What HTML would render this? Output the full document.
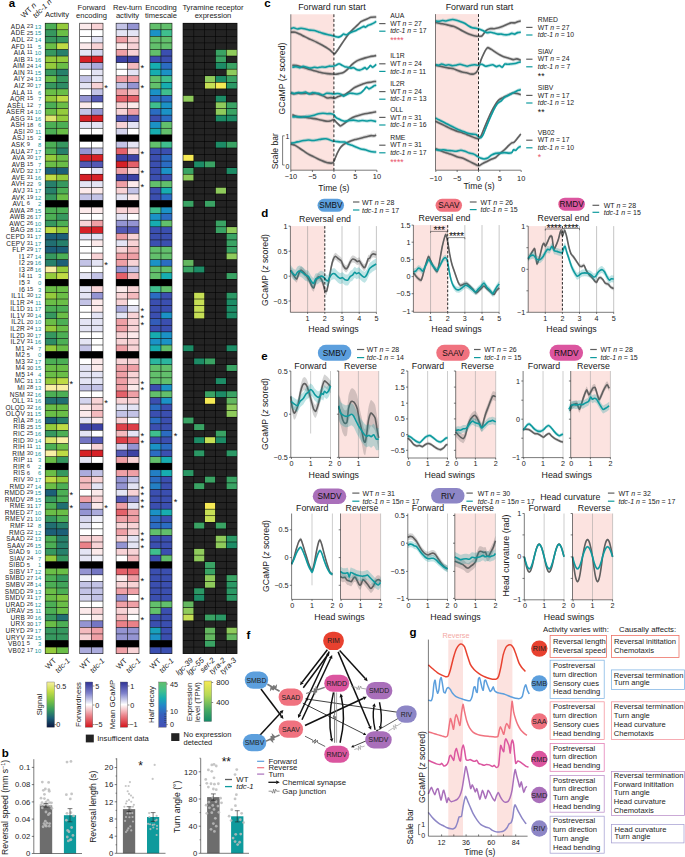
<!DOCTYPE html>
<html lang="en"><head><meta charset="utf-8"><title>Figure</title>
<style>
html,body{margin:0;padding:0;background:#fff;}
body{width:685px;height:857px;overflow:hidden;}
svg{display:block;font-family:"Liberation Sans", sans-serif;fill:#1a1a1a;}
svg text{font-family:"Liberation Sans", sans-serif;}
</style></head>
<body>
<svg width="685" height="857" viewBox="0 0 685 857">
<defs>
<linearGradient id="cbA" x1="0" y1="0" x2="0" y2="1"><stop offset="0" stop-color="#f6f0a0"/><stop offset="0.2" stop-color="#c8dd48"/><stop offset="0.4" stop-color="#7ec442"/><stop offset="0.6" stop-color="#3a9f5d"/><stop offset="0.8" stop-color="#1c5f78"/><stop offset="1" stop-color="#0a1640"/></linearGradient>
<linearGradient id="cbF" x1="0" y1="0" x2="0" y2="1"><stop offset="0" stop-color="#2f3296"/><stop offset="0.25" stop-color="#7f82cc"/><stop offset="0.5" stop-color="#ffffff"/><stop offset="0.75" stop-color="#ea8088"/><stop offset="1" stop-color="#d4161d"/></linearGradient>
<linearGradient id="cbR" x1="0" y1="0" x2="0" y2="1"><stop offset="0" stop-color="#2f3296"/><stop offset="0.25" stop-color="#7f82cc"/><stop offset="0.5" stop-color="#ffffff"/><stop offset="0.75" stop-color="#ea8088"/><stop offset="1" stop-color="#d4161d"/></linearGradient>
<linearGradient id="cbT" x1="0" y1="0" x2="0" y2="1"><stop offset="0" stop-color="#62c06c"/><stop offset="0.2" stop-color="#3fbf8e"/><stop offset="0.36" stop-color="#17adb0"/><stop offset="0.52" stop-color="#2386c8"/><stop offset="0.72" stop-color="#3560bd"/><stop offset="1" stop-color="#4450b4"/></linearGradient>
<linearGradient id="cbY" x1="0" y1="0" x2="0" y2="1"><stop offset="0" stop-color="#f6ea55"/><stop offset="0.35" stop-color="#b5d956"/><stop offset="0.7" stop-color="#4aab62"/><stop offset="1" stop-color="#138a68"/></linearGradient>
</defs>
<rect x="0" y="0" width="685" height="857" fill="#ffffff"/>
<text x="8.8" y="6.5" font-size="11.5" fill="#000" font-weight="bold">a</text>
<text x="24" y="18.6" font-size="7.7" transform="rotate(-45 24 18.6)">WT <tspan font-style="italic">n</tspan></text>
<text x="35.8" y="18.6" font-size="7.6" transform="rotate(-45 35.8 18.6)"><tspan font-style="italic">tdc-1 n</tspan></text>
<text x="57" y="17.3" font-size="7.6" text-anchor="middle">Activity</text>
<text x="91.5" y="9.8" font-size="7.6" text-anchor="middle">Forward</text>
<text x="91.5" y="17.8" font-size="7.6" text-anchor="middle">encoding</text>
<text x="127.5" y="9.8" font-size="7.6" text-anchor="middle">Rev-turn</text>
<text x="127.5" y="17.8" font-size="7.6" text-anchor="middle">activity</text>
<text x="161" y="9.8" font-size="7.6" text-anchor="middle">Encoding</text>
<text x="161" y="17.8" font-size="7.6" text-anchor="middle">timescale</text>
<text x="213" y="9.8" font-size="7.6" text-anchor="middle">Tyramine receptor</text>
<text x="213" y="17.8" font-size="7.6" text-anchor="middle">expression</text>
<rect x="44.9" y="22.9" width="23.7" height="631.03" fill="#141414"/>
<rect x="79.4" y="22.9" width="23.9" height="631.03" fill="#141414"/>
<rect x="115.8" y="22.9" width="23.5" height="631.03" fill="#141414"/>
<rect x="149.6" y="22.9" width="22.7" height="631.03" fill="#141414"/>
<rect x="182.7" y="22.9" width="54.7" height="631.03" fill="#060606"/>
<text x="25.1" y="28.85" font-size="6.5" text-anchor="end" fill="#222" letter-spacing="0.3">ADA</text>
<text x="26.8" y="28.15" font-size="5.8" fill="#333">23</text>
<text x="41.3" y="28.85" font-size="5.8" text-anchor="end" fill="#0e9aa0">13</text>
<rect x="45.5" y="23.5" width="10.95" height="5.97" fill="#4caf55"/>
<rect x="57.05" y="23.5" width="10.95" height="5.97" fill="#94cb3c"/>
<rect x="80" y="23.5" width="11.05" height="5.97" fill="#fceaeb"/>
<rect x="91.65" y="23.5" width="11.05" height="5.97" fill="#f8d3d6"/>
<rect x="116.4" y="23.5" width="10.85" height="5.97" fill="#c3c3e6"/>
<rect x="127.85" y="23.5" width="10.85" height="5.97" fill="#9494d2"/>
<rect x="150.2" y="23.5" width="10.45" height="5.97" fill="#62c06c"/>
<rect x="161.25" y="23.5" width="10.45" height="5.97" fill="#62c06c"/>
<rect x="183.3" y="23.5" width="10.22" height="5.97" fill="#232323"/>
<rect x="194.12" y="23.5" width="10.22" height="5.97" fill="#232323"/>
<rect x="204.94" y="23.5" width="10.22" height="5.97" fill="#232323"/>
<rect x="215.76" y="23.5" width="10.22" height="5.97" fill="#232323"/>
<rect x="226.58" y="23.5" width="10.22" height="5.97" fill="#232323"/>
<text x="25.1" y="35.41" font-size="6.5" text-anchor="end" fill="#222" letter-spacing="0.3">ADE</text>
<text x="26.8" y="34.71" font-size="5.8" fill="#333">25</text>
<text x="41.3" y="35.41" font-size="5.8" text-anchor="end" fill="#0e9aa0">15</text>
<rect x="45.5" y="30.07" width="10.95" height="5.97" fill="#36985f"/>
<rect x="57.05" y="30.07" width="10.95" height="5.97" fill="#6abe47"/>
<rect x="80" y="30.07" width="11.05" height="5.97" fill="#ffffff"/>
<rect x="91.65" y="30.07" width="11.05" height="5.97" fill="#ffffff"/>
<rect x="116.4" y="30.07" width="10.85" height="5.97" fill="#e4e4f4"/>
<rect x="127.85" y="30.07" width="10.85" height="5.97" fill="#e4e4f4"/>
<rect x="150.2" y="30.07" width="10.45" height="5.97" fill="#1b92c6"/>
<rect x="161.25" y="30.07" width="10.45" height="5.97" fill="#3fbf8e"/>
<rect x="183.3" y="30.07" width="10.22" height="5.97" fill="#232323"/>
<rect x="194.12" y="30.07" width="10.22" height="5.97" fill="#232323"/>
<rect x="204.94" y="30.07" width="10.22" height="5.97" fill="#232323"/>
<rect x="215.76" y="30.07" width="10.22" height="5.97" fill="#232323"/>
<rect x="226.58" y="30.07" width="10.22" height="5.97" fill="#232323"/>
<text x="25.1" y="41.98" font-size="6.5" text-anchor="end" fill="#222" letter-spacing="0.3">ADL</text>
<text x="26.8" y="41.28" font-size="5.8" fill="#333">22</text>
<text x="41.3" y="41.98" font-size="5.8" text-anchor="end" fill="#0e9aa0">14</text>
<rect x="45.5" y="36.63" width="10.95" height="5.97" fill="#36985f"/>
<rect x="57.05" y="36.63" width="10.95" height="5.97" fill="#36985f"/>
<rect x="80" y="36.63" width="11.05" height="5.97" fill="#ffffff"/>
<rect x="91.65" y="36.63" width="11.05" height="5.97" fill="#e4e4f4"/>
<rect x="116.4" y="36.63" width="10.85" height="5.97" fill="#efa0a6"/>
<rect x="127.85" y="36.63" width="10.85" height="5.97" fill="#f8d3d6"/>
<rect x="150.2" y="36.63" width="10.45" height="5.97" fill="#62c06c"/>
<rect x="161.25" y="36.63" width="10.45" height="5.97" fill="#62c06c"/>
<rect x="183.3" y="36.63" width="10.22" height="5.97" fill="#232323"/>
<rect x="194.12" y="36.63" width="10.22" height="5.97" fill="#232323"/>
<rect x="204.94" y="36.63" width="10.22" height="5.97" fill="#232323"/>
<rect x="215.76" y="36.63" width="10.22" height="5.97" fill="#232323"/>
<rect x="226.58" y="36.63" width="10.22" height="5.97" fill="#232323"/>
<text x="25.1" y="48.55" font-size="6.5" text-anchor="end" fill="#222" letter-spacing="0.3">AFD</text>
<text x="26.8" y="47.85" font-size="5.8" fill="#333">11</text>
<text x="41.3" y="48.55" font-size="5.8" text-anchor="end" fill="#0e9aa0">5</text>
<rect x="45.5" y="43.2" width="10.95" height="5.97" fill="#6abe47"/>
<rect x="57.05" y="43.2" width="10.95" height="5.97" fill="#bfdb45"/>
<rect x="80" y="43.2" width="11.05" height="5.97" fill="#fceaeb"/>
<rect x="91.65" y="43.2" width="11.05" height="5.97" fill="#f8d3d6"/>
<rect x="116.4" y="43.2" width="10.85" height="5.97" fill="#fceaeb"/>
<rect x="127.85" y="43.2" width="10.85" height="5.97" fill="#f8d3d6"/>
<rect x="150.2" y="43.2" width="10.45" height="5.97" fill="#62c06c"/>
<rect x="161.25" y="43.2" width="10.45" height="5.97" fill="#62c06c"/>
<rect x="183.3" y="43.2" width="10.22" height="5.97" fill="#232323"/>
<rect x="194.12" y="43.2" width="10.22" height="5.97" fill="#232323"/>
<rect x="204.94" y="43.2" width="10.22" height="5.97" fill="#232323"/>
<rect x="215.76" y="43.2" width="10.22" height="5.97" fill="#232323"/>
<rect x="226.58" y="43.2" width="10.22" height="5.97" fill="#232323"/>
<text x="25.1" y="55.12" font-size="6.5" text-anchor="end" fill="#222" letter-spacing="0.3">AIA</text>
<text x="26.8" y="54.42" font-size="5.8" fill="#333">11</text>
<text x="41.3" y="55.12" font-size="5.8" text-anchor="end" fill="#0e9aa0">10</text>
<rect x="45.5" y="49.77" width="10.95" height="5.97" fill="#36985f"/>
<rect x="57.05" y="49.77" width="10.95" height="5.97" fill="#27806b"/>
<rect x="80" y="49.77" width="11.05" height="5.97" fill="#e4e4f4"/>
<rect x="91.65" y="49.77" width="11.05" height="5.97" fill="#d4d4ed"/>
<rect x="116.4" y="49.77" width="10.85" height="5.97" fill="#efa0a6"/>
<rect x="127.85" y="49.77" width="10.85" height="5.97" fill="#f8d3d6"/>
<rect x="150.2" y="49.77" width="10.45" height="5.97" fill="#62c06c"/>
<rect x="161.25" y="49.77" width="10.45" height="5.97" fill="#3b4fb0"/>
<rect x="183.3" y="49.77" width="10.22" height="5.97" fill="#232323"/>
<rect x="194.12" y="49.77" width="10.22" height="5.97" fill="#232323"/>
<rect x="204.94" y="49.77" width="10.22" height="5.97" fill="#232323"/>
<rect x="215.76" y="49.77" width="10.22" height="5.97" fill="#3aa364"/>
<rect x="226.58" y="49.77" width="10.22" height="5.97" fill="#8fcb5c"/>
<text x="25.1" y="61.68" font-size="6.5" text-anchor="end" fill="#222" letter-spacing="0.3">AIB</text>
<text x="26.8" y="60.98" font-size="5.8" fill="#333">31</text>
<text x="41.3" y="61.68" font-size="5.8" text-anchor="end" fill="#0e9aa0">16</text>
<rect x="45.5" y="56.33" width="10.95" height="5.97" fill="#94cb3c"/>
<rect x="57.05" y="56.33" width="10.95" height="5.97" fill="#94cb3c"/>
<rect x="80" y="56.33" width="11.05" height="5.97" fill="#d62027"/>
<rect x="91.65" y="56.33" width="11.05" height="5.97" fill="#d62027"/>
<rect x="116.4" y="56.33" width="10.85" height="5.97" fill="#3d42a4"/>
<rect x="127.85" y="56.33" width="10.85" height="5.97" fill="#3d42a4"/>
<rect x="150.2" y="56.33" width="10.45" height="5.97" fill="#3b4fb0"/>
<rect x="161.25" y="56.33" width="10.45" height="5.97" fill="#3b4fb0"/>
<rect x="183.3" y="56.33" width="10.22" height="5.97" fill="#232323"/>
<rect x="194.12" y="56.33" width="10.22" height="5.97" fill="#232323"/>
<rect x="204.94" y="56.33" width="10.22" height="5.97" fill="#232323"/>
<rect x="215.76" y="56.33" width="10.22" height="5.97" fill="#3aa364"/>
<rect x="226.58" y="56.33" width="10.22" height="5.97" fill="#232323"/>
<text x="25.1" y="68.25" font-size="6.5" text-anchor="end" fill="#222" letter-spacing="0.3">AIM</text>
<text x="26.8" y="67.55" font-size="5.8" fill="#333">24</text>
<text x="41.3" y="68.25" font-size="5.8" text-anchor="end" fill="#0e9aa0">14</text>
<rect x="45.5" y="62.9" width="10.95" height="5.97" fill="#94cb3c"/>
<rect x="57.05" y="62.9" width="10.95" height="5.97" fill="#6abe47"/>
<rect x="80" y="62.9" width="11.05" height="5.97" fill="#c3c3e6"/>
<rect x="91.65" y="62.9" width="11.05" height="5.97" fill="#ababdc"/>
<rect x="116.4" y="62.9" width="10.85" height="5.97" fill="#ffffff"/>
<rect x="127.85" y="62.9" width="10.85" height="5.97" fill="#f4babe"/>
<rect x="150.2" y="62.9" width="10.45" height="5.97" fill="#17adb0"/>
<rect x="161.25" y="62.9" width="10.45" height="5.97" fill="#2b6cc2"/>
<rect x="183.3" y="62.9" width="10.22" height="5.97" fill="#232323"/>
<rect x="194.12" y="62.9" width="10.22" height="5.97" fill="#232323"/>
<rect x="204.94" y="62.9" width="10.22" height="5.97" fill="#232323"/>
<rect x="215.76" y="62.9" width="10.22" height="5.97" fill="#1d8c66"/>
<rect x="226.58" y="62.9" width="10.22" height="5.97" fill="#3aa364"/>
<text x="25.1" y="74.82" font-size="6.5" text-anchor="end" fill="#222" letter-spacing="0.3">AIN</text>
<text x="26.8" y="74.12" font-size="5.8" fill="#333">31</text>
<text x="41.3" y="74.82" font-size="5.8" text-anchor="end" fill="#0e9aa0">15</text>
<rect x="45.5" y="69.47" width="10.95" height="5.97" fill="#36985f"/>
<rect x="57.05" y="69.47" width="10.95" height="5.97" fill="#27806b"/>
<rect x="80" y="69.47" width="11.05" height="5.97" fill="#ffffff"/>
<rect x="91.65" y="69.47" width="11.05" height="5.97" fill="#e4e4f4"/>
<rect x="116.4" y="69.47" width="10.85" height="5.97" fill="#ffffff"/>
<rect x="127.85" y="69.47" width="10.85" height="5.97" fill="#e4e4f4"/>
<rect x="150.2" y="69.47" width="10.45" height="5.97" fill="#17adb0"/>
<rect x="161.25" y="69.47" width="10.45" height="5.97" fill="#1b92c6"/>
<rect x="183.3" y="69.47" width="10.22" height="5.97" fill="#232323"/>
<rect x="194.12" y="69.47" width="10.22" height="5.97" fill="#232323"/>
<rect x="204.94" y="69.47" width="10.22" height="5.97" fill="#232323"/>
<rect x="215.76" y="69.47" width="10.22" height="5.97" fill="#232323"/>
<rect x="226.58" y="69.47" width="10.22" height="5.97" fill="#8fcb5c"/>
<text x="25.1" y="81.38" font-size="6.5" text-anchor="end" fill="#222" letter-spacing="0.3">AIY</text>
<text x="26.8" y="80.68" font-size="5.8" fill="#333">24</text>
<text x="41.3" y="81.38" font-size="5.8" text-anchor="end" fill="#0e9aa0">13</text>
<rect x="45.5" y="76.04" width="10.95" height="5.97" fill="#6abe47"/>
<rect x="57.05" y="76.04" width="10.95" height="5.97" fill="#36985f"/>
<rect x="80" y="76.04" width="11.05" height="5.97" fill="#c3c3e6"/>
<rect x="91.65" y="76.04" width="11.05" height="5.97" fill="#e4e4f4"/>
<rect x="116.4" y="76.04" width="10.85" height="5.97" fill="#efa0a6"/>
<rect x="127.85" y="76.04" width="10.85" height="5.97" fill="#efa0a6"/>
<rect x="150.2" y="76.04" width="10.45" height="5.97" fill="#62c06c"/>
<rect x="161.25" y="76.04" width="10.45" height="5.97" fill="#3fbf8e"/>
<rect x="183.3" y="76.04" width="10.22" height="5.97" fill="#232323"/>
<rect x="194.12" y="76.04" width="10.22" height="5.97" fill="#232323"/>
<rect x="204.94" y="76.04" width="10.22" height="5.97" fill="#8fcb5c"/>
<rect x="215.76" y="76.04" width="10.22" height="5.97" fill="#1d8c66"/>
<rect x="226.58" y="76.04" width="10.22" height="5.97" fill="#3aa364"/>
<text x="25.1" y="87.95" font-size="6.5" text-anchor="end" fill="#222" letter-spacing="0.3">AIZ</text>
<text x="26.8" y="87.25" font-size="5.8" fill="#333">30</text>
<text x="41.3" y="87.95" font-size="5.8" text-anchor="end" fill="#0e9aa0">17</text>
<rect x="45.5" y="82.6" width="10.95" height="5.97" fill="#36985f"/>
<rect x="57.05" y="82.6" width="10.95" height="5.97" fill="#2e8c65"/>
<rect x="80" y="82.6" width="11.05" height="5.97" fill="#e4e4f4"/>
<rect x="91.65" y="82.6" width="11.05" height="5.97" fill="#f8d3d6"/>
<rect x="116.4" y="82.6" width="10.85" height="5.97" fill="#c3c3e6"/>
<rect x="127.85" y="82.6" width="10.85" height="5.97" fill="#9494d2"/>
<rect x="150.2" y="82.6" width="10.45" height="5.97" fill="#62c06c"/>
<rect x="161.25" y="82.6" width="10.45" height="5.97" fill="#17adb0"/>
<rect x="183.3" y="82.6" width="10.22" height="5.97" fill="#232323"/>
<rect x="194.12" y="82.6" width="10.22" height="5.97" fill="#232323"/>
<rect x="204.94" y="82.6" width="10.22" height="5.97" fill="#c6df55"/>
<rect x="215.76" y="82.6" width="10.22" height="5.97" fill="#f6ea55"/>
<rect x="226.58" y="82.6" width="10.22" height="5.97" fill="#2b9865"/>
<text x="25.1" y="94.52" font-size="6.5" text-anchor="end" fill="#222" letter-spacing="0.3">ALA</text>
<text x="26.8" y="93.82" font-size="5.8" fill="#333">11</text>
<text x="41.3" y="94.52" font-size="5.8" text-anchor="end" fill="#0e9aa0">6</text>
<rect x="45.5" y="89.17" width="10.95" height="5.97" fill="#6abe47"/>
<rect x="57.05" y="89.17" width="10.95" height="5.97" fill="#6abe47"/>
<rect x="80" y="89.17" width="11.05" height="5.97" fill="#ffffff"/>
<rect x="91.65" y="89.17" width="11.05" height="5.97" fill="#c3c3e6"/>
<rect x="116.4" y="89.17" width="10.85" height="5.97" fill="#efa0a6"/>
<rect x="127.85" y="89.17" width="10.85" height="5.97" fill="#f4babe"/>
<rect x="150.2" y="89.17" width="10.45" height="5.97" fill="#1b92c6"/>
<rect x="161.25" y="89.17" width="10.45" height="5.97" fill="#3fbf8e"/>
<rect x="183.3" y="89.17" width="10.22" height="5.97" fill="#232323"/>
<rect x="194.12" y="89.17" width="10.22" height="5.97" fill="#232323"/>
<rect x="204.94" y="89.17" width="10.22" height="5.97" fill="#232323"/>
<rect x="215.76" y="89.17" width="10.22" height="5.97" fill="#232323"/>
<rect x="226.58" y="89.17" width="10.22" height="5.97" fill="#232323"/>
<text x="25.1" y="101.08" font-size="6.5" text-anchor="end" fill="#222" letter-spacing="0.3">AQR</text>
<text x="26.8" y="100.38" font-size="5.8" fill="#333">15</text>
<text x="41.3" y="101.08" font-size="5.8" text-anchor="end" fill="#0e9aa0">7</text>
<rect x="45.5" y="95.74" width="10.95" height="5.97" fill="#94cb3c"/>
<rect x="57.05" y="95.74" width="10.95" height="5.97" fill="#bfdb45"/>
<rect x="80" y="95.74" width="11.05" height="5.97" fill="#9494d2"/>
<rect x="91.65" y="95.74" width="11.05" height="5.97" fill="#5458b4"/>
<rect x="116.4" y="95.74" width="10.85" height="5.97" fill="#e4616a"/>
<rect x="127.85" y="95.74" width="10.85" height="5.97" fill="#e4616a"/>
<rect x="150.2" y="95.74" width="10.45" height="5.97" fill="#2b6cc2"/>
<rect x="161.25" y="95.74" width="10.45" height="5.97" fill="#2b6cc2"/>
<rect x="183.3" y="95.74" width="10.22" height="5.97" fill="#8fcb5c"/>
<rect x="194.12" y="95.74" width="10.22" height="5.97" fill="#232323"/>
<rect x="204.94" y="95.74" width="10.22" height="5.97" fill="#232323"/>
<rect x="215.76" y="95.74" width="10.22" height="5.97" fill="#1d8c66"/>
<rect x="226.58" y="95.74" width="10.22" height="5.97" fill="#232323"/>
<text x="25.1" y="107.65" font-size="6.5" text-anchor="end" fill="#222" letter-spacing="0.3">ASEL</text>
<text x="26.8" y="106.95" font-size="5.8" fill="#333">12</text>
<text x="41.3" y="107.65" font-size="5.8" text-anchor="end" fill="#0e9aa0">7</text>
<rect x="45.5" y="102.3" width="10.95" height="5.97" fill="#4caf55"/>
<rect x="57.05" y="102.3" width="10.95" height="5.97" fill="#6abe47"/>
<rect x="80" y="102.3" width="11.05" height="5.97" fill="#fceaeb"/>
<rect x="91.65" y="102.3" width="11.05" height="5.97" fill="#ffffff"/>
<rect x="116.4" y="102.3" width="10.85" height="5.97" fill="#f8d3d6"/>
<rect x="127.85" y="102.3" width="10.85" height="5.97" fill="#fceaeb"/>
<rect x="150.2" y="102.3" width="10.45" height="5.97" fill="#3fbf8e"/>
<rect x="161.25" y="102.3" width="10.45" height="5.97" fill="#1b92c6"/>
<rect x="183.3" y="102.3" width="10.22" height="5.97" fill="#232323"/>
<rect x="194.12" y="102.3" width="10.22" height="5.97" fill="#232323"/>
<rect x="204.94" y="102.3" width="10.22" height="5.97" fill="#232323"/>
<rect x="215.76" y="102.3" width="10.22" height="5.97" fill="#8fcb5c"/>
<rect x="226.58" y="102.3" width="10.22" height="5.97" fill="#3aa364"/>
<text x="25.1" y="114.22" font-size="6.5" text-anchor="end" fill="#222" letter-spacing="0.3">ASER</text>
<text x="26.8" y="113.52" font-size="5.8" fill="#333">14</text>
<text x="41.3" y="114.22" font-size="5.8" text-anchor="end" fill="#0e9aa0">10</text>
<rect x="45.5" y="108.87" width="10.95" height="5.97" fill="#6abe47"/>
<rect x="57.05" y="108.87" width="10.95" height="5.97" fill="#94cb3c"/>
<rect x="80" y="108.87" width="11.05" height="5.97" fill="#c3c3e6"/>
<rect x="91.65" y="108.87" width="11.05" height="5.97" fill="#9494d2"/>
<rect x="116.4" y="108.87" width="10.85" height="5.97" fill="#f8d3d6"/>
<rect x="127.85" y="108.87" width="10.85" height="5.97" fill="#efa0a6"/>
<rect x="150.2" y="108.87" width="10.45" height="5.97" fill="#2b6cc2"/>
<rect x="161.25" y="108.87" width="10.45" height="5.97" fill="#1b92c6"/>
<rect x="183.3" y="108.87" width="10.22" height="5.97" fill="#232323"/>
<rect x="194.12" y="108.87" width="10.22" height="5.97" fill="#232323"/>
<rect x="204.94" y="108.87" width="10.22" height="5.97" fill="#232323"/>
<rect x="215.76" y="108.87" width="10.22" height="5.97" fill="#8fcb5c"/>
<rect x="226.58" y="108.87" width="10.22" height="5.97" fill="#3aa364"/>
<text x="25.1" y="120.79" font-size="6.5" text-anchor="end" fill="#222" letter-spacing="0.3">ASG</text>
<text x="26.8" y="120.09" font-size="5.8" fill="#333">31</text>
<text x="41.3" y="120.79" font-size="5.8" text-anchor="end" fill="#0e9aa0">16</text>
<rect x="45.5" y="115.44" width="10.95" height="5.97" fill="#dde66f"/>
<rect x="57.05" y="115.44" width="10.95" height="5.97" fill="#94cb3c"/>
<rect x="80" y="115.44" width="11.05" height="5.97" fill="#d62027"/>
<rect x="91.65" y="115.44" width="11.05" height="5.97" fill="#d62027"/>
<rect x="116.4" y="115.44" width="10.85" height="5.97" fill="#5458b4"/>
<rect x="127.85" y="115.44" width="10.85" height="5.97" fill="#5458b4"/>
<rect x="150.2" y="115.44" width="10.45" height="5.97" fill="#3b4fb0"/>
<rect x="161.25" y="115.44" width="10.45" height="5.97" fill="#2b6cc2"/>
<rect x="183.3" y="115.44" width="10.22" height="5.97" fill="#232323"/>
<rect x="194.12" y="115.44" width="10.22" height="5.97" fill="#232323"/>
<rect x="204.94" y="115.44" width="10.22" height="5.97" fill="#232323"/>
<rect x="215.76" y="115.44" width="10.22" height="5.97" fill="#1d8c66"/>
<rect x="226.58" y="115.44" width="10.22" height="5.97" fill="#1d8c66"/>
<text x="25.1" y="127.35" font-size="6.5" text-anchor="end" fill="#222" letter-spacing="0.3">ASH</text>
<text x="26.8" y="126.65" font-size="5.8" fill="#333">18</text>
<text x="41.3" y="127.35" font-size="5.8" text-anchor="end" fill="#0e9aa0">6</text>
<rect x="45.5" y="122" width="10.95" height="5.97" fill="#4caf55"/>
<rect x="57.05" y="122" width="10.95" height="5.97" fill="#4caf55"/>
<rect x="80" y="122" width="11.05" height="5.97" fill="#e4e4f4"/>
<rect x="91.65" y="122" width="11.05" height="5.97" fill="#e4e4f4"/>
<rect x="116.4" y="122" width="10.85" height="5.97" fill="#f8d3d6"/>
<rect x="127.85" y="122" width="10.85" height="5.97" fill="#e4e4f4"/>
<rect x="150.2" y="122" width="10.45" height="5.97" fill="#1b92c6"/>
<rect x="161.25" y="122" width="10.45" height="5.97" fill="#62c06c"/>
<rect x="183.3" y="122" width="10.22" height="5.97" fill="#232323"/>
<rect x="194.12" y="122" width="10.22" height="5.97" fill="#232323"/>
<rect x="204.94" y="122" width="10.22" height="5.97" fill="#232323"/>
<rect x="215.76" y="122" width="10.22" height="5.97" fill="#232323"/>
<rect x="226.58" y="122" width="10.22" height="5.97" fill="#232323"/>
<text x="25.1" y="133.92" font-size="6.5" text-anchor="end" fill="#222" letter-spacing="0.3">ASI</text>
<text x="26.8" y="133.22" font-size="5.8" fill="#333">20</text>
<text x="41.3" y="133.92" font-size="5.8" text-anchor="end" fill="#0e9aa0">11</text>
<rect x="45.5" y="128.57" width="10.95" height="5.97" fill="#4caf55"/>
<rect x="57.05" y="128.57" width="10.95" height="5.97" fill="#6abe47"/>
<rect x="80" y="128.57" width="11.05" height="5.97" fill="#ffffff"/>
<rect x="91.65" y="128.57" width="11.05" height="5.97" fill="#ffffff"/>
<rect x="116.4" y="128.57" width="10.85" height="5.97" fill="#d4d4ed"/>
<rect x="127.85" y="128.57" width="10.85" height="5.97" fill="#ffffff"/>
<rect x="150.2" y="128.57" width="10.45" height="5.97" fill="#17adb0"/>
<rect x="161.25" y="128.57" width="10.45" height="5.97" fill="#62c06c"/>
<rect x="183.3" y="128.57" width="10.22" height="5.97" fill="#232323"/>
<rect x="194.12" y="128.57" width="10.22" height="5.97" fill="#232323"/>
<rect x="204.94" y="128.57" width="10.22" height="5.97" fill="#232323"/>
<rect x="215.76" y="128.57" width="10.22" height="5.97" fill="#232323"/>
<rect x="226.58" y="128.57" width="10.22" height="5.97" fill="#232323"/>
<text x="25.1" y="140.49" font-size="6.5" text-anchor="end" fill="#222" letter-spacing="0.3">ASJ</text>
<text x="26.8" y="139.79" font-size="5.8" fill="#333">15</text>
<text x="41.3" y="140.49" font-size="5.8" text-anchor="end" fill="#0e9aa0">2</text>
<rect x="45.2" y="134.84" width="23.1" height="6.57" fill="#000"/>
<rect x="79.7" y="134.84" width="23.3" height="6.57" fill="#000"/>
<rect x="116.1" y="134.84" width="22.9" height="6.57" fill="#000"/>
<rect x="149.9" y="134.84" width="22.1" height="6.57" fill="#000"/>
<rect x="183.3" y="135.14" width="10.22" height="5.97" fill="#232323"/>
<rect x="194.12" y="135.14" width="10.22" height="5.97" fill="#232323"/>
<rect x="204.94" y="135.14" width="10.22" height="5.97" fill="#232323"/>
<rect x="215.76" y="135.14" width="10.22" height="5.97" fill="#232323"/>
<rect x="226.58" y="135.14" width="10.22" height="5.97" fill="#232323"/>
<text x="25.1" y="147.05" font-size="6.5" text-anchor="end" fill="#222" letter-spacing="0.3">ASK</text>
<text x="26.8" y="146.35" font-size="5.8" fill="#333">9</text>
<text x="41.3" y="147.05" font-size="5.8" text-anchor="end" fill="#0e9aa0">8</text>
<rect x="45.5" y="141.71" width="10.95" height="5.97" fill="#4caf55"/>
<rect x="57.05" y="141.71" width="10.95" height="5.97" fill="#36985f"/>
<rect x="80" y="141.71" width="11.05" height="5.97" fill="#ffffff"/>
<rect x="91.65" y="141.71" width="11.05" height="5.97" fill="#ffffff"/>
<rect x="116.4" y="141.71" width="10.85" height="5.97" fill="#c3c3e6"/>
<rect x="127.85" y="141.71" width="10.85" height="5.97" fill="#e4e4f4"/>
<rect x="150.2" y="141.71" width="10.45" height="5.97" fill="#62c06c"/>
<rect x="161.25" y="141.71" width="10.45" height="5.97" fill="#3fbf8e"/>
<rect x="183.3" y="141.71" width="10.22" height="5.97" fill="#232323"/>
<rect x="194.12" y="141.71" width="10.22" height="5.97" fill="#232323"/>
<rect x="204.94" y="141.71" width="10.22" height="5.97" fill="#232323"/>
<rect x="215.76" y="141.71" width="10.22" height="5.97" fill="#1d8c66"/>
<rect x="226.58" y="141.71" width="10.22" height="5.97" fill="#3aa364"/>
<text x="25.1" y="153.62" font-size="6.5" text-anchor="end" fill="#222" letter-spacing="0.3">AUA</text>
<text x="26.8" y="152.92" font-size="5.8" fill="#333">27</text>
<text x="41.3" y="153.62" font-size="5.8" text-anchor="end" fill="#0e9aa0">17</text>
<rect x="45.5" y="148.27" width="10.95" height="5.97" fill="#4caf55"/>
<rect x="57.05" y="148.27" width="10.95" height="5.97" fill="#27806b"/>
<rect x="80" y="148.27" width="11.05" height="5.97" fill="#9494d2"/>
<rect x="91.65" y="148.27" width="11.05" height="5.97" fill="#c3c3e6"/>
<rect x="116.4" y="148.27" width="10.85" height="5.97" fill="#e4616a"/>
<rect x="127.85" y="148.27" width="10.85" height="5.97" fill="#f8d3d6"/>
<rect x="150.2" y="148.27" width="10.45" height="5.97" fill="#3b4fb0"/>
<rect x="161.25" y="148.27" width="10.45" height="5.97" fill="#3b4fb0"/>
<rect x="183.3" y="148.27" width="10.22" height="5.97" fill="#232323"/>
<rect x="194.12" y="148.27" width="10.22" height="5.97" fill="#232323"/>
<rect x="204.94" y="148.27" width="10.22" height="5.97" fill="#232323"/>
<rect x="215.76" y="148.27" width="10.22" height="5.97" fill="#232323"/>
<rect x="226.58" y="148.27" width="10.22" height="5.97" fill="#232323"/>
<text x="25.1" y="160.19" font-size="6.5" text-anchor="end" fill="#222" letter-spacing="0.3">AVA</text>
<text x="26.8" y="159.49" font-size="5.8" fill="#333">30</text>
<text x="41.3" y="160.19" font-size="5.8" text-anchor="end" fill="#0e9aa0">17</text>
<rect x="45.5" y="154.84" width="10.95" height="5.97" fill="#94cb3c"/>
<rect x="57.05" y="154.84" width="10.95" height="5.97" fill="#6abe47"/>
<rect x="80" y="154.84" width="11.05" height="5.97" fill="#d62027"/>
<rect x="91.65" y="154.84" width="11.05" height="5.97" fill="#d62027"/>
<rect x="116.4" y="154.84" width="10.85" height="5.97" fill="#3d42a4"/>
<rect x="127.85" y="154.84" width="10.85" height="5.97" fill="#3d42a4"/>
<rect x="150.2" y="154.84" width="10.45" height="5.97" fill="#3b4fb0"/>
<rect x="161.25" y="154.84" width="10.45" height="5.97" fill="#2b6cc2"/>
<rect x="183.3" y="154.84" width="10.22" height="5.97" fill="#f6ea55"/>
<rect x="194.12" y="154.84" width="10.22" height="5.97" fill="#232323"/>
<rect x="204.94" y="154.84" width="10.22" height="5.97" fill="#232323"/>
<rect x="215.76" y="154.84" width="10.22" height="5.97" fill="#232323"/>
<rect x="226.58" y="154.84" width="10.22" height="5.97" fill="#232323"/>
<text x="25.1" y="166.75" font-size="6.5" text-anchor="end" fill="#222" letter-spacing="0.3">AVB</text>
<text x="26.8" y="166.05" font-size="5.8" fill="#333">15</text>
<text x="41.3" y="166.75" font-size="5.8" text-anchor="end" fill="#0e9aa0">7</text>
<rect x="45.5" y="161.41" width="10.95" height="5.97" fill="#6abe47"/>
<rect x="57.05" y="161.41" width="10.95" height="5.97" fill="#6abe47"/>
<rect x="80" y="161.41" width="11.05" height="5.97" fill="#5458b4"/>
<rect x="91.65" y="161.41" width="11.05" height="5.97" fill="#5458b4"/>
<rect x="116.4" y="161.41" width="10.85" height="5.97" fill="#d62027"/>
<rect x="127.85" y="161.41" width="10.85" height="5.97" fill="#e4616a"/>
<rect x="150.2" y="161.41" width="10.45" height="5.97" fill="#3b4fb0"/>
<rect x="161.25" y="161.41" width="10.45" height="5.97" fill="#2b6cc2"/>
<rect x="183.3" y="161.41" width="10.22" height="5.97" fill="#232323"/>
<rect x="194.12" y="161.41" width="10.22" height="5.97" fill="#1d8c66"/>
<rect x="204.94" y="161.41" width="10.22" height="5.97" fill="#3aa364"/>
<rect x="215.76" y="161.41" width="10.22" height="5.97" fill="#232323"/>
<rect x="226.58" y="161.41" width="10.22" height="5.97" fill="#232323"/>
<text x="25.1" y="173.32" font-size="6.5" text-anchor="end" fill="#222" letter-spacing="0.3">AVD</text>
<text x="26.8" y="172.62" font-size="5.8" fill="#333">32</text>
<text x="41.3" y="173.32" font-size="5.8" text-anchor="end" fill="#0e9aa0">17</text>
<rect x="45.5" y="167.97" width="10.95" height="5.97" fill="#1c5f78"/>
<rect x="57.05" y="167.97" width="10.95" height="5.97" fill="#1c5f78"/>
<rect x="80" y="167.97" width="11.05" height="5.97" fill="#ffffff"/>
<rect x="91.65" y="167.97" width="11.05" height="5.97" fill="#e4e4f4"/>
<rect x="116.4" y="167.97" width="10.85" height="5.97" fill="#efa0a6"/>
<rect x="127.85" y="167.97" width="10.85" height="5.97" fill="#f8d3d6"/>
<rect x="150.2" y="167.97" width="10.45" height="5.97" fill="#3b4fb0"/>
<rect x="161.25" y="167.97" width="10.45" height="5.97" fill="#1b92c6"/>
<rect x="183.3" y="167.97" width="10.22" height="5.97" fill="#3aa364"/>
<rect x="194.12" y="167.97" width="10.22" height="5.97" fill="#232323"/>
<rect x="204.94" y="167.97" width="10.22" height="5.97" fill="#232323"/>
<rect x="215.76" y="167.97" width="10.22" height="5.97" fill="#232323"/>
<rect x="226.58" y="167.97" width="10.22" height="5.97" fill="#1d8c66"/>
<text x="25.1" y="179.89" font-size="6.5" text-anchor="end" fill="#222" letter-spacing="0.3">AVE</text>
<text x="26.8" y="179.19" font-size="5.8" fill="#333">31</text>
<text x="41.3" y="179.89" font-size="5.8" text-anchor="end" fill="#0e9aa0">16</text>
<rect x="45.5" y="174.54" width="10.95" height="5.97" fill="#bfdb45"/>
<rect x="57.05" y="174.54" width="10.95" height="5.97" fill="#94cb3c"/>
<rect x="80" y="174.54" width="11.05" height="5.97" fill="#d62027"/>
<rect x="91.65" y="174.54" width="11.05" height="5.97" fill="#d62027"/>
<rect x="116.4" y="174.54" width="10.85" height="5.97" fill="#3d42a4"/>
<rect x="127.85" y="174.54" width="10.85" height="5.97" fill="#3d42a4"/>
<rect x="150.2" y="174.54" width="10.45" height="5.97" fill="#3b4fb0"/>
<rect x="161.25" y="174.54" width="10.45" height="5.97" fill="#3b4fb0"/>
<rect x="183.3" y="174.54" width="10.22" height="5.97" fill="#8fcb5c"/>
<rect x="194.12" y="174.54" width="10.22" height="5.97" fill="#232323"/>
<rect x="204.94" y="174.54" width="10.22" height="5.97" fill="#232323"/>
<rect x="215.76" y="174.54" width="10.22" height="5.97" fill="#232323"/>
<rect x="226.58" y="174.54" width="10.22" height="5.97" fill="#232323"/>
<text x="25.1" y="186.46" font-size="6.5" text-anchor="end" fill="#222" letter-spacing="0.3">AVH</text>
<text x="26.8" y="185.76" font-size="5.8" fill="#333">22</text>
<text x="41.3" y="186.46" font-size="5.8" text-anchor="end" fill="#0e9aa0">9</text>
<rect x="45.5" y="181.11" width="10.95" height="5.97" fill="#27806b"/>
<rect x="57.05" y="181.11" width="10.95" height="5.97" fill="#36985f"/>
<rect x="80" y="181.11" width="11.05" height="5.97" fill="#e4e4f4"/>
<rect x="91.65" y="181.11" width="11.05" height="5.97" fill="#e4e4f4"/>
<rect x="116.4" y="181.11" width="10.85" height="5.97" fill="#efa0a6"/>
<rect x="127.85" y="181.11" width="10.85" height="5.97" fill="#fceaeb"/>
<rect x="150.2" y="181.11" width="10.45" height="5.97" fill="#62c06c"/>
<rect x="161.25" y="181.11" width="10.45" height="5.97" fill="#62c06c"/>
<rect x="183.3" y="181.11" width="10.22" height="5.97" fill="#232323"/>
<rect x="194.12" y="181.11" width="10.22" height="5.97" fill="#232323"/>
<rect x="204.94" y="181.11" width="10.22" height="5.97" fill="#232323"/>
<rect x="215.76" y="181.11" width="10.22" height="5.97" fill="#232323"/>
<rect x="226.58" y="181.11" width="10.22" height="5.97" fill="#232323"/>
<text x="25.1" y="193.02" font-size="6.5" text-anchor="end" fill="#222" letter-spacing="0.3">AVJ</text>
<text x="26.8" y="192.32" font-size="5.8" fill="#333">31</text>
<text x="41.3" y="193.02" font-size="5.8" text-anchor="end" fill="#0e9aa0">17</text>
<rect x="45.5" y="187.68" width="10.95" height="5.97" fill="#27806b"/>
<rect x="57.05" y="187.68" width="10.95" height="5.97" fill="#4caf55"/>
<rect x="80" y="187.68" width="11.05" height="5.97" fill="#fceaeb"/>
<rect x="91.65" y="187.68" width="11.05" height="5.97" fill="#fceaeb"/>
<rect x="116.4" y="187.68" width="10.85" height="5.97" fill="#f8d3d6"/>
<rect x="127.85" y="187.68" width="10.85" height="5.97" fill="#c3c3e6"/>
<rect x="150.2" y="187.68" width="10.45" height="5.97" fill="#3b4fb0"/>
<rect x="161.25" y="187.68" width="10.45" height="5.97" fill="#17adb0"/>
<rect x="183.3" y="187.68" width="10.22" height="5.97" fill="#232323"/>
<rect x="194.12" y="187.68" width="10.22" height="5.97" fill="#232323"/>
<rect x="204.94" y="187.68" width="10.22" height="5.97" fill="#232323"/>
<rect x="215.76" y="187.68" width="10.22" height="5.97" fill="#8fcb5c"/>
<rect x="226.58" y="187.68" width="10.22" height="5.97" fill="#232323"/>
<text x="25.1" y="199.59" font-size="6.5" text-anchor="end" fill="#222" letter-spacing="0.3">AVK</text>
<text x="26.8" y="198.89" font-size="5.8" fill="#333">19</text>
<text x="41.3" y="199.59" font-size="5.8" text-anchor="end" fill="#0e9aa0">12</text>
<rect x="45.5" y="194.24" width="10.95" height="5.97" fill="#36985f"/>
<rect x="57.05" y="194.24" width="10.95" height="5.97" fill="#6abe47"/>
<rect x="80" y="194.24" width="11.05" height="5.97" fill="#c3c3e6"/>
<rect x="91.65" y="194.24" width="11.05" height="5.97" fill="#c3c3e6"/>
<rect x="116.4" y="194.24" width="10.85" height="5.97" fill="#e4e4f4"/>
<rect x="127.85" y="194.24" width="10.85" height="5.97" fill="#fceaeb"/>
<rect x="150.2" y="194.24" width="10.45" height="5.97" fill="#3b4fb0"/>
<rect x="161.25" y="194.24" width="10.45" height="5.97" fill="#2b6cc2"/>
<rect x="183.3" y="194.24" width="10.22" height="5.97" fill="#232323"/>
<rect x="194.12" y="194.24" width="10.22" height="5.97" fill="#232323"/>
<rect x="204.94" y="194.24" width="10.22" height="5.97" fill="#232323"/>
<rect x="215.76" y="194.24" width="10.22" height="5.97" fill="#232323"/>
<rect x="226.58" y="194.24" width="10.22" height="5.97" fill="#232323"/>
<text x="25.1" y="206.16" font-size="6.5" text-anchor="end" fill="#222" letter-spacing="0.3">AVL</text>
<text x="26.8" y="205.46" font-size="5.8" fill="#333">6</text>
<text x="41.3" y="206.16" font-size="5.8" text-anchor="end" fill="#0e9aa0">2</text>
<rect x="45.2" y="200.51" width="23.1" height="6.57" fill="#000"/>
<rect x="79.7" y="200.51" width="23.3" height="6.57" fill="#000"/>
<rect x="116.1" y="200.51" width="22.9" height="6.57" fill="#000"/>
<rect x="149.9" y="200.51" width="22.1" height="6.57" fill="#000"/>
<rect x="183.3" y="200.81" width="10.22" height="5.97" fill="#3aa364"/>
<rect x="194.12" y="200.81" width="10.22" height="5.97" fill="#232323"/>
<rect x="204.94" y="200.81" width="10.22" height="5.97" fill="#3aa364"/>
<rect x="215.76" y="200.81" width="10.22" height="5.97" fill="#232323"/>
<rect x="226.58" y="200.81" width="10.22" height="5.97" fill="#232323"/>
<text x="25.1" y="212.72" font-size="6.5" text-anchor="end" fill="#222" letter-spacing="0.3">AWA</text>
<text x="26.8" y="212.02" font-size="5.8" fill="#333">28</text>
<text x="41.3" y="212.72" font-size="5.8" text-anchor="end" fill="#0e9aa0">15</text>
<rect x="45.5" y="207.38" width="10.95" height="5.97" fill="#4caf55"/>
<rect x="57.05" y="207.38" width="10.95" height="5.97" fill="#4caf55"/>
<rect x="80" y="207.38" width="11.05" height="5.97" fill="#fceaeb"/>
<rect x="91.65" y="207.38" width="11.05" height="5.97" fill="#fceaeb"/>
<rect x="116.4" y="207.38" width="10.85" height="5.97" fill="#f8d3d6"/>
<rect x="127.85" y="207.38" width="10.85" height="5.97" fill="#f8d3d6"/>
<rect x="150.2" y="207.38" width="10.45" height="5.97" fill="#3fbf8e"/>
<rect x="161.25" y="207.38" width="10.45" height="5.97" fill="#1b92c6"/>
<rect x="183.3" y="207.38" width="10.22" height="5.97" fill="#232323"/>
<rect x="194.12" y="207.38" width="10.22" height="5.97" fill="#232323"/>
<rect x="204.94" y="207.38" width="10.22" height="5.97" fill="#232323"/>
<rect x="215.76" y="207.38" width="10.22" height="5.97" fill="#232323"/>
<rect x="226.58" y="207.38" width="10.22" height="5.97" fill="#232323"/>
<text x="25.1" y="219.29" font-size="6.5" text-anchor="end" fill="#222" letter-spacing="0.3">AWB</text>
<text x="26.8" y="218.59" font-size="5.8" fill="#333">26</text>
<text x="41.3" y="219.29" font-size="5.8" text-anchor="end" fill="#0e9aa0">17</text>
<rect x="45.5" y="213.94" width="10.95" height="5.97" fill="#4caf55"/>
<rect x="57.05" y="213.94" width="10.95" height="5.97" fill="#36985f"/>
<rect x="80" y="213.94" width="11.05" height="5.97" fill="#ffffff"/>
<rect x="91.65" y="213.94" width="11.05" height="5.97" fill="#ffffff"/>
<rect x="116.4" y="213.94" width="10.85" height="5.97" fill="#e4e4f4"/>
<rect x="127.85" y="213.94" width="10.85" height="5.97" fill="#ffffff"/>
<rect x="150.2" y="213.94" width="10.45" height="5.97" fill="#1b92c6"/>
<rect x="161.25" y="213.94" width="10.45" height="5.97" fill="#2b6cc2"/>
<rect x="183.3" y="213.94" width="10.22" height="5.97" fill="#232323"/>
<rect x="194.12" y="213.94" width="10.22" height="5.97" fill="#232323"/>
<rect x="204.94" y="213.94" width="10.22" height="5.97" fill="#232323"/>
<rect x="215.76" y="213.94" width="10.22" height="5.97" fill="#232323"/>
<rect x="226.58" y="213.94" width="10.22" height="5.97" fill="#232323"/>
<text x="25.1" y="225.86" font-size="6.5" text-anchor="end" fill="#222" letter-spacing="0.3">AWC</text>
<text x="26.8" y="225.16" font-size="5.8" fill="#333">26</text>
<text x="41.3" y="225.86" font-size="5.8" text-anchor="end" fill="#0e9aa0">10</text>
<rect x="45.5" y="220.51" width="10.95" height="5.97" fill="#36985f"/>
<rect x="57.05" y="220.51" width="10.95" height="5.97" fill="#4caf55"/>
<rect x="80" y="220.51" width="11.05" height="5.97" fill="#f8d3d6"/>
<rect x="91.65" y="220.51" width="11.05" height="5.97" fill="#efa0a6"/>
<rect x="116.4" y="220.51" width="10.85" height="5.97" fill="#9494d2"/>
<rect x="127.85" y="220.51" width="10.85" height="5.97" fill="#9494d2"/>
<rect x="150.2" y="220.51" width="10.45" height="5.97" fill="#17adb0"/>
<rect x="161.25" y="220.51" width="10.45" height="5.97" fill="#62c06c"/>
<rect x="183.3" y="220.51" width="10.22" height="5.97" fill="#232323"/>
<rect x="194.12" y="220.51" width="10.22" height="5.97" fill="#232323"/>
<rect x="204.94" y="220.51" width="10.22" height="5.97" fill="#232323"/>
<rect x="215.76" y="220.51" width="10.22" height="5.97" fill="#3aa364"/>
<rect x="226.58" y="220.51" width="10.22" height="5.97" fill="#232323"/>
<text x="25.1" y="232.42" font-size="6.5" text-anchor="end" fill="#222" letter-spacing="0.3">BAG</text>
<text x="26.8" y="231.72" font-size="5.8" fill="#333">28</text>
<text x="41.3" y="232.42" font-size="5.8" text-anchor="end" fill="#0e9aa0">12</text>
<rect x="45.5" y="227.08" width="10.95" height="5.97" fill="#bfdb45"/>
<rect x="57.05" y="227.08" width="10.95" height="5.97" fill="#94cb3c"/>
<rect x="80" y="227.08" width="11.05" height="5.97" fill="#d62027"/>
<rect x="91.65" y="227.08" width="11.05" height="5.97" fill="#d62027"/>
<rect x="116.4" y="227.08" width="10.85" height="5.97" fill="#5458b4"/>
<rect x="127.85" y="227.08" width="10.85" height="5.97" fill="#5458b4"/>
<rect x="150.2" y="227.08" width="10.45" height="5.97" fill="#3b4fb0"/>
<rect x="161.25" y="227.08" width="10.45" height="5.97" fill="#3b4fb0"/>
<rect x="183.3" y="227.08" width="10.22" height="5.97" fill="#232323"/>
<rect x="194.12" y="227.08" width="10.22" height="5.97" fill="#232323"/>
<rect x="204.94" y="227.08" width="10.22" height="5.97" fill="#232323"/>
<rect x="215.76" y="227.08" width="10.22" height="5.97" fill="#3aa364"/>
<rect x="226.58" y="227.08" width="10.22" height="5.97" fill="#8fcb5c"/>
<text x="25.1" y="238.99" font-size="6.5" text-anchor="end" fill="#222" letter-spacing="0.3">CEPD</text>
<text x="26.8" y="238.29" font-size="5.8" fill="#333">31</text>
<text x="41.3" y="238.99" font-size="5.8" text-anchor="end" fill="#0e9aa0">17</text>
<rect x="45.5" y="233.64" width="10.95" height="5.97" fill="#1c5f78"/>
<rect x="57.05" y="233.64" width="10.95" height="5.97" fill="#1c5f78"/>
<rect x="80" y="233.64" width="11.05" height="5.97" fill="#e4e4f4"/>
<rect x="91.65" y="233.64" width="11.05" height="5.97" fill="#e4e4f4"/>
<rect x="116.4" y="233.64" width="10.85" height="5.97" fill="#efa0a6"/>
<rect x="127.85" y="233.64" width="10.85" height="5.97" fill="#f8d3d6"/>
<rect x="150.2" y="233.64" width="10.45" height="5.97" fill="#3b4fb0"/>
<rect x="161.25" y="233.64" width="10.45" height="5.97" fill="#3b4fb0"/>
<rect x="183.3" y="233.64" width="10.22" height="5.97" fill="#232323"/>
<rect x="194.12" y="233.64" width="10.22" height="5.97" fill="#232323"/>
<rect x="204.94" y="233.64" width="10.22" height="5.97" fill="#232323"/>
<rect x="215.76" y="233.64" width="10.22" height="5.97" fill="#232323"/>
<rect x="226.58" y="233.64" width="10.22" height="5.97" fill="#3aa364"/>
<text x="25.1" y="245.56" font-size="6.5" text-anchor="end" fill="#222" letter-spacing="0.3">CEPV</text>
<text x="26.8" y="244.86" font-size="5.8" fill="#333">31</text>
<text x="41.3" y="245.56" font-size="5.8" text-anchor="end" fill="#0e9aa0">17</text>
<rect x="45.5" y="240.21" width="10.95" height="5.97" fill="#216f72"/>
<rect x="57.05" y="240.21" width="10.95" height="5.97" fill="#27806b"/>
<rect x="80" y="240.21" width="11.05" height="5.97" fill="#ffffff"/>
<rect x="91.65" y="240.21" width="11.05" height="5.97" fill="#fceaeb"/>
<rect x="116.4" y="240.21" width="10.85" height="5.97" fill="#e4e4f4"/>
<rect x="127.85" y="240.21" width="10.85" height="5.97" fill="#f8d3d6"/>
<rect x="150.2" y="240.21" width="10.45" height="5.97" fill="#3b4fb0"/>
<rect x="161.25" y="240.21" width="10.45" height="5.97" fill="#3b4fb0"/>
<rect x="183.3" y="240.21" width="10.22" height="5.97" fill="#232323"/>
<rect x="194.12" y="240.21" width="10.22" height="5.97" fill="#232323"/>
<rect x="204.94" y="240.21" width="10.22" height="5.97" fill="#232323"/>
<rect x="215.76" y="240.21" width="10.22" height="5.97" fill="#232323"/>
<rect x="226.58" y="240.21" width="10.22" height="5.97" fill="#3aa364"/>
<text x="25.1" y="252.13" font-size="6.5" text-anchor="end" fill="#222" letter-spacing="0.3">FLP</text>
<text x="26.8" y="251.43" font-size="5.8" fill="#333">29</text>
<text x="41.3" y="252.13" font-size="5.8" text-anchor="end" fill="#0e9aa0">17</text>
<rect x="45.5" y="246.78" width="10.95" height="5.97" fill="#1c5f78"/>
<rect x="57.05" y="246.78" width="10.95" height="5.97" fill="#1c5f78"/>
<rect x="80" y="246.78" width="11.05" height="5.97" fill="#ffffff"/>
<rect x="91.65" y="246.78" width="11.05" height="5.97" fill="#ffffff"/>
<rect x="116.4" y="246.78" width="10.85" height="5.97" fill="#f8d3d6"/>
<rect x="127.85" y="246.78" width="10.85" height="5.97" fill="#f4babe"/>
<rect x="150.2" y="246.78" width="10.45" height="5.97" fill="#62c06c"/>
<rect x="161.25" y="246.78" width="10.45" height="5.97" fill="#62c06c"/>
<rect x="183.3" y="246.78" width="10.22" height="5.97" fill="#232323"/>
<rect x="194.12" y="246.78" width="10.22" height="5.97" fill="#232323"/>
<rect x="204.94" y="246.78" width="10.22" height="5.97" fill="#232323"/>
<rect x="215.76" y="246.78" width="10.22" height="5.97" fill="#232323"/>
<rect x="226.58" y="246.78" width="10.22" height="5.97" fill="#3aa364"/>
<text x="25.1" y="258.69" font-size="6.5" text-anchor="end" fill="#222" letter-spacing="0.3">I1</text>
<text x="26.8" y="257.99" font-size="5.8" fill="#333">27</text>
<text x="41.3" y="258.69" font-size="5.8" text-anchor="end" fill="#0e9aa0">14</text>
<rect x="45.5" y="253.34" width="10.95" height="5.97" fill="#36985f"/>
<rect x="57.05" y="253.34" width="10.95" height="5.97" fill="#4caf55"/>
<rect x="80" y="253.34" width="11.05" height="5.97" fill="#ffffff"/>
<rect x="91.65" y="253.34" width="11.05" height="5.97" fill="#f8d3d6"/>
<rect x="116.4" y="253.34" width="10.85" height="5.97" fill="#efa0a6"/>
<rect x="127.85" y="253.34" width="10.85" height="5.97" fill="#efa0a6"/>
<rect x="150.2" y="253.34" width="10.45" height="5.97" fill="#62c06c"/>
<rect x="161.25" y="253.34" width="10.45" height="5.97" fill="#62c06c"/>
<rect x="183.3" y="253.34" width="10.22" height="5.97" fill="#232323"/>
<rect x="194.12" y="253.34" width="10.22" height="5.97" fill="#232323"/>
<rect x="204.94" y="253.34" width="10.22" height="5.97" fill="#232323"/>
<rect x="215.76" y="253.34" width="10.22" height="5.97" fill="#232323"/>
<rect x="226.58" y="253.34" width="10.22" height="5.97" fill="#8fcb5c"/>
<text x="25.1" y="265.26" font-size="6.5" text-anchor="end" fill="#222" letter-spacing="0.3">I2</text>
<text x="26.8" y="264.56" font-size="5.8" fill="#333">29</text>
<text x="41.3" y="265.26" font-size="5.8" text-anchor="end" fill="#0e9aa0">16</text>
<rect x="45.5" y="259.91" width="10.95" height="5.97" fill="#27806b"/>
<rect x="57.05" y="259.91" width="10.95" height="5.97" fill="#1c5f78"/>
<rect x="80" y="259.91" width="11.05" height="5.97" fill="#c3c3e6"/>
<rect x="91.65" y="259.91" width="11.05" height="5.97" fill="#e4e4f4"/>
<rect x="116.4" y="259.91" width="10.85" height="5.97" fill="#efa0a6"/>
<rect x="127.85" y="259.91" width="10.85" height="5.97" fill="#f8d3d6"/>
<rect x="150.2" y="259.91" width="10.45" height="5.97" fill="#1b92c6"/>
<rect x="161.25" y="259.91" width="10.45" height="5.97" fill="#2b6cc2"/>
<rect x="183.3" y="259.91" width="10.22" height="5.97" fill="#64b760"/>
<rect x="194.12" y="259.91" width="10.22" height="5.97" fill="#232323"/>
<rect x="204.94" y="259.91" width="10.22" height="5.97" fill="#232323"/>
<rect x="215.76" y="259.91" width="10.22" height="5.97" fill="#232323"/>
<rect x="226.58" y="259.91" width="10.22" height="5.97" fill="#232323"/>
<text x="25.1" y="271.83" font-size="6.5" text-anchor="end" fill="#222" letter-spacing="0.3">I3</text>
<text x="26.8" y="271.13" font-size="5.8" fill="#333">28</text>
<text x="41.3" y="271.83" font-size="5.8" text-anchor="end" fill="#0e9aa0">16</text>
<rect x="45.5" y="266.48" width="10.95" height="5.97" fill="#f9efa6"/>
<rect x="57.05" y="266.48" width="10.95" height="5.97" fill="#94cb3c"/>
<rect x="80" y="266.48" width="11.05" height="5.97" fill="#ffffff"/>
<rect x="91.65" y="266.48" width="11.05" height="5.97" fill="#ffffff"/>
<rect x="116.4" y="266.48" width="10.85" height="5.97" fill="#9494d2"/>
<rect x="127.85" y="266.48" width="10.85" height="5.97" fill="#c3c3e6"/>
<rect x="150.2" y="266.48" width="10.45" height="5.97" fill="#62c06c"/>
<rect x="161.25" y="266.48" width="10.45" height="5.97" fill="#62c06c"/>
<rect x="183.3" y="266.48" width="10.22" height="5.97" fill="#3aa364"/>
<rect x="194.12" y="266.48" width="10.22" height="5.97" fill="#1d8c66"/>
<rect x="204.94" y="266.48" width="10.22" height="5.97" fill="#232323"/>
<rect x="215.76" y="266.48" width="10.22" height="5.97" fill="#232323"/>
<rect x="226.58" y="266.48" width="10.22" height="5.97" fill="#232323"/>
<text x="25.1" y="278.39" font-size="6.5" text-anchor="end" fill="#222" letter-spacing="0.3">I4</text>
<text x="26.8" y="277.69" font-size="5.8" fill="#333">11</text>
<text x="41.3" y="278.39" font-size="5.8" text-anchor="end" fill="#0e9aa0">3</text>
<rect x="45.5" y="273.05" width="10.95" height="5.97" fill="#94cb3c"/>
<rect x="57.05" y="273.05" width="10.95" height="5.97" fill="#bfdb45"/>
<rect x="80" y="273.05" width="11.05" height="5.97" fill="#e4e4f4"/>
<rect x="91.65" y="273.05" width="11.05" height="5.97" fill="#c3c3e6"/>
<rect x="116.4" y="273.05" width="10.85" height="5.97" fill="#e4616a"/>
<rect x="127.85" y="273.05" width="10.85" height="5.97" fill="#f4babe"/>
<rect x="150.2" y="273.05" width="10.45" height="5.97" fill="#62c06c"/>
<rect x="161.25" y="273.05" width="10.45" height="5.97" fill="#17adb0"/>
<rect x="183.3" y="273.05" width="10.22" height="5.97" fill="#232323"/>
<rect x="194.12" y="273.05" width="10.22" height="5.97" fill="#232323"/>
<rect x="204.94" y="273.05" width="10.22" height="5.97" fill="#232323"/>
<rect x="215.76" y="273.05" width="10.22" height="5.97" fill="#232323"/>
<rect x="226.58" y="273.05" width="10.22" height="5.97" fill="#3aa364"/>
<text x="25.1" y="284.96" font-size="6.5" text-anchor="end" fill="#222" letter-spacing="0.3">I5</text>
<text x="26.8" y="284.26" font-size="5.8" fill="#333">3</text>
<text x="41.3" y="284.96" font-size="5.8" text-anchor="end" fill="#0e9aa0">0</text>
<rect x="45.2" y="279.31" width="23.1" height="6.57" fill="#000"/>
<rect x="79.7" y="279.31" width="23.3" height="6.57" fill="#000"/>
<rect x="116.1" y="279.31" width="22.9" height="6.57" fill="#000"/>
<rect x="149.9" y="279.31" width="22.1" height="6.57" fill="#000"/>
<rect x="183.3" y="279.61" width="10.22" height="5.97" fill="#232323"/>
<rect x="194.12" y="279.61" width="10.22" height="5.97" fill="#232323"/>
<rect x="204.94" y="279.61" width="10.22" height="5.97" fill="#232323"/>
<rect x="215.76" y="279.61" width="10.22" height="5.97" fill="#232323"/>
<rect x="226.58" y="279.61" width="10.22" height="5.97" fill="#232323"/>
<text x="25.1" y="291.53" font-size="6.5" text-anchor="end" fill="#222" letter-spacing="0.3">I6</text>
<text x="26.8" y="290.83" font-size="5.8" fill="#333">15</text>
<text x="41.3" y="291.53" font-size="5.8" text-anchor="end" fill="#0e9aa0">3</text>
<rect x="45.5" y="286.18" width="10.95" height="5.97" fill="#6abe47"/>
<rect x="57.05" y="286.18" width="10.95" height="5.97" fill="#6abe47"/>
<rect x="80" y="286.18" width="11.05" height="5.97" fill="#e4e4f4"/>
<rect x="91.65" y="286.18" width="11.05" height="5.97" fill="#f8d3d6"/>
<rect x="116.4" y="286.18" width="10.85" height="5.97" fill="#fceaeb"/>
<rect x="127.85" y="286.18" width="10.85" height="5.97" fill="#f8d3d6"/>
<rect x="150.2" y="286.18" width="10.45" height="5.97" fill="#3fbf8e"/>
<rect x="161.25" y="286.18" width="10.45" height="5.97" fill="#62c06c"/>
<rect x="183.3" y="286.18" width="10.22" height="5.97" fill="#232323"/>
<rect x="194.12" y="286.18" width="10.22" height="5.97" fill="#232323"/>
<rect x="204.94" y="286.18" width="10.22" height="5.97" fill="#232323"/>
<rect x="215.76" y="286.18" width="10.22" height="5.97" fill="#232323"/>
<rect x="226.58" y="286.18" width="10.22" height="5.97" fill="#232323"/>
<text x="25.1" y="298.09" font-size="6.5" text-anchor="end" fill="#222" letter-spacing="0.3">IL1L</text>
<text x="26.8" y="297.39" font-size="5.8" fill="#333">30</text>
<text x="41.3" y="298.09" font-size="5.8" text-anchor="end" fill="#0e9aa0">12</text>
<rect x="45.5" y="292.75" width="10.95" height="5.97" fill="#94cb3c"/>
<rect x="57.05" y="292.75" width="10.95" height="5.97" fill="#6abe47"/>
<rect x="80" y="292.75" width="11.05" height="5.97" fill="#e4e4f4"/>
<rect x="91.65" y="292.75" width="11.05" height="5.97" fill="#9494d2"/>
<rect x="116.4" y="292.75" width="10.85" height="5.97" fill="#f8d3d6"/>
<rect x="127.85" y="292.75" width="10.85" height="5.97" fill="#f4babe"/>
<rect x="150.2" y="292.75" width="10.45" height="5.97" fill="#2b6cc2"/>
<rect x="161.25" y="292.75" width="10.45" height="5.97" fill="#3b4fb0"/>
<rect x="183.3" y="292.75" width="10.22" height="5.97" fill="#232323"/>
<rect x="194.12" y="292.75" width="10.22" height="5.97" fill="#c6df55"/>
<rect x="204.94" y="292.75" width="10.22" height="5.97" fill="#232323"/>
<rect x="215.76" y="292.75" width="10.22" height="5.97" fill="#232323"/>
<rect x="226.58" y="292.75" width="10.22" height="5.97" fill="#2b9865"/>
<text x="25.1" y="304.66" font-size="6.5" text-anchor="end" fill="#222" letter-spacing="0.3">IL1R</text>
<text x="26.8" y="303.96" font-size="5.8" fill="#333">24</text>
<text x="41.3" y="304.66" font-size="5.8" text-anchor="end" fill="#0e9aa0">11</text>
<rect x="45.5" y="299.31" width="10.95" height="5.97" fill="#6abe47"/>
<rect x="57.05" y="299.31" width="10.95" height="5.97" fill="#6abe47"/>
<rect x="80" y="299.31" width="11.05" height="5.97" fill="#c3c3e6"/>
<rect x="91.65" y="299.31" width="11.05" height="5.97" fill="#fceaeb"/>
<rect x="116.4" y="299.31" width="10.85" height="5.97" fill="#f8d3d6"/>
<rect x="127.85" y="299.31" width="10.85" height="5.97" fill="#ffffff"/>
<rect x="150.2" y="299.31" width="10.45" height="5.97" fill="#3b4fb0"/>
<rect x="161.25" y="299.31" width="10.45" height="5.97" fill="#3b4fb0"/>
<rect x="183.3" y="299.31" width="10.22" height="5.97" fill="#232323"/>
<rect x="194.12" y="299.31" width="10.22" height="5.97" fill="#c6df55"/>
<rect x="204.94" y="299.31" width="10.22" height="5.97" fill="#232323"/>
<rect x="215.76" y="299.31" width="10.22" height="5.97" fill="#232323"/>
<rect x="226.58" y="299.31" width="10.22" height="5.97" fill="#1d8c66"/>
<text x="25.1" y="311.23" font-size="6.5" text-anchor="end" fill="#222" letter-spacing="0.3">IL1D</text>
<text x="26.8" y="310.53" font-size="5.8" fill="#333">31</text>
<text x="41.3" y="311.23" font-size="5.8" text-anchor="end" fill="#0e9aa0">17</text>
<rect x="45.5" y="305.88" width="10.95" height="5.97" fill="#4caf55"/>
<rect x="57.05" y="305.88" width="10.95" height="5.97" fill="#4caf55"/>
<rect x="80" y="305.88" width="11.05" height="5.97" fill="#ffffff"/>
<rect x="91.65" y="305.88" width="11.05" height="5.97" fill="#fceaeb"/>
<rect x="116.4" y="305.88" width="10.85" height="5.97" fill="#ababdc"/>
<rect x="127.85" y="305.88" width="10.85" height="5.97" fill="#e4e4f4"/>
<rect x="150.2" y="305.88" width="10.45" height="5.97" fill="#3b4fb0"/>
<rect x="161.25" y="305.88" width="10.45" height="5.97" fill="#3b4fb0"/>
<rect x="183.3" y="305.88" width="10.22" height="5.97" fill="#232323"/>
<rect x="194.12" y="305.88" width="10.22" height="5.97" fill="#c6df55"/>
<rect x="204.94" y="305.88" width="10.22" height="5.97" fill="#232323"/>
<rect x="215.76" y="305.88" width="10.22" height="5.97" fill="#232323"/>
<rect x="226.58" y="305.88" width="10.22" height="5.97" fill="#1d8c66"/>
<text x="25.1" y="317.8" font-size="6.5" text-anchor="end" fill="#222" letter-spacing="0.3">IL1V</text>
<text x="26.8" y="317.1" font-size="5.8" fill="#333">30</text>
<text x="41.3" y="317.8" font-size="5.8" text-anchor="end" fill="#0e9aa0">14</text>
<rect x="45.5" y="312.45" width="10.95" height="5.97" fill="#36985f"/>
<rect x="57.05" y="312.45" width="10.95" height="5.97" fill="#6abe47"/>
<rect x="80" y="312.45" width="11.05" height="5.97" fill="#ffffff"/>
<rect x="91.65" y="312.45" width="11.05" height="5.97" fill="#e4e4f4"/>
<rect x="116.4" y="312.45" width="10.85" height="5.97" fill="#e4e4f4"/>
<rect x="127.85" y="312.45" width="10.85" height="5.97" fill="#f8d3d6"/>
<rect x="150.2" y="312.45" width="10.45" height="5.97" fill="#3b4fb0"/>
<rect x="161.25" y="312.45" width="10.45" height="5.97" fill="#1b92c6"/>
<rect x="183.3" y="312.45" width="10.22" height="5.97" fill="#232323"/>
<rect x="194.12" y="312.45" width="10.22" height="5.97" fill="#c6df55"/>
<rect x="204.94" y="312.45" width="10.22" height="5.97" fill="#232323"/>
<rect x="215.76" y="312.45" width="10.22" height="5.97" fill="#232323"/>
<rect x="226.58" y="312.45" width="10.22" height="5.97" fill="#1d8c66"/>
<text x="25.1" y="324.36" font-size="6.5" text-anchor="end" fill="#222" letter-spacing="0.3">IL2L</text>
<text x="26.8" y="323.66" font-size="5.8" fill="#333">20</text>
<text x="41.3" y="324.36" font-size="5.8" text-anchor="end" fill="#0e9aa0">10</text>
<rect x="45.5" y="319.01" width="10.95" height="5.97" fill="#6abe47"/>
<rect x="57.05" y="319.01" width="10.95" height="5.97" fill="#4caf55"/>
<rect x="80" y="319.01" width="11.05" height="5.97" fill="#e4e4f4"/>
<rect x="91.65" y="319.01" width="11.05" height="5.97" fill="#e4e4f4"/>
<rect x="116.4" y="319.01" width="10.85" height="5.97" fill="#efa0a6"/>
<rect x="127.85" y="319.01" width="10.85" height="5.97" fill="#f8d3d6"/>
<rect x="150.2" y="319.01" width="10.45" height="5.97" fill="#335dba"/>
<rect x="161.25" y="319.01" width="10.45" height="5.97" fill="#3b4fb0"/>
<rect x="183.3" y="319.01" width="10.22" height="5.97" fill="#232323"/>
<rect x="194.12" y="319.01" width="10.22" height="5.97" fill="#232323"/>
<rect x="204.94" y="319.01" width="10.22" height="5.97" fill="#232323"/>
<rect x="215.76" y="319.01" width="10.22" height="5.97" fill="#232323"/>
<rect x="226.58" y="319.01" width="10.22" height="5.97" fill="#232323"/>
<text x="25.1" y="330.93" font-size="6.5" text-anchor="end" fill="#222" letter-spacing="0.3">IL2R</text>
<text x="26.8" y="330.23" font-size="5.8" fill="#333">24</text>
<text x="41.3" y="330.93" font-size="5.8" text-anchor="end" fill="#0e9aa0">13</text>
<rect x="45.5" y="325.58" width="10.95" height="5.97" fill="#94cb3c"/>
<rect x="57.05" y="325.58" width="10.95" height="5.97" fill="#6abe47"/>
<rect x="80" y="325.58" width="11.05" height="5.97" fill="#e4e4f4"/>
<rect x="91.65" y="325.58" width="11.05" height="5.97" fill="#e4e4f4"/>
<rect x="116.4" y="325.58" width="10.85" height="5.97" fill="#efa0a6"/>
<rect x="127.85" y="325.58" width="10.85" height="5.97" fill="#f8d3d6"/>
<rect x="150.2" y="325.58" width="10.45" height="5.97" fill="#3b4fb0"/>
<rect x="161.25" y="325.58" width="10.45" height="5.97" fill="#3b4fb0"/>
<rect x="183.3" y="325.58" width="10.22" height="5.97" fill="#232323"/>
<rect x="194.12" y="325.58" width="10.22" height="5.97" fill="#232323"/>
<rect x="204.94" y="325.58" width="10.22" height="5.97" fill="#232323"/>
<rect x="215.76" y="325.58" width="10.22" height="5.97" fill="#232323"/>
<rect x="226.58" y="325.58" width="10.22" height="5.97" fill="#232323"/>
<text x="25.1" y="337.5" font-size="6.5" text-anchor="end" fill="#222" letter-spacing="0.3">IL2D</text>
<text x="26.8" y="336.8" font-size="5.8" fill="#333">30</text>
<text x="41.3" y="337.5" font-size="5.8" text-anchor="end" fill="#0e9aa0">17</text>
<rect x="45.5" y="332.15" width="10.95" height="5.97" fill="#36985f"/>
<rect x="57.05" y="332.15" width="10.95" height="5.97" fill="#4caf55"/>
<rect x="80" y="332.15" width="11.05" height="5.97" fill="#ffffff"/>
<rect x="91.65" y="332.15" width="11.05" height="5.97" fill="#ffffff"/>
<rect x="116.4" y="332.15" width="10.85" height="5.97" fill="#f8d3d6"/>
<rect x="127.85" y="332.15" width="10.85" height="5.97" fill="#fceaeb"/>
<rect x="150.2" y="332.15" width="10.45" height="5.97" fill="#17adb0"/>
<rect x="161.25" y="332.15" width="10.45" height="5.97" fill="#1b92c6"/>
<rect x="183.3" y="332.15" width="10.22" height="5.97" fill="#232323"/>
<rect x="194.12" y="332.15" width="10.22" height="5.97" fill="#232323"/>
<rect x="204.94" y="332.15" width="10.22" height="5.97" fill="#232323"/>
<rect x="215.76" y="332.15" width="10.22" height="5.97" fill="#232323"/>
<rect x="226.58" y="332.15" width="10.22" height="5.97" fill="#232323"/>
<text x="25.1" y="344.06" font-size="6.5" text-anchor="end" fill="#222" letter-spacing="0.3">IL2V</text>
<text x="26.8" y="343.36" font-size="5.8" fill="#333">31</text>
<text x="41.3" y="344.06" font-size="5.8" text-anchor="end" fill="#0e9aa0">16</text>
<rect x="45.5" y="338.72" width="10.95" height="5.97" fill="#2e8c65"/>
<rect x="57.05" y="338.72" width="10.95" height="5.97" fill="#4caf55"/>
<rect x="80" y="338.72" width="11.05" height="5.97" fill="#e4e4f4"/>
<rect x="91.65" y="338.72" width="11.05" height="5.97" fill="#ffffff"/>
<rect x="116.4" y="338.72" width="10.85" height="5.97" fill="#f8d3d6"/>
<rect x="127.85" y="338.72" width="10.85" height="5.97" fill="#f8d3d6"/>
<rect x="150.2" y="338.72" width="10.45" height="5.97" fill="#1b92c6"/>
<rect x="161.25" y="338.72" width="10.45" height="5.97" fill="#1b92c6"/>
<rect x="183.3" y="338.72" width="10.22" height="5.97" fill="#232323"/>
<rect x="194.12" y="338.72" width="10.22" height="5.97" fill="#232323"/>
<rect x="204.94" y="338.72" width="10.22" height="5.97" fill="#232323"/>
<rect x="215.76" y="338.72" width="10.22" height="5.97" fill="#232323"/>
<rect x="226.58" y="338.72" width="10.22" height="5.97" fill="#232323"/>
<text x="25.1" y="350.63" font-size="6.5" text-anchor="end" fill="#222" letter-spacing="0.3">M1</text>
<text x="26.8" y="349.93" font-size="5.8" fill="#333">24</text>
<text x="41.3" y="350.63" font-size="5.8" text-anchor="end" fill="#0e9aa0">7</text>
<rect x="45.5" y="345.28" width="10.95" height="5.97" fill="#94cb3c"/>
<rect x="57.05" y="345.28" width="10.95" height="5.97" fill="#6abe47"/>
<rect x="80" y="345.28" width="11.05" height="5.97" fill="#c3c3e6"/>
<rect x="91.65" y="345.28" width="11.05" height="5.97" fill="#ffffff"/>
<rect x="116.4" y="345.28" width="10.85" height="5.97" fill="#efa0a6"/>
<rect x="127.85" y="345.28" width="10.85" height="5.97" fill="#f8d3d6"/>
<rect x="150.2" y="345.28" width="10.45" height="5.97" fill="#17adb0"/>
<rect x="161.25" y="345.28" width="10.45" height="5.97" fill="#62c06c"/>
<rect x="183.3" y="345.28" width="10.22" height="5.97" fill="#1d8c66"/>
<rect x="194.12" y="345.28" width="10.22" height="5.97" fill="#232323"/>
<rect x="204.94" y="345.28" width="10.22" height="5.97" fill="#232323"/>
<rect x="215.76" y="345.28" width="10.22" height="5.97" fill="#232323"/>
<rect x="226.58" y="345.28" width="10.22" height="5.97" fill="#1d8c66"/>
<text x="25.1" y="357.2" font-size="6.5" text-anchor="end" fill="#222" letter-spacing="0.3">M2</text>
<text x="26.8" y="356.5" font-size="5.8" fill="#333">5</text>
<text x="41.3" y="357.2" font-size="5.8" text-anchor="end" fill="#0e9aa0">0</text>
<rect x="45.2" y="351.55" width="23.1" height="6.57" fill="#000"/>
<rect x="79.7" y="351.55" width="23.3" height="6.57" fill="#000"/>
<rect x="116.1" y="351.55" width="22.9" height="6.57" fill="#000"/>
<rect x="149.9" y="351.55" width="22.1" height="6.57" fill="#000"/>
<rect x="183.3" y="351.85" width="10.22" height="5.97" fill="#232323"/>
<rect x="194.12" y="351.85" width="10.22" height="5.97" fill="#232323"/>
<rect x="204.94" y="351.85" width="10.22" height="5.97" fill="#232323"/>
<rect x="215.76" y="351.85" width="10.22" height="5.97" fill="#232323"/>
<rect x="226.58" y="351.85" width="10.22" height="5.97" fill="#232323"/>
<text x="25.1" y="363.76" font-size="6.5" text-anchor="end" fill="#222" letter-spacing="0.3">M3</text>
<text x="26.8" y="363.06" font-size="5.8" fill="#333">32</text>
<text x="41.3" y="363.76" font-size="5.8" text-anchor="end" fill="#0e9aa0">17</text>
<rect x="45.5" y="358.42" width="10.95" height="5.97" fill="#4caf55"/>
<rect x="57.05" y="358.42" width="10.95" height="5.97" fill="#4caf55"/>
<rect x="80" y="358.42" width="11.05" height="5.97" fill="#ffffff"/>
<rect x="91.65" y="358.42" width="11.05" height="5.97" fill="#fceaeb"/>
<rect x="116.4" y="358.42" width="10.85" height="5.97" fill="#f8d3d6"/>
<rect x="127.85" y="358.42" width="10.85" height="5.97" fill="#f8d3d6"/>
<rect x="150.2" y="358.42" width="10.45" height="5.97" fill="#2bb69f"/>
<rect x="161.25" y="358.42" width="10.45" height="5.97" fill="#2bb69f"/>
<rect x="183.3" y="358.42" width="10.22" height="5.97" fill="#232323"/>
<rect x="194.12" y="358.42" width="10.22" height="5.97" fill="#1d8c66"/>
<rect x="204.94" y="358.42" width="10.22" height="5.97" fill="#3aa364"/>
<rect x="215.76" y="358.42" width="10.22" height="5.97" fill="#232323"/>
<rect x="226.58" y="358.42" width="10.22" height="5.97" fill="#232323"/>
<text x="25.1" y="370.33" font-size="6.5" text-anchor="end" fill="#222" letter-spacing="0.3">M4</text>
<text x="26.8" y="369.63" font-size="5.8" fill="#333">30</text>
<text x="41.3" y="370.33" font-size="5.8" text-anchor="end" fill="#0e9aa0">15</text>
<rect x="45.5" y="364.98" width="10.95" height="5.97" fill="#6abe47"/>
<rect x="57.05" y="364.98" width="10.95" height="5.97" fill="#6abe47"/>
<rect x="80" y="364.98" width="11.05" height="5.97" fill="#e4e4f4"/>
<rect x="91.65" y="364.98" width="11.05" height="5.97" fill="#fceaeb"/>
<rect x="116.4" y="364.98" width="10.85" height="5.97" fill="#efa0a6"/>
<rect x="127.85" y="364.98" width="10.85" height="5.97" fill="#efa0a6"/>
<rect x="150.2" y="364.98" width="10.45" height="5.97" fill="#62c06c"/>
<rect x="161.25" y="364.98" width="10.45" height="5.97" fill="#62c06c"/>
<rect x="183.3" y="364.98" width="10.22" height="5.97" fill="#232323"/>
<rect x="194.12" y="364.98" width="10.22" height="5.97" fill="#232323"/>
<rect x="204.94" y="364.98" width="10.22" height="5.97" fill="#232323"/>
<rect x="215.76" y="364.98" width="10.22" height="5.97" fill="#232323"/>
<rect x="226.58" y="364.98" width="10.22" height="5.97" fill="#3aa364"/>
<text x="25.1" y="376.9" font-size="6.5" text-anchor="end" fill="#222" letter-spacing="0.3">M5</text>
<text x="26.8" y="376.2" font-size="5.8" fill="#333">14</text>
<text x="41.3" y="376.9" font-size="5.8" text-anchor="end" fill="#0e9aa0">4</text>
<rect x="45.5" y="371.55" width="10.95" height="5.97" fill="#6abe47"/>
<rect x="57.05" y="371.55" width="10.95" height="5.97" fill="#6abe47"/>
<rect x="80" y="371.55" width="11.05" height="5.97" fill="#e4e4f4"/>
<rect x="91.65" y="371.55" width="11.05" height="5.97" fill="#e4e4f4"/>
<rect x="116.4" y="371.55" width="10.85" height="5.97" fill="#efa0a6"/>
<rect x="127.85" y="371.55" width="10.85" height="5.97" fill="#f8d3d6"/>
<rect x="150.2" y="371.55" width="10.45" height="5.97" fill="#62c06c"/>
<rect x="161.25" y="371.55" width="10.45" height="5.97" fill="#62c06c"/>
<rect x="183.3" y="371.55" width="10.22" height="5.97" fill="#232323"/>
<rect x="194.12" y="371.55" width="10.22" height="5.97" fill="#232323"/>
<rect x="204.94" y="371.55" width="10.22" height="5.97" fill="#232323"/>
<rect x="215.76" y="371.55" width="10.22" height="5.97" fill="#232323"/>
<rect x="226.58" y="371.55" width="10.22" height="5.97" fill="#232323"/>
<text x="25.1" y="383.47" font-size="6.5" text-anchor="end" fill="#222" letter-spacing="0.3">MC</text>
<text x="26.8" y="382.77" font-size="5.8" fill="#333">31</text>
<text x="41.3" y="383.47" font-size="5.8" text-anchor="end" fill="#0e9aa0">13</text>
<rect x="45.5" y="378.12" width="10.95" height="5.97" fill="#94cb3c"/>
<rect x="57.05" y="378.12" width="10.95" height="5.97" fill="#bfdb45"/>
<rect x="80" y="378.12" width="11.05" height="5.97" fill="#e4e4f4"/>
<rect x="91.65" y="378.12" width="11.05" height="5.97" fill="#e4e4f4"/>
<rect x="116.4" y="378.12" width="10.85" height="5.97" fill="#efa0a6"/>
<rect x="127.85" y="378.12" width="10.85" height="5.97" fill="#f8d3d6"/>
<rect x="150.2" y="378.12" width="10.45" height="5.97" fill="#62c06c"/>
<rect x="161.25" y="378.12" width="10.45" height="5.97" fill="#62c06c"/>
<rect x="183.3" y="378.12" width="10.22" height="5.97" fill="#232323"/>
<rect x="194.12" y="378.12" width="10.22" height="5.97" fill="#232323"/>
<rect x="204.94" y="378.12" width="10.22" height="5.97" fill="#232323"/>
<rect x="215.76" y="378.12" width="10.22" height="5.97" fill="#1d8c66"/>
<rect x="226.58" y="378.12" width="10.22" height="5.97" fill="#232323"/>
<text x="25.1" y="390.03" font-size="6.5" text-anchor="end" fill="#222" letter-spacing="0.3">MI</text>
<text x="26.8" y="389.33" font-size="5.8" fill="#333">28</text>
<text x="41.3" y="390.03" font-size="5.8" text-anchor="end" fill="#0e9aa0">13</text>
<rect x="45.5" y="384.69" width="10.95" height="5.97" fill="#f9efa6"/>
<rect x="57.05" y="384.69" width="10.95" height="5.97" fill="#f9efa6"/>
<rect x="80" y="384.69" width="11.05" height="5.97" fill="#c3c3e6"/>
<rect x="91.65" y="384.69" width="11.05" height="5.97" fill="#c3c3e6"/>
<rect x="116.4" y="384.69" width="10.85" height="5.97" fill="#efa0a6"/>
<rect x="127.85" y="384.69" width="10.85" height="5.97" fill="#fceaeb"/>
<rect x="150.2" y="384.69" width="10.45" height="5.97" fill="#3b4fb0"/>
<rect x="161.25" y="384.69" width="10.45" height="5.97" fill="#1b92c6"/>
<rect x="183.3" y="384.69" width="10.22" height="5.97" fill="#232323"/>
<rect x="194.12" y="384.69" width="10.22" height="5.97" fill="#232323"/>
<rect x="204.94" y="384.69" width="10.22" height="5.97" fill="#232323"/>
<rect x="215.76" y="384.69" width="10.22" height="5.97" fill="#232323"/>
<rect x="226.58" y="384.69" width="10.22" height="5.97" fill="#232323"/>
<text x="25.1" y="396.6" font-size="6.5" text-anchor="end" fill="#222" letter-spacing="0.3">NSM</text>
<text x="26.8" y="395.9" font-size="5.8" fill="#333">32</text>
<text x="41.3" y="396.6" font-size="5.8" text-anchor="end" fill="#0e9aa0">16</text>
<rect x="45.5" y="391.25" width="10.95" height="5.97" fill="#4caf55"/>
<rect x="57.05" y="391.25" width="10.95" height="5.97" fill="#4caf55"/>
<rect x="80" y="391.25" width="11.05" height="5.97" fill="#ffffff"/>
<rect x="91.65" y="391.25" width="11.05" height="5.97" fill="#ffffff"/>
<rect x="116.4" y="391.25" width="10.85" height="5.97" fill="#e4616a"/>
<rect x="127.85" y="391.25" width="10.85" height="5.97" fill="#efa0a6"/>
<rect x="150.2" y="391.25" width="10.45" height="5.97" fill="#62c06c"/>
<rect x="161.25" y="391.25" width="10.45" height="5.97" fill="#62c06c"/>
<rect x="183.3" y="391.25" width="10.22" height="5.97" fill="#232323"/>
<rect x="194.12" y="391.25" width="10.22" height="5.97" fill="#232323"/>
<rect x="204.94" y="391.25" width="10.22" height="5.97" fill="#3aa364"/>
<rect x="215.76" y="391.25" width="10.22" height="5.97" fill="#1d8c66"/>
<rect x="226.58" y="391.25" width="10.22" height="5.97" fill="#3aa364"/>
<text x="25.1" y="403.17" font-size="6.5" text-anchor="end" fill="#222" letter-spacing="0.3">OLL</text>
<text x="26.8" y="402.47" font-size="5.8" fill="#333">31</text>
<text x="41.3" y="403.17" font-size="5.8" text-anchor="end" fill="#0e9aa0">16</text>
<rect x="45.5" y="397.82" width="10.95" height="5.97" fill="#216f72"/>
<rect x="57.05" y="397.82" width="10.95" height="5.97" fill="#216f72"/>
<rect x="80" y="397.82" width="11.05" height="5.97" fill="#d4d4ed"/>
<rect x="91.65" y="397.82" width="11.05" height="5.97" fill="#f8d3d6"/>
<rect x="116.4" y="397.82" width="10.85" height="5.97" fill="#f8d3d6"/>
<rect x="127.85" y="397.82" width="10.85" height="5.97" fill="#f8d3d6"/>
<rect x="150.2" y="397.82" width="10.45" height="5.97" fill="#3b4fb0"/>
<rect x="161.25" y="397.82" width="10.45" height="5.97" fill="#1b92c6"/>
<rect x="183.3" y="397.82" width="10.22" height="5.97" fill="#232323"/>
<rect x="194.12" y="397.82" width="10.22" height="5.97" fill="#232323"/>
<rect x="204.94" y="397.82" width="10.22" height="5.97" fill="#f6ea55"/>
<rect x="215.76" y="397.82" width="10.22" height="5.97" fill="#232323"/>
<rect x="226.58" y="397.82" width="10.22" height="5.97" fill="#64b760"/>
<text x="25.1" y="409.73" font-size="6.5" text-anchor="end" fill="#222" letter-spacing="0.3">OLQD</text>
<text x="26.8" y="409.03" font-size="5.8" fill="#333">32</text>
<text x="41.3" y="409.73" font-size="5.8" text-anchor="end" fill="#0e9aa0">16</text>
<rect x="45.5" y="404.39" width="10.95" height="5.97" fill="#6abe47"/>
<rect x="57.05" y="404.39" width="10.95" height="5.97" fill="#6abe47"/>
<rect x="80" y="404.39" width="11.05" height="5.97" fill="#fceaeb"/>
<rect x="91.65" y="404.39" width="11.05" height="5.97" fill="#f8d3d6"/>
<rect x="116.4" y="404.39" width="10.85" height="5.97" fill="#e4e4f4"/>
<rect x="127.85" y="404.39" width="10.85" height="5.97" fill="#e4e4f4"/>
<rect x="150.2" y="404.39" width="10.45" height="5.97" fill="#2b6cc2"/>
<rect x="161.25" y="404.39" width="10.45" height="5.97" fill="#3b4fb0"/>
<rect x="183.3" y="404.39" width="10.22" height="5.97" fill="#232323"/>
<rect x="194.12" y="404.39" width="10.22" height="5.97" fill="#232323"/>
<rect x="204.94" y="404.39" width="10.22" height="5.97" fill="#232323"/>
<rect x="215.76" y="404.39" width="10.22" height="5.97" fill="#232323"/>
<rect x="226.58" y="404.39" width="10.22" height="5.97" fill="#8fcb5c"/>
<text x="25.1" y="416.3" font-size="6.5" text-anchor="end" fill="#222" letter-spacing="0.3">OLQV</text>
<text x="26.8" y="415.6" font-size="5.8" fill="#333">31</text>
<text x="41.3" y="416.3" font-size="5.8" text-anchor="end" fill="#0e9aa0">15</text>
<rect x="45.5" y="410.95" width="10.95" height="5.97" fill="#6abe47"/>
<rect x="57.05" y="410.95" width="10.95" height="5.97" fill="#6abe47"/>
<rect x="80" y="410.95" width="11.05" height="5.97" fill="#fceaeb"/>
<rect x="91.65" y="410.95" width="11.05" height="5.97" fill="#f4babe"/>
<rect x="116.4" y="410.95" width="10.85" height="5.97" fill="#c3c3e6"/>
<rect x="127.85" y="410.95" width="10.85" height="5.97" fill="#c3c3e6"/>
<rect x="150.2" y="410.95" width="10.45" height="5.97" fill="#3b4fb0"/>
<rect x="161.25" y="410.95" width="10.45" height="5.97" fill="#3b4fb0"/>
<rect x="183.3" y="410.95" width="10.22" height="5.97" fill="#232323"/>
<rect x="194.12" y="410.95" width="10.22" height="5.97" fill="#232323"/>
<rect x="204.94" y="410.95" width="10.22" height="5.97" fill="#232323"/>
<rect x="215.76" y="410.95" width="10.22" height="5.97" fill="#232323"/>
<rect x="226.58" y="410.95" width="10.22" height="5.97" fill="#8fcb5c"/>
<text x="25.1" y="422.87" font-size="6.5" text-anchor="end" fill="#222" letter-spacing="0.3">RIA</text>
<text x="26.8" y="422.17" font-size="5.8" fill="#333">28</text>
<text x="41.3" y="422.87" font-size="5.8" text-anchor="end" fill="#0e9aa0">16</text>
<rect x="45.5" y="417.52" width="10.95" height="5.97" fill="#1c5f78"/>
<rect x="57.05" y="417.52" width="10.95" height="5.97" fill="#27806b"/>
<rect x="80" y="417.52" width="11.05" height="5.97" fill="#e4e4f4"/>
<rect x="91.65" y="417.52" width="11.05" height="5.97" fill="#fceaeb"/>
<rect x="116.4" y="417.52" width="10.85" height="5.97" fill="#f8d3d6"/>
<rect x="127.85" y="417.52" width="10.85" height="5.97" fill="#ffffff"/>
<rect x="150.2" y="417.52" width="10.45" height="5.97" fill="#2b6cc2"/>
<rect x="161.25" y="417.52" width="10.45" height="5.97" fill="#3b4fb0"/>
<rect x="183.3" y="417.52" width="10.22" height="5.97" fill="#3aa364"/>
<rect x="194.12" y="417.52" width="10.22" height="5.97" fill="#232323"/>
<rect x="204.94" y="417.52" width="10.22" height="5.97" fill="#232323"/>
<rect x="215.76" y="417.52" width="10.22" height="5.97" fill="#232323"/>
<rect x="226.58" y="417.52" width="10.22" height="5.97" fill="#232323"/>
<text x="25.1" y="429.43" font-size="6.5" text-anchor="end" fill="#222" letter-spacing="0.3">RIB</text>
<text x="26.8" y="428.73" font-size="5.8" fill="#333">25</text>
<text x="41.3" y="429.43" font-size="5.8" text-anchor="end" fill="#0e9aa0">15</text>
<rect x="45.5" y="424.09" width="10.95" height="5.97" fill="#94cb3c"/>
<rect x="57.05" y="424.09" width="10.95" height="5.97" fill="#bfdb45"/>
<rect x="80" y="424.09" width="11.05" height="5.97" fill="#3d42a4"/>
<rect x="91.65" y="424.09" width="11.05" height="5.97" fill="#3d42a4"/>
<rect x="116.4" y="424.09" width="10.85" height="5.97" fill="#dd4048"/>
<rect x="127.85" y="424.09" width="10.85" height="5.97" fill="#dd4048"/>
<rect x="150.2" y="424.09" width="10.45" height="5.97" fill="#3b4fb0"/>
<rect x="161.25" y="424.09" width="10.45" height="5.97" fill="#3b4fb0"/>
<rect x="183.3" y="424.09" width="10.22" height="5.97" fill="#232323"/>
<rect x="194.12" y="424.09" width="10.22" height="5.97" fill="#3aa364"/>
<rect x="204.94" y="424.09" width="10.22" height="5.97" fill="#232323"/>
<rect x="215.76" y="424.09" width="10.22" height="5.97" fill="#232323"/>
<rect x="226.58" y="424.09" width="10.22" height="5.97" fill="#232323"/>
<text x="25.1" y="436" font-size="6.5" text-anchor="end" fill="#222" letter-spacing="0.3">RIC</text>
<text x="26.8" y="435.3" font-size="5.8" fill="#333">25</text>
<text x="41.3" y="436" font-size="5.8" text-anchor="end" fill="#0e9aa0">16</text>
<rect x="45.5" y="430.65" width="10.95" height="5.97" fill="#36985f"/>
<rect x="57.05" y="430.65" width="10.95" height="5.97" fill="#4caf55"/>
<rect x="80" y="430.65" width="11.05" height="5.97" fill="#e4e4f4"/>
<rect x="91.65" y="430.65" width="11.05" height="5.97" fill="#ffffff"/>
<rect x="116.4" y="430.65" width="10.85" height="5.97" fill="#f4babe"/>
<rect x="127.85" y="430.65" width="10.85" height="5.97" fill="#e4e4f4"/>
<rect x="150.2" y="430.65" width="10.45" height="5.97" fill="#3fbf8e"/>
<rect x="161.25" y="430.65" width="10.45" height="5.97" fill="#2b6cc2"/>
<rect x="183.3" y="430.65" width="10.22" height="5.97" fill="#232323"/>
<rect x="194.12" y="430.65" width="10.22" height="5.97" fill="#232323"/>
<rect x="204.94" y="430.65" width="10.22" height="5.97" fill="#232323"/>
<rect x="215.76" y="430.65" width="10.22" height="5.97" fill="#3aa364"/>
<rect x="226.58" y="430.65" width="10.22" height="5.97" fill="#232323"/>
<text x="25.1" y="442.57" font-size="6.5" text-anchor="end" fill="#222" letter-spacing="0.3">RID</text>
<text x="26.8" y="441.87" font-size="5.8" fill="#333">30</text>
<text x="41.3" y="442.57" font-size="5.8" text-anchor="end" fill="#0e9aa0">14</text>
<rect x="45.5" y="437.22" width="10.95" height="5.97" fill="#dde66f"/>
<rect x="57.05" y="437.22" width="10.95" height="5.97" fill="#f9efa6"/>
<rect x="80" y="437.22" width="11.05" height="5.97" fill="#7476c3"/>
<rect x="91.65" y="437.22" width="11.05" height="5.97" fill="#5458b4"/>
<rect x="116.4" y="437.22" width="10.85" height="5.97" fill="#dd4048"/>
<rect x="127.85" y="437.22" width="10.85" height="5.97" fill="#e4616a"/>
<rect x="150.2" y="437.22" width="10.45" height="5.97" fill="#3b4fb0"/>
<rect x="161.25" y="437.22" width="10.45" height="5.97" fill="#3b4fb0"/>
<rect x="183.3" y="437.22" width="10.22" height="5.97" fill="#232323"/>
<rect x="194.12" y="437.22" width="10.22" height="5.97" fill="#1d8c66"/>
<rect x="204.94" y="437.22" width="10.22" height="5.97" fill="#c6df55"/>
<rect x="215.76" y="437.22" width="10.22" height="5.97" fill="#1d8c66"/>
<rect x="226.58" y="437.22" width="10.22" height="5.97" fill="#232323"/>
<text x="25.1" y="449.14" font-size="6.5" text-anchor="end" fill="#222" letter-spacing="0.3">RIH</text>
<text x="26.8" y="448.44" font-size="5.8" fill="#333">11</text>
<text x="41.3" y="449.14" font-size="5.8" text-anchor="end" fill="#0e9aa0">11</text>
<rect x="45.5" y="443.79" width="10.95" height="5.97" fill="#4caf55"/>
<rect x="57.05" y="443.79" width="10.95" height="5.97" fill="#6abe47"/>
<rect x="80" y="443.79" width="11.05" height="5.97" fill="#ffffff"/>
<rect x="91.65" y="443.79" width="11.05" height="5.97" fill="#f8d3d6"/>
<rect x="116.4" y="443.79" width="10.85" height="5.97" fill="#d4d4ed"/>
<rect x="127.85" y="443.79" width="10.85" height="5.97" fill="#9494d2"/>
<rect x="150.2" y="443.79" width="10.45" height="5.97" fill="#1b92c6"/>
<rect x="161.25" y="443.79" width="10.45" height="5.97" fill="#2b6cc2"/>
<rect x="183.3" y="443.79" width="10.22" height="5.97" fill="#232323"/>
<rect x="194.12" y="443.79" width="10.22" height="5.97" fill="#232323"/>
<rect x="204.94" y="443.79" width="10.22" height="5.97" fill="#232323"/>
<rect x="215.76" y="443.79" width="10.22" height="5.97" fill="#232323"/>
<rect x="226.58" y="443.79" width="10.22" height="5.97" fill="#232323"/>
<text x="25.1" y="455.7" font-size="6.5" text-anchor="end" fill="#222" letter-spacing="0.3">RIM</text>
<text x="26.8" y="455" font-size="5.8" fill="#333">30</text>
<text x="41.3" y="455.7" font-size="5.8" text-anchor="end" fill="#0e9aa0">16</text>
<rect x="45.5" y="450.36" width="10.95" height="5.97" fill="#f9efa6"/>
<rect x="57.05" y="450.36" width="10.95" height="5.97" fill="#bfdb45"/>
<rect x="80" y="450.36" width="11.05" height="5.97" fill="#d62027"/>
<rect x="91.65" y="450.36" width="11.05" height="5.97" fill="#d62027"/>
<rect x="116.4" y="450.36" width="10.85" height="5.97" fill="#5458b4"/>
<rect x="127.85" y="450.36" width="10.85" height="5.97" fill="#3d42a4"/>
<rect x="150.2" y="450.36" width="10.45" height="5.97" fill="#2b6cc2"/>
<rect x="161.25" y="450.36" width="10.45" height="5.97" fill="#3b4fb0"/>
<rect x="183.3" y="450.36" width="10.22" height="5.97" fill="#232323"/>
<rect x="194.12" y="450.36" width="10.22" height="5.97" fill="#2b9865"/>
<rect x="204.94" y="450.36" width="10.22" height="5.97" fill="#232323"/>
<rect x="215.76" y="450.36" width="10.22" height="5.97" fill="#232323"/>
<rect x="226.58" y="450.36" width="10.22" height="5.97" fill="#2b9865"/>
<text x="25.1" y="462.27" font-size="6.5" text-anchor="end" fill="#222" letter-spacing="0.3">RIP</text>
<text x="26.8" y="461.57" font-size="5.8" fill="#333">11</text>
<text x="41.3" y="462.27" font-size="5.8" text-anchor="end" fill="#0e9aa0">3</text>
<rect x="45.5" y="456.92" width="10.95" height="5.97" fill="#6abe47"/>
<rect x="57.05" y="456.92" width="10.95" height="5.97" fill="#36985f"/>
<rect x="80" y="456.92" width="11.05" height="5.97" fill="#e4e4f4"/>
<rect x="91.65" y="456.92" width="11.05" height="5.97" fill="#ffffff"/>
<rect x="116.4" y="456.92" width="10.85" height="5.97" fill="#efa0a6"/>
<rect x="127.85" y="456.92" width="10.85" height="5.97" fill="#f8d3d6"/>
<rect x="150.2" y="456.92" width="10.45" height="5.97" fill="#62c06c"/>
<rect x="161.25" y="456.92" width="10.45" height="5.97" fill="#17adb0"/>
<rect x="183.3" y="456.92" width="10.22" height="5.97" fill="#232323"/>
<rect x="194.12" y="456.92" width="10.22" height="5.97" fill="#232323"/>
<rect x="204.94" y="456.92" width="10.22" height="5.97" fill="#232323"/>
<rect x="215.76" y="456.92" width="10.22" height="5.97" fill="#232323"/>
<rect x="226.58" y="456.92" width="10.22" height="5.97" fill="#232323"/>
<text x="25.1" y="468.84" font-size="6.5" text-anchor="end" fill="#222" letter-spacing="0.3">RIR</text>
<text x="26.8" y="468.14" font-size="5.8" fill="#333">6</text>
<text x="41.3" y="468.84" font-size="5.8" text-anchor="end" fill="#0e9aa0">2</text>
<rect x="45.2" y="463.19" width="23.1" height="6.57" fill="#000"/>
<rect x="79.7" y="463.19" width="23.3" height="6.57" fill="#000"/>
<rect x="116.1" y="463.19" width="22.9" height="6.57" fill="#000"/>
<rect x="149.9" y="463.19" width="22.1" height="6.57" fill="#000"/>
<rect x="183.3" y="463.49" width="10.22" height="5.97" fill="#232323"/>
<rect x="194.12" y="463.49" width="10.22" height="5.97" fill="#232323"/>
<rect x="204.94" y="463.49" width="10.22" height="5.97" fill="#232323"/>
<rect x="215.76" y="463.49" width="10.22" height="5.97" fill="#232323"/>
<rect x="226.58" y="463.49" width="10.22" height="5.97" fill="#232323"/>
<text x="25.1" y="475.4" font-size="6.5" text-anchor="end" fill="#222" letter-spacing="0.3">RIS</text>
<text x="26.8" y="474.7" font-size="5.8" fill="#333">6</text>
<text x="41.3" y="475.4" font-size="5.8" text-anchor="end" fill="#0e9aa0">6</text>
<rect x="45.5" y="470.06" width="10.95" height="5.97" fill="#6abe47"/>
<rect x="57.05" y="470.06" width="10.95" height="5.97" fill="#36985f"/>
<rect x="80" y="470.06" width="11.05" height="5.97" fill="#ababdc"/>
<rect x="91.65" y="470.06" width="11.05" height="5.97" fill="#c3c3e6"/>
<rect x="116.4" y="470.06" width="10.85" height="5.97" fill="#efa0a6"/>
<rect x="127.85" y="470.06" width="10.85" height="5.97" fill="#efa0a6"/>
<rect x="150.2" y="470.06" width="10.45" height="5.97" fill="#237fc4"/>
<rect x="161.25" y="470.06" width="10.45" height="5.97" fill="#17adb0"/>
<rect x="183.3" y="470.06" width="10.22" height="5.97" fill="#2b9865"/>
<rect x="194.12" y="470.06" width="10.22" height="5.97" fill="#232323"/>
<rect x="204.94" y="470.06" width="10.22" height="5.97" fill="#232323"/>
<rect x="215.76" y="470.06" width="10.22" height="5.97" fill="#232323"/>
<rect x="226.58" y="470.06" width="10.22" height="5.97" fill="#232323"/>
<text x="25.1" y="481.97" font-size="6.5" text-anchor="end" fill="#222" letter-spacing="0.3">RIV</text>
<text x="26.8" y="481.27" font-size="5.8" fill="#333">30</text>
<text x="41.3" y="481.97" font-size="5.8" text-anchor="end" fill="#0e9aa0">17</text>
<rect x="45.5" y="476.62" width="10.95" height="5.97" fill="#bfdb45"/>
<rect x="57.05" y="476.62" width="10.95" height="5.97" fill="#94cb3c"/>
<rect x="80" y="476.62" width="11.05" height="5.97" fill="#f4babe"/>
<rect x="91.65" y="476.62" width="11.05" height="5.97" fill="#f8d3d6"/>
<rect x="116.4" y="476.62" width="10.85" height="5.97" fill="#9494d2"/>
<rect x="127.85" y="476.62" width="10.85" height="5.97" fill="#c3c3e6"/>
<rect x="150.2" y="476.62" width="10.45" height="5.97" fill="#2b6cc2"/>
<rect x="161.25" y="476.62" width="10.45" height="5.97" fill="#3b4fb0"/>
<rect x="183.3" y="476.62" width="10.22" height="5.97" fill="#232323"/>
<rect x="194.12" y="476.62" width="10.22" height="5.97" fill="#232323"/>
<rect x="204.94" y="476.62" width="10.22" height="5.97" fill="#3aa364"/>
<rect x="215.76" y="476.62" width="10.22" height="5.97" fill="#232323"/>
<rect x="226.58" y="476.62" width="10.22" height="5.97" fill="#3aa364"/>
<text x="25.1" y="488.54" font-size="6.5" text-anchor="end" fill="#222" letter-spacing="0.3">RMD</text>
<text x="26.8" y="487.84" font-size="5.8" fill="#333">27</text>
<text x="41.3" y="488.54" font-size="5.8" text-anchor="end" fill="#0e9aa0">14</text>
<rect x="45.5" y="483.19" width="10.95" height="5.97" fill="#6abe47"/>
<rect x="57.05" y="483.19" width="10.95" height="5.97" fill="#4caf55"/>
<rect x="80" y="483.19" width="11.05" height="5.97" fill="#f4babe"/>
<rect x="91.65" y="483.19" width="11.05" height="5.97" fill="#e4e4f4"/>
<rect x="116.4" y="483.19" width="10.85" height="5.97" fill="#9494d2"/>
<rect x="127.85" y="483.19" width="10.85" height="5.97" fill="#e4e4f4"/>
<rect x="150.2" y="483.19" width="10.45" height="5.97" fill="#237fc4"/>
<rect x="161.25" y="483.19" width="10.45" height="5.97" fill="#3b4fb0"/>
<rect x="183.3" y="483.19" width="10.22" height="5.97" fill="#232323"/>
<rect x="194.12" y="483.19" width="10.22" height="5.97" fill="#3aa364"/>
<rect x="204.94" y="483.19" width="10.22" height="5.97" fill="#232323"/>
<rect x="215.76" y="483.19" width="10.22" height="5.97" fill="#232323"/>
<rect x="226.58" y="483.19" width="10.22" height="5.97" fill="#3aa364"/>
<text x="25.1" y="495.1" font-size="6.5" text-anchor="end" fill="#222" letter-spacing="0.3">RMDD</text>
<text x="26.8" y="494.4" font-size="5.8" fill="#333">29</text>
<text x="41.3" y="495.1" font-size="5.8" text-anchor="end" fill="#0e9aa0">15</text>
<rect x="45.5" y="489.76" width="10.95" height="5.97" fill="#1c5f78"/>
<rect x="57.05" y="489.76" width="10.95" height="5.97" fill="#4caf55"/>
<rect x="80" y="489.76" width="11.05" height="5.97" fill="#ffffff"/>
<rect x="91.65" y="489.76" width="11.05" height="5.97" fill="#fceaeb"/>
<rect x="116.4" y="489.76" width="10.85" height="5.97" fill="#e4e4f4"/>
<rect x="127.85" y="489.76" width="10.85" height="5.97" fill="#f8d3d6"/>
<rect x="150.2" y="489.76" width="10.45" height="5.97" fill="#3b4fb0"/>
<rect x="161.25" y="489.76" width="10.45" height="5.97" fill="#3b4fb0"/>
<rect x="183.3" y="489.76" width="10.22" height="5.97" fill="#232323"/>
<rect x="194.12" y="489.76" width="10.22" height="5.97" fill="#232323"/>
<rect x="204.94" y="489.76" width="10.22" height="5.97" fill="#232323"/>
<rect x="215.76" y="489.76" width="10.22" height="5.97" fill="#232323"/>
<rect x="226.58" y="489.76" width="10.22" height="5.97" fill="#232323"/>
<text x="25.1" y="501.67" font-size="6.5" text-anchor="end" fill="#222" letter-spacing="0.3">RMDV</text>
<text x="26.8" y="500.97" font-size="5.8" fill="#333">28</text>
<text x="41.3" y="501.67" font-size="5.8" text-anchor="end" fill="#0e9aa0">15</text>
<rect x="45.5" y="496.32" width="10.95" height="5.97" fill="#36985f"/>
<rect x="57.05" y="496.32" width="10.95" height="5.97" fill="#4caf55"/>
<rect x="80" y="496.32" width="11.05" height="5.97" fill="#efa0a6"/>
<rect x="91.65" y="496.32" width="11.05" height="5.97" fill="#f8d3d6"/>
<rect x="116.4" y="496.32" width="10.85" height="5.97" fill="#5458b4"/>
<rect x="127.85" y="496.32" width="10.85" height="5.97" fill="#9494d2"/>
<rect x="150.2" y="496.32" width="10.45" height="5.97" fill="#3b4fb0"/>
<rect x="161.25" y="496.32" width="10.45" height="5.97" fill="#3b4fb0"/>
<rect x="183.3" y="496.32" width="10.22" height="5.97" fill="#232323"/>
<rect x="194.12" y="496.32" width="10.22" height="5.97" fill="#232323"/>
<rect x="204.94" y="496.32" width="10.22" height="5.97" fill="#232323"/>
<rect x="215.76" y="496.32" width="10.22" height="5.97" fill="#232323"/>
<rect x="226.58" y="496.32" width="10.22" height="5.97" fill="#232323"/>
<text x="25.1" y="508.24" font-size="6.5" text-anchor="end" fill="#222" letter-spacing="0.3">RME</text>
<text x="26.8" y="507.54" font-size="5.8" fill="#333">31</text>
<text x="41.3" y="508.24" font-size="5.8" text-anchor="end" fill="#0e9aa0">17</text>
<rect x="45.5" y="502.89" width="10.95" height="5.97" fill="#4caf55"/>
<rect x="57.05" y="502.89" width="10.95" height="5.97" fill="#216f72"/>
<rect x="80" y="502.89" width="11.05" height="5.97" fill="#9494d2"/>
<rect x="91.65" y="502.89" width="11.05" height="5.97" fill="#fceaeb"/>
<rect x="116.4" y="502.89" width="10.85" height="5.97" fill="#efa0a6"/>
<rect x="127.85" y="502.89" width="10.85" height="5.97" fill="#e4e4f4"/>
<rect x="150.2" y="502.89" width="10.45" height="5.97" fill="#3b4fb0"/>
<rect x="161.25" y="502.89" width="10.45" height="5.97" fill="#3b4fb0"/>
<rect x="183.3" y="502.89" width="10.22" height="5.97" fill="#232323"/>
<rect x="194.12" y="502.89" width="10.22" height="5.97" fill="#232323"/>
<rect x="204.94" y="502.89" width="10.22" height="5.97" fill="#f6ea55"/>
<rect x="215.76" y="502.89" width="10.22" height="5.97" fill="#232323"/>
<rect x="226.58" y="502.89" width="10.22" height="5.97" fill="#232323"/>
<text x="25.1" y="514.81" font-size="6.5" text-anchor="end" fill="#222" letter-spacing="0.3">RMED</text>
<text x="26.8" y="514.11" font-size="5.8" fill="#333">27</text>
<text x="41.3" y="514.81" font-size="5.8" text-anchor="end" fill="#0e9aa0">10</text>
<rect x="45.5" y="509.46" width="10.95" height="5.97" fill="#6abe47"/>
<rect x="57.05" y="509.46" width="10.95" height="5.97" fill="#6abe47"/>
<rect x="80" y="509.46" width="11.05" height="5.97" fill="#9494d2"/>
<rect x="91.65" y="509.46" width="11.05" height="5.97" fill="#ababdc"/>
<rect x="116.4" y="509.46" width="10.85" height="5.97" fill="#e4616a"/>
<rect x="127.85" y="509.46" width="10.85" height="5.97" fill="#efa0a6"/>
<rect x="150.2" y="509.46" width="10.45" height="5.97" fill="#1b92c6"/>
<rect x="161.25" y="509.46" width="10.45" height="5.97" fill="#17adb0"/>
<rect x="183.3" y="509.46" width="10.22" height="5.97" fill="#232323"/>
<rect x="194.12" y="509.46" width="10.22" height="5.97" fill="#232323"/>
<rect x="204.94" y="509.46" width="10.22" height="5.97" fill="#c6df55"/>
<rect x="215.76" y="509.46" width="10.22" height="5.97" fill="#232323"/>
<rect x="226.58" y="509.46" width="10.22" height="5.97" fill="#232323"/>
<text x="25.1" y="521.37" font-size="6.5" text-anchor="end" fill="#222" letter-spacing="0.3">RMEV</text>
<text x="26.8" y="520.67" font-size="5.8" fill="#333">21</text>
<text x="41.3" y="521.37" font-size="5.8" text-anchor="end" fill="#0e9aa0">10</text>
<rect x="45.5" y="516.02" width="10.95" height="5.97" fill="#36985f"/>
<rect x="57.05" y="516.02" width="10.95" height="5.97" fill="#4caf55"/>
<rect x="80" y="516.02" width="11.05" height="5.97" fill="#d4d4ed"/>
<rect x="91.65" y="516.02" width="11.05" height="5.97" fill="#f2f2fa"/>
<rect x="116.4" y="516.02" width="10.85" height="5.97" fill="#efa0a6"/>
<rect x="127.85" y="516.02" width="10.85" height="5.97" fill="#efa0a6"/>
<rect x="150.2" y="516.02" width="10.45" height="5.97" fill="#2b6cc2"/>
<rect x="161.25" y="516.02" width="10.45" height="5.97" fill="#3b4fb0"/>
<rect x="183.3" y="516.02" width="10.22" height="5.97" fill="#232323"/>
<rect x="194.12" y="516.02" width="10.22" height="5.97" fill="#232323"/>
<rect x="204.94" y="516.02" width="10.22" height="5.97" fill="#c6df55"/>
<rect x="215.76" y="516.02" width="10.22" height="5.97" fill="#232323"/>
<rect x="226.58" y="516.02" width="10.22" height="5.97" fill="#232323"/>
<text x="25.1" y="527.94" font-size="6.5" text-anchor="end" fill="#222" letter-spacing="0.3">RMF</text>
<text x="26.8" y="527.24" font-size="5.8" fill="#333">12</text>
<text x="41.3" y="527.94" font-size="5.8" text-anchor="end" fill="#0e9aa0">8</text>
<rect x="45.5" y="522.59" width="10.95" height="5.97" fill="#216f72"/>
<rect x="57.05" y="522.59" width="10.95" height="5.97" fill="#27806b"/>
<rect x="80" y="522.59" width="11.05" height="5.97" fill="#e4e4f4"/>
<rect x="91.65" y="522.59" width="11.05" height="5.97" fill="#ffffff"/>
<rect x="116.4" y="522.59" width="10.85" height="5.97" fill="#f8d3d6"/>
<rect x="127.85" y="522.59" width="10.85" height="5.97" fill="#f8d3d6"/>
<rect x="150.2" y="522.59" width="10.45" height="5.97" fill="#2b6cc2"/>
<rect x="161.25" y="522.59" width="10.45" height="5.97" fill="#2b6cc2"/>
<rect x="183.3" y="522.59" width="10.22" height="5.97" fill="#232323"/>
<rect x="194.12" y="522.59" width="10.22" height="5.97" fill="#3aa364"/>
<rect x="204.94" y="522.59" width="10.22" height="5.97" fill="#232323"/>
<rect x="215.76" y="522.59" width="10.22" height="5.97" fill="#3aa364"/>
<rect x="226.58" y="522.59" width="10.22" height="5.97" fill="#232323"/>
<text x="25.1" y="534.51" font-size="6.5" text-anchor="end" fill="#222" letter-spacing="0.3">RMG</text>
<text x="26.8" y="533.81" font-size="5.8" fill="#333">22</text>
<text x="41.3" y="534.51" font-size="5.8" text-anchor="end" fill="#0e9aa0">12</text>
<rect x="45.5" y="529.16" width="10.95" height="5.97" fill="#1c5f78"/>
<rect x="57.05" y="529.16" width="10.95" height="5.97" fill="#1c5f78"/>
<rect x="80" y="529.16" width="11.05" height="5.97" fill="#ffffff"/>
<rect x="91.65" y="529.16" width="11.05" height="5.97" fill="#ffffff"/>
<rect x="116.4" y="529.16" width="10.85" height="5.97" fill="#efa0a6"/>
<rect x="127.85" y="529.16" width="10.85" height="5.97" fill="#f8d3d6"/>
<rect x="150.2" y="529.16" width="10.45" height="5.97" fill="#62c06c"/>
<rect x="161.25" y="529.16" width="10.45" height="5.97" fill="#62c06c"/>
<rect x="183.3" y="529.16" width="10.22" height="5.97" fill="#232323"/>
<rect x="194.12" y="529.16" width="10.22" height="5.97" fill="#232323"/>
<rect x="204.94" y="529.16" width="10.22" height="5.97" fill="#232323"/>
<rect x="215.76" y="529.16" width="10.22" height="5.97" fill="#232323"/>
<rect x="226.58" y="529.16" width="10.22" height="5.97" fill="#232323"/>
<text x="25.1" y="541.07" font-size="6.5" text-anchor="end" fill="#222" letter-spacing="0.3">SAAD</text>
<text x="26.8" y="540.37" font-size="5.8" fill="#333">22</text>
<text x="41.3" y="541.07" font-size="5.8" text-anchor="end" fill="#0e9aa0">13</text>
<rect x="45.5" y="535.73" width="10.95" height="5.97" fill="#4caf55"/>
<rect x="57.05" y="535.73" width="10.95" height="5.97" fill="#27806b"/>
<rect x="80" y="535.73" width="11.05" height="5.97" fill="#f8d3d6"/>
<rect x="91.65" y="535.73" width="11.05" height="5.97" fill="#f8d3d6"/>
<rect x="116.4" y="535.73" width="10.85" height="5.97" fill="#f8d3d6"/>
<rect x="127.85" y="535.73" width="10.85" height="5.97" fill="#e4e4f4"/>
<rect x="150.2" y="535.73" width="10.45" height="5.97" fill="#3b4fb0"/>
<rect x="161.25" y="535.73" width="10.45" height="5.97" fill="#3b4fb0"/>
<rect x="183.3" y="535.73" width="10.22" height="5.97" fill="#232323"/>
<rect x="194.12" y="535.73" width="10.22" height="5.97" fill="#232323"/>
<rect x="204.94" y="535.73" width="10.22" height="5.97" fill="#232323"/>
<rect x="215.76" y="535.73" width="10.22" height="5.97" fill="#8fcb5c"/>
<rect x="226.58" y="535.73" width="10.22" height="5.97" fill="#2b9865"/>
<text x="25.1" y="547.64" font-size="6.5" text-anchor="end" fill="#222" letter-spacing="0.3">SAAV</text>
<text x="26.8" y="546.94" font-size="5.8" fill="#333">26</text>
<text x="41.3" y="547.64" font-size="5.8" text-anchor="end" fill="#0e9aa0">15</text>
<rect x="45.5" y="542.29" width="10.95" height="5.97" fill="#4caf55"/>
<rect x="57.05" y="542.29" width="10.95" height="5.97" fill="#27806b"/>
<rect x="80" y="542.29" width="11.05" height="5.97" fill="#ea8188"/>
<rect x="91.65" y="542.29" width="11.05" height="5.97" fill="#f8d3d6"/>
<rect x="116.4" y="542.29" width="10.85" height="5.97" fill="#9494d2"/>
<rect x="127.85" y="542.29" width="10.85" height="5.97" fill="#e4e4f4"/>
<rect x="150.2" y="542.29" width="10.45" height="5.97" fill="#3b4fb0"/>
<rect x="161.25" y="542.29" width="10.45" height="5.97" fill="#3b4fb0"/>
<rect x="183.3" y="542.29" width="10.22" height="5.97" fill="#232323"/>
<rect x="194.12" y="542.29" width="10.22" height="5.97" fill="#232323"/>
<rect x="204.94" y="542.29" width="10.22" height="5.97" fill="#232323"/>
<rect x="215.76" y="542.29" width="10.22" height="5.97" fill="#8fcb5c"/>
<rect x="226.58" y="542.29" width="10.22" height="5.97" fill="#1d8c66"/>
<text x="25.1" y="554.21" font-size="6.5" text-anchor="end" fill="#222" letter-spacing="0.3">SIAD</text>
<text x="26.8" y="553.51" font-size="5.8" fill="#333">9</text>
<text x="41.3" y="554.21" font-size="5.8" text-anchor="end" fill="#0e9aa0">10</text>
<rect x="45.5" y="548.86" width="10.95" height="5.97" fill="#36985f"/>
<rect x="57.05" y="548.86" width="10.95" height="5.97" fill="#27806b"/>
<rect x="80" y="548.86" width="11.05" height="5.97" fill="#e4e4f4"/>
<rect x="91.65" y="548.86" width="11.05" height="5.97" fill="#fceaeb"/>
<rect x="116.4" y="548.86" width="10.85" height="5.97" fill="#f8d3d6"/>
<rect x="127.85" y="548.86" width="10.85" height="5.97" fill="#f8d3d6"/>
<rect x="150.2" y="548.86" width="10.45" height="5.97" fill="#3fbf8e"/>
<rect x="161.25" y="548.86" width="10.45" height="5.97" fill="#3b4fb0"/>
<rect x="183.3" y="548.86" width="10.22" height="5.97" fill="#232323"/>
<rect x="194.12" y="548.86" width="10.22" height="5.97" fill="#8fcb5c"/>
<rect x="204.94" y="548.86" width="10.22" height="5.97" fill="#232323"/>
<rect x="215.76" y="548.86" width="10.22" height="5.97" fill="#232323"/>
<rect x="226.58" y="548.86" width="10.22" height="5.97" fill="#232323"/>
<text x="25.1" y="560.77" font-size="6.5" text-anchor="end" fill="#222" letter-spacing="0.3">SIAV</text>
<text x="26.8" y="560.07" font-size="5.8" fill="#333">24</text>
<text x="41.3" y="560.77" font-size="5.8" text-anchor="end" fill="#0e9aa0">7</text>
<rect x="45.5" y="555.43" width="10.95" height="5.97" fill="#94cb3c"/>
<rect x="57.05" y="555.43" width="10.95" height="5.97" fill="#36985f"/>
<rect x="80" y="555.43" width="11.05" height="5.97" fill="#e4e4f4"/>
<rect x="91.65" y="555.43" width="11.05" height="5.97" fill="#f2f2fa"/>
<rect x="116.4" y="555.43" width="10.85" height="5.97" fill="#ffffff"/>
<rect x="127.85" y="555.43" width="10.85" height="5.97" fill="#f4babe"/>
<rect x="150.2" y="555.43" width="10.45" height="5.97" fill="#3b4fb0"/>
<rect x="161.25" y="555.43" width="10.45" height="5.97" fill="#62c06c"/>
<rect x="183.3" y="555.43" width="10.22" height="5.97" fill="#232323"/>
<rect x="194.12" y="555.43" width="10.22" height="5.97" fill="#8fcb5c"/>
<rect x="204.94" y="555.43" width="10.22" height="5.97" fill="#232323"/>
<rect x="215.76" y="555.43" width="10.22" height="5.97" fill="#232323"/>
<rect x="226.58" y="555.43" width="10.22" height="5.97" fill="#232323"/>
<text x="25.1" y="567.34" font-size="6.5" text-anchor="end" fill="#222" letter-spacing="0.3">SIBD</text>
<text x="26.8" y="566.64" font-size="5.8" fill="#333">5</text>
<text x="41.3" y="567.34" font-size="5.8" text-anchor="end" fill="#0e9aa0">1</text>
<rect x="45.2" y="561.69" width="23.1" height="6.57" fill="#000"/>
<rect x="79.7" y="561.69" width="23.3" height="6.57" fill="#000"/>
<rect x="116.1" y="561.69" width="22.9" height="6.57" fill="#000"/>
<rect x="149.9" y="561.69" width="22.1" height="6.57" fill="#000"/>
<rect x="183.3" y="561.99" width="10.22" height="5.97" fill="#232323"/>
<rect x="194.12" y="561.99" width="10.22" height="5.97" fill="#232323"/>
<rect x="204.94" y="561.99" width="10.22" height="5.97" fill="#3aa364"/>
<rect x="215.76" y="561.99" width="10.22" height="5.97" fill="#232323"/>
<rect x="226.58" y="561.99" width="10.22" height="5.97" fill="#232323"/>
<text x="25.1" y="573.91" font-size="6.5" text-anchor="end" fill="#222" letter-spacing="0.3">SIBV</text>
<text x="26.8" y="573.21" font-size="5.8" fill="#333">17</text>
<text x="41.3" y="573.91" font-size="5.8" text-anchor="end" fill="#0e9aa0">12</text>
<rect x="45.5" y="568.56" width="10.95" height="5.97" fill="#6abe47"/>
<rect x="57.05" y="568.56" width="10.95" height="5.97" fill="#6abe47"/>
<rect x="80" y="568.56" width="11.05" height="5.97" fill="#9494d2"/>
<rect x="91.65" y="568.56" width="11.05" height="5.97" fill="#7476c3"/>
<rect x="116.4" y="568.56" width="10.85" height="5.97" fill="#e4616a"/>
<rect x="127.85" y="568.56" width="10.85" height="5.97" fill="#e4616a"/>
<rect x="150.2" y="568.56" width="10.45" height="5.97" fill="#3b4fb0"/>
<rect x="161.25" y="568.56" width="10.45" height="5.97" fill="#3b4fb0"/>
<rect x="183.3" y="568.56" width="10.22" height="5.97" fill="#232323"/>
<rect x="194.12" y="568.56" width="10.22" height="5.97" fill="#232323"/>
<rect x="204.94" y="568.56" width="10.22" height="5.97" fill="#3aa364"/>
<rect x="215.76" y="568.56" width="10.22" height="5.97" fill="#232323"/>
<rect x="226.58" y="568.56" width="10.22" height="5.97" fill="#232323"/>
<text x="25.1" y="580.48" font-size="6.5" text-anchor="end" fill="#222" letter-spacing="0.3">SMBD</text>
<text x="26.8" y="579.78" font-size="5.8" fill="#333">27</text>
<text x="41.3" y="580.48" font-size="5.8" text-anchor="end" fill="#0e9aa0">14</text>
<rect x="45.5" y="575.13" width="10.95" height="5.97" fill="#4caf55"/>
<rect x="57.05" y="575.13" width="10.95" height="5.97" fill="#36985f"/>
<rect x="80" y="575.13" width="11.05" height="5.97" fill="#f2f2fa"/>
<rect x="91.65" y="575.13" width="11.05" height="5.97" fill="#ffffff"/>
<rect x="116.4" y="575.13" width="10.85" height="5.97" fill="#fceaeb"/>
<rect x="127.85" y="575.13" width="10.85" height="5.97" fill="#efa0a6"/>
<rect x="150.2" y="575.13" width="10.45" height="5.97" fill="#3b4fb0"/>
<rect x="161.25" y="575.13" width="10.45" height="5.97" fill="#3b4fb0"/>
<rect x="183.3" y="575.13" width="10.22" height="5.97" fill="#232323"/>
<rect x="194.12" y="575.13" width="10.22" height="5.97" fill="#232323"/>
<rect x="204.94" y="575.13" width="10.22" height="5.97" fill="#8fcb5c"/>
<rect x="215.76" y="575.13" width="10.22" height="5.97" fill="#232323"/>
<rect x="226.58" y="575.13" width="10.22" height="5.97" fill="#3aa364"/>
<text x="25.1" y="587.04" font-size="6.5" text-anchor="end" fill="#222" letter-spacing="0.3">SMBV</text>
<text x="26.8" y="586.34" font-size="5.8" fill="#333">28</text>
<text x="41.3" y="587.04" font-size="5.8" text-anchor="end" fill="#0e9aa0">14</text>
<rect x="45.5" y="581.7" width="10.95" height="5.97" fill="#4caf55"/>
<rect x="57.05" y="581.7" width="10.95" height="5.97" fill="#41a45a"/>
<rect x="80" y="581.7" width="11.05" height="5.97" fill="#c3c3e6"/>
<rect x="91.65" y="581.7" width="11.05" height="5.97" fill="#c3c3e6"/>
<rect x="116.4" y="581.7" width="10.85" height="5.97" fill="#f8d3d6"/>
<rect x="127.85" y="581.7" width="10.85" height="5.97" fill="#f8d3d6"/>
<rect x="150.2" y="581.7" width="10.45" height="5.97" fill="#3b4fb0"/>
<rect x="161.25" y="581.7" width="10.45" height="5.97" fill="#3b4fb0"/>
<rect x="183.3" y="581.7" width="10.22" height="5.97" fill="#232323"/>
<rect x="194.12" y="581.7" width="10.22" height="5.97" fill="#232323"/>
<rect x="204.94" y="581.7" width="10.22" height="5.97" fill="#8fcb5c"/>
<rect x="215.76" y="581.7" width="10.22" height="5.97" fill="#232323"/>
<rect x="226.58" y="581.7" width="10.22" height="5.97" fill="#2b9865"/>
<text x="25.1" y="593.61" font-size="6.5" text-anchor="end" fill="#222" letter-spacing="0.3">SMDD</text>
<text x="26.8" y="592.91" font-size="5.8" fill="#333">29</text>
<text x="41.3" y="593.61" font-size="5.8" text-anchor="end" fill="#0e9aa0">13</text>
<rect x="45.5" y="588.26" width="10.95" height="5.97" fill="#6abe47"/>
<rect x="57.05" y="588.26" width="10.95" height="5.97" fill="#4caf55"/>
<rect x="80" y="588.26" width="11.05" height="5.97" fill="#c3c3e6"/>
<rect x="91.65" y="588.26" width="11.05" height="5.97" fill="#c3c3e6"/>
<rect x="116.4" y="588.26" width="10.85" height="5.97" fill="#efa0a6"/>
<rect x="127.85" y="588.26" width="10.85" height="5.97" fill="#efa0a6"/>
<rect x="150.2" y="588.26" width="10.45" height="5.97" fill="#3b4fb0"/>
<rect x="161.25" y="588.26" width="10.45" height="5.97" fill="#3b4fb0"/>
<rect x="183.3" y="588.26" width="10.22" height="5.97" fill="#232323"/>
<rect x="194.12" y="588.26" width="10.22" height="5.97" fill="#2b9865"/>
<rect x="204.94" y="588.26" width="10.22" height="5.97" fill="#232323"/>
<rect x="215.76" y="588.26" width="10.22" height="5.97" fill="#232323"/>
<rect x="226.58" y="588.26" width="10.22" height="5.97" fill="#2b9865"/>
<text x="25.1" y="600.18" font-size="6.5" text-anchor="end" fill="#222" letter-spacing="0.3">SMDV</text>
<text x="26.8" y="599.48" font-size="5.8" fill="#333">31</text>
<text x="41.3" y="600.18" font-size="5.8" text-anchor="end" fill="#0e9aa0">17</text>
<rect x="45.5" y="594.83" width="10.95" height="5.97" fill="#6abe47"/>
<rect x="57.05" y="594.83" width="10.95" height="5.97" fill="#7fc541"/>
<rect x="80" y="594.83" width="11.05" height="5.97" fill="#d4d4ed"/>
<rect x="91.65" y="594.83" width="11.05" height="5.97" fill="#c3c3e6"/>
<rect x="116.4" y="594.83" width="10.85" height="5.97" fill="#9494d2"/>
<rect x="127.85" y="594.83" width="10.85" height="5.97" fill="#ffffff"/>
<rect x="150.2" y="594.83" width="10.45" height="5.97" fill="#3b4fb0"/>
<rect x="161.25" y="594.83" width="10.45" height="5.97" fill="#3b4fb0"/>
<rect x="183.3" y="594.83" width="10.22" height="5.97" fill="#232323"/>
<rect x="194.12" y="594.83" width="10.22" height="5.97" fill="#1d8c66"/>
<rect x="204.94" y="594.83" width="10.22" height="5.97" fill="#232323"/>
<rect x="215.76" y="594.83" width="10.22" height="5.97" fill="#232323"/>
<rect x="226.58" y="594.83" width="10.22" height="5.97" fill="#2b9865"/>
<text x="25.1" y="606.74" font-size="6.5" text-anchor="end" fill="#222" letter-spacing="0.3">URAD</text>
<text x="26.8" y="606.04" font-size="5.8" fill="#333">26</text>
<text x="41.3" y="606.74" font-size="5.8" text-anchor="end" fill="#0e9aa0">12</text>
<rect x="45.5" y="601.4" width="10.95" height="5.97" fill="#4caf55"/>
<rect x="57.05" y="601.4" width="10.95" height="5.97" fill="#6abe47"/>
<rect x="80" y="601.4" width="11.05" height="5.97" fill="#ffffff"/>
<rect x="91.65" y="601.4" width="11.05" height="5.97" fill="#ffffff"/>
<rect x="116.4" y="601.4" width="10.85" height="5.97" fill="#efa0a6"/>
<rect x="127.85" y="601.4" width="10.85" height="5.97" fill="#efa0a6"/>
<rect x="150.2" y="601.4" width="10.45" height="5.97" fill="#62c06c"/>
<rect x="161.25" y="601.4" width="10.45" height="5.97" fill="#62c06c"/>
<rect x="183.3" y="601.4" width="10.22" height="5.97" fill="#64b760"/>
<rect x="194.12" y="601.4" width="10.22" height="5.97" fill="#232323"/>
<rect x="204.94" y="601.4" width="10.22" height="5.97" fill="#232323"/>
<rect x="215.76" y="601.4" width="10.22" height="5.97" fill="#232323"/>
<rect x="226.58" y="601.4" width="10.22" height="5.97" fill="#232323"/>
<text x="25.1" y="613.31" font-size="6.5" text-anchor="end" fill="#222" letter-spacing="0.3">URAV</text>
<text x="26.8" y="612.61" font-size="5.8" fill="#333">25</text>
<text x="41.3" y="613.31" font-size="5.8" text-anchor="end" fill="#0e9aa0">11</text>
<rect x="45.5" y="607.96" width="10.95" height="5.97" fill="#4caf55"/>
<rect x="57.05" y="607.96" width="10.95" height="5.97" fill="#6abe47"/>
<rect x="80" y="607.96" width="11.05" height="5.97" fill="#fceaeb"/>
<rect x="91.65" y="607.96" width="11.05" height="5.97" fill="#f8d3d6"/>
<rect x="116.4" y="607.96" width="10.85" height="5.97" fill="#f8d3d6"/>
<rect x="127.85" y="607.96" width="10.85" height="5.97" fill="#fceaeb"/>
<rect x="150.2" y="607.96" width="10.45" height="5.97" fill="#62c06c"/>
<rect x="161.25" y="607.96" width="10.45" height="5.97" fill="#3b4fb0"/>
<rect x="183.3" y="607.96" width="10.22" height="5.97" fill="#8fcb5c"/>
<rect x="194.12" y="607.96" width="10.22" height="5.97" fill="#232323"/>
<rect x="204.94" y="607.96" width="10.22" height="5.97" fill="#232323"/>
<rect x="215.76" y="607.96" width="10.22" height="5.97" fill="#232323"/>
<rect x="226.58" y="607.96" width="10.22" height="5.97" fill="#232323"/>
<text x="25.1" y="619.88" font-size="6.5" text-anchor="end" fill="#222" letter-spacing="0.3">URB</text>
<text x="26.8" y="619.18" font-size="5.8" fill="#333">30</text>
<text x="41.3" y="619.88" font-size="5.8" text-anchor="end" fill="#0e9aa0">16</text>
<rect x="45.5" y="614.53" width="10.95" height="5.97" fill="#36985f"/>
<rect x="57.05" y="614.53" width="10.95" height="5.97" fill="#216f72"/>
<rect x="80" y="614.53" width="11.05" height="5.97" fill="#ffffff"/>
<rect x="91.65" y="614.53" width="11.05" height="5.97" fill="#fceaeb"/>
<rect x="116.4" y="614.53" width="10.85" height="5.97" fill="#f4babe"/>
<rect x="127.85" y="614.53" width="10.85" height="5.97" fill="#ffffff"/>
<rect x="150.2" y="614.53" width="10.45" height="5.97" fill="#3b4fb0"/>
<rect x="161.25" y="614.53" width="10.45" height="5.97" fill="#3b4fb0"/>
<rect x="183.3" y="614.53" width="10.22" height="5.97" fill="#c6df55"/>
<rect x="194.12" y="614.53" width="10.22" height="5.97" fill="#232323"/>
<rect x="204.94" y="614.53" width="10.22" height="5.97" fill="#3aa364"/>
<rect x="215.76" y="614.53" width="10.22" height="5.97" fill="#2b9865"/>
<rect x="226.58" y="614.53" width="10.22" height="5.97" fill="#232323"/>
<text x="25.1" y="626.44" font-size="6.5" text-anchor="end" fill="#222" letter-spacing="0.3">URX</text>
<text x="26.8" y="625.74" font-size="5.8" fill="#333">30</text>
<text x="41.3" y="626.44" font-size="5.8" text-anchor="end" fill="#0e9aa0">17</text>
<rect x="45.5" y="621.1" width="10.95" height="5.97" fill="#6abe47"/>
<rect x="57.05" y="621.1" width="10.95" height="5.97" fill="#4caf55"/>
<rect x="80" y="621.1" width="11.05" height="5.97" fill="#9494d2"/>
<rect x="91.65" y="621.1" width="11.05" height="5.97" fill="#7476c3"/>
<rect x="116.4" y="621.1" width="10.85" height="5.97" fill="#ea8188"/>
<rect x="127.85" y="621.1" width="10.85" height="5.97" fill="#ea8188"/>
<rect x="150.2" y="621.1" width="10.45" height="5.97" fill="#3b4fb0"/>
<rect x="161.25" y="621.1" width="10.45" height="5.97" fill="#3b4fb0"/>
<rect x="183.3" y="621.1" width="10.22" height="5.97" fill="#232323"/>
<rect x="194.12" y="621.1" width="10.22" height="5.97" fill="#232323"/>
<rect x="204.94" y="621.1" width="10.22" height="5.97" fill="#232323"/>
<rect x="215.76" y="621.1" width="10.22" height="5.97" fill="#232323"/>
<rect x="226.58" y="621.1" width="10.22" height="5.97" fill="#232323"/>
<text x="25.1" y="633.01" font-size="6.5" text-anchor="end" fill="#222" letter-spacing="0.3">URYD</text>
<text x="26.8" y="632.31" font-size="5.8" fill="#333">29</text>
<text x="41.3" y="633.01" font-size="5.8" text-anchor="end" fill="#0e9aa0">17</text>
<rect x="45.5" y="627.66" width="10.95" height="5.97" fill="#36985f"/>
<rect x="57.05" y="627.66" width="10.95" height="5.97" fill="#36985f"/>
<rect x="80" y="627.66" width="11.05" height="5.97" fill="#f4babe"/>
<rect x="91.65" y="627.66" width="11.05" height="5.97" fill="#efa0a6"/>
<rect x="116.4" y="627.66" width="10.85" height="5.97" fill="#9494d2"/>
<rect x="127.85" y="627.66" width="10.85" height="5.97" fill="#9494d2"/>
<rect x="150.2" y="627.66" width="10.45" height="5.97" fill="#19a0bb"/>
<rect x="161.25" y="627.66" width="10.45" height="5.97" fill="#3b4fb0"/>
<rect x="183.3" y="627.66" width="10.22" height="5.97" fill="#232323"/>
<rect x="194.12" y="627.66" width="10.22" height="5.97" fill="#232323"/>
<rect x="204.94" y="627.66" width="10.22" height="5.97" fill="#64b760"/>
<rect x="215.76" y="627.66" width="10.22" height="5.97" fill="#232323"/>
<rect x="226.58" y="627.66" width="10.22" height="5.97" fill="#8fcb5c"/>
<text x="25.1" y="639.58" font-size="6.5" text-anchor="end" fill="#222" letter-spacing="0.3">URYV</text>
<text x="26.8" y="638.88" font-size="5.8" fill="#333">32</text>
<text x="41.3" y="639.58" font-size="5.8" text-anchor="end" fill="#0e9aa0">15</text>
<rect x="45.5" y="634.23" width="10.95" height="5.97" fill="#36985f"/>
<rect x="57.05" y="634.23" width="10.95" height="5.97" fill="#36985f"/>
<rect x="80" y="634.23" width="11.05" height="5.97" fill="#f8d3d6"/>
<rect x="91.65" y="634.23" width="11.05" height="5.97" fill="#efa0a6"/>
<rect x="116.4" y="634.23" width="10.85" height="5.97" fill="#9494d2"/>
<rect x="127.85" y="634.23" width="10.85" height="5.97" fill="#9494d2"/>
<rect x="150.2" y="634.23" width="10.45" height="5.97" fill="#1b92c6"/>
<rect x="161.25" y="634.23" width="10.45" height="5.97" fill="#3b4fb0"/>
<rect x="183.3" y="634.23" width="10.22" height="5.97" fill="#232323"/>
<rect x="194.12" y="634.23" width="10.22" height="5.97" fill="#232323"/>
<rect x="204.94" y="634.23" width="10.22" height="5.97" fill="#64b760"/>
<rect x="215.76" y="634.23" width="10.22" height="5.97" fill="#232323"/>
<rect x="226.58" y="634.23" width="10.22" height="5.97" fill="#64b760"/>
<text x="25.1" y="646.15" font-size="6.5" text-anchor="end" fill="#222" letter-spacing="0.3">VB01</text>
<text x="26.8" y="645.45" font-size="5.8" fill="#333">5</text>
<text x="41.3" y="646.15" font-size="5.8" text-anchor="end" fill="#0e9aa0">3</text>
<rect x="45.2" y="640.5" width="23.1" height="6.57" fill="#000"/>
<rect x="79.7" y="640.5" width="23.3" height="6.57" fill="#000"/>
<rect x="116.1" y="640.5" width="22.9" height="6.57" fill="#000"/>
<rect x="149.9" y="640.5" width="22.1" height="6.57" fill="#000"/>
<rect x="183.3" y="640.8" width="10.22" height="5.97" fill="#232323"/>
<rect x="194.12" y="640.8" width="10.22" height="5.97" fill="#232323"/>
<rect x="204.94" y="640.8" width="10.22" height="5.97" fill="#3aa364"/>
<rect x="215.76" y="640.8" width="10.22" height="5.97" fill="#232323"/>
<rect x="226.58" y="640.8" width="10.22" height="5.97" fill="#232323"/>
<text x="25.1" y="652.71" font-size="6.5" text-anchor="end" fill="#222" letter-spacing="0.3">VB02</text>
<text x="26.8" y="652.01" font-size="5.8" fill="#333">17</text>
<text x="41.3" y="652.71" font-size="5.8" text-anchor="end" fill="#0e9aa0">10</text>
<rect x="45.5" y="647.37" width="10.95" height="5.97" fill="#94cb3c"/>
<rect x="57.05" y="647.37" width="10.95" height="5.97" fill="#6abe47"/>
<rect x="80" y="647.37" width="11.05" height="5.97" fill="#ababdc"/>
<rect x="91.65" y="647.37" width="11.05" height="5.97" fill="#ababdc"/>
<rect x="116.4" y="647.37" width="10.85" height="5.97" fill="#efa0a6"/>
<rect x="127.85" y="647.37" width="10.85" height="5.97" fill="#f8d3d6"/>
<rect x="150.2" y="647.37" width="10.45" height="5.97" fill="#3b4fb0"/>
<rect x="161.25" y="647.37" width="10.45" height="5.97" fill="#3b4fb0"/>
<rect x="183.3" y="647.37" width="10.22" height="5.97" fill="#232323"/>
<rect x="194.12" y="647.37" width="10.22" height="5.97" fill="#232323"/>
<rect x="204.94" y="647.37" width="10.22" height="5.97" fill="#232323"/>
<rect x="215.76" y="647.37" width="10.22" height="5.97" fill="#232323"/>
<rect x="226.58" y="647.37" width="10.22" height="5.97" fill="#232323"/>
<text x="71.3" y="386.6" font-size="9.4" text-anchor="middle" fill="#111">*</text>
<text x="71.3" y="498.24" font-size="9.4" text-anchor="middle" fill="#111">*</text>
<text x="71.3" y="511.37" font-size="9.4" text-anchor="middle" fill="#111">*</text>
<text x="106.2" y="91.09" font-size="9.4" text-anchor="middle" fill="#111">*</text>
<text x="106.2" y="268.4" font-size="9.4" text-anchor="middle" fill="#111">*</text>
<text x="106.2" y="406.3" font-size="9.4" text-anchor="middle" fill="#111">*</text>
<text x="106.2" y="511.37" font-size="9.4" text-anchor="middle" fill="#111">*</text>
<text x="142.3" y="71.39" font-size="9.4" text-anchor="middle" fill="#111">*</text>
<text x="142.3" y="91.09" font-size="9.4" text-anchor="middle" fill="#111">*</text>
<text x="142.3" y="156.76" font-size="9.4" text-anchor="middle" fill="#111">*</text>
<text x="142.3" y="176.46" font-size="9.4" text-anchor="middle" fill="#111">*</text>
<text x="142.3" y="189.59" font-size="9.4" text-anchor="middle" fill="#111">*</text>
<text x="142.3" y="314.36" font-size="9.4" text-anchor="middle" fill="#111">*</text>
<text x="142.3" y="320.93" font-size="9.4" text-anchor="middle" fill="#111">*</text>
<text x="142.3" y="327.5" font-size="9.4" text-anchor="middle" fill="#111">*</text>
<text x="142.3" y="386.6" font-size="9.4" text-anchor="middle" fill="#111">*</text>
<text x="142.3" y="393.17" font-size="9.4" text-anchor="middle" fill="#111">*</text>
<text x="142.3" y="439.14" font-size="9.4" text-anchor="middle" fill="#111">*</text>
<text x="142.3" y="445.7" font-size="9.4" text-anchor="middle" fill="#111">*</text>
<text x="142.3" y="491.67" font-size="9.4" text-anchor="middle" fill="#111">*</text>
<text x="142.3" y="498.24" font-size="9.4" text-anchor="middle" fill="#111">*</text>
<text x="142.3" y="504.81" font-size="9.4" text-anchor="middle" fill="#111">*</text>
<text x="142.3" y="511.37" font-size="9.4" text-anchor="middle" fill="#111">*</text>
<text x="142.3" y="537.64" font-size="9.4" text-anchor="middle" fill="#111">*</text>
<text x="142.3" y="544.21" font-size="9.4" text-anchor="middle" fill="#111">*</text>
<text x="142.3" y="550.78" font-size="9.4" text-anchor="middle" fill="#111">*</text>
<text x="142.3" y="583.61" font-size="9.4" text-anchor="middle" fill="#111">*</text>
<text x="142.3" y="603.31" font-size="9.4" text-anchor="middle" fill="#111">*</text>
<text x="142.3" y="623.01" font-size="9.4" text-anchor="middle" fill="#111">*</text>
<text x="175.6" y="439.14" font-size="9.4" text-anchor="middle" fill="#111">*</text>
<text x="175.6" y="504.81" font-size="9.4" text-anchor="middle" fill="#111">*</text>
<text x="56.77" y="661.3" font-size="7.7" text-anchor="end" transform="rotate(-45 56.77 661.3)">WT</text>
<text x="70.43" y="661.3" font-size="7.7" text-anchor="end" font-style="italic" transform="rotate(-45 70.43 661.3)">tdc-1</text>
<text x="91.33" y="661.3" font-size="7.7" text-anchor="end" transform="rotate(-45 91.33 661.3)">WT</text>
<text x="105.08" y="661.3" font-size="7.7" text-anchor="end" font-style="italic" transform="rotate(-45 105.08 661.3)">tdc-1</text>
<text x="127.62" y="661.3" font-size="7.7" text-anchor="end" transform="rotate(-45 127.62 661.3)">WT</text>
<text x="141.18" y="661.3" font-size="7.7" text-anchor="end" font-style="italic" transform="rotate(-45 141.18 661.3)">tdc-1</text>
<text x="161.23" y="661.3" font-size="7.7" text-anchor="end" transform="rotate(-45 161.23 661.3)">WT</text>
<text x="174.38" y="661.3" font-size="7.7" text-anchor="end" font-style="italic" transform="rotate(-45 174.38 661.3)">tdc-1</text>
<text x="193.61" y="660.8" font-size="7.7" text-anchor="end" font-style="italic" transform="rotate(-45 193.61 660.8)">lgc-39</text>
<text x="204.43" y="660.8" font-size="7.7" text-anchor="end" font-style="italic" transform="rotate(-45 204.43 660.8)">lgc-55</text>
<text x="215.25" y="660.8" font-size="7.7" text-anchor="end" font-style="italic" transform="rotate(-45 215.25 660.8)">ser-2</text>
<text x="226.07" y="660.8" font-size="7.7" text-anchor="end" font-style="italic" transform="rotate(-45 226.07 660.8)">tyra-2</text>
<text x="236.89" y="660.8" font-size="7.7" text-anchor="end" font-style="italic" transform="rotate(-45 236.89 660.8)">tyra-3</text>
<rect x="46.9" y="682" width="7.6" height="45.200000000000045" fill="url(#cbA)" stroke="#666" stroke-width="0.4"/>
<rect x="85.2" y="682" width="7.6" height="45.200000000000045" fill="url(#cbF)" stroke="#666" stroke-width="0.4"/>
<rect x="120.2" y="682" width="7.6" height="45.200000000000045" fill="url(#cbR)" stroke="#666" stroke-width="0.4"/>
<rect x="158.7" y="682" width="7.6" height="45.200000000000045" fill="url(#cbT)" stroke="#666" stroke-width="0.4"/>
<rect x="204.0" y="681" width="7.6" height="40.5" fill="url(#cbY)" stroke="#666" stroke-width="0.4"/>
<text x="56.3" y="688.6" font-size="7.2">0.5</text>
<text x="56.3" y="727.2" font-size="7.2">0</text>
<text x="95.3" y="688.6" font-size="7.2">5</text>
<text x="95.3" y="707.5" font-size="7.2">0</text>
<text x="94.3" y="727.2" font-size="7.2">−5</text>
<text x="130.3" y="688.6" font-size="7.2">1</text>
<text x="130.3" y="707.5" font-size="7.2">0</text>
<text x="129.3" y="727.2" font-size="7.2">−1</text>
<text x="170" y="686.5" font-size="7.2">45</text>
<text x="170" y="713.5" font-size="7.2">10</text>
<text x="170" y="727.2" font-size="7.2">0</text>
<text x="216.2" y="685" font-size="7.8">800</text>
<text x="216.2" y="704.8" font-size="7.8">400</text>
<line x1="54.5" y1="686" x2="56.1" y2="686" stroke="#222" stroke-width="0.5"/>
<line x1="54.5" y1="724.6" x2="56.1" y2="724.6" stroke="#222" stroke-width="0.5"/>
<line x1="92.8" y1="686" x2="94.4" y2="686" stroke="#222" stroke-width="0.5"/>
<line x1="92.8" y1="705" x2="94.4" y2="705" stroke="#222" stroke-width="0.5"/>
<line x1="92.8" y1="724.6" x2="94.4" y2="724.6" stroke="#222" stroke-width="0.5"/>
<line x1="127.8" y1="686" x2="129.4" y2="686" stroke="#222" stroke-width="0.5"/>
<line x1="127.8" y1="705" x2="129.4" y2="705" stroke="#222" stroke-width="0.5"/>
<line x1="127.8" y1="724.6" x2="129.4" y2="724.6" stroke="#222" stroke-width="0.5"/>
<line x1="166.3" y1="684" x2="167.9" y2="684" stroke="#222" stroke-width="0.5"/>
<line x1="166.3" y1="711" x2="167.9" y2="711" stroke="#222" stroke-width="0.5"/>
<line x1="166.3" y1="724.6" x2="167.9" y2="724.6" stroke="#222" stroke-width="0.5"/>
<line x1="211.6" y1="682.5" x2="213.2" y2="682.5" stroke="#222" stroke-width="0.5"/>
<line x1="211.6" y1="702.5" x2="213.2" y2="702.5" stroke="#222" stroke-width="0.5"/>
<line x1="164.3" y1="714" x2="166.3" y2="714" stroke="#222" stroke-width="0.4"/>
<line x1="164.3" y1="716.5" x2="166.3" y2="716.5" stroke="#222" stroke-width="0.4"/>
<line x1="164.3" y1="718.5" x2="166.3" y2="718.5" stroke="#222" stroke-width="0.4"/>
<line x1="164.3" y1="720.5" x2="166.3" y2="720.5" stroke="#222" stroke-width="0.4"/>
<line x1="164.3" y1="722.5" x2="166.3" y2="722.5" stroke="#222" stroke-width="0.4"/>
<text x="41.5" y="704.5" font-size="7.8" text-anchor="middle" transform="rotate(-90 41.5 704.5)">Signal</text>
<text x="80.5" y="704.5" font-size="7.8" text-anchor="middle" transform="rotate(-90 80.5 704.5)">Forwardness</text>
<text x="115.3" y="704.5" font-size="7.8" text-anchor="middle" transform="rotate(-90 115.3 704.5)">Mean GCaMP</text>
<text x="153.8" y="704.5" font-size="7.8" text-anchor="middle" transform="rotate(-90 153.8 704.5)">Half decay</text>
<text x="191.5" y="702" font-size="7.8" text-anchor="middle" transform="rotate(-90 191.5 702)">Expression</text>
<text x="199.8" y="702" font-size="7.8" text-anchor="middle" transform="rotate(-90 199.8 702)">level (TPM)</text>
<rect x="85.8" y="734.6" width="8" height="7.8" fill="#232323"/>
<text x="97.2" y="740.8" font-size="7.65">Insufficent data</text>
<rect x="171.2" y="733.2" width="8.2" height="7.8" fill="#232323"/>
<text x="183.5" y="736.6" font-size="7.5">No expression</text>
<text x="183.5" y="745.3" font-size="7.5">detected</text>
<text x="1.8" y="757" font-size="11.5" fill="#000" font-weight="bold">b</text>
<rect x="39.8" y="805.3" width="12.4" height="48.2" fill="#6d6d6d"/>
<rect x="63.9" y="815.2" width="12.2" height="38.3" fill="#0e9a9c"/>
<circle cx="42.31" cy="782.06" r="1.4" fill="#bcbcbc" opacity="0.85"/>
<circle cx="48.62" cy="782.45" r="1.4" fill="#bcbcbc" opacity="0.85"/>
<circle cx="45.34" cy="789.02" r="1.4" fill="#bcbcbc" opacity="0.85"/>
<circle cx="43.36" cy="790.34" r="1.4" fill="#bcbcbc" opacity="0.85"/>
<circle cx="48.88" cy="789.68" r="1.4" fill="#bcbcbc" opacity="0.85"/>
<circle cx="49.28" cy="791.25" r="1.4" fill="#bcbcbc" opacity="0.85"/>
<circle cx="44.42" cy="794.28" r="1.4" fill="#bcbcbc" opacity="0.85"/>
<circle cx="41" cy="798.22" r="1.4" fill="#bcbcbc" opacity="0.85"/>
<circle cx="44.42" cy="798.61" r="1.4" fill="#bcbcbc" opacity="0.85"/>
<circle cx="47.96" cy="800.19" r="1.4" fill="#bcbcbc" opacity="0.85"/>
<circle cx="42.05" cy="802.56" r="1.4" fill="#bcbcbc" opacity="0.85"/>
<circle cx="45.99" cy="802.16" r="1.4" fill="#bcbcbc" opacity="0.85"/>
<circle cx="49.67" cy="802.56" r="1.4" fill="#bcbcbc" opacity="0.85"/>
<circle cx="51.51" cy="802.82" r="1.4" fill="#bcbcbc" opacity="0.85"/>
<circle cx="41" cy="804.79" r="1.4" fill="#bcbcbc" opacity="0.85"/>
<circle cx="44.02" cy="804.79" r="1.4" fill="#bcbcbc" opacity="0.85"/>
<circle cx="47.57" cy="805.45" r="1.4" fill="#bcbcbc" opacity="0.85"/>
<circle cx="50.59" cy="806.1" r="1.4" fill="#bcbcbc" opacity="0.85"/>
<circle cx="42.31" cy="807.81" r="1.4" fill="#bcbcbc" opacity="0.85"/>
<circle cx="51.91" cy="808.34" r="1.4" fill="#bcbcbc" opacity="0.85"/>
<circle cx="45.99" cy="812.02" r="1.4" fill="#bcbcbc" opacity="0.85"/>
<circle cx="49.67" cy="813.33" r="1.4" fill="#bcbcbc" opacity="0.85"/>
<circle cx="48.36" cy="814.65" r="1.4" fill="#bcbcbc" opacity="0.85"/>
<circle cx="45.34" cy="821.22" r="1.4" fill="#bcbcbc" opacity="0.85"/>
<circle cx="44.02" cy="823.58" r="1.4" fill="#bcbcbc" opacity="0.85"/>
<circle cx="47.04" cy="823.19" r="1.4" fill="#bcbcbc" opacity="0.85"/>
<circle cx="49.67" cy="823.58" r="1.4" fill="#bcbcbc" opacity="0.85"/>
<circle cx="43.1" cy="826.73" r="1.4" fill="#bcbcbc" opacity="0.85"/>
<circle cx="46.25" cy="826.21" r="1.4" fill="#bcbcbc" opacity="0.85"/>
<circle cx="49.28" cy="826.21" r="1.4" fill="#bcbcbc" opacity="0.85"/>
<circle cx="45.34" cy="825.16" r="1.4" fill="#bcbcbc" opacity="0.85"/>
<circle cx="67.02" cy="762.08" r="1.4" fill="#bcbcbc" opacity="0.85"/>
<circle cx="70.96" cy="761.43" r="1.4" fill="#bcbcbc" opacity="0.85"/>
<circle cx="66.36" cy="794.67" r="1.4" fill="#bcbcbc" opacity="0.85"/>
<circle cx="71.62" cy="793.88" r="1.4" fill="#bcbcbc" opacity="0.85"/>
<circle cx="70.3" cy="798.88" r="1.4" fill="#bcbcbc" opacity="0.85"/>
<circle cx="70.96" cy="812.67" r="1.4" fill="#bcbcbc" opacity="0.85"/>
<circle cx="67.02" cy="813.33" r="1.4" fill="#bcbcbc" opacity="0.85"/>
<circle cx="73.59" cy="815.96" r="1.4" fill="#bcbcbc" opacity="0.85"/>
<circle cx="66.36" cy="820.16" r="1.4" fill="#bcbcbc" opacity="0.85"/>
<circle cx="71.62" cy="827.52" r="1.4" fill="#bcbcbc" opacity="0.85"/>
<circle cx="67.67" cy="830.41" r="1.4" fill="#bcbcbc" opacity="0.85"/>
<circle cx="68.99" cy="831.73" r="1.4" fill="#bcbcbc" opacity="0.85"/>
<circle cx="72.93" cy="835.41" r="1.4" fill="#bcbcbc" opacity="0.85"/>
<circle cx="67.28" cy="836.98" r="1.4" fill="#bcbcbc" opacity="0.85"/>
<circle cx="70.96" cy="839.61" r="1.4" fill="#bcbcbc" opacity="0.85"/>
<circle cx="68.33" cy="840.93" r="1.4" fill="#bcbcbc" opacity="0.85"/>
<circle cx="70.3" cy="839.88" r="1.4" fill="#bcbcbc" opacity="0.85"/>
<line x1="46" y1="803.5" x2="46" y2="807.1" stroke="#222" stroke-width="0.6"/>
<line x1="43.6" y1="803.5" x2="48.4" y2="803.5" stroke="#222" stroke-width="0.6"/>
<line x1="43.6" y1="807.1" x2="48.4" y2="807.1" stroke="#222" stroke-width="0.6"/>
<line x1="70" y1="808.6" x2="70" y2="821.8" stroke="#222" stroke-width="0.6"/>
<line x1="67.6" y1="808.6" x2="72.4" y2="808.6" stroke="#222" stroke-width="0.6"/>
<line x1="67.6" y1="821.8" x2="72.4" y2="821.8" stroke="#222" stroke-width="0.6"/>
<line x1="33.8" y1="759.2" x2="33.8" y2="853.5" stroke="#222" stroke-width="0.6"/>
<line x1="33.8" y1="853.5" x2="82" y2="853.5" stroke="#222" stroke-width="0.6"/>
<line x1="31.8" y1="767.4" x2="33.8" y2="767.4" stroke="#222" stroke-width="0.6"/>
<text x="30.5" y="770.15" font-size="7.7" text-anchor="end" letter-spacing="0.15">0.1</text>
<line x1="31.8" y1="784.6" x2="33.8" y2="784.6" stroke="#222" stroke-width="0.6"/>
<text x="30.5" y="787.35" font-size="7.7" text-anchor="end" letter-spacing="0.15">0.08</text>
<line x1="31.8" y1="801.9" x2="33.8" y2="801.9" stroke="#222" stroke-width="0.6"/>
<text x="30.5" y="804.65" font-size="7.7" text-anchor="end" letter-spacing="0.15">0.06</text>
<line x1="31.8" y1="819.1" x2="33.8" y2="819.1" stroke="#222" stroke-width="0.6"/>
<text x="30.5" y="821.85" font-size="7.7" text-anchor="end" letter-spacing="0.15">0.04</text>
<line x1="31.8" y1="836.4" x2="33.8" y2="836.4" stroke="#222" stroke-width="0.6"/>
<text x="30.5" y="839.15" font-size="7.7" text-anchor="end" letter-spacing="0.15">0.02</text>
<line x1="31.8" y1="853.5" x2="33.8" y2="853.5" stroke="#222" stroke-width="0.6"/>
<text x="30.5" y="856.25" font-size="7.7" text-anchor="end" letter-spacing="0.15">0</text>
<text x="7.8" y="807.35" font-size="8.6" text-anchor="middle" transform="rotate(-90 7.8 807.35)">Reversal speed (mm s<tspan baseline-shift="super" font-size="5.5">−1</tspan>)</text>
<rect x="122.9" y="809.1" width="12.3" height="44.2" fill="#6d6d6d"/>
<rect x="147" y="817" width="12.2" height="36.3" fill="#0e9a9c"/>
<circle cx="129.94" cy="782.06" r="1.1" fill="#bcbcbc" opacity="0.85"/>
<circle cx="125.74" cy="786" r="1.1" fill="#bcbcbc" opacity="0.85"/>
<circle cx="128.63" cy="786" r="1.1" fill="#bcbcbc" opacity="0.85"/>
<circle cx="127.71" cy="791.25" r="1.1" fill="#bcbcbc" opacity="0.85"/>
<circle cx="129.02" cy="793.88" r="1.1" fill="#bcbcbc" opacity="0.85"/>
<circle cx="130.99" cy="795.59" r="1.1" fill="#bcbcbc" opacity="0.85"/>
<circle cx="132.96" cy="797.56" r="1.1" fill="#bcbcbc" opacity="0.85"/>
<circle cx="129.02" cy="799.93" r="1.1" fill="#bcbcbc" opacity="0.85"/>
<circle cx="126.79" cy="801.24" r="1.1" fill="#bcbcbc" opacity="0.85"/>
<circle cx="131.25" cy="801.77" r="1.1" fill="#bcbcbc" opacity="0.85"/>
<circle cx="126" cy="803.48" r="1.1" fill="#bcbcbc" opacity="0.85"/>
<circle cx="133.88" cy="804.79" r="1.1" fill="#bcbcbc" opacity="0.85"/>
<circle cx="132.96" cy="806.76" r="1.1" fill="#bcbcbc" opacity="0.85"/>
<circle cx="124.42" cy="806.76" r="1.1" fill="#bcbcbc" opacity="0.85"/>
<circle cx="130.34" cy="808.07" r="1.1" fill="#bcbcbc" opacity="0.85"/>
<circle cx="127.31" cy="813.33" r="1.1" fill="#bcbcbc" opacity="0.85"/>
<circle cx="129.94" cy="813.33" r="1.1" fill="#bcbcbc" opacity="0.85"/>
<circle cx="132.31" cy="813.07" r="1.1" fill="#bcbcbc" opacity="0.85"/>
<circle cx="126" cy="817.01" r="1.1" fill="#bcbcbc" opacity="0.85"/>
<circle cx="129.42" cy="817.27" r="1.1" fill="#bcbcbc" opacity="0.85"/>
<circle cx="132.57" cy="817.01" r="1.1" fill="#bcbcbc" opacity="0.85"/>
<circle cx="125.08" cy="820.95" r="1.1" fill="#bcbcbc" opacity="0.85"/>
<circle cx="132.96" cy="821.48" r="1.1" fill="#bcbcbc" opacity="0.85"/>
<circle cx="130.34" cy="826.47" r="1.1" fill="#bcbcbc" opacity="0.85"/>
<circle cx="128.36" cy="828.44" r="1.1" fill="#bcbcbc" opacity="0.85"/>
<circle cx="127.31" cy="830.41" r="1.1" fill="#bcbcbc" opacity="0.85"/>
<circle cx="131.25" cy="830.41" r="1.1" fill="#bcbcbc" opacity="0.85"/>
<circle cx="126" cy="831.99" r="1.1" fill="#bcbcbc" opacity="0.85"/>
<circle cx="154.65" cy="764.97" r="1.1" fill="#bcbcbc" opacity="0.85"/>
<circle cx="152.67" cy="778.9" r="1.1" fill="#bcbcbc" opacity="0.85"/>
<circle cx="149.13" cy="813.07" r="1.1" fill="#bcbcbc" opacity="0.85"/>
<circle cx="156.62" cy="815.96" r="1.1" fill="#bcbcbc" opacity="0.85"/>
<circle cx="149.39" cy="817.01" r="1.1" fill="#bcbcbc" opacity="0.85"/>
<circle cx="156.62" cy="819.9" r="1.1" fill="#bcbcbc" opacity="0.85"/>
<circle cx="155.3" cy="820.95" r="1.1" fill="#bcbcbc" opacity="0.85"/>
<circle cx="148.07" cy="823.84" r="1.1" fill="#bcbcbc" opacity="0.85"/>
<circle cx="150.05" cy="824.24" r="1.1" fill="#bcbcbc" opacity="0.85"/>
<circle cx="152.67" cy="824.89" r="1.1" fill="#bcbcbc" opacity="0.85"/>
<circle cx="154.38" cy="824.5" r="1.1" fill="#bcbcbc" opacity="0.85"/>
<circle cx="157.01" cy="825.81" r="1.1" fill="#bcbcbc" opacity="0.85"/>
<circle cx="153.33" cy="827.52" r="1.1" fill="#bcbcbc" opacity="0.85"/>
<circle cx="150.44" cy="829.1" r="1.1" fill="#bcbcbc" opacity="0.85"/>
<circle cx="157.01" cy="828.84" r="1.1" fill="#bcbcbc" opacity="0.85"/>
<circle cx="156.62" cy="835.01" r="1.1" fill="#bcbcbc" opacity="0.85"/>
<line x1="129.05" y1="806.7" x2="129.05" y2="811.5" stroke="#222" stroke-width="0.6"/>
<line x1="126.65" y1="806.7" x2="131.45" y2="806.7" stroke="#222" stroke-width="0.6"/>
<line x1="126.65" y1="811.5" x2="131.45" y2="811.5" stroke="#222" stroke-width="0.6"/>
<line x1="153.1" y1="812.6" x2="153.1" y2="821.4" stroke="#222" stroke-width="0.6"/>
<line x1="150.7" y1="812.6" x2="155.5" y2="812.6" stroke="#222" stroke-width="0.6"/>
<line x1="150.7" y1="821.4" x2="155.5" y2="821.4" stroke="#222" stroke-width="0.6"/>
<line x1="116.7" y1="758.3" x2="116.7" y2="853.3" stroke="#222" stroke-width="0.6"/>
<line x1="116.7" y1="853.3" x2="165.5" y2="853.3" stroke="#222" stroke-width="0.6"/>
<line x1="114.7" y1="767.5" x2="116.7" y2="767.5" stroke="#222" stroke-width="0.6"/>
<text x="113.4" y="770.25" font-size="7.7" text-anchor="end" letter-spacing="0.15">20</text>
<line x1="114.7" y1="784.6" x2="116.7" y2="784.6" stroke="#222" stroke-width="0.6"/>
<text x="113.4" y="787.35" font-size="7.7" text-anchor="end" letter-spacing="0.15">16</text>
<line x1="114.7" y1="801.8" x2="116.7" y2="801.8" stroke="#222" stroke-width="0.6"/>
<text x="113.4" y="804.55" font-size="7.7" text-anchor="end" letter-spacing="0.15">12</text>
<line x1="114.7" y1="819" x2="116.7" y2="819" stroke="#222" stroke-width="0.6"/>
<text x="113.4" y="821.75" font-size="7.7" text-anchor="end" letter-spacing="0.15">8</text>
<line x1="114.7" y1="836.2" x2="116.7" y2="836.2" stroke="#222" stroke-width="0.6"/>
<text x="113.4" y="838.95" font-size="7.7" text-anchor="end" letter-spacing="0.15">4</text>
<line x1="114.7" y1="853.3" x2="116.7" y2="853.3" stroke="#222" stroke-width="0.6"/>
<text x="113.4" y="856.05" font-size="7.7" text-anchor="end" letter-spacing="0.15">0</text>
<line x1="115.5" y1="776" x2="116.7" y2="776" stroke="#222" stroke-width="0.5"/>
<line x1="115.5" y1="793.2" x2="116.7" y2="793.2" stroke="#222" stroke-width="0.5"/>
<line x1="115.5" y1="810.4" x2="116.7" y2="810.4" stroke="#222" stroke-width="0.5"/>
<line x1="115.5" y1="827.6" x2="116.7" y2="827.6" stroke="#222" stroke-width="0.5"/>
<line x1="115.5" y1="844.8" x2="116.7" y2="844.8" stroke="#222" stroke-width="0.5"/>
<line x1="115.5" y1="758.9" x2="116.7" y2="758.9" stroke="#222" stroke-width="0.5"/>
<text x="95.8" y="806.8" font-size="8.6" text-anchor="middle" transform="rotate(-90 95.8 806.8)">Reversal length (s)</text>
<text x="140.5" y="769.6" font-size="12" text-anchor="middle" fill="#111">*</text>
<rect x="207.1" y="797.1" width="12.5" height="56.2" fill="#6d6d6d"/>
<rect x="231.1" y="816.3" width="12.3" height="37" fill="#0e9a9c"/>
<circle cx="211.79" cy="764.97" r="1.4" fill="#bcbcbc" opacity="0.85"/>
<circle cx="214.02" cy="764.45" r="1.4" fill="#bcbcbc" opacity="0.85"/>
<circle cx="216.25" cy="766.02" r="1.4" fill="#bcbcbc" opacity="0.85"/>
<circle cx="208.37" cy="769.97" r="1.4" fill="#bcbcbc" opacity="0.85"/>
<circle cx="211.79" cy="771.28" r="1.4" fill="#bcbcbc" opacity="0.85"/>
<circle cx="214.02" cy="777.85" r="1.4" fill="#bcbcbc" opacity="0.85"/>
<circle cx="205.74" cy="779.43" r="1.4" fill="#bcbcbc" opacity="0.85"/>
<circle cx="206.79" cy="783.37" r="1.4" fill="#bcbcbc" opacity="0.85"/>
<circle cx="211" cy="783.76" r="1.4" fill="#bcbcbc" opacity="0.85"/>
<circle cx="214.42" cy="784.16" r="1.4" fill="#bcbcbc" opacity="0.85"/>
<circle cx="218.36" cy="783.76" r="1.4" fill="#bcbcbc" opacity="0.85"/>
<circle cx="208.37" cy="787.05" r="1.4" fill="#bcbcbc" opacity="0.85"/>
<circle cx="213.36" cy="789.02" r="1.4" fill="#bcbcbc" opacity="0.85"/>
<circle cx="216.25" cy="789.68" r="1.4" fill="#bcbcbc" opacity="0.85"/>
<circle cx="220.59" cy="798.22" r="1.4" fill="#bcbcbc" opacity="0.85"/>
<circle cx="208.76" cy="802.16" r="1.4" fill="#bcbcbc" opacity="0.85"/>
<circle cx="215.99" cy="801.77" r="1.4" fill="#bcbcbc" opacity="0.85"/>
<circle cx="221.51" cy="802.82" r="1.4" fill="#bcbcbc" opacity="0.85"/>
<circle cx="206.14" cy="805.18" r="1.4" fill="#bcbcbc" opacity="0.85"/>
<circle cx="212.71" cy="805.45" r="1.4" fill="#bcbcbc" opacity="0.85"/>
<circle cx="217.96" cy="806.1" r="1.4" fill="#bcbcbc" opacity="0.85"/>
<circle cx="209.42" cy="807.81" r="1.4" fill="#bcbcbc" opacity="0.85"/>
<circle cx="214.02" cy="809.39" r="1.4" fill="#bcbcbc" opacity="0.85"/>
<circle cx="206.79" cy="813.33" r="1.4" fill="#bcbcbc" opacity="0.85"/>
<circle cx="211.79" cy="812.67" r="1.4" fill="#bcbcbc" opacity="0.85"/>
<circle cx="218.88" cy="812.28" r="1.4" fill="#bcbcbc" opacity="0.85"/>
<circle cx="215.34" cy="818.32" r="1.4" fill="#bcbcbc" opacity="0.85"/>
<circle cx="213.36" cy="823.58" r="1.4" fill="#bcbcbc" opacity="0.85"/>
<circle cx="216.25" cy="826.21" r="1.4" fill="#bcbcbc" opacity="0.85"/>
<circle cx="211" cy="829.36" r="1.4" fill="#bcbcbc" opacity="0.85"/>
<circle cx="214.42" cy="831.47" r="1.4" fill="#bcbcbc" opacity="0.85"/>
<circle cx="212.71" cy="797.56" r="1.4" fill="#bcbcbc" opacity="0.85"/>
<circle cx="236.75" cy="769.57" r="1.4" fill="#bcbcbc" opacity="0.85"/>
<circle cx="235.05" cy="774.57" r="1.4" fill="#bcbcbc" opacity="0.85"/>
<circle cx="236.36" cy="794.67" r="1.4" fill="#bcbcbc" opacity="0.85"/>
<circle cx="235.05" cy="798.88" r="1.4" fill="#bcbcbc" opacity="0.85"/>
<circle cx="235.44" cy="805.71" r="1.4" fill="#bcbcbc" opacity="0.85"/>
<circle cx="231.76" cy="809.65" r="1.4" fill="#bcbcbc" opacity="0.85"/>
<circle cx="241.62" cy="813.33" r="1.4" fill="#bcbcbc" opacity="0.85"/>
<circle cx="229.13" cy="816.22" r="1.4" fill="#bcbcbc" opacity="0.85"/>
<circle cx="231.1" cy="820.56" r="1.4" fill="#bcbcbc" opacity="0.85"/>
<circle cx="240.3" cy="819.64" r="1.4" fill="#bcbcbc" opacity="0.85"/>
<circle cx="243.59" cy="822.53" r="1.4" fill="#bcbcbc" opacity="0.85"/>
<circle cx="235.7" cy="834.36" r="1.4" fill="#bcbcbc" opacity="0.85"/>
<circle cx="240.7" cy="834.09" r="1.4" fill="#bcbcbc" opacity="0.85"/>
<circle cx="233.07" cy="838.04" r="1.4" fill="#bcbcbc" opacity="0.85"/>
<circle cx="235.05" cy="841.58" r="1.4" fill="#bcbcbc" opacity="0.85"/>
<circle cx="239.65" cy="842.24" r="1.4" fill="#bcbcbc" opacity="0.85"/>
<circle cx="237.67" cy="844.61" r="1.4" fill="#bcbcbc" opacity="0.85"/>
<line x1="213.35" y1="793.9" x2="213.35" y2="800.3" stroke="#222" stroke-width="0.6"/>
<line x1="210.95" y1="793.9" x2="215.75" y2="793.9" stroke="#222" stroke-width="0.6"/>
<line x1="210.95" y1="800.3" x2="215.75" y2="800.3" stroke="#222" stroke-width="0.6"/>
<line x1="237.25" y1="810.7" x2="237.25" y2="821.9" stroke="#222" stroke-width="0.6"/>
<line x1="234.85" y1="810.7" x2="239.65" y2="810.7" stroke="#222" stroke-width="0.6"/>
<line x1="234.85" y1="821.9" x2="239.65" y2="821.9" stroke="#222" stroke-width="0.6"/>
<line x1="200.7" y1="758.3" x2="200.7" y2="853.3" stroke="#222" stroke-width="0.6"/>
<line x1="200.7" y1="853.3" x2="249" y2="853.3" stroke="#222" stroke-width="0.6"/>
<line x1="198.7" y1="771.8" x2="200.7" y2="771.8" stroke="#222" stroke-width="0.6"/>
<text x="197.4" y="774.55" font-size="7.7" text-anchor="end" letter-spacing="0.15">120</text>
<line x1="198.7" y1="799" x2="200.7" y2="799" stroke="#222" stroke-width="0.6"/>
<text x="197.4" y="801.75" font-size="7.7" text-anchor="end" letter-spacing="0.15">80</text>
<line x1="198.7" y1="826.2" x2="200.7" y2="826.2" stroke="#222" stroke-width="0.6"/>
<text x="197.4" y="828.95" font-size="7.7" text-anchor="end" letter-spacing="0.15">40</text>
<line x1="198.7" y1="853.3" x2="200.7" y2="853.3" stroke="#222" stroke-width="0.6"/>
<text x="197.4" y="856.05" font-size="7.7" text-anchor="end" letter-spacing="0.15">0</text>
<line x1="199.5" y1="758.2" x2="200.7" y2="758.2" stroke="#222" stroke-width="0.5"/>
<line x1="199.5" y1="785.4" x2="200.7" y2="785.4" stroke="#222" stroke-width="0.5"/>
<line x1="199.5" y1="812.6" x2="200.7" y2="812.6" stroke="#222" stroke-width="0.5"/>
<line x1="199.5" y1="839.8" x2="200.7" y2="839.8" stroke="#222" stroke-width="0.5"/>
<text x="180" y="806.8" font-size="8.6" text-anchor="middle" transform="rotate(-90 180 806.8)">Turn angle (°)</text>
<text x="226.3" y="766.4" font-size="12" text-anchor="middle" fill="#111">**</text>
<line x1="225" y1="779.5" x2="232" y2="779.5" stroke="#5f5f5f" stroke-width="1.3"/>
<text x="236.3" y="782.3" font-size="7.8">WT</text>
<line x1="225" y1="786.6" x2="232" y2="786.6" stroke="#0e9a9e" stroke-width="1.3"/>
<text x="236.3" y="789.4" font-size="7.8" font-style="italic">tdc-1</text>
<text x="264.2" y="7.4" font-size="11.5" fill="#000" font-weight="bold">c</text>
<rect x="290.8" y="14.3" width="43.1" height="155.9" fill="#fce3e0"/>
<path d="M290.84,30.39 C291.35,30.39 294.2,30.17 295.22,30.39 C296.24,30.61 298.58,31.81 299.6,32.29 C300.62,32.76 302.96,33.97 303.98,34.48 C305,34.99 307.34,36.19 308.36,36.67 C309.38,37.14 311.72,38.11 312.74,38.56 C313.76,39.02 316.09,40.1 317.12,40.61 C318.14,41.12 320.47,42.38 321.5,42.94 C322.52,43.51 324.94,44.85 325.88,45.43 C326.81,46.01 328.76,47.31 329.53,47.91 C330.29,48.5 331.85,50.06 332.45,50.54 C333.04,51.01 334.12,52.13 334.64,52 C335.15,51.86 336.14,50.3 336.82,49.37 C337.51,48.43 339.54,45.36 340.47,43.97 C341.41,42.57 343.83,38.84 344.85,37.4 C345.88,35.95 348.21,32.78 349.23,31.56 C350.26,30.33 352.59,27.91 353.61,26.89 C354.64,25.86 357.14,23.62 357.99,22.8 C358.84,21.98 360.15,20.42 360.91,19.88 C361.68,19.33 363.8,18.47 364.56,18.13 C365.33,17.79 366.72,17.27 367.48,16.96 C368.25,16.65 370.11,15.7 371.13,15.5 C372.15,15.29 375.64,15.24 376.24,15.21 L376.24,18.81 C375.64,18.84 372.15,18.89 371.13,19.1 C370.11,19.3 368.25,20.25 367.48,20.56 C366.72,20.87 365.33,21.39 364.56,21.73 C363.8,22.07 361.68,22.93 360.91,23.48 C360.15,24.02 358.84,25.58 357.99,26.4 C357.14,27.22 354.64,29.46 353.61,30.49 C352.59,31.51 350.26,33.93 349.23,35.16 C348.21,36.38 345.88,39.55 344.85,41 C343.83,42.44 341.41,46.17 340.47,47.57 C339.54,48.96 337.51,52.03 336.82,52.97 C336.14,53.9 335.15,55.46 334.64,55.6 C334.12,55.73 333.04,54.61 332.45,54.14 C331.85,53.66 330.29,52.1 329.53,51.51 C328.76,50.91 326.81,49.61 325.88,49.03 C324.94,48.45 322.52,47.11 321.5,46.54 C320.47,45.98 318.14,44.72 317.12,44.21 C316.09,43.7 313.76,42.62 312.74,42.16 C311.72,41.71 309.38,40.74 308.36,40.27 C307.34,39.79 305,38.59 303.98,38.08 C302.96,37.57 300.62,36.36 299.6,35.89 C298.58,35.41 296.24,34.21 295.22,33.99 C294.2,33.77 291.35,33.99 290.84,33.99 Z" fill="#5f5f5f" opacity="0.27" stroke="none"/><path d="M290.84,32.19 C291.35,32.19 294.2,31.97 295.22,32.19 C296.24,32.41 298.58,33.61 299.6,34.09 C300.62,34.56 302.96,35.77 303.98,36.28 C305,36.79 307.34,37.99 308.36,38.47 C309.38,38.94 311.72,39.91 312.74,40.36 C313.76,40.82 316.09,41.9 317.12,42.41 C318.14,42.92 320.47,44.18 321.5,44.74 C322.52,45.31 324.94,46.65 325.88,47.23 C326.81,47.81 328.76,49.11 329.53,49.71 C330.29,50.3 331.85,51.86 332.45,52.34 C333.04,52.81 334.12,53.93 334.64,53.8 C335.15,53.66 336.14,52.1 336.82,51.17 C337.51,50.23 339.54,47.16 340.47,45.77 C341.41,44.37 343.83,40.64 344.85,39.2 C345.88,37.75 348.21,34.58 349.23,33.36 C350.26,32.13 352.59,29.71 353.61,28.69 C354.64,27.66 357.14,25.42 357.99,24.6 C358.84,23.78 360.15,22.22 360.91,21.68 C361.68,21.13 363.8,20.27 364.56,19.93 C365.33,19.59 366.72,19.07 367.48,18.76 C368.25,18.45 370.11,17.5 371.13,17.3 C372.15,17.09 375.64,17.04 376.24,17.01" fill="none" stroke="#5f5f5f" stroke-width="1.6" stroke-linejoin="round" stroke-linecap="butt"/>
<path d="M290.84,26.89 C291.18,26.78 292.99,25.98 293.76,26.01 C294.53,26.04 296.56,27.13 297.41,27.18 C298.26,27.23 300.12,26.45 301.06,26.45 C302,26.45 304.42,26.96 305.44,27.18 C306.46,27.4 308.8,28.18 309.82,28.35 C310.84,28.52 313.18,28.43 314.2,28.64 C315.22,28.84 317.55,29.76 318.58,30.1 C319.6,30.44 321.93,31.25 322.96,31.56 C323.98,31.86 326.31,32.47 327.34,32.73 C328.36,32.98 330.78,33.51 331.72,33.75 C332.65,33.99 334.6,34.58 335.36,34.77 C336.13,34.96 337.6,35.42 338.28,35.35 C338.97,35.29 340.61,34.54 341.2,34.19 C341.8,33.83 342.8,32.42 343.39,32.29 C343.99,32.15 345.63,33.14 346.31,33.02 C347,32.9 348.47,31.64 349.23,31.27 C350,30.89 352.03,30.15 352.88,29.81 C353.73,29.47 355.68,28.74 356.53,28.35 C357.38,27.95 359.33,26.89 360.18,26.45 C361.03,26.01 363.2,24.67 363.83,24.55 C364.46,24.43 365.07,25.55 365.58,25.43 C366.09,25.31 367.56,23.87 368.21,23.53 C368.86,23.19 370.45,22.8 371.13,22.51 C371.81,22.22 373.45,21.39 374.05,21.05 C374.65,20.71 375.99,19.76 376.24,19.59 L376.24,23.19 C375.99,23.36 374.65,24.31 374.05,24.65 C373.45,24.99 371.81,25.82 371.13,26.11 C370.45,26.4 368.86,26.79 368.21,27.13 C367.56,27.47 366.09,28.91 365.58,29.03 C365.07,29.15 364.46,28.03 363.83,28.15 C363.2,28.27 361.03,29.61 360.18,30.05 C359.33,30.49 357.38,31.55 356.53,31.95 C355.68,32.34 353.73,33.07 352.88,33.41 C352.03,33.75 350,34.49 349.23,34.87 C348.47,35.24 347,36.5 346.31,36.62 C345.63,36.74 343.99,35.75 343.39,35.89 C342.8,36.02 341.8,37.43 341.2,37.79 C340.61,38.14 338.97,38.89 338.28,38.95 C337.6,39.02 336.13,38.56 335.36,38.37 C334.6,38.18 332.65,37.59 331.72,37.35 C330.78,37.11 328.36,36.58 327.34,36.33 C326.31,36.07 323.98,35.46 322.96,35.16 C321.93,34.85 319.6,34.04 318.58,33.7 C317.55,33.36 315.22,32.44 314.2,32.24 C313.18,32.03 310.84,32.12 309.82,31.95 C308.8,31.78 306.46,31 305.44,30.78 C304.42,30.56 302,30.05 301.06,30.05 C300.12,30.05 298.26,30.83 297.41,30.78 C296.56,30.73 294.53,29.64 293.76,29.61 C292.99,29.58 291.18,30.38 290.84,30.49 Z" fill="#0e9a9e" opacity="0.27" stroke="none"/><path d="M290.84,28.69 C291.18,28.58 292.99,27.78 293.76,27.81 C294.53,27.84 296.56,28.93 297.41,28.98 C298.26,29.03 300.12,28.25 301.06,28.25 C302,28.25 304.42,28.76 305.44,28.98 C306.46,29.2 308.8,29.98 309.82,30.15 C310.84,30.32 313.18,30.23 314.2,30.44 C315.22,30.64 317.55,31.56 318.58,31.9 C319.6,32.24 321.93,33.05 322.96,33.36 C323.98,33.66 326.31,34.27 327.34,34.53 C328.36,34.78 330.78,35.31 331.72,35.55 C332.65,35.79 334.6,36.38 335.36,36.57 C336.13,36.76 337.6,37.22 338.28,37.15 C338.97,37.09 340.61,36.34 341.2,35.99 C341.8,35.63 342.8,34.22 343.39,34.09 C343.99,33.95 345.63,34.94 346.31,34.82 C347,34.7 348.47,33.44 349.23,33.07 C350,32.69 352.03,31.95 352.88,31.61 C353.73,31.27 355.68,30.54 356.53,30.15 C357.38,29.75 359.33,28.69 360.18,28.25 C361.03,27.81 363.2,26.47 363.83,26.35 C364.46,26.23 365.07,27.35 365.58,27.23 C366.09,27.11 367.56,25.67 368.21,25.33 C368.86,24.99 370.45,24.6 371.13,24.31 C371.81,24.02 373.45,23.19 374.05,22.85 C374.65,22.51 375.99,21.56 376.24,21.39" fill="none" stroke="#0e9a9e" stroke-width="1.6" stroke-linejoin="round" stroke-linecap="butt"/>
<path d="M292.3,63.38 C292.81,63.42 295.66,63.47 296.68,63.67 C297.7,63.88 300.04,64.83 301.06,65.13 C302.08,65.44 304.42,66 305.44,66.3 C306.46,66.61 308.8,67.46 309.82,67.76 C310.84,68.07 313.18,68.66 314.2,68.93 C315.22,69.2 317.55,69.83 318.58,70.1 C319.6,70.37 321.93,71.06 322.96,71.27 C323.98,71.47 326.31,71.75 327.34,71.85 C328.36,71.95 330.78,72.07 331.72,72.14 C332.65,72.21 334.51,72.47 335.36,72.43 C336.22,72.4 338.08,72.05 339.01,71.85 C339.95,71.65 342.37,71.21 343.39,70.68 C344.42,70.15 346.75,68.28 347.77,67.32 C348.8,66.37 351.13,63.44 352.15,62.51 C353.18,61.57 355.51,59.87 356.53,59.29 C357.55,58.72 359.89,57.92 360.91,57.54 C361.93,57.17 364.27,56.39 365.29,56.08 C366.31,55.78 368.65,55.14 369.67,54.92 C370.69,54.69 373.28,54.32 374.05,54.19 C374.82,54.05 375.99,53.8 376.24,53.75 L376.24,57.35 C375.99,57.4 374.82,57.65 374.05,57.79 C373.28,57.92 370.69,58.29 369.67,58.52 C368.65,58.74 366.31,59.38 365.29,59.68 C364.27,59.99 361.93,60.77 360.91,61.14 C359.89,61.52 357.55,62.32 356.53,62.89 C355.51,63.47 353.18,65.17 352.15,66.11 C351.13,67.04 348.8,69.97 347.77,70.92 C346.75,71.88 344.42,73.75 343.39,74.28 C342.37,74.81 339.95,75.25 339.01,75.45 C338.08,75.65 336.22,76 335.36,76.03 C334.51,76.07 332.65,75.81 331.72,75.74 C330.78,75.67 328.36,75.55 327.34,75.45 C326.31,75.35 323.98,75.07 322.96,74.87 C321.93,74.66 319.6,73.97 318.58,73.7 C317.55,73.43 315.22,72.8 314.2,72.53 C313.18,72.26 310.84,71.67 309.82,71.36 C308.8,71.06 306.46,70.21 305.44,69.9 C304.42,69.6 302.08,69.04 301.06,68.73 C300.04,68.43 297.7,67.48 296.68,67.27 C295.66,67.07 292.81,67.02 292.3,66.98 Z" fill="#5f5f5f" opacity="0.27" stroke="none"/><path d="M292.3,65.18 C292.81,65.22 295.66,65.27 296.68,65.47 C297.7,65.68 300.04,66.63 301.06,66.93 C302.08,67.24 304.42,67.8 305.44,68.1 C306.46,68.41 308.8,69.26 309.82,69.56 C310.84,69.87 313.18,70.46 314.2,70.73 C315.22,71 317.55,71.63 318.58,71.9 C319.6,72.17 321.93,72.86 322.96,73.07 C323.98,73.27 326.31,73.55 327.34,73.65 C328.36,73.75 330.78,73.87 331.72,73.94 C332.65,74.01 334.51,74.27 335.36,74.23 C336.22,74.2 338.08,73.85 339.01,73.65 C339.95,73.45 342.37,73.01 343.39,72.48 C344.42,71.95 346.75,70.08 347.77,69.12 C348.8,68.17 351.13,65.24 352.15,64.31 C353.18,63.37 355.51,61.67 356.53,61.09 C357.55,60.52 359.89,59.72 360.91,59.34 C361.93,58.97 364.27,58.19 365.29,57.88 C366.31,57.58 368.65,56.94 369.67,56.72 C370.69,56.49 373.28,56.12 374.05,55.99 C374.82,55.85 375.99,55.6 376.24,55.55" fill="none" stroke="#5f5f5f" stroke-width="1.6" stroke-linejoin="round" stroke-linecap="butt"/>
<path d="M292.3,65.43 C292.73,65.36 295.1,64.79 295.95,64.84 C296.8,64.89 298.75,65.92 299.6,65.86 C300.45,65.81 302.4,64.46 303.25,64.4 C304.1,64.35 306.05,65.2 306.9,65.43 C307.75,65.65 309.7,66.3 310.55,66.3 C311.4,66.3 313.35,65.46 314.2,65.43 C315.05,65.39 317,66.04 317.85,66.01 C318.7,65.98 320.64,65.2 321.5,65.13 C322.35,65.07 324.29,65.51 325.15,65.43 C326,65.34 327.94,64.52 328.8,64.4 C329.65,64.29 331.59,64.52 332.45,64.4 C333.3,64.29 335.33,63.67 336.09,63.38 C336.86,63.09 338.33,61.92 339.01,61.92 C339.7,61.92 341.25,63.04 341.93,63.38 C342.62,63.72 344.17,64.6 344.85,64.84 C345.54,65.08 347.09,65.26 347.77,65.43 C348.45,65.6 350.01,66.25 350.69,66.3 C351.37,66.35 352.93,65.69 353.61,65.86 C354.29,66.03 355.85,67.47 356.53,67.76 C357.21,68.05 358.77,68.4 359.45,68.35 C360.13,68.29 361.73,67.61 362.37,67.32 C363.02,67.03 364.49,65.86 365,65.86 C365.51,65.86 366.29,67.38 366.75,67.32 C367.21,67.27 368.52,65.85 368.94,65.43 C369.37,65 370.01,63.67 370.4,63.67 C370.79,63.67 371.84,65.34 372.3,65.43 C372.76,65.51 373.88,64.75 374.34,64.4 C374.8,64.06 376.02,62.73 376.24,62.51 L376.24,66.11 C376.02,66.33 374.8,67.66 374.34,68 C373.88,68.35 372.76,69.11 372.3,69.03 C371.84,68.94 370.79,67.27 370.4,67.27 C370.01,67.27 369.37,68.6 368.94,69.03 C368.52,69.45 367.21,70.87 366.75,70.92 C366.29,70.98 365.51,69.46 365,69.46 C364.49,69.46 363.02,70.63 362.37,70.92 C361.73,71.21 360.13,71.89 359.45,71.95 C358.77,72 357.21,71.65 356.53,71.36 C355.85,71.07 354.29,69.63 353.61,69.46 C352.93,69.29 351.37,69.95 350.69,69.9 C350.01,69.85 348.45,69.2 347.77,69.03 C347.09,68.86 345.54,68.68 344.85,68.44 C344.17,68.2 342.62,67.32 341.93,66.98 C341.25,66.64 339.7,65.52 339.01,65.52 C338.33,65.52 336.86,66.69 336.09,66.98 C335.33,67.27 333.3,67.89 332.45,68 C331.59,68.12 329.65,67.89 328.8,68 C327.94,68.12 326,68.94 325.15,69.03 C324.29,69.11 322.35,68.67 321.5,68.73 C320.64,68.8 318.7,69.58 317.85,69.61 C317,69.64 315.05,68.99 314.2,69.03 C313.35,69.06 311.4,69.9 310.55,69.9 C309.7,69.9 307.75,69.25 306.9,69.03 C306.05,68.8 304.1,67.95 303.25,68 C302.4,68.06 300.45,69.41 299.6,69.46 C298.75,69.52 296.8,68.49 295.95,68.44 C295.1,68.39 292.73,68.96 292.3,69.03 Z" fill="#0e9a9e" opacity="0.27" stroke="none"/><path d="M292.3,67.23 C292.73,67.16 295.1,66.59 295.95,66.64 C296.8,66.69 298.75,67.72 299.6,67.66 C300.45,67.61 302.4,66.26 303.25,66.2 C304.1,66.15 306.05,67 306.9,67.23 C307.75,67.45 309.7,68.1 310.55,68.1 C311.4,68.1 313.35,67.26 314.2,67.23 C315.05,67.19 317,67.84 317.85,67.81 C318.7,67.78 320.64,67 321.5,66.93 C322.35,66.87 324.29,67.31 325.15,67.23 C326,67.14 327.94,66.32 328.8,66.2 C329.65,66.09 331.59,66.32 332.45,66.2 C333.3,66.09 335.33,65.47 336.09,65.18 C336.86,64.89 338.33,63.72 339.01,63.72 C339.7,63.72 341.25,64.84 341.93,65.18 C342.62,65.52 344.17,66.4 344.85,66.64 C345.54,66.88 347.09,67.06 347.77,67.23 C348.45,67.4 350.01,68.05 350.69,68.1 C351.37,68.15 352.93,67.49 353.61,67.66 C354.29,67.83 355.85,69.27 356.53,69.56 C357.21,69.85 358.77,70.2 359.45,70.15 C360.13,70.09 361.73,69.41 362.37,69.12 C363.02,68.83 364.49,67.66 365,67.66 C365.51,67.66 366.29,69.18 366.75,69.12 C367.21,69.07 368.52,67.65 368.94,67.23 C369.37,66.8 370.01,65.47 370.4,65.47 C370.79,65.47 371.84,67.14 372.3,67.23 C372.76,67.31 373.88,66.55 374.34,66.2 C374.8,65.86 376.02,64.53 376.24,64.31" fill="none" stroke="#0e9a9e" stroke-width="1.6" stroke-linejoin="round" stroke-linecap="butt"/>
<path d="M290.84,91.12 C291.18,91.24 292.91,92.11 293.76,92.14 C294.61,92.18 297.12,91.46 298.14,91.41 C299.16,91.36 301.5,91.7 302.52,91.7 C303.54,91.7 305.88,91.36 306.9,91.41 C307.92,91.46 310.26,92.11 311.28,92.14 C312.3,92.18 314.64,91.62 315.66,91.7 C316.68,91.79 319.1,92.56 320.04,92.87 C320.97,93.18 322.83,93.94 323.69,94.33 C324.54,94.72 326.48,96.06 327.34,96.23 C328.19,96.4 330.13,95.77 330.99,95.79 C331.84,95.81 333.87,96.46 334.64,96.38 C335.4,96.29 336.79,95.38 337.55,95.06 C338.32,94.74 340.35,93.86 341.2,93.6 C342.06,93.35 343.92,93.3 344.85,92.87 C345.79,92.45 348.21,90.72 349.23,89.95 C350.26,89.19 352.59,86.98 353.61,86.3 C354.64,85.62 356.97,84.57 357.99,84.11 C359.01,83.65 361.35,82.74 362.37,82.36 C363.39,81.99 365.73,81.12 366.75,80.9 C367.77,80.68 370.28,80.6 371.13,80.46 C371.98,80.33 373.45,79.82 374.05,79.73 C374.65,79.65 375.99,79.73 376.24,79.73 L376.24,83.33 C375.99,83.33 374.65,83.25 374.05,83.33 C373.45,83.42 371.98,83.93 371.13,84.06 C370.28,84.2 367.77,84.28 366.75,84.5 C365.73,84.72 363.39,85.59 362.37,85.96 C361.35,86.34 359.01,87.25 357.99,87.71 C356.97,88.17 354.64,89.22 353.61,89.9 C352.59,90.58 350.26,92.79 349.23,93.55 C348.21,94.32 345.79,96.05 344.85,96.47 C343.92,96.9 342.06,96.95 341.2,97.2 C340.35,97.46 338.32,98.34 337.55,98.66 C336.79,98.98 335.4,99.89 334.64,99.98 C333.87,100.06 331.84,99.41 330.99,99.39 C330.13,99.37 328.19,100 327.34,99.83 C326.48,99.66 324.54,98.32 323.69,97.93 C322.83,97.54 320.97,96.78 320.04,96.47 C319.1,96.16 316.68,95.39 315.66,95.3 C314.64,95.22 312.3,95.78 311.28,95.74 C310.26,95.71 307.92,95.06 306.9,95.01 C305.88,94.96 303.54,95.3 302.52,95.3 C301.5,95.3 299.16,94.96 298.14,95.01 C297.12,95.06 294.61,95.78 293.76,95.74 C292.91,95.71 291.18,94.84 290.84,94.72 Z" fill="#5f5f5f" opacity="0.27" stroke="none"/><path d="M290.84,92.92 C291.18,93.04 292.91,93.91 293.76,93.94 C294.61,93.98 297.12,93.26 298.14,93.21 C299.16,93.16 301.5,93.5 302.52,93.5 C303.54,93.5 305.88,93.16 306.9,93.21 C307.92,93.26 310.26,93.91 311.28,93.94 C312.3,93.98 314.64,93.42 315.66,93.5 C316.68,93.59 319.1,94.36 320.04,94.67 C320.97,94.98 322.83,95.74 323.69,96.13 C324.54,96.52 326.48,97.86 327.34,98.03 C328.19,98.2 330.13,97.57 330.99,97.59 C331.84,97.61 333.87,98.26 334.64,98.18 C335.4,98.09 336.79,97.18 337.55,96.86 C338.32,96.54 340.35,95.66 341.2,95.4 C342.06,95.15 343.92,95.1 344.85,94.67 C345.79,94.25 348.21,92.52 349.23,91.75 C350.26,90.99 352.59,88.78 353.61,88.1 C354.64,87.42 356.97,86.37 357.99,85.91 C359.01,85.45 361.35,84.54 362.37,84.16 C363.39,83.79 365.73,82.92 366.75,82.7 C367.77,82.48 370.28,82.4 371.13,82.26 C371.98,82.13 373.45,81.62 374.05,81.53 C374.65,81.45 375.99,81.53 376.24,81.53" fill="none" stroke="#5f5f5f" stroke-width="1.6" stroke-linejoin="round" stroke-linecap="butt"/>
<path d="M290.84,91.12 C291.27,91.19 293.64,91.75 294.49,91.7 C295.34,91.65 297.29,90.75 298.14,90.68 C298.99,90.61 300.94,91.17 301.79,91.12 C302.64,91.07 304.59,90.12 305.44,90.24 C306.29,90.36 308.24,92.09 309.09,92.14 C309.94,92.19 311.89,90.77 312.74,90.68 C313.59,90.6 315.54,91.24 316.39,91.41 C317.24,91.58 319.27,91.94 320.04,92.14 C320.8,92.35 322.19,93.25 322.96,93.16 C323.72,93.08 325.75,91.58 326.61,91.41 C327.46,91.24 329.4,91.62 330.26,91.7 C331.11,91.79 333.05,92.14 333.91,92.14 C334.76,92.14 336.7,91.65 337.55,91.7 C338.41,91.75 340.52,92.27 341.2,92.58 C341.89,92.89 342.8,94.3 343.39,94.33 C343.99,94.37 345.55,93.21 346.31,92.87 C347.08,92.53 349.11,91.55 349.96,91.41 C350.82,91.28 352.76,91.62 353.61,91.7 C354.46,91.79 356.41,92.21 357.26,92.14 C358.11,92.07 360.15,91.58 360.91,91.12 C361.68,90.66 363.18,88.88 363.83,88.2 C364.48,87.52 365.86,85.42 366.46,85.28 C367.06,85.14 368.31,87 368.94,87.03 C369.57,87.07 371.23,85.95 371.86,85.57 C372.49,85.2 373.83,84.08 374.34,83.82 C374.85,83.56 376.02,83.43 376.24,83.38 L376.24,86.98 C376.02,87.03 374.85,87.16 374.34,87.42 C373.83,87.68 372.49,88.8 371.86,89.17 C371.23,89.55 369.57,90.67 368.94,90.63 C368.31,90.6 367.06,88.74 366.46,88.88 C365.86,89.02 364.48,91.12 363.83,91.8 C363.18,92.48 361.68,94.26 360.91,94.72 C360.15,95.18 358.11,95.67 357.26,95.74 C356.41,95.81 354.46,95.39 353.61,95.3 C352.76,95.22 350.82,94.88 349.96,95.01 C349.11,95.15 347.08,96.13 346.31,96.47 C345.55,96.81 343.99,97.97 343.39,97.93 C342.8,97.9 341.89,96.49 341.2,96.18 C340.52,95.87 338.41,95.35 337.55,95.3 C336.7,95.25 334.76,95.74 333.91,95.74 C333.05,95.74 331.11,95.39 330.26,95.3 C329.4,95.22 327.46,94.84 326.61,95.01 C325.75,95.18 323.72,96.68 322.96,96.76 C322.19,96.85 320.8,95.95 320.04,95.74 C319.27,95.54 317.24,95.18 316.39,95.01 C315.54,94.84 313.59,94.2 312.74,94.28 C311.89,94.37 309.94,95.79 309.09,95.74 C308.24,95.69 306.29,93.96 305.44,93.84 C304.59,93.72 302.64,94.67 301.79,94.72 C300.94,94.77 298.99,94.21 298.14,94.28 C297.29,94.35 295.34,95.25 294.49,95.3 C293.64,95.35 291.27,94.79 290.84,94.72 Z" fill="#0e9a9e" opacity="0.27" stroke="none"/><path d="M290.84,92.92 C291.27,92.99 293.64,93.55 294.49,93.5 C295.34,93.45 297.29,92.55 298.14,92.48 C298.99,92.41 300.94,92.97 301.79,92.92 C302.64,92.87 304.59,91.92 305.44,92.04 C306.29,92.16 308.24,93.89 309.09,93.94 C309.94,93.99 311.89,92.57 312.74,92.48 C313.59,92.4 315.54,93.04 316.39,93.21 C317.24,93.38 319.27,93.74 320.04,93.94 C320.8,94.15 322.19,95.05 322.96,94.96 C323.72,94.88 325.75,93.38 326.61,93.21 C327.46,93.04 329.4,93.42 330.26,93.5 C331.11,93.59 333.05,93.94 333.91,93.94 C334.76,93.94 336.7,93.45 337.55,93.5 C338.41,93.55 340.52,94.07 341.2,94.38 C341.89,94.69 342.8,96.1 343.39,96.13 C343.99,96.17 345.55,95.01 346.31,94.67 C347.08,94.33 349.11,93.35 349.96,93.21 C350.82,93.08 352.76,93.42 353.61,93.5 C354.46,93.59 356.41,94.01 357.26,93.94 C358.11,93.87 360.15,93.38 360.91,92.92 C361.68,92.46 363.18,90.68 363.83,90 C364.48,89.32 365.86,87.22 366.46,87.08 C367.06,86.94 368.31,88.8 368.94,88.83 C369.57,88.87 371.23,87.75 371.86,87.37 C372.49,87 373.83,85.88 374.34,85.62 C374.85,85.36 376.02,85.23 376.24,85.18" fill="none" stroke="#0e9a9e" stroke-width="1.6" stroke-linejoin="round" stroke-linecap="butt"/>
<path d="M292.3,112.91 C292.81,113.13 295.66,114.55 296.68,114.81 C297.7,115.06 300.04,115.03 301.06,115.1 C302.08,115.17 304.42,115.25 305.44,115.39 C306.46,115.53 308.8,116.1 309.82,116.27 C310.84,116.44 313.18,116.68 314.2,116.85 C315.22,117.02 317.55,117.5 318.58,117.73 C319.6,117.95 321.93,118.54 322.96,118.75 C323.98,118.95 326.4,119.46 327.34,119.48 C328.27,119.49 330.22,119.1 330.99,118.89 C331.75,118.69 333.31,117.57 333.91,117.73 C334.5,117.88 335.58,119.66 336.09,120.21 C336.61,120.75 337.77,121.94 338.28,122.4 C338.8,122.86 339.88,124.15 340.47,124.15 C341.07,124.15 342.63,122.94 343.39,122.4 C344.16,121.85 346.19,120.12 347.04,119.48 C347.9,118.83 349.76,117.39 350.69,116.85 C351.63,116.3 354.05,115.21 355.07,114.81 C356.09,114.4 358.43,113.65 359.45,113.35 C360.47,113.04 362.81,112.4 363.83,112.18 C364.85,111.96 367.19,111.62 368.21,111.45 C369.23,111.28 371.65,110.89 372.59,110.72 C373.53,110.55 375.82,110.07 376.24,109.99 L376.24,113.59 C375.82,113.67 373.53,114.15 372.59,114.32 C371.65,114.49 369.23,114.88 368.21,115.05 C367.19,115.22 364.85,115.56 363.83,115.78 C362.81,116 360.47,116.64 359.45,116.95 C358.43,117.25 356.09,118 355.07,118.41 C354.05,118.81 351.63,119.9 350.69,120.45 C349.76,120.99 347.9,122.43 347.04,123.08 C346.19,123.72 344.16,125.45 343.39,126 C342.63,126.54 341.07,127.75 340.47,127.75 C339.88,127.75 338.8,126.46 338.28,126 C337.77,125.54 336.61,124.35 336.09,123.81 C335.58,123.26 334.5,121.48 333.91,121.33 C333.31,121.17 331.75,122.29 330.99,122.49 C330.22,122.7 328.27,123.09 327.34,123.08 C326.4,123.06 323.98,122.55 322.96,122.35 C321.93,122.14 319.6,121.55 318.58,121.33 C317.55,121.1 315.22,120.62 314.2,120.45 C313.18,120.28 310.84,120.04 309.82,119.87 C308.8,119.7 306.46,119.13 305.44,118.99 C304.42,118.85 302.08,118.77 301.06,118.7 C300.04,118.63 297.7,118.66 296.68,118.41 C295.66,118.15 292.81,116.73 292.3,116.51 Z" fill="#5f5f5f" opacity="0.27" stroke="none"/><path d="M292.3,114.71 C292.81,114.93 295.66,116.35 296.68,116.61 C297.7,116.86 300.04,116.83 301.06,116.9 C302.08,116.97 304.42,117.05 305.44,117.19 C306.46,117.33 308.8,117.9 309.82,118.07 C310.84,118.24 313.18,118.48 314.2,118.65 C315.22,118.82 317.55,119.3 318.58,119.53 C319.6,119.75 321.93,120.34 322.96,120.55 C323.98,120.75 326.4,121.26 327.34,121.28 C328.27,121.29 330.22,120.9 330.99,120.69 C331.75,120.49 333.31,119.37 333.91,119.53 C334.5,119.68 335.58,121.46 336.09,122.01 C336.61,122.55 337.77,123.74 338.28,124.2 C338.8,124.66 339.88,125.95 340.47,125.95 C341.07,125.95 342.63,124.74 343.39,124.2 C344.16,123.65 346.19,121.92 347.04,121.28 C347.9,120.63 349.76,119.19 350.69,118.65 C351.63,118.1 354.05,117.01 355.07,116.61 C356.09,116.2 358.43,115.45 359.45,115.15 C360.47,114.84 362.81,114.2 363.83,113.98 C364.85,113.76 367.19,113.42 368.21,113.25 C369.23,113.08 371.65,112.69 372.59,112.52 C373.53,112.35 375.82,111.87 376.24,111.79" fill="none" stroke="#5f5f5f" stroke-width="1.6" stroke-linejoin="round" stroke-linecap="butt"/>
<path d="M292.3,115.1 C292.81,115.06 295.66,114.77 296.68,114.81 C297.7,114.84 300.04,115.39 301.06,115.39 C302.08,115.39 304.42,114.93 305.44,114.81 C306.46,114.69 308.8,114.54 309.82,114.37 C310.84,114.2 313.18,113.64 314.2,113.35 C315.22,113.06 317.55,112.11 318.58,111.89 C319.6,111.66 321.93,111.45 322.96,111.45 C323.98,111.45 326.4,111.84 327.34,111.89 C328.27,111.94 330.22,111.77 330.99,111.89 C331.75,112.01 333.31,112.45 333.91,112.91 C334.5,113.37 335.5,115.32 336.09,115.83 C336.69,116.34 338.33,116.95 339.01,117.29 C339.7,117.63 341.25,118.49 341.93,118.75 C342.62,119 344,119.48 344.85,119.48 C345.71,119.48 348.21,118.88 349.23,118.75 C350.26,118.61 352.59,118.26 353.61,118.31 C354.64,118.36 356.97,119.13 357.99,119.19 C359.01,119.24 361.35,118.75 362.37,118.75 C363.39,118.75 365.73,119.19 366.75,119.19 C367.77,119.19 370.02,118.68 371.13,118.75 C372.24,118.82 375.64,119.65 376.24,119.77 L376.24,123.37 C375.64,123.25 372.24,122.42 371.13,122.35 C370.02,122.28 367.77,122.79 366.75,122.79 C365.73,122.79 363.39,122.35 362.37,122.35 C361.35,122.35 359.01,122.84 357.99,122.79 C356.97,122.73 354.64,121.96 353.61,121.91 C352.59,121.86 350.26,122.21 349.23,122.35 C348.21,122.48 345.71,123.08 344.85,123.08 C344,123.08 342.62,122.6 341.93,122.35 C341.25,122.09 339.7,121.23 339.01,120.89 C338.33,120.55 336.69,119.94 336.09,119.43 C335.5,118.92 334.5,116.97 333.91,116.51 C333.31,116.05 331.75,115.61 330.99,115.49 C330.22,115.37 328.27,115.54 327.34,115.49 C326.4,115.44 323.98,115.05 322.96,115.05 C321.93,115.05 319.6,115.26 318.58,115.49 C317.55,115.71 315.22,116.66 314.2,116.95 C313.18,117.24 310.84,117.8 309.82,117.97 C308.8,118.14 306.46,118.29 305.44,118.41 C304.42,118.53 302.08,118.99 301.06,118.99 C300.04,118.99 297.7,118.44 296.68,118.41 C295.66,118.37 292.81,118.66 292.3,118.7 Z" fill="#0e9a9e" opacity="0.27" stroke="none"/><path d="M292.3,116.9 C292.81,116.86 295.66,116.57 296.68,116.61 C297.7,116.64 300.04,117.19 301.06,117.19 C302.08,117.19 304.42,116.73 305.44,116.61 C306.46,116.49 308.8,116.34 309.82,116.17 C310.84,116 313.18,115.44 314.2,115.15 C315.22,114.86 317.55,113.91 318.58,113.69 C319.6,113.46 321.93,113.25 322.96,113.25 C323.98,113.25 326.4,113.64 327.34,113.69 C328.27,113.74 330.22,113.57 330.99,113.69 C331.75,113.81 333.31,114.25 333.91,114.71 C334.5,115.17 335.5,117.12 336.09,117.63 C336.69,118.14 338.33,118.75 339.01,119.09 C339.7,119.43 341.25,120.29 341.93,120.55 C342.62,120.8 344,121.28 344.85,121.28 C345.71,121.28 348.21,120.68 349.23,120.55 C350.26,120.41 352.59,120.06 353.61,120.11 C354.64,120.16 356.97,120.93 357.99,120.99 C359.01,121.04 361.35,120.55 362.37,120.55 C363.39,120.55 365.73,120.99 366.75,120.99 C367.77,120.99 370.02,120.48 371.13,120.55 C372.24,120.62 375.64,121.45 376.24,121.57" fill="none" stroke="#0e9a9e" stroke-width="1.6" stroke-linejoin="round" stroke-linecap="butt"/>
<path d="M290.84,142.11 C291.35,142.28 294.2,143.05 295.22,143.56 C296.24,144.08 298.58,145.8 299.6,146.48 C300.62,147.17 302.96,148.72 303.98,149.4 C305,150.09 307.34,151.73 308.36,152.32 C309.38,152.92 311.72,154 312.74,154.51 C313.76,155.02 316.09,156.23 317.12,156.7 C318.14,157.18 320.47,158.18 321.5,158.6 C322.52,159.03 325.02,160.06 325.88,160.35 C326.73,160.64 328.03,160.98 328.8,161.08 C329.56,161.19 331.85,161.4 332.45,161.23 C333.04,161.06 333.56,160.24 333.91,159.62 C334.25,159.01 334.94,157 335.36,155.97 C335.79,154.95 336.96,152.06 337.55,150.86 C338.15,149.67 339.79,146.69 340.47,145.75 C341.16,144.82 342.71,143.38 343.39,142.84 C344.08,142.29 345.46,141.51 346.31,141.08 C347.17,140.66 349.67,139.58 350.69,139.19 C351.72,138.79 354.05,138.02 355.07,137.73 C356.09,137.44 358.43,136.96 359.45,136.7 C360.47,136.45 362.81,135.81 363.83,135.54 C364.85,135.26 367.36,134.57 368.21,134.37 C369.06,134.16 370.45,133.82 371.13,133.78 C371.81,133.75 373.45,134.13 374.05,134.08 C374.65,134.02 375.99,133.43 376.24,133.35 L376.24,136.95 C375.99,137.03 374.65,137.62 374.05,137.68 C373.45,137.73 371.81,137.35 371.13,137.38 C370.45,137.42 369.06,137.76 368.21,137.97 C367.36,138.17 364.85,138.86 363.83,139.14 C362.81,139.41 360.47,140.05 359.45,140.3 C358.43,140.56 356.09,141.04 355.07,141.33 C354.05,141.62 351.72,142.39 350.69,142.79 C349.67,143.18 347.17,144.26 346.31,144.68 C345.46,145.11 344.08,145.89 343.39,146.44 C342.71,146.98 341.16,148.42 340.47,149.35 C339.79,150.29 338.15,153.27 337.55,154.46 C336.96,155.66 335.79,158.55 335.36,159.57 C334.94,160.6 334.25,162.61 333.91,163.22 C333.56,163.84 333.04,164.66 332.45,164.83 C331.85,165 329.56,164.79 328.8,164.68 C328.03,164.58 326.73,164.24 325.88,163.95 C325.02,163.66 322.52,162.63 321.5,162.2 C320.47,161.78 318.14,160.78 317.12,160.3 C316.09,159.83 313.76,158.62 312.74,158.11 C311.72,157.6 309.38,156.52 308.36,155.92 C307.34,155.33 305,153.69 303.98,153 C302.96,152.32 300.62,150.77 299.6,150.08 C298.58,149.4 296.24,147.68 295.22,147.16 C294.2,146.65 291.35,145.88 290.84,145.71 Z" fill="#5f5f5f" opacity="0.27" stroke="none"/><path d="M290.84,143.91 C291.35,144.08 294.2,144.85 295.22,145.36 C296.24,145.88 298.58,147.6 299.6,148.28 C300.62,148.97 302.96,150.52 303.98,151.2 C305,151.89 307.34,153.53 308.36,154.12 C309.38,154.72 311.72,155.8 312.74,156.31 C313.76,156.82 316.09,158.03 317.12,158.5 C318.14,158.98 320.47,159.98 321.5,160.4 C322.52,160.83 325.02,161.86 325.88,162.15 C326.73,162.44 328.03,162.78 328.8,162.88 C329.56,162.99 331.85,163.2 332.45,163.03 C333.04,162.86 333.56,162.04 333.91,161.42 C334.25,160.81 334.94,158.8 335.36,157.77 C335.79,156.75 336.96,153.86 337.55,152.66 C338.15,151.47 339.79,148.49 340.47,147.55 C341.16,146.62 342.71,145.18 343.39,144.64 C344.08,144.09 345.46,143.31 346.31,142.88 C347.17,142.46 349.67,141.38 350.69,140.99 C351.72,140.59 354.05,139.82 355.07,139.53 C356.09,139.24 358.43,138.76 359.45,138.5 C360.47,138.25 362.81,137.61 363.83,137.34 C364.85,137.06 367.36,136.37 368.21,136.17 C369.06,135.96 370.45,135.62 371.13,135.58 C371.81,135.55 373.45,135.93 374.05,135.88 C374.65,135.82 375.99,135.23 376.24,135.15" fill="none" stroke="#5f5f5f" stroke-width="1.6" stroke-linejoin="round" stroke-linecap="butt"/>
<path d="M290.84,141.38 C291.35,141.29 294.2,140.85 295.22,140.65 C296.24,140.44 298.58,139.84 299.6,139.62 C300.62,139.4 302.96,138.92 303.98,138.75 C305,138.58 307.34,138.16 308.36,138.16 C309.38,138.16 311.72,138.75 312.74,138.75 C313.76,138.75 316.09,138.33 317.12,138.16 C318.14,137.99 320.47,137.42 321.5,137.29 C322.52,137.15 325.02,136.94 325.88,137 C326.73,137.05 328.03,137.47 328.8,137.73 C329.56,137.98 331.59,138.96 332.45,139.19 C333.3,139.41 335.16,139.5 336.09,139.62 C337.03,139.74 339.45,140.14 340.47,140.21 C341.5,140.28 344,139.99 344.85,140.21 C345.71,140.43 346.92,141.71 347.77,142.11 C348.63,142.5 351.13,143.17 352.15,143.56 C353.18,143.96 355.51,145.04 356.53,145.46 C357.55,145.89 359.89,146.93 360.91,147.21 C361.93,147.5 364.27,147.69 365.29,147.94 C366.31,148.2 368.65,149.15 369.67,149.4 C370.69,149.66 373.28,150.05 374.05,150.13 C374.82,150.22 375.99,150.13 376.24,150.13 L376.24,153.73 C375.99,153.73 374.82,153.82 374.05,153.73 C373.28,153.65 370.69,153.26 369.67,153 C368.65,152.75 366.31,151.8 365.29,151.54 C364.27,151.29 361.93,151.1 360.91,150.81 C359.89,150.53 357.55,149.49 356.53,149.06 C355.51,148.64 353.18,147.56 352.15,147.16 C351.13,146.77 348.63,146.1 347.77,145.71 C346.92,145.31 345.71,144.03 344.85,143.81 C344,143.59 341.5,143.88 340.47,143.81 C339.45,143.74 337.03,143.34 336.09,143.22 C335.16,143.1 333.3,143.01 332.45,142.79 C331.59,142.56 329.56,141.58 328.8,141.33 C328.03,141.07 326.73,140.65 325.88,140.6 C325.02,140.54 322.52,140.75 321.5,140.89 C320.47,141.02 318.14,141.59 317.12,141.76 C316.09,141.93 313.76,142.35 312.74,142.35 C311.72,142.35 309.38,141.76 308.36,141.76 C307.34,141.76 305,142.18 303.98,142.35 C302.96,142.52 300.62,143 299.6,143.22 C298.58,143.44 296.24,144.04 295.22,144.25 C294.2,144.45 291.35,144.89 290.84,144.98 Z" fill="#0e9a9e" opacity="0.27" stroke="none"/><path d="M290.84,143.18 C291.35,143.09 294.2,142.65 295.22,142.45 C296.24,142.24 298.58,141.64 299.6,141.42 C300.62,141.2 302.96,140.72 303.98,140.55 C305,140.38 307.34,139.96 308.36,139.96 C309.38,139.96 311.72,140.55 312.74,140.55 C313.76,140.55 316.09,140.13 317.12,139.96 C318.14,139.79 320.47,139.22 321.5,139.09 C322.52,138.95 325.02,138.74 325.88,138.8 C326.73,138.85 328.03,139.27 328.8,139.53 C329.56,139.78 331.59,140.76 332.45,140.99 C333.3,141.21 335.16,141.3 336.09,141.42 C337.03,141.54 339.45,141.94 340.47,142.01 C341.5,142.08 344,141.79 344.85,142.01 C345.71,142.23 346.92,143.51 347.77,143.91 C348.63,144.3 351.13,144.97 352.15,145.36 C353.18,145.76 355.51,146.84 356.53,147.26 C357.55,147.69 359.89,148.73 360.91,149.01 C361.93,149.3 364.27,149.49 365.29,149.74 C366.31,150 368.65,150.95 369.67,151.2 C370.69,151.46 373.28,151.85 374.05,151.93 C374.82,152.02 375.99,151.93 376.24,151.93" fill="none" stroke="#0e9a9e" stroke-width="1.6" stroke-linejoin="round" stroke-linecap="butt"/>
<line x1="333.9" y1="14.3" x2="333.9" y2="170.2" stroke="#111" stroke-width="0.9" stroke-dasharray="2.8,2.0"/>
<line x1="290.8" y1="14.3" x2="290.8" y2="170.2" stroke="#222" stroke-width="0.6"/>
<line x1="290.8" y1="170.2" x2="376.8" y2="170.2" stroke="#222" stroke-width="0.6"/>
<line x1="290.9" y1="170.2" x2="290.9" y2="172" stroke="#222" stroke-width="0.6"/>
<text x="290.9" y="179.4" font-size="7.4" text-anchor="middle">−10</text>
<line x1="312.4" y1="170.2" x2="312.4" y2="172" stroke="#222" stroke-width="0.6"/>
<text x="312.4" y="179.4" font-size="7.4" text-anchor="middle">−5</text>
<line x1="333.9" y1="170.2" x2="333.9" y2="172" stroke="#222" stroke-width="0.6"/>
<text x="333.9" y="179.4" font-size="7.4" text-anchor="middle">0</text>
<line x1="355.4" y1="170.2" x2="355.4" y2="172" stroke="#222" stroke-width="0.6"/>
<text x="355.4" y="179.4" font-size="7.4" text-anchor="middle">5</text>
<line x1="376.9" y1="170.2" x2="376.9" y2="172" stroke="#222" stroke-width="0.6"/>
<text x="376.9" y="179.4" font-size="7.4" text-anchor="middle">10</text>
<text x="333.9" y="191.2" font-size="8.6" text-anchor="middle">Time (s)</text>
<text x="332" y="10.2" font-size="8.9" text-anchor="middle">Forward run start</text>
<text x="284.6" y="78.5" font-size="8.7" text-anchor="middle" transform="rotate(-90 284.6 78.5)">GCaMP (<tspan font-style="italic">z</tspan> scored)</text>
<text x="278" y="151.2" font-size="8.6" text-anchor="middle" transform="rotate(-90 278 151.2)">Scale bar</text>
<path d="M284.6,135.8 H282.6 V165 H284.6" fill="none" stroke="#222" stroke-width="0.6"/>
<text x="285.4" y="138.6" font-size="7">1</text>
<text x="285.4" y="169" font-size="7">0</text>
<text x="390.2" y="18" font-size="6.85">AUA</text><line x1="379.2" y1="23.6" x2="385.5" y2="23.6" stroke="#5f5f5f" stroke-width="1.2"/><text x="390.2" y="25.8" font-size="6.85">WT <tspan font-style="italic">n</tspan> = 27</text><line x1="379.2" y1="31.2" x2="385.5" y2="31.2" stroke="#0e9a9e" stroke-width="1.2"/><text x="390.2" y="33.4" font-size="6.85"><tspan font-style="italic">tdc-1 n</tspan> = 17</text><text x="390.2" y="43" font-size="8.6" fill="#e8546a">****</text>
<text x="390.2" y="58.2" font-size="6.85">IL1R</text><line x1="379.2" y1="63.8" x2="385.5" y2="63.8" stroke="#5f5f5f" stroke-width="1.2"/><text x="390.2" y="66" font-size="6.85">WT <tspan font-style="italic">n</tspan> = 24</text><line x1="379.2" y1="71.4" x2="385.5" y2="71.4" stroke="#0e9a9e" stroke-width="1.2"/><text x="390.2" y="73.6" font-size="6.85"><tspan font-style="italic">tdc-1 n</tspan> = 11</text>
<text x="390.2" y="86" font-size="6.85">IL2R</text><line x1="379.2" y1="91.6" x2="385.5" y2="91.6" stroke="#5f5f5f" stroke-width="1.2"/><text x="390.2" y="93.8" font-size="6.85">WT <tspan font-style="italic">n</tspan> = 24</text><line x1="379.2" y1="99.2" x2="385.5" y2="99.2" stroke="#0e9a9e" stroke-width="1.2"/><text x="390.2" y="101.4" font-size="6.85"><tspan font-style="italic">tdc-1 n</tspan> = 13</text>
<text x="390.2" y="111.8" font-size="6.85">OLL</text><line x1="379.2" y1="117.4" x2="385.5" y2="117.4" stroke="#5f5f5f" stroke-width="1.2"/><text x="390.2" y="119.6" font-size="6.85">WT <tspan font-style="italic">n</tspan> = 31</text><line x1="379.2" y1="125" x2="385.5" y2="125" stroke="#0e9a9e" stroke-width="1.2"/><text x="390.2" y="127.2" font-size="6.85"><tspan font-style="italic">tdc-1 n</tspan> = 16</text>
<text x="390.2" y="139.6" font-size="6.85">RME</text><line x1="379.2" y1="145.2" x2="385.5" y2="145.2" stroke="#5f5f5f" stroke-width="1.2"/><text x="390.2" y="147.4" font-size="6.85">WT <tspan font-style="italic">n</tspan> = 31</text><line x1="379.2" y1="152.8" x2="385.5" y2="152.8" stroke="#0e9a9e" stroke-width="1.2"/><text x="390.2" y="155" font-size="6.85"><tspan font-style="italic">tdc-1 n</tspan> = 17</text><text x="390.2" y="164.6" font-size="8.6" fill="#e8546a">****</text>
<rect x="435.5" y="14.1" width="43" height="156.1" fill="#fce3e0"/>
<path d="M435.55,20.61 C436.09,20.73 439.16,21.41 440.22,21.63 C441.27,21.85 443.58,22.29 444.6,22.51 C445.62,22.73 447.96,23.29 448.98,23.53 C450,23.77 452.34,24.21 453.36,24.55 C454.38,24.89 456.72,25.94 457.74,26.45 C458.76,26.96 461.09,28.37 462.12,28.93 C463.14,29.49 465.47,30.79 466.5,31.27 C467.52,31.74 469.85,32.68 470.88,33.02 C471.9,33.36 474.32,34.02 475.26,34.19 C476.19,34.36 478.14,34.48 478.91,34.48 C479.67,34.48 481.23,34.53 481.82,34.19 C482.42,33.84 483.5,32.2 484.01,31.56 C484.53,30.91 485.52,29.18 486.2,28.64 C486.89,28.09 488.92,27.09 489.85,26.89 C490.79,26.68 493.21,26.99 494.23,26.89 C495.26,26.78 497.59,26.28 498.61,26.01 C499.64,25.74 501.97,24.96 502.99,24.55 C504.01,24.14 506.44,22.92 507.37,22.51 C508.31,22.1 510.17,21.22 511.02,21.05 C511.87,20.88 513.91,21.18 514.67,21.05 C515.44,20.91 516.88,20.1 517.59,19.88 C518.31,19.66 520.43,19.23 520.8,19.15 L520.8,22.75 C520.43,22.83 518.31,23.26 517.59,23.48 C516.88,23.7 515.44,24.51 514.67,24.65 C513.91,24.78 511.87,24.48 511.02,24.65 C510.17,24.82 508.31,25.7 507.37,26.11 C506.44,26.52 504.01,27.74 502.99,28.15 C501.97,28.56 499.64,29.34 498.61,29.61 C497.59,29.88 495.26,30.38 494.23,30.49 C493.21,30.59 490.79,30.28 489.85,30.49 C488.92,30.69 486.89,31.69 486.2,32.24 C485.52,32.78 484.53,34.51 484.01,35.16 C483.5,35.8 482.42,37.44 481.82,37.79 C481.23,38.13 479.67,38.08 478.91,38.08 C478.14,38.08 476.19,37.96 475.26,37.79 C474.32,37.62 471.9,36.96 470.88,36.62 C469.85,36.28 467.52,35.34 466.5,34.87 C465.47,34.39 463.14,33.09 462.12,32.53 C461.09,31.97 458.76,30.56 457.74,30.05 C456.72,29.54 454.38,28.49 453.36,28.15 C452.34,27.81 450,27.37 448.98,27.13 C447.96,26.89 445.62,26.33 444.6,26.11 C443.58,25.89 441.27,25.45 440.22,25.23 C439.16,25.01 436.09,24.33 435.55,24.21 Z" fill="#5f5f5f" opacity="0.27" stroke="none"/><path d="M435.55,22.41 C436.09,22.53 439.16,23.21 440.22,23.43 C441.27,23.65 443.58,24.09 444.6,24.31 C445.62,24.53 447.96,25.09 448.98,25.33 C450,25.57 452.34,26.01 453.36,26.35 C454.38,26.69 456.72,27.74 457.74,28.25 C458.76,28.76 461.09,30.17 462.12,30.73 C463.14,31.29 465.47,32.59 466.5,33.07 C467.52,33.54 469.85,34.48 470.88,34.82 C471.9,35.16 474.32,35.82 475.26,35.99 C476.19,36.16 478.14,36.28 478.91,36.28 C479.67,36.28 481.23,36.33 481.82,35.99 C482.42,35.64 483.5,34 484.01,33.36 C484.53,32.71 485.52,30.98 486.2,30.44 C486.89,29.89 488.92,28.89 489.85,28.69 C490.79,28.48 493.21,28.79 494.23,28.69 C495.26,28.58 497.59,28.08 498.61,27.81 C499.64,27.54 501.97,26.76 502.99,26.35 C504.01,25.94 506.44,24.72 507.37,24.31 C508.31,23.9 510.17,23.02 511.02,22.85 C511.87,22.68 513.91,22.98 514.67,22.85 C515.44,22.71 516.88,21.9 517.59,21.68 C518.31,21.46 520.43,21.03 520.8,20.95" fill="none" stroke="#5f5f5f" stroke-width="1.6" stroke-linejoin="round" stroke-linecap="butt"/>
<path d="M435.55,19.15 C435.92,19.2 437.96,19.64 438.76,19.59 C439.56,19.54 441.56,18.76 442.41,18.71 C443.26,18.66 445.21,19.22 446.06,19.15 C446.91,19.08 448.94,18.3 449.71,18.13 C450.47,17.96 451.86,17.65 452.63,17.69 C453.39,17.72 455.34,18.16 456.28,18.42 C457.21,18.67 459.64,19.5 460.66,19.88 C461.68,20.25 464.1,21.12 465.04,21.63 C465.97,22.14 467.83,23.75 468.69,24.26 C469.54,24.77 471.48,25.75 472.34,26.01 C473.19,26.27 475.13,26.28 475.99,26.45 C476.84,26.62 478.78,27.18 479.64,27.47 C480.49,27.76 482.43,28.54 483.28,28.93 C484.14,29.32 486.08,30.66 486.93,30.83 C487.79,31 489.73,30.34 490.58,30.39 C491.44,30.44 493.38,31.04 494.23,31.27 C495.09,31.49 497.03,32.17 497.88,32.29 C498.73,32.41 500.68,32.2 501.53,32.29 C502.38,32.37 504.33,32.97 505.18,33.02 C506.03,33.07 508.07,32.9 508.83,32.73 C509.6,32.56 511.07,31.61 511.75,31.56 C512.43,31.51 513.99,32.37 514.67,32.29 C515.35,32.2 516.88,31.05 517.59,30.83 C518.31,30.61 520.43,30.44 520.8,30.39 L520.8,33.99 C520.43,34.04 518.31,34.21 517.59,34.43 C516.88,34.65 515.35,35.8 514.67,35.89 C513.99,35.97 512.43,35.11 511.75,35.16 C511.07,35.21 509.6,36.16 508.83,36.33 C508.07,36.5 506.03,36.67 505.18,36.62 C504.33,36.57 502.38,35.97 501.53,35.89 C500.68,35.8 498.73,36.01 497.88,35.89 C497.03,35.77 495.09,35.09 494.23,34.87 C493.38,34.64 491.44,34.04 490.58,33.99 C489.73,33.94 487.79,34.6 486.93,34.43 C486.08,34.26 484.14,32.92 483.28,32.53 C482.43,32.14 480.49,31.36 479.64,31.07 C478.78,30.78 476.84,30.22 475.99,30.05 C475.13,29.88 473.19,29.87 472.34,29.61 C471.48,29.35 469.54,28.37 468.69,27.86 C467.83,27.35 465.97,25.74 465.04,25.23 C464.1,24.72 461.68,23.85 460.66,23.48 C459.64,23.1 457.21,22.27 456.28,22.02 C455.34,21.76 453.39,21.32 452.63,21.29 C451.86,21.25 450.47,21.56 449.71,21.73 C448.94,21.9 446.91,22.68 446.06,22.75 C445.21,22.82 443.26,22.26 442.41,22.31 C441.56,22.36 439.56,23.14 438.76,23.19 C437.96,23.24 435.92,22.8 435.55,22.75 Z" fill="#0e9a9e" opacity="0.27" stroke="none"/><path d="M435.55,20.95 C435.92,21 437.96,21.44 438.76,21.39 C439.56,21.34 441.56,20.56 442.41,20.51 C443.26,20.46 445.21,21.02 446.06,20.95 C446.91,20.88 448.94,20.1 449.71,19.93 C450.47,19.76 451.86,19.45 452.63,19.49 C453.39,19.52 455.34,19.96 456.28,20.22 C457.21,20.47 459.64,21.3 460.66,21.68 C461.68,22.05 464.1,22.92 465.04,23.43 C465.97,23.94 467.83,25.55 468.69,26.06 C469.54,26.57 471.48,27.55 472.34,27.81 C473.19,28.07 475.13,28.08 475.99,28.25 C476.84,28.42 478.78,28.98 479.64,29.27 C480.49,29.56 482.43,30.34 483.28,30.73 C484.14,31.12 486.08,32.46 486.93,32.63 C487.79,32.8 489.73,32.14 490.58,32.19 C491.44,32.24 493.38,32.84 494.23,33.07 C495.09,33.29 497.03,33.97 497.88,34.09 C498.73,34.21 500.68,34 501.53,34.09 C502.38,34.17 504.33,34.77 505.18,34.82 C506.03,34.87 508.07,34.7 508.83,34.53 C509.6,34.36 511.07,33.41 511.75,33.36 C512.43,33.31 513.99,34.17 514.67,34.09 C515.35,34 516.88,32.85 517.59,32.63 C518.31,32.41 520.43,32.24 520.8,32.19" fill="none" stroke="#0e9a9e" stroke-width="1.6" stroke-linejoin="round" stroke-linecap="butt"/>
<path d="M435.55,63.38 C436.09,63.5 439.16,64.17 440.22,64.4 C441.27,64.64 443.58,65.2 444.6,65.43 C445.62,65.65 447.96,66.13 448.98,66.3 C450,66.47 452.34,66.6 453.36,66.89 C454.38,67.18 456.72,68.39 457.74,68.78 C458.76,69.18 461.09,69.99 462.12,70.24 C463.14,70.5 465.56,70.75 466.5,70.97 C467.43,71.2 469.29,72.01 470.15,72.14 C471,72.28 473.03,72.36 473.8,72.14 C474.56,71.92 476.12,71.06 476.72,70.24 C477.31,69.43 478.39,66.58 478.91,65.13 C479.42,63.69 480.5,59.45 481.09,57.84 C481.69,56.22 483.42,52.49 484.01,51.27 C484.61,50.04 485.74,47.95 486.2,47.32 C486.66,46.69 487.36,45.83 487.96,45.86 C488.55,45.9 490.41,47.07 491.31,47.62 C492.22,48.16 494.67,49.89 495.69,50.54 C496.72,51.18 499.05,52.62 500.07,53.16 C501.09,53.71 503.43,54.83 504.45,55.21 C505.47,55.58 507.81,56.07 508.83,56.38 C509.85,56.68 512.27,57.75 513.21,57.84 C514.15,57.92 515.98,57.02 516.86,57.11 C517.75,57.19 520.34,58.39 520.8,58.56 L520.8,62.16 C520.34,61.99 517.75,60.79 516.86,60.71 C515.98,60.62 514.15,61.52 513.21,61.44 C512.27,61.35 509.85,60.28 508.83,59.98 C507.81,59.67 505.47,59.18 504.45,58.81 C503.43,58.43 501.09,57.31 500.07,56.76 C499.05,56.22 496.72,54.78 495.69,54.14 C494.67,53.49 492.22,51.76 491.31,51.22 C490.41,50.67 488.55,49.5 487.96,49.46 C487.36,49.43 486.66,50.29 486.2,50.92 C485.74,51.55 484.61,53.64 484.01,54.87 C483.42,56.09 481.69,59.82 481.09,61.44 C480.5,63.05 479.42,67.29 478.91,68.73 C478.39,70.18 477.31,73.03 476.72,73.84 C476.12,74.66 474.56,75.52 473.8,75.74 C473.03,75.96 471,75.88 470.15,75.74 C469.29,75.61 467.43,74.8 466.5,74.57 C465.56,74.35 463.14,74.1 462.12,73.84 C461.09,73.59 458.76,72.78 457.74,72.38 C456.72,71.99 454.38,70.78 453.36,70.49 C452.34,70.2 450,70.07 448.98,69.9 C447.96,69.73 445.62,69.25 444.6,69.03 C443.58,68.8 441.27,68.24 440.22,68 C439.16,67.77 436.09,67.1 435.55,66.98 Z" fill="#5f5f5f" opacity="0.27" stroke="none"/><path d="M435.55,65.18 C436.09,65.3 439.16,65.97 440.22,66.2 C441.27,66.44 443.58,67 444.6,67.23 C445.62,67.45 447.96,67.93 448.98,68.1 C450,68.27 452.34,68.4 453.36,68.69 C454.38,68.98 456.72,70.19 457.74,70.58 C458.76,70.98 461.09,71.79 462.12,72.04 C463.14,72.3 465.56,72.55 466.5,72.77 C467.43,73 469.29,73.81 470.15,73.94 C471,74.08 473.03,74.16 473.8,73.94 C474.56,73.72 476.12,72.86 476.72,72.04 C477.31,71.23 478.39,68.38 478.91,66.93 C479.42,65.49 480.5,61.25 481.09,59.64 C481.69,58.02 483.42,54.29 484.01,53.07 C484.61,51.84 485.74,49.75 486.2,49.12 C486.66,48.49 487.36,47.63 487.96,47.66 C488.55,47.7 490.41,48.87 491.31,49.42 C492.22,49.96 494.67,51.69 495.69,52.34 C496.72,52.98 499.05,54.42 500.07,54.96 C501.09,55.51 503.43,56.63 504.45,57.01 C505.47,57.38 507.81,57.87 508.83,58.18 C509.85,58.48 512.27,59.55 513.21,59.64 C514.15,59.72 515.98,58.82 516.86,58.91 C517.75,58.99 520.34,60.19 520.8,60.36" fill="none" stroke="#5f5f5f" stroke-width="1.6" stroke-linejoin="round" stroke-linecap="butt"/>
<path d="M435.55,62.94 C435.92,63 438.04,63.47 438.76,63.38 C439.47,63.3 440.91,62.21 441.68,62.21 C442.45,62.21 444.48,63.3 445.33,63.38 C446.18,63.47 448.13,62.88 448.98,62.94 C449.83,63.01 451.78,63.92 452.63,63.97 C453.48,64.02 455.43,63.55 456.28,63.38 C457.13,63.21 459.08,62.51 459.93,62.51 C460.78,62.51 462.73,63.16 463.58,63.38 C464.43,63.6 466.37,64.4 467.23,64.4 C468.08,64.4 470.02,63.55 470.88,63.38 C471.73,63.21 473.67,62.94 474.53,62.94 C475.38,62.94 477.32,63.43 478.18,63.38 C479.03,63.33 480.97,62.39 481.82,62.51 C482.68,62.63 484.62,64.27 485.47,64.4 C486.33,64.54 488.27,63.84 489.12,63.67 C489.98,63.5 491.92,62.81 492.77,62.94 C493.63,63.08 495.66,64.76 496.42,64.84 C497.19,64.93 498.66,63.61 499.34,63.67 C500.02,63.74 501.63,65.6 502.26,65.43 C502.89,65.26 504.15,62.56 504.74,62.21 C505.34,61.87 506.73,62.51 507.37,62.51 C508.02,62.51 509.61,62.28 510.29,62.21 C510.97,62.15 512.53,62.01 513.21,61.92 C513.89,61.84 515.45,61.65 516.13,61.48 C516.81,61.31 518.51,60.63 519.05,60.46 C519.6,60.29 520.6,60.08 520.8,60.02 L520.8,63.62 C520.6,63.68 519.6,63.89 519.05,64.06 C518.51,64.23 516.81,64.91 516.13,65.08 C515.45,65.25 513.89,65.44 513.21,65.52 C512.53,65.61 510.97,65.75 510.29,65.81 C509.61,65.88 508.02,66.11 507.37,66.11 C506.73,66.11 505.34,65.47 504.74,65.81 C504.15,66.16 502.89,68.86 502.26,69.03 C501.63,69.2 500.02,67.34 499.34,67.27 C498.66,67.21 497.19,68.53 496.42,68.44 C495.66,68.36 493.63,66.68 492.77,66.54 C491.92,66.41 489.98,67.1 489.12,67.27 C488.27,67.44 486.33,68.14 485.47,68 C484.62,67.87 482.68,66.23 481.82,66.11 C480.97,65.99 479.03,66.93 478.18,66.98 C477.32,67.03 475.38,66.54 474.53,66.54 C473.67,66.54 471.73,66.81 470.88,66.98 C470.02,67.15 468.08,68 467.23,68 C466.37,68 464.43,67.2 463.58,66.98 C462.73,66.76 460.78,66.11 459.93,66.11 C459.08,66.11 457.13,66.81 456.28,66.98 C455.43,67.15 453.48,67.62 452.63,67.57 C451.78,67.52 449.83,66.61 448.98,66.54 C448.13,66.48 446.18,67.07 445.33,66.98 C444.48,66.9 442.45,65.81 441.68,65.81 C440.91,65.81 439.47,66.9 438.76,66.98 C438.04,67.07 435.92,66.6 435.55,66.54 Z" fill="#0e9a9e" opacity="0.27" stroke="none"/><path d="M435.55,64.74 C435.92,64.8 438.04,65.27 438.76,65.18 C439.47,65.1 440.91,64.01 441.68,64.01 C442.45,64.01 444.48,65.1 445.33,65.18 C446.18,65.27 448.13,64.68 448.98,64.74 C449.83,64.81 451.78,65.72 452.63,65.77 C453.48,65.82 455.43,65.35 456.28,65.18 C457.13,65.01 459.08,64.31 459.93,64.31 C460.78,64.31 462.73,64.96 463.58,65.18 C464.43,65.4 466.37,66.2 467.23,66.2 C468.08,66.2 470.02,65.35 470.88,65.18 C471.73,65.01 473.67,64.74 474.53,64.74 C475.38,64.74 477.32,65.23 478.18,65.18 C479.03,65.13 480.97,64.19 481.82,64.31 C482.68,64.43 484.62,66.07 485.47,66.2 C486.33,66.34 488.27,65.64 489.12,65.47 C489.98,65.3 491.92,64.61 492.77,64.74 C493.63,64.88 495.66,66.56 496.42,66.64 C497.19,66.73 498.66,65.41 499.34,65.47 C500.02,65.54 501.63,67.4 502.26,67.23 C502.89,67.06 504.15,64.36 504.74,64.01 C505.34,63.67 506.73,64.31 507.37,64.31 C508.02,64.31 509.61,64.08 510.29,64.01 C510.97,63.95 512.53,63.81 513.21,63.72 C513.89,63.64 515.45,63.45 516.13,63.28 C516.81,63.11 518.51,62.43 519.05,62.26 C519.6,62.09 520.6,61.88 520.8,61.82" fill="none" stroke="#0e9a9e" stroke-width="1.6" stroke-linejoin="round" stroke-linecap="butt"/>
<path d="M435.55,119.48 C436.09,119.73 439.16,121.16 440.22,121.67 C441.27,122.18 443.58,123.35 444.6,123.86 C445.62,124.37 447.96,125.57 448.98,126.05 C450,126.52 452.34,127.52 453.36,127.94 C454.38,128.37 456.72,129.36 457.74,129.7 C458.76,130.04 461.09,130.52 462.12,130.86 C463.14,131.2 465.47,132.21 466.5,132.62 C467.52,133.02 469.85,133.94 470.88,134.37 C471.9,134.79 474.32,135.99 475.26,136.27 C476.19,136.54 478.22,136.96 478.91,136.7 C479.59,136.45 480.5,135.23 481.09,134.08 C481.69,132.92 483.25,128.65 484.01,126.78 C484.78,124.9 486.81,119.98 487.66,118.02 C488.52,116.06 490.46,111.69 491.31,109.99 C492.17,108.29 494.11,104.78 494.96,103.42 C495.82,102.06 497.68,99.2 498.61,98.31 C499.55,97.42 502.14,96.29 502.99,95.83 C503.84,95.37 505.15,94.74 505.91,94.37 C506.68,93.99 508.71,92.99 509.56,92.62 C510.41,92.24 512.36,91.26 513.21,91.16 C514.06,91.05 515.98,91.54 516.86,91.74 C517.75,91.94 520.34,92.77 520.8,92.91 L520.8,96.51 C520.34,96.37 517.75,95.54 516.86,95.34 C515.98,95.14 514.06,94.65 513.21,94.76 C512.36,94.86 510.41,95.84 509.56,96.22 C508.71,96.59 506.68,97.59 505.91,97.97 C505.15,98.34 503.84,98.97 502.99,99.43 C502.14,99.89 499.55,101.02 498.61,101.91 C497.68,102.8 495.82,105.66 494.96,107.02 C494.11,108.38 492.17,111.89 491.31,113.59 C490.46,115.29 488.52,119.66 487.66,121.62 C486.81,123.58 484.78,128.5 484.01,130.38 C483.25,132.25 481.69,136.52 481.09,137.68 C480.5,138.83 479.59,140.05 478.91,140.3 C478.22,140.56 476.19,140.14 475.26,139.87 C474.32,139.59 471.9,138.39 470.88,137.97 C469.85,137.54 467.52,136.62 466.5,136.22 C465.47,135.81 463.14,134.8 462.12,134.46 C461.09,134.12 458.76,133.64 457.74,133.3 C456.72,132.96 454.38,131.97 453.36,131.54 C452.34,131.12 450,130.12 448.98,129.65 C447.96,129.17 445.62,127.97 444.6,127.46 C443.58,126.95 441.27,125.78 440.22,125.27 C439.16,124.76 436.09,123.33 435.55,123.08 Z" fill="#5f5f5f" opacity="0.27" stroke="none"/><path d="M435.55,121.28 C436.09,121.53 439.16,122.96 440.22,123.47 C441.27,123.98 443.58,125.15 444.6,125.66 C445.62,126.17 447.96,127.37 448.98,127.85 C450,128.32 452.34,129.32 453.36,129.74 C454.38,130.17 456.72,131.16 457.74,131.5 C458.76,131.84 461.09,132.32 462.12,132.66 C463.14,133 465.47,134.01 466.5,134.42 C467.52,134.82 469.85,135.74 470.88,136.17 C471.9,136.59 474.32,137.79 475.26,138.07 C476.19,138.34 478.22,138.76 478.91,138.5 C479.59,138.25 480.5,137.03 481.09,135.88 C481.69,134.72 483.25,130.45 484.01,128.58 C484.78,126.7 486.81,121.78 487.66,119.82 C488.52,117.86 490.46,113.49 491.31,111.79 C492.17,110.09 494.11,106.58 494.96,105.22 C495.82,103.86 497.68,101 498.61,100.11 C499.55,99.22 502.14,98.09 502.99,97.63 C503.84,97.17 505.15,96.54 505.91,96.17 C506.68,95.79 508.71,94.79 509.56,94.42 C510.41,94.04 512.36,93.06 513.21,92.96 C514.06,92.85 515.98,93.34 516.86,93.54 C517.75,93.74 520.34,94.57 520.8,94.71" fill="none" stroke="#5f5f5f" stroke-width="1.6" stroke-linejoin="round" stroke-linecap="butt"/>
<path d="M435.55,116.27 C435.92,116.47 437.96,117.61 438.76,118.02 C439.56,118.43 441.56,119.34 442.41,119.77 C443.26,120.2 445.12,121.19 446.06,121.67 C447,122.14 449.42,123.35 450.44,123.86 C451.46,124.37 453.8,125.54 454.82,126.05 C455.84,126.56 458.18,127.81 459.2,128.24 C460.22,128.66 462.55,129.32 463.58,129.7 C464.6,130.07 466.93,131.14 467.96,131.45 C468.98,131.75 471.4,132.19 472.34,132.32 C473.27,132.46 475.22,132.28 475.99,132.62 C476.75,132.96 478.31,134.87 478.91,135.24 C479.5,135.62 480.58,136.13 481.09,135.83 C481.61,135.52 482.69,133.84 483.28,132.62 C483.88,131.39 485.44,127.19 486.2,125.32 C486.97,123.44 489,118.52 489.85,116.56 C490.71,114.6 492.65,110.2 493.5,108.53 C494.36,106.86 496.22,103.39 497.15,102.25 C498.09,101.11 500.68,99.53 501.53,98.75 C502.38,97.96 503.69,96.13 504.45,95.54 C505.22,94.94 507.25,94.08 508.1,93.64 C508.95,93.2 510.9,92.17 511.75,91.74 C512.6,91.31 514.64,90.36 515.4,89.99 C516.17,89.61 517.69,88.78 518.32,88.53 C518.95,88.27 520.51,87.88 520.8,87.8 L520.8,91.4 C520.51,91.48 518.95,91.87 518.32,92.13 C517.69,92.38 516.17,93.21 515.4,93.59 C514.64,93.96 512.6,94.91 511.75,95.34 C510.9,95.77 508.95,96.8 508.1,97.24 C507.25,97.68 505.22,98.54 504.45,99.14 C503.69,99.73 502.38,101.56 501.53,102.35 C500.68,103.13 498.09,104.71 497.15,105.85 C496.22,106.99 494.36,110.46 493.5,112.13 C492.65,113.8 490.71,118.2 489.85,120.16 C489,122.12 486.97,127.04 486.2,128.92 C485.44,130.79 483.88,134.99 483.28,136.22 C482.69,137.44 481.61,139.12 481.09,139.43 C480.58,139.73 479.5,139.22 478.91,138.84 C478.31,138.47 476.75,136.56 475.99,136.22 C475.22,135.88 473.27,136.06 472.34,135.92 C471.4,135.79 468.98,135.35 467.96,135.05 C466.93,134.74 464.6,133.67 463.58,133.3 C462.55,132.92 460.22,132.26 459.2,131.84 C458.18,131.41 455.84,130.16 454.82,129.65 C453.8,129.14 451.46,127.97 450.44,127.46 C449.42,126.95 447,125.74 446.06,125.27 C445.12,124.79 443.26,123.8 442.41,123.37 C441.56,122.94 439.56,122.03 438.76,121.62 C437.96,121.21 435.92,120.07 435.55,119.87 Z" fill="#0e9a9e" opacity="0.27" stroke="none"/><path d="M435.55,118.07 C435.92,118.27 437.96,119.41 438.76,119.82 C439.56,120.23 441.56,121.14 442.41,121.57 C443.26,122 445.12,122.99 446.06,123.47 C447,123.94 449.42,125.15 450.44,125.66 C451.46,126.17 453.8,127.34 454.82,127.85 C455.84,128.36 458.18,129.61 459.2,130.04 C460.22,130.46 462.55,131.12 463.58,131.5 C464.6,131.87 466.93,132.94 467.96,133.25 C468.98,133.55 471.4,133.99 472.34,134.12 C473.27,134.26 475.22,134.08 475.99,134.42 C476.75,134.76 478.31,136.67 478.91,137.04 C479.5,137.42 480.58,137.93 481.09,137.63 C481.61,137.32 482.69,135.64 483.28,134.42 C483.88,133.19 485.44,128.99 486.2,127.12 C486.97,125.24 489,120.32 489.85,118.36 C490.71,116.4 492.65,112 493.5,110.33 C494.36,108.66 496.22,105.19 497.15,104.05 C498.09,102.91 500.68,101.33 501.53,100.55 C502.38,99.76 503.69,97.93 504.45,97.34 C505.22,96.74 507.25,95.88 508.1,95.44 C508.95,95 510.9,93.97 511.75,93.54 C512.6,93.11 514.64,92.16 515.4,91.79 C516.17,91.41 517.69,90.58 518.32,90.33 C518.95,90.07 520.51,89.68 520.8,89.6" fill="none" stroke="#0e9a9e" stroke-width="1.6" stroke-linejoin="round" stroke-linecap="butt"/>
<path d="M435.55,146.92 C436.09,147.13 439.16,148.27 440.22,148.67 C441.27,149.08 443.58,150.05 444.6,150.43 C445.62,150.8 447.96,151.55 448.98,151.89 C450,152.23 452.34,152.95 453.36,153.35 C454.38,153.74 456.72,154.9 457.74,155.24 C458.76,155.58 461.09,155.93 462.12,156.27 C463.14,156.61 465.47,157.69 466.5,158.16 C467.52,158.64 469.85,159.84 470.88,160.35 C471.9,160.86 474.32,162.12 475.26,162.54 C476.19,162.97 478.05,164.09 478.91,164 C479.76,163.92 481.62,162.32 482.55,161.81 C483.49,161.3 485.91,160.13 486.93,159.62 C487.96,159.11 490.29,157.89 491.31,157.43 C492.34,156.97 494.67,156.36 495.69,155.68 C496.72,155 499.05,152.5 500.07,151.59 C501.09,150.69 503.43,148.88 504.45,147.94 C505.47,147.01 507.98,144.37 508.83,143.56 C509.68,142.76 511.16,141.42 511.75,141.08 C512.35,140.74 513.26,141.21 513.94,140.65 C514.62,140.08 516.79,137.24 517.59,136.27 C518.39,135.29 520.43,132.78 520.8,132.32 L520.8,135.92 C520.43,136.38 518.39,138.89 517.59,139.87 C516.79,140.84 514.62,143.68 513.94,144.25 C513.26,144.81 512.35,144.34 511.75,144.68 C511.16,145.02 509.68,146.36 508.83,147.16 C507.98,147.97 505.47,150.61 504.45,151.54 C503.43,152.48 501.09,154.29 500.07,155.19 C499.05,156.1 496.72,158.6 495.69,159.28 C494.67,159.96 492.34,160.57 491.31,161.03 C490.29,161.49 487.96,162.71 486.93,163.22 C485.91,163.73 483.49,164.9 482.55,165.41 C481.62,165.92 479.76,167.52 478.91,167.6 C478.05,167.69 476.19,166.57 475.26,166.14 C474.32,165.72 471.9,164.46 470.88,163.95 C469.85,163.44 467.52,162.24 466.5,161.76 C465.47,161.29 463.14,160.21 462.12,159.87 C461.09,159.53 458.76,159.18 457.74,158.84 C456.72,158.5 454.38,157.34 453.36,156.95 C452.34,156.55 450,155.83 448.98,155.49 C447.96,155.15 445.62,154.4 444.6,154.03 C443.58,153.65 441.27,152.68 440.22,152.27 C439.16,151.87 436.09,150.73 435.55,150.52 Z" fill="#5f5f5f" opacity="0.27" stroke="none"/><path d="M435.55,148.72 C436.09,148.93 439.16,150.07 440.22,150.47 C441.27,150.88 443.58,151.85 444.6,152.23 C445.62,152.6 447.96,153.35 448.98,153.69 C450,154.03 452.34,154.75 453.36,155.15 C454.38,155.54 456.72,156.7 457.74,157.04 C458.76,157.38 461.09,157.73 462.12,158.07 C463.14,158.41 465.47,159.49 466.5,159.96 C467.52,160.44 469.85,161.64 470.88,162.15 C471.9,162.66 474.32,163.92 475.26,164.34 C476.19,164.77 478.05,165.89 478.91,165.8 C479.76,165.72 481.62,164.12 482.55,163.61 C483.49,163.1 485.91,161.93 486.93,161.42 C487.96,160.91 490.29,159.69 491.31,159.23 C492.34,158.77 494.67,158.16 495.69,157.48 C496.72,156.8 499.05,154.3 500.07,153.39 C501.09,152.49 503.43,150.68 504.45,149.74 C505.47,148.81 507.98,146.17 508.83,145.36 C509.68,144.56 511.16,143.22 511.75,142.88 C512.35,142.54 513.26,143.01 513.94,142.45 C514.62,141.88 516.79,139.04 517.59,138.07 C518.39,137.09 520.43,134.58 520.8,134.12" fill="none" stroke="#5f5f5f" stroke-width="1.6" stroke-linejoin="round" stroke-linecap="butt"/>
<path d="M435.55,147.94 C436.01,148 438.6,148.38 439.49,148.38 C440.37,148.38 442.2,147.91 443.14,147.94 C444.08,147.98 446.5,148.56 447.52,148.67 C448.54,148.79 450.88,148.88 451.9,148.97 C452.92,149.05 455.26,149.47 456.28,149.4 C457.3,149.34 459.64,148.38 460.66,148.38 C461.68,148.38 464.01,149.06 465.04,149.4 C466.06,149.75 468.39,150.96 469.42,151.3 C470.44,151.64 472.86,151.95 473.8,152.32 C474.73,152.7 476.68,154.05 477.45,154.51 C478.21,154.97 479.6,155.96 480.36,156.27 C481.13,156.57 483.16,157.14 484.01,157.14 C484.87,157.14 486.81,156.71 487.66,156.27 C488.52,155.82 490.38,153.89 491.31,153.35 C492.25,152.8 494.67,151.83 495.69,151.59 C496.72,151.36 499.05,151.39 500.07,151.3 C501.09,151.22 503.43,150.86 504.45,150.86 C505.47,150.86 507.98,151.3 508.83,151.3 C509.68,151.3 511.21,151.26 511.75,150.86 C512.3,150.47 513.03,148.23 513.5,147.94 C513.98,147.65 515.28,148.64 515.84,148.38 C516.4,148.13 517.74,146.2 518.32,145.75 C518.9,145.31 520.51,144.72 520.8,144.59 L520.8,148.19 C520.51,148.32 518.9,148.91 518.32,149.35 C517.74,149.8 516.4,151.73 515.84,151.98 C515.28,152.24 513.98,151.25 513.5,151.54 C513.03,151.83 512.3,154.07 511.75,154.46 C511.21,154.86 509.68,154.9 508.83,154.9 C507.98,154.9 505.47,154.46 504.45,154.46 C503.43,154.46 501.09,154.82 500.07,154.9 C499.05,154.99 496.72,154.96 495.69,155.19 C494.67,155.43 492.25,156.4 491.31,156.95 C490.38,157.49 488.52,159.42 487.66,159.87 C486.81,160.31 484.87,160.74 484.01,160.74 C483.16,160.74 481.13,160.17 480.36,159.87 C479.6,159.56 478.21,158.57 477.45,158.11 C476.68,157.65 474.73,156.3 473.8,155.92 C472.86,155.55 470.44,155.24 469.42,154.9 C468.39,154.56 466.06,153.35 465.04,153 C464.01,152.66 461.68,151.98 460.66,151.98 C459.64,151.98 457.3,152.94 456.28,153 C455.26,153.07 452.92,152.65 451.9,152.57 C450.88,152.48 448.54,152.39 447.52,152.27 C446.5,152.16 444.08,151.58 443.14,151.54 C442.2,151.51 440.37,151.98 439.49,151.98 C438.6,151.98 436.01,151.6 435.55,151.54 Z" fill="#0e9a9e" opacity="0.27" stroke="none"/><path d="M435.55,149.74 C436.01,149.8 438.6,150.18 439.49,150.18 C440.37,150.18 442.2,149.71 443.14,149.74 C444.08,149.78 446.5,150.36 447.52,150.47 C448.54,150.59 450.88,150.68 451.9,150.77 C452.92,150.85 455.26,151.27 456.28,151.2 C457.3,151.14 459.64,150.18 460.66,150.18 C461.68,150.18 464.01,150.86 465.04,151.2 C466.06,151.55 468.39,152.76 469.42,153.1 C470.44,153.44 472.86,153.75 473.8,154.12 C474.73,154.5 476.68,155.85 477.45,156.31 C478.21,156.77 479.6,157.76 480.36,158.07 C481.13,158.37 483.16,158.94 484.01,158.94 C484.87,158.94 486.81,158.51 487.66,158.07 C488.52,157.62 490.38,155.69 491.31,155.15 C492.25,154.6 494.67,153.63 495.69,153.39 C496.72,153.16 499.05,153.19 500.07,153.1 C501.09,153.02 503.43,152.66 504.45,152.66 C505.47,152.66 507.98,153.1 508.83,153.1 C509.68,153.1 511.21,153.06 511.75,152.66 C512.3,152.27 513.03,150.03 513.5,149.74 C513.98,149.45 515.28,150.44 515.84,150.18 C516.4,149.93 517.74,148 518.32,147.55 C518.9,147.11 520.51,146.52 520.8,146.39" fill="none" stroke="#0e9a9e" stroke-width="1.6" stroke-linejoin="round" stroke-linecap="butt"/>
<line x1="478.5" y1="14.1" x2="478.5" y2="170.2" stroke="#111" stroke-width="0.9" stroke-dasharray="2.8,2.0"/>
<line x1="435.5" y1="14.1" x2="435.5" y2="170.2" stroke="#222" stroke-width="0.6"/>
<line x1="435.5" y1="170.2" x2="520.9" y2="170.2" stroke="#222" stroke-width="0.6"/>
<line x1="435.8" y1="170.2" x2="435.8" y2="172" stroke="#222" stroke-width="0.6"/>
<text x="435.8" y="180.5" font-size="7.4" text-anchor="middle">−10</text>
<line x1="457.15" y1="170.2" x2="457.15" y2="172" stroke="#222" stroke-width="0.6"/>
<text x="457.15" y="180.5" font-size="7.4" text-anchor="middle">−5</text>
<line x1="478.5" y1="170.2" x2="478.5" y2="172" stroke="#222" stroke-width="0.6"/>
<text x="478.5" y="180.5" font-size="7.4" text-anchor="middle">0</text>
<line x1="499.85" y1="170.2" x2="499.85" y2="172" stroke="#222" stroke-width="0.6"/>
<text x="499.85" y="180.5" font-size="7.4" text-anchor="middle">5</text>
<line x1="521.2" y1="170.2" x2="521.2" y2="172" stroke="#222" stroke-width="0.6"/>
<text x="521.2" y="180.5" font-size="7.4" text-anchor="middle">10</text>
<text x="479" y="188.6" font-size="8.6" text-anchor="middle">Time (s)</text>
<text x="479.5" y="10.2" font-size="8.9" text-anchor="middle">Forward run start</text>
<text x="537.8" y="21.8" font-size="6.85">RMED</text><line x1="526.2" y1="27.4" x2="532.5" y2="27.4" stroke="#5f5f5f" stroke-width="1.2"/><text x="537.8" y="29.6" font-size="6.85">WT <tspan font-style="italic">n</tspan> = 27</text><line x1="526.2" y1="35" x2="532.5" y2="35" stroke="#0e9a9e" stroke-width="1.2"/><text x="537.8" y="37.2" font-size="6.85"><tspan font-style="italic">tdc-1 n</tspan> = 10</text>
<text x="537.8" y="53.6" font-size="6.85">SIAV</text><line x1="526.2" y1="59.2" x2="532.5" y2="59.2" stroke="#5f5f5f" stroke-width="1.2"/><text x="537.8" y="61.4" font-size="6.85">WT <tspan font-style="italic">n</tspan> = 24</text><line x1="526.2" y1="66.8" x2="532.5" y2="66.8" stroke="#0e9a9e" stroke-width="1.2"/><text x="537.8" y="69" font-size="6.85"><tspan font-style="italic">tdc-1 n</tspan> = 7</text><text x="537.8" y="78.6" font-size="8.6" fill="#111">**</text>
<text x="537.8" y="89.8" font-size="6.85">SIBV</text><line x1="526.2" y1="95.4" x2="532.5" y2="95.4" stroke="#5f5f5f" stroke-width="1.2"/><text x="537.8" y="97.6" font-size="6.85">WT <tspan font-style="italic">n</tspan> = 17</text><line x1="526.2" y1="103" x2="532.5" y2="103" stroke="#0e9a9e" stroke-width="1.2"/><text x="537.8" y="105.2" font-size="6.85"><tspan font-style="italic">tdc-1 n</tspan> = 12</text><text x="537.8" y="114.8" font-size="8.6" fill="#111">**</text>
<text x="537.8" y="134.6" font-size="6.85">VB02</text><line x1="526.2" y1="140.2" x2="532.5" y2="140.2" stroke="#5f5f5f" stroke-width="1.2"/><text x="537.8" y="142.4" font-size="6.85">WT <tspan font-style="italic">n</tspan> = 17</text><line x1="526.2" y1="147.8" x2="532.5" y2="147.8" stroke="#0e9a9e" stroke-width="1.2"/><text x="537.8" y="150" font-size="6.85"><tspan font-style="italic">tdc-1 n</tspan> = 10</text><text x="537.8" y="159.6" font-size="8.6" fill="#e8546a">*</text>
<text x="261.2" y="217.2" font-size="11.5" fill="#000" font-weight="bold">d</text>
<rect x="290.4" y="226.1" width="34.4" height="86.2" fill="#fce3e0"/>
<line x1="307.6" y1="226.1" x2="307.6" y2="312.3" stroke="#8c8c8c" stroke-width="0.5"/>
<line x1="342" y1="226.1" x2="342" y2="312.3" stroke="#8c8c8c" stroke-width="0.5"/>
<line x1="359.2" y1="226.1" x2="359.2" y2="312.3" stroke="#8c8c8c" stroke-width="0.5"/>
<line x1="376.4" y1="226.1" x2="376.4" y2="312.3" stroke="#8c8c8c" stroke-width="0.5"/>
<path d="M290.55,266.86 C290.87,267.38 293.15,271.1 293.76,271.97 C294.37,272.85 296.17,275.84 296.68,275.62 C297.19,275.41 298.43,270.69 298.87,269.78 C299.31,268.88 300.55,266.65 301.06,266.57 C301.57,266.5 303.39,268.44 303.98,269.05 C304.56,269.67 306.31,271.83 306.9,272.7 C307.48,273.58 309.31,276.79 309.82,277.81 C310.33,278.84 311.6,282.27 312.01,282.92 C312.42,283.58 313.54,284.89 313.91,284.38 C314.27,283.87 315.26,278.88 315.66,277.81 C316.05,276.75 317.41,274.09 317.85,273.73 C318.28,273.36 319.55,273.68 320.04,274.16 C320.52,274.65 322.2,277.3 322.66,278.54 C323.13,279.78 324.31,285.65 324.71,286.57 C325.1,287.49 326.2,288.62 326.61,287.74 C327.01,286.86 328.36,280.12 328.8,277.81 C329.23,275.51 330.55,266.86 330.99,264.68 C331.42,262.49 332.74,257.11 333.18,255.92 C333.61,254.72 334.9,252.82 335.36,252.7 C335.83,252.59 337.26,254.28 337.85,254.75 C338.43,255.22 340.65,256.6 341.2,257.38 C341.76,258.15 342.91,261.68 343.39,262.49 C343.88,263.29 345.55,265.33 346.02,265.41 C346.49,265.48 347.63,263.95 348.07,263.22 C348.5,262.49 349.96,258.86 350.4,258.11 C350.84,257.35 351.98,255.81 352.45,255.62 C352.91,255.43 354.59,255.96 355.07,256.21 C355.55,256.46 356.82,257.99 357.26,258.11 C357.7,258.22 359.01,257.08 359.45,257.38 C359.89,257.67 361.2,260.37 361.64,261.03 C362.08,261.68 363.47,263.73 363.83,263.95 C364.2,264.16 364.97,263.73 365.29,263.22 C365.61,262.7 366.75,259.64 367.04,258.84 C367.34,258.03 367.95,255.59 368.21,255.19 C368.47,254.78 369.35,255.11 369.67,254.75 C369.99,254.38 371.06,251.97 371.42,251.54 C371.79,251.1 372.84,250.4 373.32,250.37 C373.8,250.34 375.95,251.16 376.24,251.24 L376.24,258.24 C375.95,258.16 373.8,257.34 373.32,257.37 C372.84,257.4 371.79,258.1 371.42,258.54 C371.06,258.97 369.99,261.38 369.67,261.75 C369.35,262.11 368.47,261.78 368.21,262.19 C367.95,262.59 367.34,265.03 367.04,265.84 C366.75,266.64 365.61,269.7 365.29,270.22 C364.97,270.73 364.2,271.16 363.83,270.95 C363.47,270.73 362.08,268.68 361.64,268.03 C361.2,267.37 359.89,264.67 359.45,264.38 C359.01,264.08 357.7,265.22 357.26,265.11 C356.82,264.99 355.55,263.46 355.07,263.21 C354.59,262.96 352.91,262.43 352.45,262.62 C351.98,262.81 350.84,264.35 350.4,265.11 C349.96,265.86 348.5,269.49 348.07,270.22 C347.63,270.95 346.49,272.48 346.02,272.41 C345.55,272.33 343.88,270.29 343.39,269.49 C342.91,268.68 341.76,265.15 341.2,264.38 C340.65,263.6 338.43,262.22 337.85,261.75 C337.26,261.28 335.83,259.59 335.36,259.7 C334.9,259.82 333.61,261.72 333.18,262.92 C332.74,264.11 331.42,269.49 330.99,271.68 C330.55,273.86 329.23,282.51 328.8,284.81 C328.36,287.12 327.01,293.86 326.61,294.74 C326.2,295.62 325.1,294.49 324.71,293.57 C324.31,292.65 323.13,286.78 322.66,285.54 C322.2,284.3 320.52,281.65 320.04,281.16 C319.55,280.68 318.28,280.36 317.85,280.73 C317.41,281.09 316.05,283.75 315.66,284.81 C315.26,285.88 314.27,290.87 313.91,291.38 C313.54,291.89 312.42,290.58 312.01,289.92 C311.6,289.27 310.33,285.84 309.82,284.81 C309.31,283.79 307.48,280.58 306.9,279.7 C306.31,278.83 304.56,276.67 303.98,276.05 C303.39,275.44 301.57,273.5 301.06,273.57 C300.55,273.65 299.31,275.88 298.87,276.78 C298.43,277.69 297.19,282.41 296.68,282.62 C296.17,282.84 294.37,279.85 293.76,278.97 C293.15,278.1 290.87,274.38 290.55,273.86 Z" fill="#5f5f5f" opacity="0.27" stroke="none"/><path d="M290.55,270.36 C290.87,270.88 293.15,274.6 293.76,275.47 C294.37,276.35 296.17,279.34 296.68,279.12 C297.19,278.91 298.43,274.19 298.87,273.28 C299.31,272.38 300.55,270.15 301.06,270.07 C301.57,270 303.39,271.94 303.98,272.55 C304.56,273.17 306.31,275.33 306.9,276.2 C307.48,277.08 309.31,280.29 309.82,281.31 C310.33,282.34 311.6,285.77 312.01,286.42 C312.42,287.08 313.54,288.39 313.91,287.88 C314.27,287.37 315.26,282.38 315.66,281.31 C316.05,280.25 317.41,277.59 317.85,277.23 C318.28,276.86 319.55,277.18 320.04,277.66 C320.52,278.15 322.2,280.8 322.66,282.04 C323.13,283.28 324.31,289.15 324.71,290.07 C325.1,290.99 326.2,292.12 326.61,291.24 C327.01,290.36 328.36,283.62 328.8,281.31 C329.23,279.01 330.55,270.36 330.99,268.18 C331.42,265.99 332.74,260.61 333.18,259.42 C333.61,258.22 334.9,256.32 335.36,256.2 C335.83,256.09 337.26,257.78 337.85,258.25 C338.43,258.72 340.65,260.1 341.2,260.88 C341.76,261.65 342.91,265.18 343.39,265.99 C343.88,266.79 345.55,268.83 346.02,268.91 C346.49,268.98 347.63,267.45 348.07,266.72 C348.5,265.99 349.96,262.36 350.4,261.61 C350.84,260.85 351.98,259.31 352.45,259.12 C352.91,258.93 354.59,259.46 355.07,259.71 C355.55,259.96 356.82,261.49 357.26,261.61 C357.7,261.72 359.01,260.58 359.45,260.88 C359.89,261.17 361.2,263.87 361.64,264.53 C362.08,265.18 363.47,267.23 363.83,267.45 C364.2,267.66 364.97,267.23 365.29,266.72 C365.61,266.2 366.75,263.14 367.04,262.34 C367.34,261.53 367.95,259.09 368.21,258.69 C368.47,258.28 369.35,258.61 369.67,258.25 C369.99,257.88 371.06,255.47 371.42,255.04 C371.79,254.6 372.84,253.9 373.32,253.87 C373.8,253.84 375.95,254.66 376.24,254.74" fill="none" stroke="#5f5f5f" stroke-width="1.6" stroke-linejoin="round" stroke-linecap="butt"/>
<path d="M290.55,264.86 C290.8,265.2 292.53,267.74 293.03,268.22 C293.53,268.7 295.07,269.83 295.51,269.68 C295.95,269.54 297,267.17 297.41,266.76 C297.82,266.35 299.09,265.57 299.6,265.59 C300.11,265.62 301.93,266.65 302.52,267.05 C303.1,267.46 304.85,269.32 305.44,269.68 C306.02,270.05 307.77,270.09 308.36,270.7 C308.94,271.32 310.77,275.08 311.28,275.81 C311.79,276.54 313.03,278.22 313.47,278 C313.91,277.78 315.22,274.14 315.66,273.62 C316.09,273.11 317.34,273.19 317.85,272.89 C318.36,272.6 320.18,270.82 320.77,270.7 C321.35,270.59 323.18,271.36 323.69,271.73 C324.2,272.09 325.48,273.97 325.88,274.35 C326.27,274.73 327.26,275.74 327.63,275.52 C327.99,275.3 329.12,272.84 329.53,272.16 C329.93,271.49 331.2,269.2 331.72,268.81 C332.23,268.41 334.05,267.99 334.64,268.22 C335.22,268.46 337,270.68 337.55,271.14 C338.11,271.61 339.67,272.79 340.18,272.89 C340.69,273 342.17,272.02 342.66,272.16 C343.16,272.31 344.61,274.14 345.15,274.35 C345.69,274.57 347.54,274.72 348.07,274.35 C348.59,273.99 349.96,271.17 350.4,270.7 C350.84,270.24 352.01,270.08 352.45,269.68 C352.88,269.29 354.37,266.91 354.78,266.76 C355.19,266.62 356.14,268.16 356.53,268.22 C356.93,268.28 358.21,267.17 358.72,267.35 C359.23,267.52 361.06,269.54 361.64,269.97 C362.23,270.41 364.05,271.8 364.56,271.73 C365.07,271.65 366.27,270.08 366.75,269.24 C367.23,268.41 368.87,264.21 369.38,263.41 C369.89,262.6 371.39,261.58 371.86,261.22 C372.33,260.85 373.61,260.02 374.05,259.76 C374.49,259.49 376.02,258.7 376.24,258.59 L376.24,269.59 C376.02,269.7 374.49,270.49 374.05,270.76 C373.61,271.02 372.33,271.85 371.86,272.22 C371.39,272.58 369.89,273.6 369.38,274.41 C368.87,275.21 367.23,279.41 366.75,280.24 C366.27,281.08 365.07,282.65 364.56,282.73 C364.05,282.8 362.23,281.41 361.64,280.97 C361.06,280.54 359.23,278.52 358.72,278.35 C358.21,278.17 356.93,279.28 356.53,279.22 C356.14,279.16 355.19,277.62 354.78,277.76 C354.37,277.91 352.88,280.29 352.45,280.68 C352.01,281.08 350.84,281.24 350.4,281.7 C349.96,282.17 348.59,284.99 348.07,285.35 C347.54,285.72 345.69,285.57 345.15,285.35 C344.61,285.14 343.16,283.31 342.66,283.16 C342.17,283.02 340.69,284 340.18,283.89 C339.67,283.79 338.11,282.61 337.55,282.14 C337,281.68 335.22,279.46 334.64,279.22 C334.05,278.99 332.23,279.41 331.72,279.81 C331.2,280.2 329.93,282.49 329.53,283.16 C329.12,283.84 327.99,286.3 327.63,286.52 C327.26,286.74 326.27,285.73 325.88,285.35 C325.48,284.97 324.2,283.09 323.69,282.73 C323.18,282.36 321.35,281.59 320.77,281.7 C320.18,281.82 318.36,283.6 317.85,283.89 C317.34,284.19 316.09,284.11 315.66,284.62 C315.22,285.14 313.91,288.78 313.47,289 C313.03,289.22 311.79,287.54 311.28,286.81 C310.77,286.08 308.94,282.32 308.36,281.7 C307.77,281.09 306.02,281.05 305.44,280.68 C304.85,280.32 303.1,278.46 302.52,278.05 C301.93,277.65 300.11,276.62 299.6,276.59 C299.09,276.57 297.82,277.35 297.41,277.76 C297,278.17 295.95,280.54 295.51,280.68 C295.07,280.83 293.53,279.7 293.03,279.22 C292.53,278.74 290.8,276.2 290.55,275.86 Z" fill="#0e9a9e" opacity="0.27" stroke="none"/><path d="M290.55,270.36 C290.8,270.7 292.53,273.24 293.03,273.72 C293.53,274.2 295.07,275.33 295.51,275.18 C295.95,275.04 297,272.67 297.41,272.26 C297.82,271.85 299.09,271.07 299.6,271.09 C300.11,271.12 301.93,272.15 302.52,272.55 C303.1,272.96 304.85,274.82 305.44,275.18 C306.02,275.55 307.77,275.59 308.36,276.2 C308.94,276.82 310.77,280.58 311.28,281.31 C311.79,282.04 313.03,283.72 313.47,283.5 C313.91,283.28 315.22,279.64 315.66,279.12 C316.09,278.61 317.34,278.69 317.85,278.39 C318.36,278.1 320.18,276.32 320.77,276.2 C321.35,276.09 323.18,276.86 323.69,277.23 C324.2,277.59 325.48,279.47 325.88,279.85 C326.27,280.23 327.26,281.24 327.63,281.02 C327.99,280.8 329.12,278.34 329.53,277.66 C329.93,276.99 331.2,274.7 331.72,274.31 C332.23,273.91 334.05,273.49 334.64,273.72 C335.22,273.96 337,276.18 337.55,276.64 C338.11,277.11 339.67,278.29 340.18,278.39 C340.69,278.5 342.17,277.52 342.66,277.66 C343.16,277.81 344.61,279.64 345.15,279.85 C345.69,280.07 347.54,280.22 348.07,279.85 C348.59,279.49 349.96,276.67 350.4,276.2 C350.84,275.74 352.01,275.58 352.45,275.18 C352.88,274.79 354.37,272.41 354.78,272.26 C355.19,272.12 356.14,273.66 356.53,273.72 C356.93,273.78 358.21,272.67 358.72,272.85 C359.23,273.02 361.06,275.04 361.64,275.47 C362.23,275.91 364.05,277.3 364.56,277.23 C365.07,277.15 366.27,275.58 366.75,274.74 C367.23,273.91 368.87,269.71 369.38,268.91 C369.89,268.1 371.39,267.08 371.86,266.72 C372.33,266.35 373.61,265.52 374.05,265.26 C374.49,264.99 376.02,264.2 376.24,264.09" fill="none" stroke="#0e9a9e" stroke-width="1.6" stroke-linejoin="round" stroke-linecap="butt"/>
<line x1="324.8" y1="226.1" x2="324.8" y2="312.3" stroke="#111" stroke-width="0.9" stroke-dasharray="2.6,1.7"/>
<line x1="290.4" y1="226.1" x2="290.4" y2="312.3" stroke="#222" stroke-width="0.6"/>
<line x1="290.4" y1="312.3" x2="376.4" y2="312.3" stroke="#222" stroke-width="0.6"/>
<line x1="307.6" y1="312.3" x2="307.6" y2="313.9" stroke="#222" stroke-width="0.6"/>
<text x="307.6" y="320.7" font-size="7.2" text-anchor="middle">1</text>
<line x1="324.8" y1="312.3" x2="324.8" y2="313.9" stroke="#222" stroke-width="0.6"/>
<text x="324.8" y="320.7" font-size="7.2" text-anchor="middle">2</text>
<line x1="342" y1="312.3" x2="342" y2="313.9" stroke="#222" stroke-width="0.6"/>
<text x="342" y="320.7" font-size="7.2" text-anchor="middle">3</text>
<line x1="359.2" y1="312.3" x2="359.2" y2="313.9" stroke="#222" stroke-width="0.6"/>
<text x="359.2" y="320.7" font-size="7.2" text-anchor="middle">4</text>
<line x1="376.4" y1="312.3" x2="376.4" y2="313.9" stroke="#222" stroke-width="0.6"/>
<text x="376.4" y="320.7" font-size="7.2" text-anchor="middle">5</text>
<line x1="288.6" y1="226.1" x2="290.4" y2="226.1" stroke="#222" stroke-width="0.6"/>
<text x="287.4" y="228.65" font-size="7.2" text-anchor="end">1</text>
<line x1="288.6" y1="251.2" x2="290.4" y2="251.2" stroke="#222" stroke-width="0.6"/>
<text x="287.4" y="253.75" font-size="7.2" text-anchor="end">0.5</text>
<line x1="288.6" y1="276.2" x2="290.4" y2="276.2" stroke="#222" stroke-width="0.6"/>
<text x="287.4" y="278.75" font-size="7.2" text-anchor="end">0</text>
<line x1="288.6" y1="301" x2="290.4" y2="301" stroke="#222" stroke-width="0.6"/>
<text x="287.4" y="303.55" font-size="7.2" text-anchor="end">−0.5</text>
<text x="325" y="221.8" font-size="8.8" text-anchor="middle">Reversal end</text>
<text x="333.5" y="331.8" font-size="8.8" text-anchor="middle">Head swings</text>
<text x="267.8" y="270" font-size="8.7" text-anchor="middle" transform="rotate(-90 267.8 270)">GCaMP (<tspan font-style="italic">z</tspan> scored)</text>
<rect x="317.55" y="198.8" width="26.5" height="13" fill="#5c9fdd" rx="6.5"/><text x="330.8" y="208.25" font-size="8.2" text-anchor="middle" fill="#111">SMBV</text>
<line x1="353" y1="202" x2="359.4" y2="202" stroke="#5f5f5f" stroke-width="1.2"/><text x="362" y="204.52" font-size="7">WT <tspan font-style="italic">n</tspan> = 28</text><line x1="353" y1="210" x2="359.4" y2="210" stroke="#0e9a9e" stroke-width="1.2"/><text x="362" y="212.52" font-size="7"><tspan font-style="italic">tdc-1 n</tspan> = 17</text>
<rect x="413.4" y="225.1" width="34.3" height="87.2" fill="#fce3e0"/>
<line x1="430.55" y1="225.1" x2="430.55" y2="312.3" stroke="#8c8c8c" stroke-width="0.5"/>
<line x1="464.85" y1="225.1" x2="464.85" y2="312.3" stroke="#8c8c8c" stroke-width="0.5"/>
<line x1="482" y1="225.1" x2="482" y2="312.3" stroke="#8c8c8c" stroke-width="0.5"/>
<line x1="499.15" y1="225.1" x2="499.15" y2="312.3" stroke="#8c8c8c" stroke-width="0.5"/>
<path d="M413.55,270.65 C413.8,270.98 415.49,273.38 416.03,274 C416.57,274.63 418.44,276.53 418.95,276.92 C419.46,277.32 420.77,278.24 421.14,277.95 C421.5,277.65 422.16,275.49 422.6,274 C423.04,272.52 424.93,265.03 425.52,263.06 C426.1,261.08 427.85,254.59 428.44,254.3 C429.02,254 430.77,258.97 431.36,260.14 C431.94,261.3 433.69,265.07 434.28,265.98 C434.86,266.88 436.69,269.77 437.2,269.19 C437.71,268.6 438.88,262.65 439.39,260.14 C439.9,257.62 441.68,246.85 442.31,244.08 C442.93,241.3 445.12,232.84 445.66,232.4 C446.2,231.96 447.31,237.8 447.71,239.7 C448.1,241.6 449.2,249.19 449.61,251.38 C450.01,253.57 451.28,259.7 451.8,261.6 C452.31,263.49 454.06,268.46 454.72,270.35 C455.37,272.25 457.78,279.29 458.36,280.57 C458.95,281.86 460.04,283.06 460.55,283.2 C461.07,283.35 462.86,282.22 463.47,282.03 C464.09,281.84 466.03,281.08 466.69,281.3 C467.34,281.52 469.42,283.64 470.04,284.22 C470.67,284.81 472.38,286.49 472.96,287.14 C473.55,287.8 475.37,290.57 475.88,290.79 C476.39,291.01 477.56,289.77 478.07,289.33 C478.58,288.89 480.41,286.97 480.99,286.41 C481.58,285.86 483.33,283.79 483.91,283.79 C484.5,283.79 486.25,285.89 486.83,286.41 C487.42,286.94 489.17,288.53 489.75,289.04 C490.34,289.55 492.2,291.23 492.67,291.52 C493.14,291.81 494.06,292.25 494.42,291.96 C494.79,291.67 495.84,289.23 496.32,288.6 C496.8,287.98 498.95,285.98 499.24,285.68 L499.24,290.08 C498.95,290.38 496.8,292.38 496.32,293 C495.84,293.63 494.79,296.07 494.42,296.36 C494.06,296.65 493.14,296.21 492.67,295.92 C492.2,295.63 490.34,293.95 489.75,293.44 C489.17,292.93 487.42,291.34 486.83,290.81 C486.25,290.29 484.5,288.19 483.91,288.19 C483.33,288.19 481.58,290.26 480.99,290.81 C480.41,291.37 478.58,293.29 478.07,293.73 C477.56,294.17 476.39,295.41 475.88,295.19 C475.37,294.97 473.55,292.2 472.96,291.54 C472.38,290.89 470.67,289.21 470.04,288.62 C469.42,288.04 467.34,285.92 466.69,285.7 C466.03,285.48 464.09,286.24 463.47,286.43 C462.86,286.62 461.07,287.75 460.55,287.6 C460.04,287.46 458.95,286.26 458.36,284.97 C457.78,283.69 455.37,276.65 454.72,274.75 C454.06,272.86 452.31,267.89 451.8,266 C451.28,264.1 450.01,257.97 449.61,255.78 C449.2,253.59 448.1,246 447.71,244.1 C447.31,242.2 446.2,236.36 445.66,236.8 C445.12,237.24 442.93,245.7 442.31,248.48 C441.68,251.25 439.9,262.02 439.39,264.54 C438.88,267.05 437.71,273 437.2,273.59 C436.69,274.17 434.86,271.28 434.28,270.38 C433.69,269.47 431.94,265.7 431.36,264.54 C430.77,263.37 429.02,258.4 428.44,258.7 C427.85,258.99 426.1,265.48 425.52,267.46 C424.93,269.43 423.04,276.92 422.6,278.4 C422.16,279.89 421.5,282.05 421.14,282.35 C420.77,282.64 419.46,281.72 418.95,281.32 C418.44,280.93 416.57,279.03 416.03,278.4 C415.49,277.78 413.8,275.38 413.55,275.05 Z" fill="#5f5f5f" opacity="0.27" stroke="none"/><path d="M413.55,272.85 C413.8,273.18 415.49,275.58 416.03,276.2 C416.57,276.83 418.44,278.73 418.95,279.12 C419.46,279.52 420.77,280.44 421.14,280.15 C421.5,279.85 422.16,277.69 422.6,276.2 C423.04,274.72 424.93,267.23 425.52,265.26 C426.1,263.28 427.85,256.79 428.44,256.5 C429.02,256.2 430.77,261.17 431.36,262.34 C431.94,263.5 433.69,267.27 434.28,268.18 C434.86,269.08 436.69,271.97 437.2,271.39 C437.71,270.8 438.88,264.85 439.39,262.34 C439.9,259.82 441.68,249.05 442.31,246.28 C442.93,243.5 445.12,235.04 445.66,234.6 C446.2,234.16 447.31,240 447.71,241.9 C448.1,243.8 449.2,251.39 449.61,253.58 C450.01,255.77 451.28,261.9 451.8,263.8 C452.31,265.69 454.06,270.66 454.72,272.55 C455.37,274.45 457.78,281.49 458.36,282.77 C458.95,284.06 460.04,285.26 460.55,285.4 C461.07,285.55 462.86,284.42 463.47,284.23 C464.09,284.04 466.03,283.28 466.69,283.5 C467.34,283.72 469.42,285.84 470.04,286.42 C470.67,287.01 472.38,288.69 472.96,289.34 C473.55,290 475.37,292.77 475.88,292.99 C476.39,293.21 477.56,291.97 478.07,291.53 C478.58,291.09 480.41,289.17 480.99,288.61 C481.58,288.06 483.33,285.99 483.91,285.99 C484.5,285.99 486.25,288.09 486.83,288.61 C487.42,289.14 489.17,290.73 489.75,291.24 C490.34,291.75 492.2,293.43 492.67,293.72 C493.14,294.01 494.06,294.45 494.42,294.16 C494.79,293.87 495.84,291.43 496.32,290.8 C496.8,290.18 498.95,288.18 499.24,287.88" fill="none" stroke="#5f5f5f" stroke-width="1.6" stroke-linejoin="round" stroke-linecap="butt"/>
<path d="M413.55,268.82 C413.8,268.72 415.56,268.17 416.03,267.8 C416.5,267.44 417.78,265.36 418.22,265.18 C418.66,264.99 419.97,265.61 420.41,265.91 C420.85,266.2 422.09,268.39 422.6,268.09 C423.11,267.8 424.91,264.15 425.52,262.99 C426.13,261.82 428.15,256.64 428.73,256.42 C429.31,256.2 430.8,259.99 431.36,260.8 C431.91,261.6 433.69,263.79 434.28,264.45 C434.86,265.1 436.61,267.58 437.2,267.36 C437.78,267.15 439.53,263.35 440.12,262.26 C440.7,261.16 442.48,257.18 443.04,256.42 C443.59,255.66 445.23,254.52 445.66,254.66 C446.1,254.81 447.07,256.53 447.42,257.88 C447.77,259.22 448.8,266.2 449.17,268.09 C449.53,269.99 450.66,275.39 451.07,276.85 C451.47,278.31 452.74,281.74 453.26,282.69 C453.77,283.64 455.59,285.93 456.18,286.34 C456.76,286.75 458.51,286.93 459.09,286.78 C459.68,286.64 461.43,285.32 462.01,284.88 C462.6,284.45 464.35,282.59 464.93,282.4 C465.52,282.21 467.27,282.69 467.85,282.99 C468.44,283.28 470.19,284.84 470.77,285.32 C471.36,285.8 473.18,287.45 473.69,287.8 C474.2,288.15 475.45,288.97 475.88,288.82 C476.32,288.68 477.56,286.88 478.07,286.34 C478.58,285.8 480.41,284.05 480.99,283.42 C481.58,282.8 483.33,279.99 483.91,280.07 C484.5,280.14 486.25,283.45 486.83,284.15 C487.42,284.85 489.17,286.42 489.75,287.07 C490.34,287.73 492.16,290.72 492.67,290.72 C493.18,290.72 494.42,287.8 494.86,287.07 C495.3,286.34 496.61,284.04 497.05,283.42 C497.49,282.81 499.02,281.19 499.24,280.94 L499.24,286.94 C499.02,287.19 497.49,288.81 497.05,289.42 C496.61,290.04 495.3,292.34 494.86,293.07 C494.42,293.8 493.18,296.72 492.67,296.72 C492.16,296.72 490.34,293.73 489.75,293.07 C489.17,292.42 487.42,290.85 486.83,290.15 C486.25,289.45 484.5,286.14 483.91,286.07 C483.33,285.99 481.58,288.8 480.99,289.42 C480.41,290.05 478.58,291.8 478.07,292.34 C477.56,292.88 476.32,294.68 475.88,294.82 C475.45,294.97 474.2,294.15 473.69,293.8 C473.18,293.45 471.36,291.8 470.77,291.32 C470.19,290.84 468.44,289.28 467.85,288.99 C467.27,288.69 465.52,288.21 464.93,288.4 C464.35,288.59 462.6,290.45 462.01,290.88 C461.43,291.32 459.68,292.64 459.09,292.78 C458.51,292.93 456.76,292.75 456.18,292.34 C455.59,291.93 453.77,289.64 453.26,288.69 C452.74,287.74 451.47,284.31 451.07,282.85 C450.66,281.39 449.53,275.99 449.17,274.09 C448.8,272.2 447.77,265.22 447.42,263.88 C447.07,262.53 446.1,260.81 445.66,260.66 C445.23,260.52 443.59,261.66 443.04,262.42 C442.48,263.18 440.7,267.16 440.12,268.26 C439.53,269.35 437.78,273.15 437.2,273.36 C436.61,273.58 434.86,271.1 434.28,270.45 C433.69,269.79 431.91,267.6 431.36,266.8 C430.8,265.99 429.31,262.2 428.73,262.42 C428.15,262.64 426.13,267.82 425.52,268.99 C424.91,270.15 423.11,273.8 422.6,274.09 C422.09,274.39 420.85,272.2 420.41,271.91 C419.97,271.61 418.66,270.99 418.22,271.18 C417.78,271.36 416.5,273.44 416.03,273.8 C415.56,274.17 413.8,274.72 413.55,274.82 Z" fill="#0e9a9e" opacity="0.27" stroke="none"/><path d="M413.55,271.82 C413.8,271.72 415.56,271.17 416.03,270.8 C416.5,270.44 417.78,268.36 418.22,268.18 C418.66,267.99 419.97,268.61 420.41,268.91 C420.85,269.2 422.09,271.39 422.6,271.09 C423.11,270.8 424.91,267.15 425.52,265.99 C426.13,264.82 428.15,259.64 428.73,259.42 C429.31,259.2 430.8,262.99 431.36,263.8 C431.91,264.6 433.69,266.79 434.28,267.45 C434.86,268.1 436.61,270.58 437.2,270.36 C437.78,270.15 439.53,266.35 440.12,265.26 C440.7,264.16 442.48,260.18 443.04,259.42 C443.59,258.66 445.23,257.52 445.66,257.66 C446.1,257.81 447.07,259.53 447.42,260.88 C447.77,262.22 448.8,269.2 449.17,271.09 C449.53,272.99 450.66,278.39 451.07,279.85 C451.47,281.31 452.74,284.74 453.26,285.69 C453.77,286.64 455.59,288.93 456.18,289.34 C456.76,289.75 458.51,289.93 459.09,289.78 C459.68,289.64 461.43,288.32 462.01,287.88 C462.6,287.45 464.35,285.59 464.93,285.4 C465.52,285.21 467.27,285.69 467.85,285.99 C468.44,286.28 470.19,287.84 470.77,288.32 C471.36,288.8 473.18,290.45 473.69,290.8 C474.2,291.15 475.45,291.97 475.88,291.82 C476.32,291.68 477.56,289.88 478.07,289.34 C478.58,288.8 480.41,287.05 480.99,286.42 C481.58,285.8 483.33,282.99 483.91,283.07 C484.5,283.14 486.25,286.45 486.83,287.15 C487.42,287.85 489.17,289.42 489.75,290.07 C490.34,290.73 492.16,293.72 492.67,293.72 C493.18,293.72 494.42,290.8 494.86,290.07 C495.3,289.34 496.61,287.04 497.05,286.42 C497.49,285.81 499.02,284.19 499.24,283.94" fill="none" stroke="#0e9a9e" stroke-width="1.6" stroke-linejoin="round" stroke-linecap="butt"/>
<line x1="447.7" y1="225.1" x2="447.7" y2="312.3" stroke="#111" stroke-width="0.9" stroke-dasharray="2.6,1.7"/>
<line x1="413.4" y1="225.1" x2="413.4" y2="312.3" stroke="#222" stroke-width="0.6"/>
<line x1="413.4" y1="312.3" x2="499.15" y2="312.3" stroke="#222" stroke-width="0.6"/>
<line x1="430.55" y1="312.3" x2="430.55" y2="313.9" stroke="#222" stroke-width="0.6"/>
<text x="430.55" y="320.7" font-size="7.2" text-anchor="middle">1</text>
<line x1="447.7" y1="312.3" x2="447.7" y2="313.9" stroke="#222" stroke-width="0.6"/>
<text x="447.7" y="320.7" font-size="7.2" text-anchor="middle">2</text>
<line x1="464.85" y1="312.3" x2="464.85" y2="313.9" stroke="#222" stroke-width="0.6"/>
<text x="464.85" y="320.7" font-size="7.2" text-anchor="middle">3</text>
<line x1="482" y1="312.3" x2="482" y2="313.9" stroke="#222" stroke-width="0.6"/>
<text x="482" y="320.7" font-size="7.2" text-anchor="middle">4</text>
<line x1="499.15" y1="312.3" x2="499.15" y2="313.9" stroke="#222" stroke-width="0.6"/>
<text x="499.15" y="320.7" font-size="7.2" text-anchor="middle">5</text>
<line x1="411.6" y1="225.1" x2="413.4" y2="225.1" stroke="#222" stroke-width="0.6"/>
<text x="410.4" y="227.65" font-size="7.2" text-anchor="end">1.5</text>
<line x1="411.6" y1="242.2" x2="413.4" y2="242.2" stroke="#222" stroke-width="0.6"/>
<text x="410.4" y="244.75" font-size="7.2" text-anchor="end">1</text>
<line x1="411.6" y1="259.4" x2="413.4" y2="259.4" stroke="#222" stroke-width="0.6"/>
<text x="410.4" y="261.95" font-size="7.2" text-anchor="end">0.5</text>
<line x1="411.6" y1="276.6" x2="413.4" y2="276.6" stroke="#222" stroke-width="0.6"/>
<text x="410.4" y="279.15" font-size="7.2" text-anchor="end">0</text>
<line x1="411.6" y1="293.7" x2="413.4" y2="293.7" stroke="#222" stroke-width="0.6"/>
<text x="410.4" y="296.25" font-size="7.2" text-anchor="end">−0.5</text>
<line x1="411.6" y1="311.2" x2="413.4" y2="311.2" stroke="#222" stroke-width="0.6"/>
<text x="410.4" y="313.75" font-size="7.2" text-anchor="end">−1</text>
<path d="M430.55,233 V231.4 H447.2 V233" fill="none" stroke="#222" stroke-width="0.5"/>
<text x="439.12" y="233.99" font-size="10.5" text-anchor="middle" fill="#111" letter-spacing="-0.4">***</text>
<path d="M448.2,239.2 V237.6 H464.85 V239.2" fill="none" stroke="#222" stroke-width="0.5"/>
<text x="456.27" y="240.29" font-size="10.5" text-anchor="middle" fill="#111" letter-spacing="-0.4">****</text>
<text x="444.5" y="220.8" font-size="8.8" text-anchor="middle">Reversal end</text>
<text x="456.5" y="331.8" font-size="8.8" text-anchor="middle">Head swings</text>
<rect x="435.55" y="198.8" width="26.5" height="13" fill="#f0727f" rx="6.5"/><text x="448.8" y="208.25" font-size="8.2" text-anchor="middle" fill="#111">SAAV</text>
<line x1="469.8" y1="202" x2="476.6" y2="202" stroke="#5f5f5f" stroke-width="1.2"/><text x="480.6" y="204.52" font-size="7">WT <tspan font-style="italic">n</tspan> = 26</text><line x1="469.8" y1="209.6" x2="476.6" y2="209.6" stroke="#0e9a9e" stroke-width="1.2"/><text x="480.6" y="212.12" font-size="7"><tspan font-style="italic">tdc-1 n</tspan> = 15</text>
<rect x="528.2" y="226.1" width="34.2" height="86.2" fill="#fce3e0"/>
<line x1="545.3" y1="226.1" x2="545.3" y2="312.3" stroke="#8c8c8c" stroke-width="0.5"/>
<line x1="579.5" y1="226.1" x2="579.5" y2="312.3" stroke="#8c8c8c" stroke-width="0.5"/>
<line x1="596.6" y1="226.1" x2="596.6" y2="312.3" stroke="#8c8c8c" stroke-width="0.5"/>
<line x1="613.7" y1="226.1" x2="613.7" y2="312.3" stroke="#8c8c8c" stroke-width="0.5"/>
<path d="M528.13,257.52 C528.39,257.01 530.23,253.36 530.76,252.41 C531.28,251.46 532.98,248.54 533.39,248.03 C533.8,247.52 534.5,245.91 534.85,247.3 C535.2,248.68 536.42,261.09 536.89,261.9 C537.36,262.7 538.96,257.15 539.52,255.33 C540.07,253.5 542,245.03 542.44,243.65 C542.88,242.26 543.61,241.38 543.9,241.46 C544.19,241.53 544.99,244.52 545.36,244.38 C545.72,244.23 547.11,240.95 547.55,240 C547.99,239.05 549.3,235.4 549.74,234.89 C550.18,234.38 551.52,233.65 551.93,234.89 C552.34,236.13 553.39,246.49 553.82,247.3 C554.26,248.1 555.84,243.94 556.31,242.92 C556.77,241.9 558.06,238.46 558.5,237.08 C558.93,235.69 560.28,229.34 560.69,229.05 C561.09,228.76 562.19,234.26 562.58,234.16 C562.98,234.06 564.23,228.03 564.63,228.03 C565.02,228.03 566.12,232.52 566.53,234.16 C566.93,235.79 568.28,242.63 568.72,244.38 C569.15,246.13 570.39,250.58 570.91,251.68 C571.42,252.77 573.24,254.52 573.82,255.33 C574.41,256.13 576.16,258.83 576.74,259.71 C577.33,260.58 579.15,263.6 579.66,264.09 C580.18,264.57 581.42,264.6 581.85,264.52 C582.29,264.45 583.61,262.96 584.04,263.36 C584.48,263.75 585.72,267.52 586.23,268.46 C586.74,269.41 588.57,272.11 589.15,272.84 C589.74,273.57 591.49,275.11 592.07,275.76 C592.66,276.42 594.53,278.98 594.99,279.41 C595.46,279.85 596.38,280.44 596.74,280.14 C597.11,279.85 598.23,276.93 598.64,276.49 C599.05,276.06 600.39,275.62 600.83,275.76 C601.27,275.91 602.58,277.41 603.02,277.95 C603.46,278.49 604.7,280.73 605.21,281.17 C605.72,281.6 607.55,281.9 608.13,282.33 C608.72,282.77 610.5,285.11 611.05,285.55 C611.61,285.98 613.42,286.6 613.68,286.71 L613.68,290.51 C613.42,290.4 611.61,289.78 611.05,289.35 C610.5,288.91 608.72,286.57 608.13,286.13 C607.55,285.7 605.72,285.4 605.21,284.97 C604.7,284.53 603.46,282.29 603.02,281.75 C602.58,281.21 601.27,279.71 600.83,279.56 C600.39,279.42 599.05,279.86 598.64,280.29 C598.23,280.73 597.11,283.65 596.74,283.94 C596.38,284.24 595.46,283.65 594.99,283.21 C594.53,282.78 592.66,280.22 592.07,279.56 C591.49,278.91 589.74,277.37 589.15,276.64 C588.57,275.91 586.74,273.21 586.23,272.26 C585.72,271.32 584.48,267.55 584.04,267.16 C583.61,266.76 582.29,268.25 581.85,268.32 C581.42,268.4 580.18,268.37 579.66,267.89 C579.15,267.4 577.33,264.38 576.74,263.51 C576.16,262.63 574.41,259.93 573.82,259.13 C573.24,258.32 571.42,256.57 570.91,255.48 C570.39,254.38 569.15,249.93 568.72,248.18 C568.28,246.43 566.93,239.59 566.53,237.96 C566.12,236.32 565.02,231.83 564.63,231.83 C564.23,231.83 562.98,237.86 562.58,237.96 C562.19,238.06 561.09,232.56 560.69,232.85 C560.28,233.14 558.93,239.49 558.5,240.88 C558.06,242.26 556.77,245.7 556.31,246.72 C555.84,247.74 554.26,251.9 553.82,251.1 C553.39,250.29 552.34,239.93 551.93,238.69 C551.52,237.45 550.18,238.18 549.74,238.69 C549.3,239.2 547.99,242.85 547.55,243.8 C547.11,244.75 545.72,248.03 545.36,248.18 C544.99,248.32 544.19,245.33 543.9,245.26 C543.61,245.18 542.88,246.06 542.44,247.45 C542,248.83 540.07,257.3 539.52,259.13 C538.96,260.95 537.36,266.5 536.89,265.7 C536.42,264.89 535.2,252.48 534.85,251.1 C534.5,249.71 533.8,251.32 533.39,251.83 C532.98,252.34 531.28,255.26 530.76,256.21 C530.23,257.16 528.39,260.81 528.13,261.32 Z" fill="#5f5f5f" opacity="0.27" stroke="none"/><path d="M528.13,259.42 C528.39,258.91 530.23,255.26 530.76,254.31 C531.28,253.36 532.98,250.44 533.39,249.93 C533.8,249.42 534.5,247.81 534.85,249.2 C535.2,250.58 536.42,262.99 536.89,263.8 C537.36,264.6 538.96,259.05 539.52,257.23 C540.07,255.4 542,246.93 542.44,245.55 C542.88,244.16 543.61,243.28 543.9,243.36 C544.19,243.43 544.99,246.42 545.36,246.28 C545.72,246.13 547.11,242.85 547.55,241.9 C547.99,240.95 549.3,237.3 549.74,236.79 C550.18,236.28 551.52,235.55 551.93,236.79 C552.34,238.03 553.39,248.39 553.82,249.2 C554.26,250 555.84,245.84 556.31,244.82 C556.77,243.8 558.06,240.36 558.5,238.98 C558.93,237.59 560.28,231.24 560.69,230.95 C561.09,230.66 562.19,236.16 562.58,236.06 C562.98,235.96 564.23,229.93 564.63,229.93 C565.02,229.93 566.12,234.42 566.53,236.06 C566.93,237.69 568.28,244.53 568.72,246.28 C569.15,248.03 570.39,252.48 570.91,253.58 C571.42,254.67 573.24,256.42 573.82,257.23 C574.41,258.03 576.16,260.73 576.74,261.61 C577.33,262.48 579.15,265.5 579.66,265.99 C580.18,266.47 581.42,266.5 581.85,266.42 C582.29,266.35 583.61,264.86 584.04,265.26 C584.48,265.65 585.72,269.42 586.23,270.36 C586.74,271.31 588.57,274.01 589.15,274.74 C589.74,275.47 591.49,277.01 592.07,277.66 C592.66,278.32 594.53,280.88 594.99,281.31 C595.46,281.75 596.38,282.34 596.74,282.04 C597.11,281.75 598.23,278.83 598.64,278.39 C599.05,277.96 600.39,277.52 600.83,277.66 C601.27,277.81 602.58,279.31 603.02,279.85 C603.46,280.39 604.7,282.63 605.21,283.07 C605.72,283.5 607.55,283.8 608.13,284.23 C608.72,284.67 610.5,287.01 611.05,287.45 C611.61,287.88 613.42,288.5 613.68,288.61" fill="none" stroke="#5f5f5f" stroke-width="1.6" stroke-linejoin="round" stroke-linecap="butt"/>
<path d="M528.13,254.75 C528.39,254.5 530.2,252.56 530.76,252.27 C531.31,251.97 533.09,251.49 533.68,251.83 C534.26,252.16 535.94,255.22 536.6,255.62 C537.26,256.03 539.59,256.18 540.25,255.92 C540.91,255.65 542.66,253.7 543.17,253 C543.68,252.3 544.92,249.64 545.36,248.91 C545.8,248.18 547.11,245.95 547.55,245.7 C547.99,245.45 549.3,246.72 549.74,246.43 C550.18,246.14 551.49,242.7 551.93,242.78 C552.36,242.85 553.61,246.65 554.12,247.16 C554.63,247.67 556.45,247.71 557.04,247.89 C557.62,248.06 559.45,248.76 559.96,248.91 C560.47,249.05 561.78,249.74 562.15,249.35 C562.51,248.95 563.31,245.62 563.61,244.97 C563.9,244.31 564.77,242.49 565.07,242.78 C565.36,243.07 566.16,246.72 566.53,247.89 C566.89,249.05 568.2,252.92 568.72,254.46 C569.23,255.99 571.05,261.76 571.64,263.22 C572.22,264.68 574,268.11 574.55,269.05 C575.11,270 576.67,272.49 577.18,272.7 C577.69,272.92 579.2,271.54 579.66,271.24 C580.13,270.95 581.34,269.97 581.85,269.78 C582.36,269.59 584.19,269.35 584.77,269.35 C585.36,269.35 587.11,269.64 587.69,269.78 C588.28,269.93 590.03,270.44 590.61,270.81 C591.2,271.17 593.02,273.24 593.53,273.43 C594.04,273.62 595.28,273.14 595.72,272.7 C596.16,272.27 597.47,269.64 597.91,269.05 C598.35,268.47 599.66,267.16 600.1,266.86 C600.54,266.57 601.85,265.99 602.29,266.14 C602.73,266.28 604.04,267.67 604.48,268.32 C604.92,268.98 606.19,271.87 606.67,272.7 C607.15,273.54 608.83,276.4 609.3,276.65 C609.77,276.89 610.91,275.29 611.34,275.19 C611.78,275.08 613.45,275.58 613.68,275.62 L613.68,282.62 C613.45,282.58 611.78,282.08 611.34,282.19 C610.91,282.29 609.77,283.89 609.3,283.65 C608.83,283.4 607.15,280.54 606.67,279.7 C606.19,278.87 604.92,275.98 604.48,275.32 C604.04,274.67 602.73,273.28 602.29,273.14 C601.85,272.99 600.54,273.57 600.1,273.86 C599.66,274.16 598.35,275.47 597.91,276.05 C597.47,276.64 596.16,279.27 595.72,279.7 C595.28,280.14 594.04,280.62 593.53,280.43 C593.02,280.24 591.2,278.17 590.61,277.81 C590.03,277.44 588.28,276.93 587.69,276.78 C587.11,276.64 585.36,276.35 584.77,276.35 C584.19,276.35 582.36,276.59 581.85,276.78 C581.34,276.97 580.13,277.95 579.66,278.24 C579.2,278.54 577.69,279.92 577.18,279.7 C576.67,279.49 575.11,277 574.55,276.05 C574,275.11 572.22,271.68 571.64,270.22 C571.05,268.76 569.23,262.99 568.72,261.46 C568.2,259.92 566.89,256.05 566.53,254.89 C566.16,253.72 565.36,250.07 565.07,249.78 C564.77,249.49 563.9,251.31 563.61,251.97 C563.31,252.62 562.51,255.95 562.15,256.35 C561.78,256.74 560.47,256.05 559.96,255.91 C559.45,255.76 557.62,255.06 557.04,254.89 C556.45,254.71 554.63,254.67 554.12,254.16 C553.61,253.65 552.36,249.85 551.93,249.78 C551.49,249.7 550.18,253.14 549.74,253.43 C549.3,253.72 547.99,252.45 547.55,252.7 C547.11,252.95 545.8,255.18 545.36,255.91 C544.92,256.64 543.68,259.3 543.17,260 C542.66,260.7 540.91,262.65 540.25,262.92 C539.59,263.18 537.26,263.03 536.6,262.62 C535.94,262.22 534.26,259.16 533.68,258.83 C533.09,258.49 531.31,258.97 530.76,259.27 C530.2,259.56 528.39,261.5 528.13,261.75 Z" fill="#0e9a9e" opacity="0.27" stroke="none"/><path d="M528.13,258.25 C528.39,258 530.2,256.06 530.76,255.77 C531.31,255.47 533.09,254.99 533.68,255.33 C534.26,255.66 535.94,258.72 536.6,259.12 C537.26,259.53 539.59,259.68 540.25,259.42 C540.91,259.15 542.66,257.2 543.17,256.5 C543.68,255.8 544.92,253.14 545.36,252.41 C545.8,251.68 547.11,249.45 547.55,249.2 C547.99,248.95 549.3,250.22 549.74,249.93 C550.18,249.64 551.49,246.2 551.93,246.28 C552.36,246.35 553.61,250.15 554.12,250.66 C554.63,251.17 556.45,251.21 557.04,251.39 C557.62,251.56 559.45,252.26 559.96,252.41 C560.47,252.55 561.78,253.24 562.15,252.85 C562.51,252.45 563.31,249.12 563.61,248.47 C563.9,247.81 564.77,245.99 565.07,246.28 C565.36,246.57 566.16,250.22 566.53,251.39 C566.89,252.55 568.2,256.42 568.72,257.96 C569.23,259.49 571.05,265.26 571.64,266.72 C572.22,268.18 574,271.61 574.55,272.55 C575.11,273.5 576.67,275.99 577.18,276.2 C577.69,276.42 579.2,275.04 579.66,274.74 C580.13,274.45 581.34,273.47 581.85,273.28 C582.36,273.09 584.19,272.85 584.77,272.85 C585.36,272.85 587.11,273.14 587.69,273.28 C588.28,273.43 590.03,273.94 590.61,274.31 C591.2,274.67 593.02,276.74 593.53,276.93 C594.04,277.12 595.28,276.64 595.72,276.2 C596.16,275.77 597.47,273.14 597.91,272.55 C598.35,271.97 599.66,270.66 600.1,270.36 C600.54,270.07 601.85,269.49 602.29,269.64 C602.73,269.78 604.04,271.17 604.48,271.82 C604.92,272.48 606.19,275.37 606.67,276.2 C607.15,277.04 608.83,279.9 609.3,280.15 C609.77,280.39 610.91,278.79 611.34,278.69 C611.78,278.58 613.45,279.08 613.68,279.12" fill="none" stroke="#0e9a9e" stroke-width="1.6" stroke-linejoin="round" stroke-linecap="butt"/>
<line x1="562.4" y1="226.1" x2="562.4" y2="312.3" stroke="#111" stroke-width="0.9" stroke-dasharray="2.6,1.7"/>
<line x1="528.2" y1="226.1" x2="528.2" y2="312.3" stroke="#222" stroke-width="0.6"/>
<line x1="528.2" y1="312.3" x2="613.7" y2="312.3" stroke="#222" stroke-width="0.6"/>
<line x1="545.3" y1="312.3" x2="545.3" y2="313.9" stroke="#222" stroke-width="0.6"/>
<text x="545.3" y="320.7" font-size="7.2" text-anchor="middle">1</text>
<line x1="562.4" y1="312.3" x2="562.4" y2="313.9" stroke="#222" stroke-width="0.6"/>
<text x="562.4" y="320.7" font-size="7.2" text-anchor="middle">2</text>
<line x1="579.5" y1="312.3" x2="579.5" y2="313.9" stroke="#222" stroke-width="0.6"/>
<text x="579.5" y="320.7" font-size="7.2" text-anchor="middle">3</text>
<line x1="596.6" y1="312.3" x2="596.6" y2="313.9" stroke="#222" stroke-width="0.6"/>
<text x="596.6" y="320.7" font-size="7.2" text-anchor="middle">4</text>
<line x1="613.7" y1="312.3" x2="613.7" y2="313.9" stroke="#222" stroke-width="0.6"/>
<text x="613.7" y="320.7" font-size="7.2" text-anchor="middle">5</text>
<line x1="526.4" y1="226.1" x2="528.2" y2="226.1" stroke="#222" stroke-width="0.6"/>
<text x="525.2" y="228.65" font-size="7.2" text-anchor="end">1</text>
<line x1="526.4" y1="247.7" x2="528.2" y2="247.7" stroke="#222" stroke-width="0.6"/>
<line x1="526.4" y1="269.3" x2="528.2" y2="269.3" stroke="#222" stroke-width="0.6"/>
<text x="525.2" y="271.85" font-size="7.2" text-anchor="end">0</text>
<line x1="526.4" y1="290.8" x2="528.2" y2="290.8" stroke="#222" stroke-width="0.6"/>
<line x1="526.4" y1="312.3" x2="528.2" y2="312.3" stroke="#222" stroke-width="0.6"/>
<text x="525.2" y="314.85" font-size="7.2" text-anchor="end">−1</text>
<path d="M545.3,230.6 V229 H561.6 V230.6" fill="none" stroke="#222" stroke-width="0.5"/>
<text x="553.85" y="232.49" font-size="10.5" text-anchor="middle" fill="#111" letter-spacing="-0.4">****</text>
<path d="M563,230.2 V228.5 H579.5 V230.2" fill="none" stroke="#222" stroke-width="0.5"/>
<text x="570.95" y="232.19" font-size="10.5" text-anchor="middle" fill="#111" letter-spacing="-0.4">****</text>
<text x="563.5" y="220.5" font-size="8.8" text-anchor="middle">Reversal end</text>
<text x="571.5" y="331.8" font-size="8.8" text-anchor="middle">Head swings</text>
<rect x="558.35" y="197.7" width="26.5" height="13" fill="#db559f" rx="6.5"/><text x="571.6" y="207.15" font-size="8.2" text-anchor="middle" fill="#111">RMDV</text>
<line x1="592.5" y1="205.3" x2="599.2" y2="205.3" stroke="#5f5f5f" stroke-width="1.2"/><text x="603.7" y="207.82" font-size="7">WT <tspan font-style="italic">n</tspan> = 28</text><line x1="592.5" y1="212.3" x2="599.2" y2="212.3" stroke="#0e9a9e" stroke-width="1.2"/><text x="603.7" y="214.82" font-size="7"><tspan font-style="italic">tdc-1 n</tspan> = 15</text>
<text x="261.2" y="360" font-size="11.5" fill="#000" font-weight="bold">e</text>
<line x1="310.65" y1="371" x2="310.65" y2="433.5" stroke="#9a9a9a" stroke-width="0.5"/>
<line x1="330.5" y1="371" x2="330.5" y2="457.4" stroke="#9a9a9a" stroke-width="0.5"/>
<path d="M290.84,389.81 C290.96,390.76 291.69,397.62 292.01,399.3 C292.33,400.97 293.66,406.08 294.05,406.59 C294.45,407.11 295.54,405.28 295.95,404.41 C296.36,403.53 297.7,399.66 298.14,397.84 C298.58,396.01 299.89,388.05 300.33,386.16 C300.77,384.26 302.08,379.76 302.52,378.86 C302.96,377.95 304.27,377.03 304.71,377.11 C305.15,377.18 306.46,378.68 306.9,379.59 C307.34,380.49 308.65,384.7 309.09,386.16 C309.53,387.62 310.84,392.58 311.28,394.19 C311.72,395.79 313.03,401.15 313.47,402.22 C313.91,403.28 315.22,405.14 315.66,404.84 C316.09,404.55 317.41,400.73 317.85,399.3 C318.28,397.86 319.6,392.43 320.04,390.54 C320.47,388.64 321.79,381.92 322.23,380.32 C322.66,378.71 323.98,374.92 324.42,374.48 C324.85,374.04 326.17,375.57 326.61,375.94 C327.04,376.3 328.4,377.69 328.8,378.13 C329.19,378.57 330.37,380.1 330.55,380.32 L330.55,393.32 C330.37,393.1 329.19,391.57 328.8,391.13 C328.4,390.69 327.04,389.3 326.61,388.94 C326.17,388.57 324.85,387.04 324.42,387.48 C323.98,387.92 322.66,391.71 322.23,393.32 C321.79,394.92 320.47,401.64 320.04,403.54 C319.6,405.43 318.28,410.86 317.85,412.3 C317.41,413.73 316.09,417.55 315.66,417.84 C315.22,418.14 313.91,416.28 313.47,415.22 C313.03,414.15 311.72,408.79 311.28,407.19 C310.84,405.58 309.53,400.62 309.09,399.16 C308.65,397.7 307.34,393.49 306.9,392.59 C306.46,391.68 305.15,390.18 304.71,390.11 C304.27,390.03 302.96,390.95 302.52,391.86 C302.08,392.76 300.77,397.26 300.33,399.16 C299.89,401.05 298.58,409.01 298.14,410.84 C297.7,412.66 296.36,416.53 295.95,417.41 C295.54,418.28 294.45,420.11 294.05,419.59 C293.66,419.08 292.33,413.97 292.01,412.3 C291.69,410.62 290.96,403.76 290.84,402.81 Z" fill="#5f5f5f" opacity="0.27" stroke="none"/><path d="M290.84,396.31 C290.96,397.26 291.69,404.12 292.01,405.8 C292.33,407.47 293.66,412.58 294.05,413.09 C294.45,413.61 295.54,411.78 295.95,410.91 C296.36,410.03 297.7,406.16 298.14,404.34 C298.58,402.51 299.89,394.55 300.33,392.66 C300.77,390.76 302.08,386.26 302.52,385.36 C302.96,384.45 304.27,383.53 304.71,383.61 C305.15,383.68 306.46,385.18 306.9,386.09 C307.34,386.99 308.65,391.2 309.09,392.66 C309.53,394.12 310.84,399.08 311.28,400.69 C311.72,402.29 313.03,407.65 313.47,408.72 C313.91,409.78 315.22,411.64 315.66,411.34 C316.09,411.05 317.41,407.23 317.85,405.8 C318.28,404.36 319.6,398.93 320.04,397.04 C320.47,395.14 321.79,388.42 322.23,386.82 C322.66,385.21 323.98,381.42 324.42,380.98 C324.85,380.54 326.17,382.07 326.61,382.44 C327.04,382.8 328.4,384.19 328.8,384.63 C329.19,385.07 330.37,386.6 330.55,386.82" fill="none" stroke="#5f5f5f" stroke-width="1.6" stroke-linejoin="round" stroke-linecap="butt"/>
<path d="M290.84,395.42 C291.13,395.64 293.1,397.17 293.76,397.61 C294.42,398.04 296.75,400.04 297.41,399.8 C298.07,399.55 299.74,395.85 300.33,395.12 C300.91,394.39 302.66,393.23 303.25,392.5 C303.83,391.77 305.63,388.48 306.17,387.82 C306.71,387.17 308.21,386.36 308.65,385.93 C309.09,385.49 310.14,383.52 310.55,383.45 C310.96,383.37 312.3,384.66 312.74,385.2 C313.18,385.74 314.42,388.23 314.93,388.85 C315.44,389.46 317.34,391.18 317.85,391.33 C318.36,391.47 319.67,390.7 320.04,390.31 C320.4,389.91 321.18,387.58 321.5,387.39 C321.82,387.2 322.96,388.63 323.25,388.41 C323.54,388.19 324.08,385.34 324.42,385.2 C324.75,385.05 326.17,387.02 326.61,386.95 C327.04,386.88 328.4,385.15 328.8,384.47 C329.19,383.78 330.37,380.53 330.55,380.09 L330.55,392.09 C330.37,392.53 329.19,395.78 328.8,396.47 C328.4,397.15 327.04,398.88 326.61,398.95 C326.17,399.02 324.75,397.05 324.42,397.2 C324.08,397.34 323.54,400.19 323.25,400.41 C322.96,400.63 321.82,399.2 321.5,399.39 C321.18,399.58 320.4,401.91 320.04,402.31 C319.67,402.7 318.36,403.47 317.85,403.33 C317.34,403.18 315.44,401.46 314.93,400.85 C314.42,400.23 313.18,397.74 312.74,397.2 C312.3,396.66 310.96,395.37 310.55,395.45 C310.14,395.52 309.09,397.49 308.65,397.93 C308.21,398.36 306.71,399.17 306.17,399.82 C305.63,400.48 303.83,403.77 303.25,404.5 C302.66,405.23 300.91,406.39 300.33,407.12 C299.74,407.85 298.07,411.55 297.41,411.8 C296.75,412.04 294.42,410.04 293.76,409.61 C293.1,409.17 291.13,407.64 290.84,407.42 Z" fill="#0e9a9e" opacity="0.27" stroke="none"/><path d="M290.84,401.42 C291.13,401.64 293.1,403.17 293.76,403.61 C294.42,404.04 296.75,406.04 297.41,405.8 C298.07,405.55 299.74,401.85 300.33,401.12 C300.91,400.39 302.66,399.23 303.25,398.5 C303.83,397.77 305.63,394.48 306.17,393.82 C306.71,393.17 308.21,392.36 308.65,391.93 C309.09,391.49 310.14,389.52 310.55,389.45 C310.96,389.37 312.3,390.66 312.74,391.2 C313.18,391.74 314.42,394.23 314.93,394.85 C315.44,395.46 317.34,397.18 317.85,397.33 C318.36,397.47 319.67,396.7 320.04,396.31 C320.4,395.91 321.18,393.58 321.5,393.39 C321.82,393.2 322.96,394.63 323.25,394.41 C323.54,394.19 324.08,391.34 324.42,391.2 C324.75,391.05 326.17,393.02 326.61,392.95 C327.04,392.88 328.4,391.15 328.8,390.47 C329.19,389.78 330.37,386.53 330.55,386.09" fill="none" stroke="#0e9a9e" stroke-width="1.6" stroke-linejoin="round" stroke-linecap="butt"/>
<line x1="290.8" y1="371" x2="290.8" y2="457.4" stroke="#222" stroke-width="0.6"/>
<line x1="290.8" y1="457.4" x2="330.8" y2="457.4" stroke="#222" stroke-width="0.6"/>
<line x1="291.4" y1="457.4" x2="291.4" y2="459" stroke="#222" stroke-width="0.6"/>
<text x="291.4" y="465.8" font-size="7.2" text-anchor="middle">0</text>
<line x1="310.65" y1="457.4" x2="310.65" y2="459" stroke="#222" stroke-width="0.6"/>
<text x="310.65" y="465.8" font-size="7.2" text-anchor="middle">1</text>
<line x1="330.5" y1="457.4" x2="330.5" y2="459" stroke="#222" stroke-width="0.6"/>
<text x="330.5" y="465.8" font-size="7.2" text-anchor="middle">2</text>
<line x1="289" y1="371" x2="290.8" y2="371" stroke="#222" stroke-width="0.6"/>
<text x="287.8" y="373.55" font-size="7.2" text-anchor="end">0.5</text>
<line x1="289" y1="414.2" x2="290.8" y2="414.2" stroke="#222" stroke-width="0.6"/>
<text x="287.8" y="416.75" font-size="7.2" text-anchor="end">0</text>
<line x1="289" y1="457.4" x2="290.8" y2="457.4" stroke="#222" stroke-width="0.6"/>
<text x="287.8" y="459.95" font-size="7.2" text-anchor="end">−0.5</text>
<rect x="338.7" y="371" width="40" height="86.4" fill="#fce3e0"/>
<line x1="358.4" y1="371" x2="358.4" y2="457.4" stroke="#9a9a9a" stroke-width="0.5"/>
<line x1="378.7" y1="371" x2="378.7" y2="457.4" stroke="#9a9a9a" stroke-width="0.5"/>
<path d="M338.72,394.26 C338.9,394.69 340.08,397.39 340.47,398.64 C340.87,399.88 342.23,405.5 342.66,406.66 C343.1,407.83 344.42,410.09 344.85,410.31 C345.29,410.53 346.68,410.31 347.04,408.85 C347.41,407.39 348.14,397.69 348.5,395.72 C348.87,393.74 350.26,389.88 350.69,389.15 C351.13,388.42 352.45,388.27 352.88,388.42 C353.32,388.56 354.64,389.88 355.07,390.61 C355.51,391.34 356.82,394.04 357.26,395.72 C357.7,397.39 359.01,405.28 359.45,407.39 C359.89,409.51 361.2,414.84 361.64,416.88 C362.08,418.93 363.47,426.62 363.83,427.83 C364.2,429.04 365,429.73 365.29,429 C365.58,428.27 366.43,422.69 366.75,420.53 C367.07,418.37 368.09,409.44 368.5,407.39 C368.91,405.35 370.4,400.68 370.84,400.09 C371.28,399.51 372.45,401.04 372.88,401.55 C373.32,402.07 374.78,403.6 375.22,405.2 C375.66,406.81 376.91,415.64 377.26,417.61 C377.61,419.58 378.58,424.18 378.72,424.91 L378.72,450.91 C378.58,450.18 377.61,445.58 377.26,443.61 C376.91,441.64 375.66,432.81 375.22,431.2 C374.78,429.6 373.32,428.07 372.88,427.55 C372.45,427.04 371.28,425.51 370.84,426.09 C370.4,426.68 368.91,431.35 368.5,433.39 C368.09,435.44 367.07,444.37 366.75,446.53 C366.43,448.69 365.58,454.27 365.29,455 C365,455.73 364.2,455.04 363.83,453.83 C363.47,452.62 362.08,444.93 361.64,442.88 C361.2,440.84 359.89,435.51 359.45,433.39 C359.01,431.28 357.7,423.39 357.26,421.72 C356.82,420.04 355.51,417.34 355.07,416.61 C354.64,415.88 353.32,414.56 352.88,414.42 C352.45,414.27 351.13,414.42 350.69,415.15 C350.26,415.88 348.87,419.74 348.5,421.72 C348.14,423.69 347.41,433.39 347.04,434.85 C346.68,436.31 345.29,436.53 344.85,436.31 C344.42,436.09 343.1,433.83 342.66,432.66 C342.23,431.5 340.87,425.88 340.47,424.64 C340.08,423.39 338.9,420.69 338.72,420.26 Z" fill="#5f5f5f" opacity="0.27" stroke="none"/><path d="M338.72,407.26 C338.9,407.69 340.08,410.39 340.47,411.64 C340.87,412.88 342.23,418.5 342.66,419.66 C343.1,420.83 344.42,423.09 344.85,423.31 C345.29,423.53 346.68,423.31 347.04,421.85 C347.41,420.39 348.14,410.69 348.5,408.72 C348.87,406.74 350.26,402.88 350.69,402.15 C351.13,401.42 352.45,401.27 352.88,401.42 C353.32,401.56 354.64,402.88 355.07,403.61 C355.51,404.34 356.82,407.04 357.26,408.72 C357.7,410.39 359.01,418.28 359.45,420.39 C359.89,422.51 361.2,427.84 361.64,429.88 C362.08,431.93 363.47,439.62 363.83,440.83 C364.2,442.04 365,442.73 365.29,442 C365.58,441.27 366.43,435.69 366.75,433.53 C367.07,431.37 368.09,422.44 368.5,420.39 C368.91,418.35 370.4,413.68 370.84,413.09 C371.28,412.51 372.45,414.04 372.88,414.55 C373.32,415.07 374.78,416.6 375.22,418.2 C375.66,419.81 376.91,428.64 377.26,430.61 C377.61,432.58 378.58,437.18 378.72,437.91" fill="none" stroke="#5f5f5f" stroke-width="1.6" stroke-linejoin="round" stroke-linecap="butt"/>
<path d="M338.72,394.8 C338.87,395.45 339.79,400.46 340.18,401.36 C340.58,402.27 342.12,403.45 342.66,403.85 C343.2,404.24 345,405.22 345.58,405.31 C346.17,405.39 347.92,404.93 348.5,404.72 C349.09,404.52 350.91,403.23 351.42,403.26 C351.93,403.29 353.18,404.4 353.61,405.01 C354.05,405.63 355.36,408.52 355.8,409.39 C356.24,410.27 357.55,412.97 357.99,413.77 C358.43,414.58 359.74,416.72 360.18,417.42 C360.62,418.12 361.93,420.15 362.37,420.78 C362.81,421.41 364.12,423.26 364.56,423.7 C365,424.14 366.31,425.1 366.75,425.16 C367.19,425.22 368.5,424.23 368.94,424.28 C369.38,424.34 370.65,425.8 371.13,425.74 C371.61,425.69 373.25,423.47 373.76,423.7 C374.27,423.93 375.74,427.64 376.24,428.08 C376.74,428.52 378.47,428.08 378.72,428.08 L378.72,450.08 C378.47,450.08 376.74,450.52 376.24,450.08 C375.74,449.64 374.27,445.93 373.76,445.7 C373.25,445.47 371.61,447.69 371.13,447.74 C370.65,447.8 369.38,446.34 368.94,446.28 C368.5,446.23 367.19,447.22 366.75,447.16 C366.31,447.1 365,446.14 364.56,445.7 C364.12,445.26 362.81,443.41 362.37,442.78 C361.93,442.15 360.62,440.12 360.18,439.42 C359.74,438.72 358.43,436.58 357.99,435.77 C357.55,434.97 356.24,432.27 355.8,431.39 C355.36,430.52 354.05,427.63 353.61,427.01 C353.18,426.4 351.93,425.29 351.42,425.26 C350.91,425.23 349.09,426.52 348.5,426.72 C347.92,426.93 346.17,427.39 345.58,427.31 C345,427.22 343.2,426.24 342.66,425.85 C342.12,425.45 340.58,424.27 340.18,423.36 C339.79,422.46 338.87,417.45 338.72,416.8 Z" fill="#0e9a9e" opacity="0.27" stroke="none"/><path d="M338.72,405.8 C338.87,406.45 339.79,411.46 340.18,412.36 C340.58,413.27 342.12,414.45 342.66,414.85 C343.2,415.24 345,416.22 345.58,416.31 C346.17,416.39 347.92,415.93 348.5,415.72 C349.09,415.52 350.91,414.23 351.42,414.26 C351.93,414.29 353.18,415.4 353.61,416.01 C354.05,416.63 355.36,419.52 355.8,420.39 C356.24,421.27 357.55,423.97 357.99,424.77 C358.43,425.58 359.74,427.72 360.18,428.42 C360.62,429.12 361.93,431.15 362.37,431.78 C362.81,432.41 364.12,434.26 364.56,434.7 C365,435.14 366.31,436.1 366.75,436.16 C367.19,436.22 368.5,435.23 368.94,435.28 C369.38,435.34 370.65,436.8 371.13,436.74 C371.61,436.69 373.25,434.47 373.76,434.7 C374.27,434.93 375.74,438.64 376.24,439.08 C376.74,439.52 378.47,439.08 378.72,439.08" fill="none" stroke="#0e9a9e" stroke-width="1.6" stroke-linejoin="round" stroke-linecap="butt"/>
<line x1="338.7" y1="371" x2="338.7" y2="457.4" stroke="#222" stroke-width="0.6"/>
<line x1="338.7" y1="457.4" x2="379" y2="457.4" stroke="#222" stroke-width="0.6"/>
<line x1="339.3" y1="457.4" x2="339.3" y2="459" stroke="#222" stroke-width="0.6"/>
<text x="339.3" y="465.8" font-size="7.2" text-anchor="middle">0</text>
<line x1="358.4" y1="457.4" x2="358.4" y2="459" stroke="#222" stroke-width="0.6"/>
<text x="358.4" y="465.8" font-size="7.2" text-anchor="middle">1</text>
<line x1="336.9" y1="371" x2="338.7" y2="371" stroke="#222" stroke-width="0.6"/>
<line x1="336.9" y1="414.2" x2="338.7" y2="414.2" stroke="#222" stroke-width="0.6"/>
<line x1="336.9" y1="457.4" x2="338.7" y2="457.4" stroke="#222" stroke-width="0.6"/>
<text x="310.5" y="369.2" font-size="8.8" text-anchor="middle">Forward</text>
<text x="360.5" y="369.2" font-size="8.8" text-anchor="middle">Reverse</text>
<text x="333.8" y="477.6" font-size="8.8" text-anchor="middle">Head swings</text>
<text x="267.8" y="414" font-size="8.7" text-anchor="middle" transform="rotate(-90 267.8 414)">GCaMP (<tspan font-style="italic">z</tspan> scored)</text>
<rect x="317.85" y="344.8" width="33.5" height="16" fill="#5c9fdd" rx="8"/><text x="334.6" y="355.79" font-size="8.3" text-anchor="middle" fill="#111">SMBV</text>
<line x1="357" y1="349.5" x2="364.2" y2="349.5" stroke="#5f5f5f" stroke-width="1.2"/><text x="366.8" y="352.02" font-size="7">WT <tspan font-style="italic">n</tspan> = 28</text><line x1="357" y1="357.6" x2="364.2" y2="357.6" stroke="#0e9a9e" stroke-width="1.2"/><text x="366.8" y="360.12" font-size="7"><tspan font-style="italic">tdc-1 n</tspan> = 14</text>
<line x1="427.65" y1="371" x2="427.65" y2="458" stroke="#9a9a9a" stroke-width="0.5"/>
<line x1="447.5" y1="371" x2="447.5" y2="458" stroke="#9a9a9a" stroke-width="0.5"/>
<path d="M407.84,436.6 C408.13,436.87 410.18,438.6 410.76,439.23 C411.34,439.86 413.09,442.37 413.68,442.88 C414.26,443.39 416.01,444.24 416.6,444.34 C417.18,444.44 418.93,443.83 419.52,443.9 C420.1,443.98 421.85,445.17 422.44,445.07 C423.02,444.97 424.77,443.2 425.36,442.88 C425.94,442.56 427.69,441.86 428.28,441.86 C428.86,441.86 430.61,442.56 431.2,442.88 C431.78,443.2 433.46,444.63 434.12,445.07 C434.77,445.51 437.11,446.97 437.77,447.26 C438.42,447.55 440.1,448.09 440.69,447.99 C441.27,447.89 443.09,446.68 443.61,446.24 C444.12,445.8 445.4,443.95 445.8,443.61 C446.19,443.28 447.37,442.95 447.55,442.88 L447.55,446.08 C447.37,446.15 446.19,446.48 445.8,446.81 C445.4,447.15 444.12,449 443.61,449.44 C443.09,449.88 441.27,451.09 440.69,451.19 C440.1,451.29 438.42,450.75 437.77,450.46 C437.11,450.17 434.77,448.71 434.12,448.27 C433.46,447.83 431.78,446.4 431.2,446.08 C430.61,445.76 428.86,445.06 428.28,445.06 C427.69,445.06 425.94,445.76 425.36,446.08 C424.77,446.4 423.02,448.17 422.44,448.27 C421.85,448.37 420.1,447.18 419.52,447.1 C418.93,447.03 417.18,447.64 416.6,447.54 C416.01,447.44 414.26,446.59 413.68,446.08 C413.09,445.57 411.34,443.06 410.76,442.43 C410.18,441.8 408.13,440.07 407.84,439.8 Z" fill="#5f5f5f" opacity="0.27" stroke="none"/><path d="M407.84,438.2 C408.13,438.47 410.18,440.2 410.76,440.83 C411.34,441.46 413.09,443.97 413.68,444.48 C414.26,444.99 416.01,445.84 416.6,445.94 C417.18,446.04 418.93,445.43 419.52,445.5 C420.1,445.58 421.85,446.77 422.44,446.67 C423.02,446.57 424.77,444.8 425.36,444.48 C425.94,444.16 427.69,443.46 428.28,443.46 C428.86,443.46 430.61,444.16 431.2,444.48 C431.78,444.8 433.46,446.23 434.12,446.67 C434.77,447.11 437.11,448.57 437.77,448.86 C438.42,449.15 440.1,449.69 440.69,449.59 C441.27,449.49 443.09,448.28 443.61,447.84 C444.12,447.4 445.4,445.55 445.8,445.21 C446.19,444.88 447.37,444.55 447.55,444.48" fill="none" stroke="#5f5f5f" stroke-width="1.6" stroke-linejoin="round" stroke-linecap="butt"/>
<path d="M407.84,434.02 C408.13,434.17 410.18,435.12 410.76,435.48 C411.34,435.85 413.09,437.23 413.68,437.67 C414.26,438.11 415.99,439.54 416.6,439.86 C417.21,440.18 419.23,441.03 419.81,440.88 C420.39,440.74 421.88,438.94 422.44,438.4 C422.99,437.86 424.77,435.92 425.36,435.48 C425.94,435.04 427.77,434.17 428.28,434.02 C428.79,433.88 429.96,433.8 430.47,434.02 C430.98,434.24 432.73,435.7 433.39,436.21 C434.04,436.72 436.31,438.72 437.04,439.13 C437.77,439.54 440.03,440.37 440.69,440.3 C441.34,440.23 443.09,438.78 443.61,438.4 C444.12,438.02 445.4,436.75 445.8,436.5 C446.19,436.26 447.37,435.98 447.55,435.92 L447.55,439.32 C447.37,439.38 446.19,439.66 445.8,439.9 C445.4,440.15 444.12,441.42 443.61,441.8 C443.09,442.18 441.34,443.63 440.69,443.7 C440.03,443.77 437.77,442.94 437.04,442.53 C436.31,442.12 434.04,440.12 433.39,439.61 C432.73,439.1 430.98,437.64 430.47,437.42 C429.96,437.2 428.79,437.28 428.28,437.42 C427.77,437.57 425.94,438.44 425.36,438.88 C424.77,439.32 422.99,441.26 422.44,441.8 C421.88,442.34 420.39,444.14 419.81,444.28 C419.23,444.43 417.21,443.58 416.6,443.26 C415.99,442.94 414.26,441.51 413.68,441.07 C413.09,440.63 411.34,439.25 410.76,438.88 C410.18,438.52 408.13,437.57 407.84,437.42 Z" fill="#0e9a9e" opacity="0.27" stroke="none"/><path d="M407.84,435.72 C408.13,435.87 410.18,436.82 410.76,437.18 C411.34,437.55 413.09,438.93 413.68,439.37 C414.26,439.81 415.99,441.24 416.6,441.56 C417.21,441.88 419.23,442.73 419.81,442.58 C420.39,442.44 421.88,440.64 422.44,440.1 C422.99,439.56 424.77,437.62 425.36,437.18 C425.94,436.74 427.77,435.87 428.28,435.72 C428.79,435.58 429.96,435.5 430.47,435.72 C430.98,435.94 432.73,437.4 433.39,437.91 C434.04,438.42 436.31,440.42 437.04,440.83 C437.77,441.24 440.03,442.07 440.69,442 C441.34,441.93 443.09,440.48 443.61,440.1 C444.12,439.72 445.4,438.45 445.8,438.2 C446.19,437.96 447.37,437.68 447.55,437.62" fill="none" stroke="#0e9a9e" stroke-width="1.6" stroke-linejoin="round" stroke-linecap="butt"/>
<line x1="407.8" y1="371" x2="407.8" y2="458" stroke="#222" stroke-width="0.6"/>
<line x1="407.8" y1="458" x2="447.8" y2="458" stroke="#222" stroke-width="0.6"/>
<line x1="408.4" y1="458" x2="408.4" y2="459.6" stroke="#222" stroke-width="0.6"/>
<text x="408.4" y="466.4" font-size="7.2" text-anchor="middle">0</text>
<line x1="427.65" y1="458" x2="427.65" y2="459.6" stroke="#222" stroke-width="0.6"/>
<text x="427.65" y="466.4" font-size="7.2" text-anchor="middle">1</text>
<line x1="447.5" y1="458" x2="447.5" y2="459.6" stroke="#222" stroke-width="0.6"/>
<text x="447.5" y="466.4" font-size="7.2" text-anchor="middle">2</text>
<line x1="406" y1="371" x2="407.8" y2="371" stroke="#222" stroke-width="0.6"/>
<text x="404.8" y="373.55" font-size="7.2" text-anchor="end">2</text>
<line x1="406" y1="387.1" x2="407.8" y2="387.1" stroke="#222" stroke-width="0.6"/>
<text x="404.8" y="389.65" font-size="7.2" text-anchor="end">1.5</text>
<line x1="406" y1="403.2" x2="407.8" y2="403.2" stroke="#222" stroke-width="0.6"/>
<text x="404.8" y="405.75" font-size="7.2" text-anchor="end">1</text>
<line x1="406" y1="418.9" x2="407.8" y2="418.9" stroke="#222" stroke-width="0.6"/>
<text x="404.8" y="421.45" font-size="7.2" text-anchor="end">0.5</text>
<line x1="406" y1="434.7" x2="407.8" y2="434.7" stroke="#222" stroke-width="0.6"/>
<text x="404.8" y="437.25" font-size="7.2" text-anchor="end">0</text>
<line x1="406" y1="450.3" x2="407.8" y2="450.3" stroke="#222" stroke-width="0.6"/>
<text x="404.8" y="452.85" font-size="7.2" text-anchor="end">−0.5</text>
<rect x="455.7" y="371" width="40" height="87" fill="#fce3e0"/>
<line x1="475.4" y1="371" x2="475.4" y2="458" stroke="#9a9a9a" stroke-width="0.5"/>
<line x1="495.7" y1="371" x2="495.7" y2="458" stroke="#9a9a9a" stroke-width="0.5"/>
<path d="M455.72,427.57 C455.97,427.86 457.66,429.94 458.2,430.49 C458.74,431.05 460.61,432.76 461.12,433.12 C461.64,433.49 462.88,434.41 463.31,434.14 C463.75,433.88 465.07,431.73 465.5,430.49 C465.94,429.25 467.26,423.19 467.69,421.73 C468.13,420.27 469.45,416.8 469.88,415.89 C470.32,414.99 471.59,413.19 472.07,412.68 C472.55,412.17 474.26,410.83 474.7,410.78 C475.14,410.74 476.06,411.66 476.45,412.24 C476.85,412.83 478.2,415.68 478.64,416.62 C479.08,417.57 480.47,421.15 480.83,421.73 C481.2,422.32 482,423.05 482.29,422.46 C482.58,421.88 483.39,417.28 483.75,415.89 C484.12,414.51 485.5,409.91 485.94,408.59 C486.38,407.28 487.69,403.92 488.13,402.76 C488.57,401.59 489.88,398.01 490.32,396.92 C490.76,395.82 492.15,392.36 492.51,391.81 C492.88,391.25 493.65,391.32 493.97,391.37 C494.29,391.41 495.55,392.16 495.72,392.24 L495.72,401.24 C495.55,401.16 494.29,400.41 493.97,400.37 C493.65,400.32 492.88,400.25 492.51,400.81 C492.15,401.36 490.76,404.82 490.32,405.92 C489.88,407.01 488.57,410.59 488.13,411.76 C487.69,412.92 486.38,416.28 485.94,417.59 C485.5,418.91 484.12,423.51 483.75,424.89 C483.39,426.28 482.58,430.88 482.29,431.46 C482,432.05 481.2,431.32 480.83,430.73 C480.47,430.15 479.08,426.57 478.64,425.62 C478.2,424.68 476.85,421.83 476.45,421.24 C476.06,420.66 475.14,419.74 474.7,419.78 C474.26,419.83 472.55,421.17 472.07,421.68 C471.59,422.19 470.32,423.99 469.88,424.89 C469.45,425.8 468.13,429.27 467.69,430.73 C467.26,432.19 465.94,438.25 465.5,439.49 C465.07,440.73 463.75,442.88 463.31,443.14 C462.88,443.41 461.64,442.49 461.12,442.12 C460.61,441.76 458.74,440.05 458.2,439.49 C457.66,438.94 455.97,436.86 455.72,436.57 Z" fill="#5f5f5f" opacity="0.27" stroke="none"/><path d="M455.72,432.07 C455.97,432.36 457.66,434.44 458.2,434.99 C458.74,435.55 460.61,437.26 461.12,437.62 C461.64,437.99 462.88,438.91 463.31,438.64 C463.75,438.38 465.07,436.23 465.5,434.99 C465.94,433.75 467.26,427.69 467.69,426.23 C468.13,424.77 469.45,421.3 469.88,420.39 C470.32,419.49 471.59,417.69 472.07,417.18 C472.55,416.67 474.26,415.33 474.7,415.28 C475.14,415.24 476.06,416.16 476.45,416.74 C476.85,417.33 478.2,420.18 478.64,421.12 C479.08,422.07 480.47,425.65 480.83,426.23 C481.2,426.82 482,427.55 482.29,426.96 C482.58,426.38 483.39,421.78 483.75,420.39 C484.12,419.01 485.5,414.41 485.94,413.09 C486.38,411.78 487.69,408.42 488.13,407.26 C488.57,406.09 489.88,402.51 490.32,401.42 C490.76,400.32 492.15,396.86 492.51,396.31 C492.88,395.75 493.65,395.82 493.97,395.87 C494.29,395.91 495.55,396.66 495.72,396.74" fill="none" stroke="#5f5f5f" stroke-width="1.6" stroke-linejoin="round" stroke-linecap="butt"/>
<path d="M455.72,426.86 C455.97,426.79 457.74,426.16 458.2,426.13 C458.67,426.1 459.88,426.67 460.39,426.57 C460.91,426.47 462.73,425.3 463.31,425.11 C463.9,424.92 465.72,425.01 466.23,424.67 C466.74,424.34 467.99,422.34 468.42,421.75 C468.86,421.17 470.18,419.27 470.61,418.83 C471.05,418.4 472.36,417.37 472.8,417.37 C473.24,417.37 474.55,418.61 474.99,418.83 C475.43,419.05 476.74,419.42 477.18,419.56 C477.62,419.71 478.93,419.83 479.37,420.29 C479.81,420.76 481.12,424.02 481.56,424.24 C482,424.45 483.31,422.88 483.75,422.48 C484.19,422.09 485.5,420.73 485.94,420.29 C486.38,419.86 487.69,418.4 488.13,418.1 C488.57,417.81 489.88,417.52 490.32,417.37 C490.76,417.23 492.12,416.64 492.51,416.64 C492.91,416.64 493.94,417.23 494.26,417.37 C494.58,417.52 495.58,418.03 495.72,418.1 L495.72,425.6 C495.58,425.53 494.58,425.02 494.26,424.87 C493.94,424.73 492.91,424.14 492.51,424.14 C492.12,424.14 490.76,424.73 490.32,424.87 C489.88,425.02 488.57,425.31 488.13,425.6 C487.69,425.9 486.38,427.36 485.94,427.79 C485.5,428.23 484.19,429.59 483.75,429.98 C483.31,430.38 482,431.95 481.56,431.74 C481.12,431.52 479.81,428.26 479.37,427.79 C478.93,427.33 477.62,427.21 477.18,427.06 C476.74,426.92 475.43,426.55 474.99,426.33 C474.55,426.11 473.24,424.87 472.8,424.87 C472.36,424.87 471.05,425.9 470.61,426.33 C470.18,426.77 468.86,428.67 468.42,429.25 C467.99,429.84 466.74,431.84 466.23,432.17 C465.72,432.51 463.9,432.42 463.31,432.61 C462.73,432.8 460.91,433.97 460.39,434.07 C459.88,434.17 458.67,433.6 458.2,433.63 C457.74,433.66 455.97,434.29 455.72,434.36 Z" fill="#0e9a9e" opacity="0.27" stroke="none"/><path d="M455.72,430.61 C455.97,430.54 457.74,429.91 458.2,429.88 C458.67,429.85 459.88,430.42 460.39,430.32 C460.91,430.22 462.73,429.05 463.31,428.86 C463.9,428.67 465.72,428.76 466.23,428.42 C466.74,428.09 467.99,426.09 468.42,425.5 C468.86,424.92 470.18,423.02 470.61,422.58 C471.05,422.15 472.36,421.12 472.8,421.12 C473.24,421.12 474.55,422.36 474.99,422.58 C475.43,422.8 476.74,423.17 477.18,423.31 C477.62,423.46 478.93,423.58 479.37,424.04 C479.81,424.51 481.12,427.77 481.56,427.99 C482,428.2 483.31,426.63 483.75,426.23 C484.19,425.84 485.5,424.48 485.94,424.04 C486.38,423.61 487.69,422.15 488.13,421.85 C488.57,421.56 489.88,421.27 490.32,421.12 C490.76,420.98 492.12,420.39 492.51,420.39 C492.91,420.39 493.94,420.98 494.26,421.12 C494.58,421.27 495.58,421.78 495.72,421.85" fill="none" stroke="#0e9a9e" stroke-width="1.6" stroke-linejoin="round" stroke-linecap="butt"/>
<line x1="455.7" y1="371" x2="455.7" y2="458" stroke="#222" stroke-width="0.6"/>
<line x1="455.7" y1="458" x2="496" y2="458" stroke="#222" stroke-width="0.6"/>
<line x1="456.3" y1="458" x2="456.3" y2="459.6" stroke="#222" stroke-width="0.6"/>
<text x="456.3" y="466.4" font-size="7.2" text-anchor="middle">0</text>
<line x1="475.4" y1="458" x2="475.4" y2="459.6" stroke="#222" stroke-width="0.6"/>
<text x="475.4" y="466.4" font-size="7.2" text-anchor="middle">1</text>
<line x1="495.7" y1="458" x2="495.7" y2="459.6" stroke="#222" stroke-width="0.6"/>
<text x="495.7" y="466.4" font-size="7.2" text-anchor="middle">2</text>
<line x1="453.9" y1="371" x2="455.7" y2="371" stroke="#222" stroke-width="0.6"/>
<line x1="453.9" y1="387.1" x2="455.7" y2="387.1" stroke="#222" stroke-width="0.6"/>
<line x1="453.9" y1="403.2" x2="455.7" y2="403.2" stroke="#222" stroke-width="0.6"/>
<line x1="453.9" y1="418.9" x2="455.7" y2="418.9" stroke="#222" stroke-width="0.6"/>
<line x1="453.9" y1="434.7" x2="455.7" y2="434.7" stroke="#222" stroke-width="0.6"/>
<line x1="453.9" y1="450.3" x2="455.7" y2="450.3" stroke="#222" stroke-width="0.6"/>
<text x="428" y="369.2" font-size="8.8" text-anchor="middle">Forward</text>
<text x="477.5" y="369.2" font-size="8.8" text-anchor="middle">Reverse</text>
<text x="449.8" y="477.6" font-size="8.8" text-anchor="middle">Head swings</text>
<rect x="436.25" y="344.8" width="33.5" height="16" fill="#f0727f" rx="8"/><text x="453" y="355.79" font-size="8.3" text-anchor="middle" fill="#111">SAAV</text>
<line x1="474" y1="349.5" x2="480.6" y2="349.5" stroke="#5f5f5f" stroke-width="1.2"/><text x="484.3" y="352.02" font-size="7">WT <tspan font-style="italic">n</tspan> = 26</text><line x1="474" y1="357.6" x2="480.6" y2="357.6" stroke="#0e9a9e" stroke-width="1.2"/><text x="484.3" y="360.12" font-size="7"><tspan font-style="italic">tdc-1 n</tspan> = 15</text>
<line x1="543.05" y1="371" x2="543.05" y2="457.6" stroke="#9a9a9a" stroke-width="0.5"/>
<line x1="563" y1="371" x2="563" y2="457.6" stroke="#9a9a9a" stroke-width="0.5"/>
<path d="M523.13,427.95 C523.39,427.92 525.2,427.65 525.76,427.65 C526.31,427.65 528.09,427.73 528.68,427.95 C529.26,428.16 531.01,429.43 531.6,429.84 C532.18,430.25 533.93,431.78 534.52,432.03 C535.1,432.28 536.85,432.15 537.44,432.32 C538.02,432.5 539.77,433.45 540.36,433.78 C540.94,434.12 542.69,435.71 543.28,435.68 C543.86,435.65 545.61,433.86 546.2,433.49 C546.78,433.13 548.53,431.89 549.12,432.03 C549.7,432.18 551.45,434.44 552.04,434.95 C552.62,435.46 554.37,436.78 554.96,437.14 C555.54,437.51 557.29,438.31 557.88,438.6 C558.46,438.89 560.28,439.87 560.8,440.06 C561.31,440.25 562.77,440.46 562.99,440.5 L562.99,443.5 C562.77,443.46 561.31,443.25 560.8,443.06 C560.28,442.87 558.46,441.89 557.88,441.6 C557.29,441.31 555.54,440.51 554.96,440.14 C554.37,439.78 552.62,438.46 552.04,437.95 C551.45,437.44 549.7,435.18 549.12,435.03 C548.53,434.89 546.78,436.13 546.2,436.49 C545.61,436.86 543.86,438.65 543.28,438.68 C542.69,438.71 540.94,437.12 540.36,436.78 C539.77,436.45 538.02,435.5 537.44,435.32 C536.85,435.15 535.1,435.28 534.52,435.03 C533.93,434.78 532.18,433.25 531.6,432.84 C531.01,432.43 529.26,431.16 528.68,430.95 C528.09,430.73 526.31,430.65 525.76,430.65 C525.2,430.65 523.39,430.92 523.13,430.95 Z" fill="#5f5f5f" opacity="0.27" stroke="none"/><path d="M523.13,429.45 C523.39,429.42 525.2,429.15 525.76,429.15 C526.31,429.15 528.09,429.23 528.68,429.45 C529.26,429.66 531.01,430.93 531.6,431.34 C532.18,431.75 533.93,433.28 534.52,433.53 C535.1,433.78 536.85,433.65 537.44,433.82 C538.02,434 539.77,434.95 540.36,435.28 C540.94,435.62 542.69,437.21 543.28,437.18 C543.86,437.15 545.61,435.36 546.2,434.99 C546.78,434.63 548.53,433.39 549.12,433.53 C549.7,433.68 551.45,435.94 552.04,436.45 C552.62,436.96 554.37,438.28 554.96,438.64 C555.54,439.01 557.29,439.81 557.88,440.1 C558.46,440.39 560.28,441.37 560.8,441.56 C561.31,441.75 562.77,441.96 562.99,442" fill="none" stroke="#5f5f5f" stroke-width="1.6" stroke-linejoin="round" stroke-linecap="butt"/>
<path d="M523.13,428.08 C523.32,427.86 524.62,426.4 525.03,425.89 C525.44,425.38 526.78,423.34 527.22,422.97 C527.66,422.61 528.97,422.13 529.41,422.24 C529.85,422.36 531.09,423.63 531.6,424.14 C532.11,424.65 533.93,426.86 534.52,427.35 C535.1,427.85 536.85,428.89 537.44,429.11 C538.02,429.32 539.77,429.65 540.36,429.54 C540.94,429.44 542.69,428.52 543.28,428.08 C543.86,427.65 545.69,425.6 546.2,425.16 C546.71,424.73 547.95,423.7 548.39,423.7 C548.82,423.7 550.07,424.65 550.58,425.16 C551.09,425.67 552.91,428.13 553.5,428.81 C554.08,429.5 555.83,431.51 556.42,432.02 C557,432.54 558.82,433.84 559.34,433.92 C559.85,434.01 561.16,433.05 561.53,432.9 C561.89,432.75 562.84,432.51 562.99,432.46 L562.99,436.06 C562.84,436.11 561.89,436.35 561.53,436.5 C561.16,436.65 559.85,437.61 559.34,437.52 C558.82,437.44 557,436.14 556.42,435.62 C555.83,435.11 554.08,433.1 553.5,432.41 C552.91,431.73 551.09,429.27 550.58,428.76 C550.07,428.25 548.82,427.3 548.39,427.3 C547.95,427.3 546.71,428.33 546.2,428.76 C545.69,429.2 543.86,431.25 543.28,431.68 C542.69,432.12 540.94,433.04 540.36,433.14 C539.77,433.25 538.02,432.92 537.44,432.71 C536.85,432.49 535.1,431.45 534.52,430.95 C533.93,430.46 532.11,428.25 531.6,427.74 C531.09,427.23 529.85,425.96 529.41,425.84 C528.97,425.73 527.66,426.21 527.22,426.57 C526.78,426.94 525.44,428.98 525.03,429.49 C524.62,430 523.32,431.46 523.13,431.68 Z" fill="#0e9a9e" opacity="0.27" stroke="none"/><path d="M523.13,429.88 C523.32,429.66 524.62,428.2 525.03,427.69 C525.44,427.18 526.78,425.14 527.22,424.77 C527.66,424.41 528.97,423.93 529.41,424.04 C529.85,424.16 531.09,425.43 531.6,425.94 C532.11,426.45 533.93,428.66 534.52,429.15 C535.1,429.65 536.85,430.69 537.44,430.91 C538.02,431.12 539.77,431.45 540.36,431.34 C540.94,431.24 542.69,430.32 543.28,429.88 C543.86,429.45 545.69,427.4 546.2,426.96 C546.71,426.53 547.95,425.5 548.39,425.5 C548.82,425.5 550.07,426.45 550.58,426.96 C551.09,427.47 552.91,429.93 553.5,430.61 C554.08,431.3 555.83,433.31 556.42,433.82 C557,434.34 558.82,435.64 559.34,435.72 C559.85,435.81 561.16,434.85 561.53,434.7 C561.89,434.55 562.84,434.31 562.99,434.26" fill="none" stroke="#0e9a9e" stroke-width="1.6" stroke-linejoin="round" stroke-linecap="butt"/>
<line x1="523.1" y1="371" x2="523.1" y2="457.6" stroke="#222" stroke-width="0.6"/>
<line x1="523.1" y1="457.6" x2="563.3" y2="457.6" stroke="#222" stroke-width="0.6"/>
<line x1="523.7" y1="457.6" x2="523.7" y2="459.2" stroke="#222" stroke-width="0.6"/>
<text x="523.7" y="466" font-size="7.2" text-anchor="middle">0</text>
<line x1="543.05" y1="457.6" x2="543.05" y2="459.2" stroke="#222" stroke-width="0.6"/>
<text x="543.05" y="466" font-size="7.2" text-anchor="middle">1</text>
<line x1="563" y1="457.6" x2="563" y2="459.2" stroke="#222" stroke-width="0.6"/>
<text x="563" y="466" font-size="7.2" text-anchor="middle">2</text>
<line x1="521.3" y1="381" x2="523.1" y2="381" stroke="#222" stroke-width="0.6"/>
<text x="520.1" y="383.55" font-size="7.2" text-anchor="end">1</text>
<line x1="521.3" y1="400.2" x2="523.1" y2="400.2" stroke="#222" stroke-width="0.6"/>
<line x1="521.3" y1="419.2" x2="523.1" y2="419.2" stroke="#222" stroke-width="0.6"/>
<text x="520.1" y="421.75" font-size="7.2" text-anchor="end">0</text>
<line x1="521.3" y1="438.2" x2="523.1" y2="438.2" stroke="#222" stroke-width="0.6"/>
<line x1="521.3" y1="457.6" x2="523.1" y2="457.6" stroke="#222" stroke-width="0.6"/>
<text x="520.1" y="460.15" font-size="7.2" text-anchor="end">−1</text>
<rect x="570.7" y="371" width="39.7" height="86.6" fill="#fce3e0"/>
<line x1="590.4" y1="371" x2="590.4" y2="457.6" stroke="#9a9a9a" stroke-width="0.5"/>
<line x1="610.4" y1="371" x2="610.4" y2="457.6" stroke="#9a9a9a" stroke-width="0.5"/>
<path d="M569.85,407.61 C570.04,407.09 571.34,403.15 571.74,402.5 C572.15,401.84 573.42,401.25 573.93,401.04 C574.45,400.82 576.3,399.79 576.85,400.31 C577.41,400.82 578.97,406.29 579.48,406.15 C579.99,406 581.47,400.31 581.96,398.85 C582.46,397.39 583.96,392.79 584.45,391.55 C584.93,390.31 586.34,386.44 586.78,386.44 C587.22,386.44 588.39,391.4 588.82,391.55 C589.26,391.69 590.75,388.58 591.16,387.9 C591.57,387.21 592.52,385.05 592.91,384.69 C593.31,384.32 594.69,383.71 595.1,384.25 C595.51,384.79 596.61,388.88 597,390.09 C597.39,391.3 598.65,396.07 599.04,396.36 C599.44,396.66 600.53,393.85 600.94,393.01 C601.35,392.16 602.69,388.85 603.13,387.9 C603.57,386.95 604.91,384.17 605.32,383.52 C605.73,382.86 606.82,381.18 607.22,381.33 C607.61,381.47 609.06,384.61 609.26,384.98 L609.26,391.58 C609.06,391.21 607.61,388.07 607.22,387.93 C606.82,387.78 605.73,389.46 605.32,390.12 C604.91,390.77 603.57,393.55 603.13,394.5 C602.69,395.45 601.35,398.76 600.94,399.61 C600.53,400.45 599.44,403.26 599.04,402.96 C598.65,402.67 597.39,397.9 597,396.69 C596.61,395.48 595.51,391.39 595.1,390.85 C594.69,390.31 593.31,390.92 592.91,391.29 C592.52,391.65 591.57,393.81 591.16,394.5 C590.75,395.18 589.26,398.29 588.82,398.15 C588.39,398 587.22,393.04 586.78,393.04 C586.34,393.04 584.93,396.91 584.45,398.15 C583.96,399.39 582.46,403.99 581.96,405.45 C581.47,406.91 579.99,412.6 579.48,412.75 C578.97,412.89 577.41,407.42 576.85,406.91 C576.3,406.39 574.45,407.42 573.93,407.64 C573.42,407.85 572.15,408.44 571.74,409.1 C571.34,409.75 570.04,413.69 569.85,414.21 Z" fill="#5f5f5f" opacity="0.27" stroke="none"/><path d="M569.85,410.91 C570.04,410.39 571.34,406.45 571.74,405.8 C572.15,405.14 573.42,404.55 573.93,404.34 C574.45,404.12 576.3,403.09 576.85,403.61 C577.41,404.12 578.97,409.59 579.48,409.45 C579.99,409.3 581.47,403.61 581.96,402.15 C582.46,400.69 583.96,396.09 584.45,394.85 C584.93,393.61 586.34,389.74 586.78,389.74 C587.22,389.74 588.39,394.7 588.82,394.85 C589.26,394.99 590.75,391.88 591.16,391.2 C591.57,390.51 592.52,388.35 592.91,387.99 C593.31,387.62 594.69,387.01 595.1,387.55 C595.51,388.09 596.61,392.18 597,393.39 C597.39,394.6 598.65,399.37 599.04,399.66 C599.44,399.96 600.53,397.15 600.94,396.31 C601.35,395.46 602.69,392.15 603.13,391.2 C603.57,390.25 604.91,387.47 605.32,386.82 C605.73,386.16 606.82,384.48 607.22,384.63 C607.61,384.77 609.06,387.91 609.26,388.28" fill="none" stroke="#5f5f5f" stroke-width="1.6" stroke-linejoin="round" stroke-linecap="butt"/>
<path d="M568.82,405.45 C569.04,405.05 570.5,401.99 571.01,401.5 C571.53,401.02 573.35,400.67 573.93,400.63 C574.52,400.58 576.27,401.09 576.85,401.07 C577.44,401.04 579.19,400.38 579.77,400.34 C580.36,400.29 582.11,400.77 582.69,400.63 C583.28,400.48 585.03,399.2 585.61,398.88 C586.2,398.55 588.02,398 588.53,397.42 C589.04,396.83 590.36,393.26 590.72,393.04 C591.09,392.82 591.82,395.11 592.18,395.23 C592.55,395.34 593.93,394.2 594.37,394.2 C594.81,394.2 596.12,394.76 596.56,395.23 C597,395.69 598.31,398.15 598.75,398.88 C599.19,399.61 600.5,401.87 600.94,402.53 C601.38,403.18 602.62,405.3 603.13,405.45 C603.64,405.59 605.54,404.28 606.05,403.99 C606.56,403.69 607.92,402.74 608.24,402.53 C608.56,402.31 609.16,401.87 609.26,401.8 L609.26,409.8 C609.16,409.87 608.56,410.31 608.24,410.53 C607.92,410.74 606.56,411.69 606.05,411.99 C605.54,412.28 603.64,413.59 603.13,413.45 C602.62,413.3 601.38,411.18 600.94,410.53 C600.5,409.87 599.19,407.61 598.75,406.88 C598.31,406.15 597,403.69 596.56,403.23 C596.12,402.76 594.81,402.2 594.37,402.2 C593.93,402.2 592.55,403.34 592.18,403.23 C591.82,403.11 591.09,400.82 590.72,401.04 C590.36,401.26 589.04,404.83 588.53,405.42 C588.02,406 586.2,406.55 585.61,406.88 C585.03,407.2 583.28,408.48 582.69,408.63 C582.11,408.77 580.36,408.29 579.77,408.34 C579.19,408.38 577.44,409.04 576.85,409.07 C576.27,409.09 574.52,408.58 573.93,408.63 C573.35,408.67 571.53,409.02 571.01,409.5 C570.5,409.99 569.04,413.05 568.82,413.45 Z" fill="#0e9a9e" opacity="0.27" stroke="none"/><path d="M568.82,409.45 C569.04,409.05 570.5,405.99 571.01,405.5 C571.53,405.02 573.35,404.67 573.93,404.63 C574.52,404.58 576.27,405.09 576.85,405.07 C577.44,405.04 579.19,404.38 579.77,404.34 C580.36,404.29 582.11,404.77 582.69,404.63 C583.28,404.48 585.03,403.2 585.61,402.88 C586.2,402.55 588.02,402 588.53,401.42 C589.04,400.83 590.36,397.26 590.72,397.04 C591.09,396.82 591.82,399.11 592.18,399.23 C592.55,399.34 593.93,398.2 594.37,398.2 C594.81,398.2 596.12,398.76 596.56,399.23 C597,399.69 598.31,402.15 598.75,402.88 C599.19,403.61 600.5,405.87 600.94,406.53 C601.38,407.18 602.62,409.3 603.13,409.45 C603.64,409.59 605.54,408.28 606.05,407.99 C606.56,407.69 607.92,406.74 608.24,406.53 C608.56,406.31 609.16,405.87 609.26,405.8" fill="none" stroke="#0e9a9e" stroke-width="1.6" stroke-linejoin="round" stroke-linecap="butt"/>
<line x1="570.7" y1="371" x2="570.7" y2="457.6" stroke="#222" stroke-width="0.6"/>
<line x1="570.7" y1="457.6" x2="610.7" y2="457.6" stroke="#222" stroke-width="0.6"/>
<line x1="571.3" y1="457.6" x2="571.3" y2="459.2" stroke="#222" stroke-width="0.6"/>
<text x="571.3" y="466" font-size="7.2" text-anchor="middle">0</text>
<line x1="590.4" y1="457.6" x2="590.4" y2="459.2" stroke="#222" stroke-width="0.6"/>
<text x="590.4" y="466" font-size="7.2" text-anchor="middle">1</text>
<line x1="610.4" y1="457.6" x2="610.4" y2="459.2" stroke="#222" stroke-width="0.6"/>
<text x="610.4" y="466" font-size="7.2" text-anchor="middle">2</text>
<line x1="568.9" y1="381" x2="570.7" y2="381" stroke="#222" stroke-width="0.6"/>
<line x1="568.9" y1="400.2" x2="570.7" y2="400.2" stroke="#222" stroke-width="0.6"/>
<line x1="568.9" y1="419.2" x2="570.7" y2="419.2" stroke="#222" stroke-width="0.6"/>
<line x1="568.9" y1="438.2" x2="570.7" y2="438.2" stroke="#222" stroke-width="0.6"/>
<line x1="568.9" y1="457.6" x2="570.7" y2="457.6" stroke="#222" stroke-width="0.6"/>
<text x="544" y="369.2" font-size="8.8" text-anchor="middle">Forward</text>
<text x="593.5" y="369.2" font-size="8.8" text-anchor="middle">Reverse</text>
<text x="566.8" y="477.6" font-size="8.8" text-anchor="middle">Head swings</text>
<rect x="549.55" y="344.8" width="33.5" height="16" fill="#db559f" rx="8"/><text x="566.3" y="355.79" font-size="8.3" text-anchor="middle" fill="#111">RMDV</text>
<line x1="590.2" y1="349.5" x2="596.8" y2="349.5" stroke="#5f5f5f" stroke-width="1.2"/><text x="600.5" y="352.02" font-size="7">WT <tspan font-style="italic">n</tspan> = 28</text><line x1="590.2" y1="357.6" x2="596.8" y2="357.6" stroke="#0e9a9e" stroke-width="1.2"/><text x="600.5" y="360.12" font-size="7"><tspan font-style="italic">tdc-1 n</tspan> = 15</text>
<line x1="312" y1="513.5" x2="312" y2="585.3" stroke="#9a9a9a" stroke-width="0.5"/>
<line x1="332.4" y1="513.5" x2="332.4" y2="599.4" stroke="#9a9a9a" stroke-width="0.5"/>
<path d="M291.57,562.42 C291.79,561.84 293.28,558.12 293.76,556.58 C294.24,555.05 295.88,548.77 296.39,547.1 C296.9,545.42 298.43,540.75 298.87,539.8 C299.31,538.85 300.4,537.39 300.77,537.61 C301.13,537.83 302.05,540.6 302.52,541.99 C302.99,543.37 304.85,549.58 305.44,551.48 C306.02,553.37 307.8,559.36 308.36,560.96 C308.91,562.57 310.59,566.73 310.99,567.53 C311.38,568.34 311.98,569.58 312.3,568.99 C312.62,568.41 313.79,563.59 314.2,561.69 C314.61,559.8 315.95,552.13 316.39,550.02 C316.82,547.9 318.21,541.69 318.58,540.53 C318.94,539.36 319.72,538.12 320.04,538.34 C320.36,538.56 321.35,541.26 321.79,542.72 C322.23,544.18 323.86,550.89 324.42,552.94 C324.97,554.98 326.78,561.4 327.34,563.15 C327.89,564.91 329.45,569.5 329.96,570.45 C330.47,571.4 332.2,572.42 332.45,572.64 L332.45,576.04 C332.2,575.82 330.47,574.8 329.96,573.85 C329.45,572.9 327.89,568.31 327.34,566.55 C326.78,564.8 324.97,558.38 324.42,556.34 C323.86,554.29 322.23,547.58 321.79,546.12 C321.35,544.66 320.36,541.96 320.04,541.74 C319.72,541.52 318.94,542.76 318.58,543.93 C318.21,545.09 316.82,551.3 316.39,553.42 C315.95,555.53 314.61,563.2 314.2,565.09 C313.79,566.99 312.62,571.81 312.3,572.39 C311.98,572.98 311.38,571.74 310.99,570.93 C310.59,570.13 308.91,565.97 308.36,564.36 C307.8,562.76 306.02,556.77 305.44,554.88 C304.85,552.98 302.99,546.77 302.52,545.39 C302.05,544 301.13,541.23 300.77,541.01 C300.4,540.79 299.31,542.25 298.87,543.2 C298.43,544.15 296.9,548.82 296.39,550.5 C295.88,552.17 294.24,558.45 293.76,559.98 C293.28,561.52 291.79,565.24 291.57,565.82 Z" fill="#5f5f5f" opacity="0.27" stroke="none"/><path d="M291.57,564.12 C291.79,563.54 293.28,559.82 293.76,558.28 C294.24,556.75 295.88,550.47 296.39,548.8 C296.9,547.12 298.43,542.45 298.87,541.5 C299.31,540.55 300.4,539.09 300.77,539.31 C301.13,539.53 302.05,542.3 302.52,543.69 C302.99,545.07 304.85,551.28 305.44,553.18 C306.02,555.07 307.8,561.06 308.36,562.66 C308.91,564.27 310.59,568.43 310.99,569.23 C311.38,570.04 311.98,571.28 312.3,570.69 C312.62,570.11 313.79,565.29 314.2,563.39 C314.61,561.5 315.95,553.83 316.39,551.72 C316.82,549.6 318.21,543.39 318.58,542.23 C318.94,541.06 319.72,539.82 320.04,540.04 C320.36,540.26 321.35,542.96 321.79,544.42 C322.23,545.88 323.86,552.59 324.42,554.64 C324.97,556.68 326.78,563.1 327.34,564.85 C327.89,566.61 329.45,571.2 329.96,572.15 C330.47,573.1 332.2,574.12 332.45,574.34" fill="none" stroke="#5f5f5f" stroke-width="1.6" stroke-linejoin="round" stroke-linecap="butt"/>
<path d="M291.57,562.42 C291.79,561.99 293.28,559.14 293.76,558.04 C294.24,556.95 295.88,552.57 296.39,551.48 C296.9,550.38 298.43,547.68 298.87,547.1 C299.31,546.51 300.4,545.49 300.77,545.64 C301.13,545.78 302.05,547.53 302.52,548.56 C302.99,549.58 304.85,554.32 305.44,555.85 C306.02,557.39 307.8,562.57 308.36,563.88 C308.91,565.2 310.59,568.34 310.99,568.99 C311.38,569.65 311.98,570.89 312.3,570.45 C312.62,570.02 313.79,566 314.2,564.61 C314.61,563.23 315.95,557.97 316.39,556.58 C316.82,555.2 318.21,551.52 318.58,550.75 C318.94,549.97 319.72,548.77 320.04,548.85 C320.36,548.92 321.35,550.41 321.79,551.48 C322.23,552.54 323.86,557.97 324.42,559.5 C324.97,561.04 326.78,565.64 327.34,566.8 C327.89,567.97 329.45,570.6 329.96,571.18 C330.47,571.77 332.2,572.5 332.45,572.64 L332.45,576.04 C332.2,575.9 330.47,575.17 329.96,574.58 C329.45,574 327.89,571.37 327.34,570.2 C326.78,569.04 324.97,564.44 324.42,562.9 C323.86,561.37 322.23,555.94 321.79,554.88 C321.35,553.81 320.36,552.32 320.04,552.25 C319.72,552.17 318.94,553.37 318.58,554.15 C318.21,554.92 316.82,558.6 316.39,559.98 C315.95,561.37 314.61,566.63 314.2,568.01 C313.79,569.4 312.62,573.42 312.3,573.85 C311.98,574.29 311.38,573.05 310.99,572.39 C310.59,571.74 308.91,568.6 308.36,567.28 C307.8,565.97 306.02,560.79 305.44,559.25 C304.85,557.72 302.99,552.98 302.52,551.96 C302.05,550.93 301.13,549.18 300.77,549.04 C300.4,548.89 299.31,549.91 298.87,550.5 C298.43,551.08 296.9,553.78 296.39,554.88 C295.88,555.97 294.24,560.35 293.76,561.44 C293.28,562.54 291.79,565.39 291.57,565.82 Z" fill="#0e9a9e" opacity="0.27" stroke="none"/><path d="M291.57,564.12 C291.79,563.69 293.28,560.84 293.76,559.74 C294.24,558.65 295.88,554.27 296.39,553.18 C296.9,552.08 298.43,549.38 298.87,548.8 C299.31,548.21 300.4,547.19 300.77,547.34 C301.13,547.48 302.05,549.23 302.52,550.26 C302.99,551.28 304.85,556.02 305.44,557.55 C306.02,559.09 307.8,564.27 308.36,565.58 C308.91,566.9 310.59,570.04 310.99,570.69 C311.38,571.35 311.98,572.59 312.3,572.15 C312.62,571.72 313.79,567.7 314.2,566.31 C314.61,564.93 315.95,559.67 316.39,558.28 C316.82,556.9 318.21,553.22 318.58,552.45 C318.94,551.67 319.72,550.47 320.04,550.55 C320.36,550.62 321.35,552.11 321.79,553.18 C322.23,554.24 323.86,559.67 324.42,561.2 C324.97,562.74 326.78,567.34 327.34,568.5 C327.89,569.67 329.45,572.3 329.96,572.88 C330.47,573.47 332.2,574.2 332.45,574.34" fill="none" stroke="#0e9a9e" stroke-width="1.6" stroke-linejoin="round" stroke-linecap="butt"/>
<line x1="291.6" y1="513.5" x2="291.6" y2="599.4" stroke="#222" stroke-width="0.6"/>
<line x1="291.6" y1="599.4" x2="332.7" y2="599.4" stroke="#222" stroke-width="0.6"/>
<line x1="292.2" y1="599.4" x2="292.2" y2="601" stroke="#222" stroke-width="0.6"/>
<text x="292.2" y="607.8" font-size="7.2" text-anchor="middle">0</text>
<line x1="312" y1="599.4" x2="312" y2="601" stroke="#222" stroke-width="0.6"/>
<text x="312" y="607.8" font-size="7.2" text-anchor="middle">1</text>
<line x1="332.4" y1="599.4" x2="332.4" y2="601" stroke="#222" stroke-width="0.6"/>
<text x="332.4" y="607.8" font-size="7.2" text-anchor="middle">2</text>
<line x1="289.8" y1="529.8" x2="291.6" y2="529.8" stroke="#222" stroke-width="0.6"/>
<text x="288.6" y="532.35" font-size="7.2" text-anchor="end">0.5</text>
<line x1="289.8" y1="557.6" x2="291.6" y2="557.6" stroke="#222" stroke-width="0.6"/>
<text x="288.6" y="560.15" font-size="7.2" text-anchor="end">0</text>
<line x1="289.8" y1="585.3" x2="291.6" y2="585.3" stroke="#222" stroke-width="0.6"/>
<text x="288.6" y="587.85" font-size="7.2" text-anchor="end">−0.5</text>
<rect x="340.5" y="513.5" width="40.1" height="85.9" fill="#fce3e0"/>
<line x1="360.5" y1="513.5" x2="360.5" y2="599.4" stroke="#9a9a9a" stroke-width="0.5"/>
<line x1="380.6" y1="513.5" x2="380.6" y2="599.4" stroke="#9a9a9a" stroke-width="0.5"/>
<path d="M340.47,572.03 C340.69,572.15 342.23,573.13 342.66,573.2 C343.1,573.27 344.42,572.51 344.85,572.76 C345.29,573.01 346.61,575.32 347.04,575.68 C347.48,576.05 348.8,576.27 349.23,576.41 C349.67,576.56 350.99,577.43 351.42,577.14 C351.86,576.85 353.22,573.93 353.61,573.49 C354.01,573.05 355,572.47 355.36,572.76 C355.73,573.05 356.85,575.64 357.26,576.41 C357.67,577.19 359.09,580.14 359.45,580.5 C359.82,580.86 360.55,580.62 360.91,580.06 C361.28,579.51 362.66,575.24 363.1,574.95 C363.54,574.66 364.78,576.56 365.29,577.14 C365.8,577.73 367.66,580.11 368.21,580.79 C368.77,581.48 370.33,583.93 370.84,584 C371.35,584.08 372.85,582.21 373.32,581.52 C373.79,580.84 375.07,577.77 375.51,577.14 C375.95,576.51 377.26,575.39 377.7,575.24 C378.14,575.1 379.6,575.49 379.89,575.68 C380.18,575.87 380.55,577 380.62,577.14 L380.62,586.14 C380.55,586 380.18,584.87 379.89,584.68 C379.6,584.49 378.14,584.1 377.7,584.24 C377.26,584.39 375.95,585.51 375.51,586.14 C375.07,586.77 373.79,589.84 373.32,590.52 C372.85,591.21 371.35,593.08 370.84,593 C370.33,592.93 368.77,590.48 368.21,589.79 C367.66,589.11 365.8,586.73 365.29,586.14 C364.78,585.56 363.54,583.66 363.1,583.95 C362.66,584.24 361.28,588.51 360.91,589.06 C360.55,589.62 359.82,589.86 359.45,589.5 C359.09,589.14 357.67,586.19 357.26,585.41 C356.85,584.64 355.73,582.05 355.36,581.76 C355,581.47 354.01,582.05 353.61,582.49 C353.22,582.93 351.86,585.85 351.42,586.14 C350.99,586.43 349.67,585.56 349.23,585.41 C348.8,585.27 347.48,585.05 347.04,584.68 C346.61,584.32 345.29,582.01 344.85,581.76 C344.42,581.51 343.1,582.27 342.66,582.2 C342.23,582.13 340.69,581.15 340.47,581.03 Z" fill="#5f5f5f" opacity="0.27" stroke="none"/><path d="M340.47,576.53 C340.69,576.65 342.23,577.63 342.66,577.7 C343.1,577.77 344.42,577.01 344.85,577.26 C345.29,577.51 346.61,579.82 347.04,580.18 C347.48,580.55 348.8,580.77 349.23,580.91 C349.67,581.06 350.99,581.93 351.42,581.64 C351.86,581.35 353.22,578.43 353.61,577.99 C354.01,577.55 355,576.97 355.36,577.26 C355.73,577.55 356.85,580.14 357.26,580.91 C357.67,581.69 359.09,584.64 359.45,585 C359.82,585.36 360.55,585.12 360.91,584.56 C361.28,584.01 362.66,579.74 363.1,579.45 C363.54,579.16 364.78,581.06 365.29,581.64 C365.8,582.23 367.66,584.61 368.21,585.29 C368.77,585.98 370.33,588.43 370.84,588.5 C371.35,588.58 372.85,586.71 373.32,586.02 C373.79,585.34 375.07,582.27 375.51,581.64 C375.95,581.01 377.26,579.89 377.7,579.74 C378.14,579.6 379.6,579.99 379.89,580.18 C380.18,580.37 380.55,581.5 380.62,581.64" fill="none" stroke="#5f5f5f" stroke-width="1.6" stroke-linejoin="round" stroke-linecap="butt"/>
<path d="M340.47,566.42 C340.69,566.57 342.15,567.69 342.66,567.88 C343.18,568.07 345.07,568.32 345.58,568.32 C346.09,568.32 347.41,567.49 347.77,567.88 C348.14,568.28 348.94,572.31 349.23,572.26 C349.53,572.22 350.26,567.81 350.69,567.45 C351.13,567.08 353.03,568.35 353.61,568.61 C354.2,568.88 355.95,569.85 356.53,570.07 C357.12,570.29 358.87,570.69 359.45,570.8 C360.04,570.92 361.79,571.24 362.37,571.24 C362.96,571.24 364.78,570.92 365.29,570.8 C365.8,570.69 366.97,569.85 367.48,570.07 C367.99,570.29 369.82,572.41 370.4,572.99 C370.99,573.58 372.74,575.33 373.32,575.91 C373.91,576.5 375.73,578.42 376.24,578.83 C376.75,579.24 377.99,580.15 378.43,580 C378.87,579.85 380.4,577.64 380.62,577.37 L380.62,587.37 C380.4,587.64 378.87,589.85 378.43,590 C377.99,590.15 376.75,589.24 376.24,588.83 C375.73,588.42 373.91,586.5 373.32,585.91 C372.74,585.33 370.99,583.58 370.4,582.99 C369.82,582.41 367.99,580.29 367.48,580.07 C366.97,579.85 365.8,580.69 365.29,580.8 C364.78,580.92 362.96,581.24 362.37,581.24 C361.79,581.24 360.04,580.92 359.45,580.8 C358.87,580.69 357.12,580.29 356.53,580.07 C355.95,579.85 354.2,578.88 353.61,578.61 C353.03,578.35 351.13,577.08 350.69,577.45 C350.26,577.81 349.53,582.22 349.23,582.26 C348.94,582.31 348.14,578.28 347.77,577.88 C347.41,577.49 346.09,578.32 345.58,578.32 C345.07,578.32 343.18,578.07 342.66,577.88 C342.15,577.69 340.69,576.57 340.47,576.42 Z" fill="#0e9a9e" opacity="0.27" stroke="none"/><path d="M340.47,571.42 C340.69,571.57 342.15,572.69 342.66,572.88 C343.18,573.07 345.07,573.32 345.58,573.32 C346.09,573.32 347.41,572.49 347.77,572.88 C348.14,573.28 348.94,577.31 349.23,577.26 C349.53,577.22 350.26,572.81 350.69,572.45 C351.13,572.08 353.03,573.35 353.61,573.61 C354.2,573.88 355.95,574.85 356.53,575.07 C357.12,575.29 358.87,575.69 359.45,575.8 C360.04,575.92 361.79,576.24 362.37,576.24 C362.96,576.24 364.78,575.92 365.29,575.8 C365.8,575.69 366.97,574.85 367.48,575.07 C367.99,575.29 369.82,577.41 370.4,577.99 C370.99,578.58 372.74,580.33 373.32,580.91 C373.91,581.5 375.73,583.42 376.24,583.83 C376.75,584.24 377.99,585.15 378.43,585 C378.87,584.85 380.4,582.64 380.62,582.37" fill="none" stroke="#0e9a9e" stroke-width="1.6" stroke-linejoin="round" stroke-linecap="butt"/>
<line x1="340.5" y1="513.5" x2="340.5" y2="599.4" stroke="#222" stroke-width="0.6"/>
<line x1="340.5" y1="599.4" x2="380.9" y2="599.4" stroke="#222" stroke-width="0.6"/>
<line x1="341.1" y1="599.4" x2="341.1" y2="601" stroke="#222" stroke-width="0.6"/>
<text x="341.1" y="607.8" font-size="7.2" text-anchor="middle">0</text>
<line x1="360.5" y1="599.4" x2="360.5" y2="601" stroke="#222" stroke-width="0.6"/>
<text x="360.5" y="607.8" font-size="7.2" text-anchor="middle">1</text>
<line x1="380.6" y1="599.4" x2="380.6" y2="601" stroke="#222" stroke-width="0.6"/>
<text x="380.6" y="607.8" font-size="7.2" text-anchor="middle">2</text>
<line x1="338.7" y1="529.8" x2="340.5" y2="529.8" stroke="#222" stroke-width="0.6"/>
<line x1="338.7" y1="557.6" x2="340.5" y2="557.6" stroke="#222" stroke-width="0.6"/>
<line x1="338.7" y1="585.3" x2="340.5" y2="585.3" stroke="#222" stroke-width="0.6"/>
<text x="312.2" y="511.4" font-size="8.8" text-anchor="middle">Forward</text>
<text x="362" y="511.4" font-size="8.8" text-anchor="middle">Reverse</text>
<text x="339.5" y="620" font-size="8.8" text-anchor="middle">Head swings</text>
<text x="269.3" y="556" font-size="8.7" text-anchor="middle" transform="rotate(-90 269.3 556)">GCaMP (<tspan font-style="italic">z</tspan> scored)</text>
<rect x="312.75" y="488.5" width="33.5" height="15.6" fill="#a96fba" rx="7.8"/><text x="329.5" y="499.29" font-size="8.3" text-anchor="middle" fill="#111">SMDV</text>
<line x1="352.3" y1="493.1" x2="359.4" y2="493.1" stroke="#5f5f5f" stroke-width="1.2"/><text x="362.6" y="495.62" font-size="7">WT <tspan font-style="italic">n</tspan> = 31</text><line x1="352.3" y1="501.2" x2="359.4" y2="501.2" stroke="#0e9a9e" stroke-width="1.2"/><text x="362.6" y="503.72" font-size="7"><tspan font-style="italic">tdc-1 n</tspan> = 15<tspan font-style="italic">n</tspan> = 17</text>
<line x1="427.65" y1="513.5" x2="427.65" y2="599.4" stroke="#9a9a9a" stroke-width="0.5"/>
<line x1="447.5" y1="513.5" x2="447.5" y2="599.4" stroke="#9a9a9a" stroke-width="0.5"/>
<path d="M407.84,534.21 C408.06,534.11 409.59,533.25 410.03,533.19 C410.47,533.13 411.78,533.38 412.22,533.62 C412.66,533.87 413.97,535.2 414.41,535.67 C414.85,536.14 416.09,537.52 416.6,538.3 C417.11,539.07 418.93,542.46 419.52,543.41 C420.1,544.35 421.85,547.06 422.44,547.79 C423.02,548.52 424.77,550.31 425.36,550.71 C425.94,551.1 427.69,551.77 428.28,551.73 C428.86,551.68 430.69,550.44 431.2,550.27 C431.71,550.09 432.95,549.86 433.39,549.98 C433.82,550.09 435.07,550.82 435.58,551.44 C436.09,552.05 437.91,555.23 438.5,556.11 C439.08,556.98 440.83,559.46 441.42,560.19 C442,560.92 443.82,562.94 444.34,563.41 C444.85,563.87 446.2,564.63 446.53,564.87 C446.85,565.1 447.45,565.65 447.55,565.74 L447.55,572.14 C447.45,572.05 446.85,571.5 446.53,571.27 C446.2,571.03 444.85,570.27 444.34,569.81 C443.82,569.34 442,567.32 441.42,566.59 C440.83,565.86 439.08,563.38 438.5,562.51 C437.91,561.63 436.09,558.45 435.58,557.84 C435.07,557.22 433.82,556.49 433.39,556.38 C432.95,556.26 431.71,556.49 431.2,556.67 C430.69,556.84 428.86,558.08 428.28,558.13 C427.69,558.17 425.94,557.5 425.36,557.11 C424.77,556.71 423.02,554.92 422.44,554.19 C421.85,553.46 420.1,550.75 419.52,549.81 C418.93,548.86 417.11,545.47 416.6,544.7 C416.09,543.92 414.85,542.54 414.41,542.07 C413.97,541.6 412.66,540.27 412.22,540.02 C411.78,539.78 410.47,539.53 410.03,539.59 C409.59,539.65 408.06,540.51 407.84,540.61 Z" fill="#5f5f5f" opacity="0.27" stroke="none"/><path d="M407.84,537.41 C408.06,537.31 409.59,536.45 410.03,536.39 C410.47,536.33 411.78,536.58 412.22,536.82 C412.66,537.07 413.97,538.4 414.41,538.87 C414.85,539.34 416.09,540.72 416.6,541.5 C417.11,542.27 418.93,545.66 419.52,546.61 C420.1,547.55 421.85,550.26 422.44,550.99 C423.02,551.72 424.77,553.51 425.36,553.91 C425.94,554.3 427.69,554.97 428.28,554.93 C428.86,554.88 430.69,553.64 431.2,553.47 C431.71,553.29 432.95,553.06 433.39,553.18 C433.82,553.29 435.07,554.02 435.58,554.64 C436.09,555.25 437.91,558.43 438.5,559.31 C439.08,560.18 440.83,562.66 441.42,563.39 C442,564.12 443.82,566.14 444.34,566.61 C444.85,567.07 446.2,567.83 446.53,568.07 C446.85,568.3 447.45,568.85 447.55,568.94" fill="none" stroke="#5f5f5f" stroke-width="1.6" stroke-linejoin="round" stroke-linecap="butt"/>
<path d="M407.84,541.95 C408.06,541.84 409.59,541 410.03,540.92 C410.47,540.85 411.78,541.04 412.22,541.22 C412.66,541.39 413.97,542.46 414.41,542.68 C414.85,542.89 416.09,542.94 416.6,543.41 C417.11,543.87 418.93,546.57 419.52,547.35 C420.1,548.12 421.85,550.47 422.44,551.14 C423.02,551.81 424.77,553.62 425.36,554.06 C425.94,554.5 427.69,555.42 428.28,555.52 C428.86,555.62 430.69,555.13 431.2,555.08 C431.71,555.04 432.88,554.89 433.39,555.08 C433.9,555.27 435.72,556.5 436.31,556.98 C436.89,557.46 438.64,559.36 439.23,559.9 C439.81,560.44 441.56,561.92 442.15,562.38 C442.73,562.85 444.53,564.24 445.07,564.57 C445.61,564.91 447.3,565.62 447.55,565.74 L447.55,572.14 C447.3,572.02 445.61,571.31 445.07,570.97 C444.53,570.64 442.73,569.25 442.15,568.78 C441.56,568.32 439.81,566.84 439.23,566.3 C438.64,565.76 436.89,563.86 436.31,563.38 C435.72,562.9 433.9,561.67 433.39,561.48 C432.88,561.29 431.71,561.44 431.2,561.48 C430.69,561.53 428.86,562.02 428.28,561.92 C427.69,561.82 425.94,560.9 425.36,560.46 C424.77,560.02 423.02,558.21 422.44,557.54 C421.85,556.87 420.1,554.52 419.52,553.75 C418.93,552.97 417.11,550.27 416.6,549.81 C416.09,549.34 414.85,549.29 414.41,549.08 C413.97,548.86 412.66,547.79 412.22,547.62 C411.78,547.44 410.47,547.25 410.03,547.32 C409.59,547.4 408.06,548.24 407.84,548.35 Z" fill="#0e9a9e" opacity="0.27" stroke="none"/><path d="M407.84,545.15 C408.06,545.04 409.59,544.2 410.03,544.12 C410.47,544.05 411.78,544.24 412.22,544.42 C412.66,544.59 413.97,545.66 414.41,545.88 C414.85,546.09 416.09,546.14 416.6,546.61 C417.11,547.07 418.93,549.77 419.52,550.55 C420.1,551.32 421.85,553.67 422.44,554.34 C423.02,555.01 424.77,556.82 425.36,557.26 C425.94,557.7 427.69,558.62 428.28,558.72 C428.86,558.82 430.69,558.33 431.2,558.28 C431.71,558.24 432.88,558.09 433.39,558.28 C433.9,558.47 435.72,559.7 436.31,560.18 C436.89,560.66 438.64,562.56 439.23,563.1 C439.81,563.64 441.56,565.12 442.15,565.58 C442.73,566.05 444.53,567.44 445.07,567.77 C445.61,568.11 447.3,568.82 447.55,568.94" fill="none" stroke="#0e9a9e" stroke-width="1.6" stroke-linejoin="round" stroke-linecap="butt"/>
<line x1="407.8" y1="513.5" x2="407.8" y2="599.4" stroke="#222" stroke-width="0.6"/>
<line x1="407.8" y1="599.4" x2="447.8" y2="599.4" stroke="#222" stroke-width="0.6"/>
<line x1="408.4" y1="599.4" x2="408.4" y2="601" stroke="#222" stroke-width="0.6"/>
<text x="408.4" y="607.8" font-size="7.2" text-anchor="middle">0</text>
<line x1="427.65" y1="599.4" x2="427.65" y2="601" stroke="#222" stroke-width="0.6"/>
<text x="427.65" y="607.8" font-size="7.2" text-anchor="middle">1</text>
<line x1="447.5" y1="599.4" x2="447.5" y2="601" stroke="#222" stroke-width="0.6"/>
<text x="447.5" y="607.8" font-size="7.2" text-anchor="middle">2</text>
<line x1="406" y1="515.5" x2="407.8" y2="515.5" stroke="#222" stroke-width="0.6"/>
<text x="404.8" y="518.05" font-size="7.2" text-anchor="end">0.5</text>
<line x1="406" y1="543.2" x2="407.8" y2="543.2" stroke="#222" stroke-width="0.6"/>
<text x="404.8" y="545.75" font-size="7.2" text-anchor="end">0</text>
<line x1="406" y1="571.4" x2="407.8" y2="571.4" stroke="#222" stroke-width="0.6"/>
<text x="404.8" y="573.95" font-size="7.2" text-anchor="end">−0.5</text>
<line x1="406" y1="598.4" x2="407.8" y2="598.4" stroke="#222" stroke-width="0.6"/>
<text x="404.8" y="600.95" font-size="7.2" text-anchor="end">−1</text>
<rect x="454.8" y="513.5" width="40.6" height="85.9" fill="#fce3e0"/>
<line x1="475.4" y1="513.5" x2="475.4" y2="599.4" stroke="#9a9a9a" stroke-width="0.5"/>
<line x1="495.4" y1="513.5" x2="495.4" y2="599.4" stroke="#9a9a9a" stroke-width="0.5"/>
<path d="M454.85,556.2 C455.11,556.31 456.92,557.01 457.47,557.23 C458.03,557.45 459.81,558.13 460.39,558.39 C460.98,558.66 462.73,559.45 463.31,559.85 C463.9,560.26 465.72,562.16 466.23,562.48 C466.74,562.8 467.99,563.18 468.42,563.07 C468.86,562.95 470.1,561.71 470.61,561.31 C471.12,560.92 473.02,559.64 473.53,559.12 C474.04,558.61 475.36,557.01 475.72,556.2 C476.09,555.4 476.85,552.04 477.18,551.09 C477.52,550.15 478.64,547.18 479.08,546.72 C479.52,546.25 481.09,546.35 481.56,546.42 C482.03,546.5 483.36,547.39 483.75,547.45 C484.15,547.5 485.18,546.64 485.5,547.01 C485.82,547.37 486.63,550.72 486.96,551.09 C487.3,551.47 488.45,551.24 488.86,550.8 C489.27,550.36 490.61,547.56 491.05,546.72 C491.49,545.87 492.8,543.43 493.24,542.34 C493.68,541.24 495.21,536.42 495.43,535.77 L495.43,545.77 C495.21,546.42 493.68,551.24 493.24,552.34 C492.8,553.43 491.49,555.87 491.05,556.72 C490.61,557.56 489.27,560.36 488.86,560.8 C488.45,561.24 487.3,561.47 486.96,561.09 C486.63,560.72 485.82,557.37 485.5,557.01 C485.18,556.64 484.15,557.5 483.75,557.45 C483.36,557.39 482.03,556.5 481.56,556.42 C481.09,556.35 479.52,556.25 479.08,556.72 C478.64,557.18 477.52,560.15 477.18,561.09 C476.85,562.04 476.09,565.4 475.72,566.2 C475.36,567.01 474.04,568.61 473.53,569.12 C473.02,569.64 471.12,570.92 470.61,571.31 C470.1,571.71 468.86,572.95 468.42,573.07 C467.99,573.18 466.74,572.8 466.23,572.48 C465.72,572.16 463.9,570.26 463.31,569.85 C462.73,569.45 460.98,568.66 460.39,568.39 C459.81,568.13 458.03,567.45 457.47,567.23 C456.92,567.01 455.11,566.31 454.85,566.2 Z" fill="#5f5f5f" opacity="0.27" stroke="none"/><path d="M454.85,561.2 C455.11,561.31 456.92,562.01 457.47,562.23 C458.03,562.45 459.81,563.13 460.39,563.39 C460.98,563.66 462.73,564.45 463.31,564.85 C463.9,565.26 465.72,567.16 466.23,567.48 C466.74,567.8 467.99,568.18 468.42,568.07 C468.86,567.95 470.1,566.71 470.61,566.31 C471.12,565.92 473.02,564.64 473.53,564.12 C474.04,563.61 475.36,562.01 475.72,561.2 C476.09,560.4 476.85,557.04 477.18,556.09 C477.52,555.15 478.64,552.18 479.08,551.72 C479.52,551.25 481.09,551.35 481.56,551.42 C482.03,551.5 483.36,552.39 483.75,552.45 C484.15,552.5 485.18,551.64 485.5,552.01 C485.82,552.37 486.63,555.72 486.96,556.09 C487.3,556.47 488.45,556.24 488.86,555.8 C489.27,555.36 490.61,552.56 491.05,551.72 C491.49,550.87 492.8,548.43 493.24,547.34 C493.68,546.24 495.21,541.42 495.43,540.77" fill="none" stroke="#5f5f5f" stroke-width="1.6" stroke-linejoin="round" stroke-linecap="butt"/>
<path d="M454.85,551.82 C455.11,551.97 456.92,552.99 457.47,553.28 C458.03,553.58 459.81,554.67 460.39,554.74 C460.98,554.82 462.73,554.12 463.31,554.01 C463.9,553.91 465.65,553.69 466.23,553.72 C466.82,553.75 468.57,554.45 469.15,554.31 C469.74,554.16 471.49,552.41 472.07,552.26 C472.66,552.12 474.41,552.85 474.99,552.85 C475.58,552.85 477.33,552.41 477.91,552.26 C478.5,552.12 480.32,551.58 480.83,551.39 C481.34,551.2 482.58,550.32 483.02,550.36 C483.46,550.41 484.77,551.75 485.21,551.82 C485.65,551.9 486.96,551.09 487.4,551.09 C487.84,551.09 489.15,551.82 489.59,551.82 C490.03,551.82 491.34,551.24 491.78,551.09 C492.22,550.95 493.61,550.63 493.97,550.36 C494.34,550.1 495.28,548.66 495.43,548.47 L495.43,558.47 C495.28,558.66 494.34,560.1 493.97,560.36 C493.61,560.63 492.22,560.95 491.78,561.09 C491.34,561.24 490.03,561.82 489.59,561.82 C489.15,561.82 487.84,561.09 487.4,561.09 C486.96,561.09 485.65,561.9 485.21,561.82 C484.77,561.75 483.46,560.41 483.02,560.36 C482.58,560.32 481.34,561.2 480.83,561.39 C480.32,561.58 478.5,562.12 477.91,562.26 C477.33,562.41 475.58,562.85 474.99,562.85 C474.41,562.85 472.66,562.12 472.07,562.26 C471.49,562.41 469.74,564.16 469.15,564.31 C468.57,564.45 466.82,563.75 466.23,563.72 C465.65,563.69 463.9,563.91 463.31,564.01 C462.73,564.12 460.98,564.82 460.39,564.74 C459.81,564.67 458.03,563.58 457.47,563.28 C456.92,562.99 455.11,561.97 454.85,561.82 Z" fill="#0e9a9e" opacity="0.27" stroke="none"/><path d="M454.85,556.82 C455.11,556.97 456.92,557.99 457.47,558.28 C458.03,558.58 459.81,559.67 460.39,559.74 C460.98,559.82 462.73,559.12 463.31,559.01 C463.9,558.91 465.65,558.69 466.23,558.72 C466.82,558.75 468.57,559.45 469.15,559.31 C469.74,559.16 471.49,557.41 472.07,557.26 C472.66,557.12 474.41,557.85 474.99,557.85 C475.58,557.85 477.33,557.41 477.91,557.26 C478.5,557.12 480.32,556.58 480.83,556.39 C481.34,556.2 482.58,555.32 483.02,555.36 C483.46,555.41 484.77,556.75 485.21,556.82 C485.65,556.9 486.96,556.09 487.4,556.09 C487.84,556.09 489.15,556.82 489.59,556.82 C490.03,556.82 491.34,556.24 491.78,556.09 C492.22,555.95 493.61,555.63 493.97,555.36 C494.34,555.1 495.28,553.66 495.43,553.47" fill="none" stroke="#0e9a9e" stroke-width="1.6" stroke-linejoin="round" stroke-linecap="butt"/>
<line x1="454.8" y1="513.5" x2="454.8" y2="599.4" stroke="#222" stroke-width="0.6"/>
<line x1="454.8" y1="599.4" x2="495.7" y2="599.4" stroke="#222" stroke-width="0.6"/>
<line x1="455.4" y1="599.4" x2="455.4" y2="601" stroke="#222" stroke-width="0.6"/>
<text x="455.4" y="607.8" font-size="7.2" text-anchor="middle">0</text>
<line x1="475.4" y1="599.4" x2="475.4" y2="601" stroke="#222" stroke-width="0.6"/>
<text x="475.4" y="607.8" font-size="7.2" text-anchor="middle">1</text>
<line x1="495.4" y1="599.4" x2="495.4" y2="601" stroke="#222" stroke-width="0.6"/>
<text x="495.4" y="607.8" font-size="7.2" text-anchor="middle">2</text>
<line x1="453" y1="515.5" x2="454.8" y2="515.5" stroke="#222" stroke-width="0.6"/>
<line x1="453" y1="543.2" x2="454.8" y2="543.2" stroke="#222" stroke-width="0.6"/>
<line x1="453" y1="571.4" x2="454.8" y2="571.4" stroke="#222" stroke-width="0.6"/>
<line x1="453" y1="598.4" x2="454.8" y2="598.4" stroke="#222" stroke-width="0.6"/>
<text x="428" y="511.4" font-size="8.8" text-anchor="middle">Forward</text>
<text x="477.5" y="511.4" font-size="8.8" text-anchor="middle">Reverse</text>
<text x="455.5" y="620" font-size="8.8" text-anchor="middle">Head swings</text>
<rect x="431.05" y="488" width="33.5" height="15.6" fill="#8d86c6" rx="7.8"/><text x="447.8" y="498.79" font-size="8.3" text-anchor="middle" fill="#111">RIV</text>
<line x1="466.4" y1="493.1" x2="472.8" y2="493.1" stroke="#5f5f5f" stroke-width="1.2"/><text x="477.8" y="495.62" font-size="7">WT <tspan font-style="italic">n</tspan> = 30</text><line x1="466.4" y1="501.2" x2="472.8" y2="501.2" stroke="#0e9a9e" stroke-width="1.2"/><text x="477.8" y="503.72" font-size="7"><tspan font-style="italic">tdc-1 n</tspan> = 15<tspan font-style="italic">n</tspan> = 17</text>
<line x1="544.15" y1="513.5" x2="544.15" y2="599.8" stroke="#9a9a9a" stroke-width="0.5"/>
<line x1="564" y1="513.5" x2="564" y2="599.8" stroke="#9a9a9a" stroke-width="0.5"/>
<path d="M524.3,555.8 C524.38,556.2 524.96,558.99 525.13,559.76 C525.29,560.52 525.79,562.76 525.95,563.45 C526.12,564.14 526.62,566.06 526.78,566.62 C526.95,567.18 527.44,568.65 527.61,569.05 C527.77,569.45 528.27,570.37 528.44,570.58 C528.6,570.78 529.1,571.1 529.26,571.1 C529.43,571.1 529.92,570.78 530.09,570.58 C530.25,570.37 530.75,569.45 530.92,569.05 C531.08,568.65 531.58,567.18 531.74,566.62 C531.91,566.06 532.41,564.14 532.57,563.45 C532.74,562.76 533.23,560.52 533.4,559.76 C533.56,558.99 534.06,556.52 534.22,555.8 C534.39,555.08 534.89,553.15 535.05,552.51 C535.22,551.88 535.71,550.02 535.88,549.45 C536.04,548.88 536.54,547.28 536.71,546.82 C536.87,546.35 537.37,545.13 537.53,544.8 C537.7,544.47 538.19,543.7 538.36,543.53 C538.53,543.36 539.02,543.1 539.19,543.1 C539.35,543.1 539.85,543.36 540.01,543.53 C540.18,543.7 540.68,544.47 540.84,544.8 C541.01,545.13 541.5,546.35 541.67,546.82 C541.83,547.28 542.33,548.88 542.5,549.45 C542.66,550.02 543.16,551.88 543.32,552.51 C543.49,553.15 543.98,555.08 544.15,555.8 C544.32,556.52 544.81,558.99 544.98,559.76 C545.14,560.52 545.64,562.76 545.8,563.45 C545.97,564.14 546.47,566.06 546.63,566.62 C546.8,567.18 547.29,568.65 547.46,569.05 C547.62,569.45 548.12,570.37 548.29,570.58 C548.45,570.78 548.95,571.1 549.11,571.1 C549.28,571.1 549.77,570.78 549.94,570.58 C550.11,570.37 550.6,569.45 550.77,569.05 C550.93,568.65 551.43,567.18 551.59,566.62 C551.76,566.06 552.26,564.14 552.42,563.45 C552.59,562.76 553.08,560.52 553.25,559.76 C553.41,558.99 553.91,556.52 554.07,555.8 C554.24,555.08 554.74,553.15 554.9,552.51 C555.07,551.88 555.56,550.02 555.73,549.45 C555.89,548.88 556.39,547.28 556.56,546.82 C556.72,546.35 557.22,545.13 557.38,544.8 C557.55,544.47 558.05,543.7 558.21,543.53 C558.38,543.36 558.87,543.1 559.04,543.1 C559.2,543.1 559.7,543.36 559.86,543.53 C560.03,543.7 560.53,544.47 560.69,544.8 C560.86,545.13 561.35,546.35 561.52,546.82 C561.68,547.28 562.18,548.88 562.35,549.45 C562.51,550.02 563.01,551.88 563.17,552.51 C563.34,553.15 563.92,555.47 564,555.8 L564,557.8 C563.92,557.47 563.34,555.15 563.17,554.51 C563.01,553.88 562.51,552.02 562.35,551.45 C562.18,550.88 561.68,549.28 561.52,548.82 C561.35,548.35 560.86,547.13 560.69,546.8 C560.53,546.47 560.03,545.7 559.86,545.53 C559.7,545.36 559.2,545.1 559.04,545.1 C558.87,545.1 558.38,545.36 558.21,545.53 C558.05,545.7 557.55,546.47 557.38,546.8 C557.22,547.13 556.72,548.35 556.56,548.82 C556.39,549.28 555.89,550.88 555.73,551.45 C555.56,552.02 555.07,553.88 554.9,554.51 C554.74,555.15 554.24,557.08 554.07,557.8 C553.91,558.52 553.41,560.99 553.25,561.76 C553.08,562.52 552.59,564.76 552.42,565.45 C552.26,566.14 551.76,568.06 551.59,568.62 C551.43,569.18 550.93,570.65 550.77,571.05 C550.6,571.45 550.11,572.37 549.94,572.58 C549.77,572.78 549.28,573.1 549.11,573.1 C548.95,573.1 548.45,572.78 548.29,572.58 C548.12,572.37 547.62,571.45 547.46,571.05 C547.29,570.65 546.8,569.18 546.63,568.62 C546.47,568.06 545.97,566.14 545.8,565.45 C545.64,564.76 545.14,562.52 544.98,561.76 C544.81,560.99 544.32,558.52 544.15,557.8 C543.98,557.08 543.49,555.15 543.32,554.51 C543.16,553.88 542.66,552.02 542.5,551.45 C542.33,550.88 541.83,549.28 541.67,548.82 C541.5,548.35 541.01,547.13 540.84,546.8 C540.68,546.47 540.18,545.7 540.01,545.53 C539.85,545.36 539.35,545.1 539.19,545.1 C539.02,545.1 538.53,545.36 538.36,545.53 C538.19,545.7 537.7,546.47 537.53,546.8 C537.37,547.13 536.87,548.35 536.71,548.82 C536.54,549.28 536.04,550.88 535.88,551.45 C535.71,552.02 535.22,553.88 535.05,554.51 C534.89,555.15 534.39,557.08 534.22,557.8 C534.06,558.52 533.56,560.99 533.4,561.76 C533.23,562.52 532.74,564.76 532.57,565.45 C532.41,566.14 531.91,568.06 531.74,568.62 C531.58,569.18 531.08,570.65 530.92,571.05 C530.75,571.45 530.25,572.37 530.09,572.58 C529.92,572.78 529.43,573.1 529.26,573.1 C529.1,573.1 528.6,572.78 528.44,572.58 C528.27,572.37 527.77,571.45 527.61,571.05 C527.44,570.65 526.95,569.18 526.78,568.62 C526.62,568.06 526.12,566.14 525.95,565.45 C525.79,564.76 525.29,562.52 525.13,561.76 C524.96,560.99 524.38,558.2 524.3,557.8 Z" fill="#5f5f5f" opacity="0.27" stroke="none"/><path d="M524.3,556.8 C524.38,557.2 524.96,559.99 525.13,560.76 C525.29,561.52 525.79,563.76 525.95,564.45 C526.12,565.14 526.62,567.06 526.78,567.62 C526.95,568.18 527.44,569.65 527.61,570.05 C527.77,570.45 528.27,571.37 528.44,571.58 C528.6,571.78 529.1,572.1 529.26,572.1 C529.43,572.1 529.92,571.78 530.09,571.58 C530.25,571.37 530.75,570.45 530.92,570.05 C531.08,569.65 531.58,568.18 531.74,567.62 C531.91,567.06 532.41,565.14 532.57,564.45 C532.74,563.76 533.23,561.52 533.4,560.76 C533.56,559.99 534.06,557.52 534.22,556.8 C534.39,556.08 534.89,554.15 535.05,553.51 C535.22,552.88 535.71,551.02 535.88,550.45 C536.04,549.88 536.54,548.28 536.71,547.82 C536.87,547.35 537.37,546.13 537.53,545.8 C537.7,545.47 538.19,544.7 538.36,544.53 C538.53,544.36 539.02,544.1 539.19,544.1 C539.35,544.1 539.85,544.36 540.01,544.53 C540.18,544.7 540.68,545.47 540.84,545.8 C541.01,546.13 541.5,547.35 541.67,547.82 C541.83,548.28 542.33,549.88 542.5,550.45 C542.66,551.02 543.16,552.88 543.32,553.51 C543.49,554.15 543.98,556.08 544.15,556.8 C544.32,557.52 544.81,559.99 544.98,560.76 C545.14,561.52 545.64,563.76 545.8,564.45 C545.97,565.14 546.47,567.06 546.63,567.62 C546.8,568.18 547.29,569.65 547.46,570.05 C547.62,570.45 548.12,571.37 548.29,571.58 C548.45,571.78 548.95,572.1 549.11,572.1 C549.28,572.1 549.77,571.78 549.94,571.58 C550.11,571.37 550.6,570.45 550.77,570.05 C550.93,569.65 551.43,568.18 551.59,567.62 C551.76,567.06 552.26,565.14 552.42,564.45 C552.59,563.76 553.08,561.52 553.25,560.76 C553.41,559.99 553.91,557.52 554.07,556.8 C554.24,556.08 554.74,554.15 554.9,553.51 C555.07,552.88 555.56,551.02 555.73,550.45 C555.89,549.88 556.39,548.28 556.56,547.82 C556.72,547.35 557.22,546.13 557.38,545.8 C557.55,545.47 558.05,544.7 558.21,544.53 C558.38,544.36 558.87,544.1 559.04,544.1 C559.2,544.1 559.7,544.36 559.86,544.53 C560.03,544.7 560.53,545.47 560.69,545.8 C560.86,546.13 561.35,547.35 561.52,547.82 C561.68,548.28 562.18,549.88 562.35,550.45 C562.51,551.02 563.01,552.88 563.17,553.51 C563.34,554.15 563.92,556.47 564,556.8" fill="none" stroke="#5f5f5f" stroke-width="1.6" stroke-linejoin="round" stroke-linecap="butt"/>
<path d="M524.3,555.8 C524.38,556.11 524.96,558.31 525.13,558.91 C525.29,559.51 525.79,561.26 525.95,561.8 C526.12,562.34 526.62,563.85 526.78,564.29 C526.95,564.72 527.44,565.88 527.61,566.19 C527.77,566.5 528.27,567.23 528.44,567.39 C528.6,567.55 529.1,567.8 529.26,567.8 C529.43,567.8 529.92,567.55 530.09,567.39 C530.25,567.23 530.75,566.5 530.92,566.19 C531.08,565.88 531.58,564.72 531.74,564.29 C531.91,563.85 532.41,562.34 532.57,561.8 C532.74,561.26 533.23,559.51 533.4,558.91 C533.56,558.31 534.06,556.43 534.22,555.8 C534.39,555.17 534.89,553.21 535.05,552.59 C535.22,551.97 535.71,550.16 535.88,549.6 C536.04,549.04 536.54,547.49 536.71,547.03 C536.87,546.58 537.37,545.38 537.53,545.06 C537.7,544.74 538.19,543.99 538.36,543.82 C538.53,543.66 539.02,543.4 539.19,543.4 C539.35,543.4 539.85,543.66 540.01,543.82 C540.18,543.99 540.68,544.74 540.84,545.06 C541.01,545.38 541.5,546.58 541.67,547.03 C541.83,547.49 542.33,549.04 542.5,549.6 C542.66,550.16 543.16,551.97 543.32,552.59 C543.49,553.21 543.98,555.17 544.15,555.8 C544.32,556.43 544.81,558.31 544.98,558.91 C545.14,559.51 545.64,561.26 545.8,561.8 C545.97,562.34 546.47,563.85 546.63,564.29 C546.8,564.72 547.29,565.88 547.46,566.19 C547.62,566.5 548.12,567.23 548.29,567.39 C548.45,567.55 548.95,567.8 549.11,567.8 C549.28,567.8 549.77,567.55 549.94,567.39 C550.11,567.23 550.6,566.5 550.77,566.19 C550.93,565.88 551.43,564.72 551.59,564.29 C551.76,563.85 552.26,562.34 552.42,561.8 C552.59,561.26 553.08,559.51 553.25,558.91 C553.41,558.31 553.91,556.43 554.07,555.8 C554.24,555.17 554.74,553.21 554.9,552.59 C555.07,551.97 555.56,550.16 555.73,549.6 C555.89,549.04 556.39,547.49 556.56,547.03 C556.72,546.58 557.22,545.38 557.38,545.06 C557.55,544.74 558.05,543.99 558.21,543.82 C558.38,543.66 558.87,543.4 559.04,543.4 C559.2,543.4 559.7,543.66 559.86,543.82 C560.03,543.99 560.53,544.74 560.69,545.06 C560.86,545.38 561.35,546.58 561.52,547.03 C561.68,547.49 562.18,549.04 562.35,549.6 C562.51,550.16 563.01,551.97 563.17,552.59 C563.34,553.21 563.92,555.48 564,555.8 L564,557.8 C563.92,557.48 563.34,555.21 563.17,554.59 C563.01,553.97 562.51,552.16 562.35,551.6 C562.18,551.04 561.68,549.49 561.52,549.03 C561.35,548.58 560.86,547.38 560.69,547.06 C560.53,546.74 560.03,545.99 559.86,545.82 C559.7,545.66 559.2,545.4 559.04,545.4 C558.87,545.4 558.38,545.66 558.21,545.82 C558.05,545.99 557.55,546.74 557.38,547.06 C557.22,547.38 556.72,548.58 556.56,549.03 C556.39,549.49 555.89,551.04 555.73,551.6 C555.56,552.16 555.07,553.97 554.9,554.59 C554.74,555.21 554.24,557.17 554.07,557.8 C553.91,558.43 553.41,560.31 553.25,560.91 C553.08,561.51 552.59,563.26 552.42,563.8 C552.26,564.34 551.76,565.85 551.59,566.29 C551.43,566.72 550.93,567.88 550.77,568.19 C550.6,568.5 550.11,569.23 549.94,569.39 C549.77,569.55 549.28,569.8 549.11,569.8 C548.95,569.8 548.45,569.55 548.29,569.39 C548.12,569.23 547.62,568.5 547.46,568.19 C547.29,567.88 546.8,566.72 546.63,566.29 C546.47,565.85 545.97,564.34 545.8,563.8 C545.64,563.26 545.14,561.51 544.98,560.91 C544.81,560.31 544.32,558.43 544.15,557.8 C543.98,557.17 543.49,555.21 543.32,554.59 C543.16,553.97 542.66,552.16 542.5,551.6 C542.33,551.04 541.83,549.49 541.67,549.03 C541.5,548.58 541.01,547.38 540.84,547.06 C540.68,546.74 540.18,545.99 540.01,545.82 C539.85,545.66 539.35,545.4 539.19,545.4 C539.02,545.4 538.53,545.66 538.36,545.82 C538.19,545.99 537.7,546.74 537.53,547.06 C537.37,547.38 536.87,548.58 536.71,549.03 C536.54,549.49 536.04,551.04 535.88,551.6 C535.71,552.16 535.22,553.97 535.05,554.59 C534.89,555.21 534.39,557.17 534.22,557.8 C534.06,558.43 533.56,560.31 533.4,560.91 C533.23,561.51 532.74,563.26 532.57,563.8 C532.41,564.34 531.91,565.85 531.74,566.29 C531.58,566.72 531.08,567.88 530.92,568.19 C530.75,568.5 530.25,569.23 530.09,569.39 C529.92,569.55 529.43,569.8 529.26,569.8 C529.1,569.8 528.6,569.55 528.44,569.39 C528.27,569.23 527.77,568.5 527.61,568.19 C527.44,567.88 526.95,566.72 526.78,566.29 C526.62,565.85 526.12,564.34 525.95,563.8 C525.79,563.26 525.29,561.51 525.13,560.91 C524.96,560.31 524.38,558.11 524.3,557.8 Z" fill="#0e9a9e" opacity="0.27" stroke="none"/><path d="M524.3,556.8 C524.38,557.11 524.96,559.31 525.13,559.91 C525.29,560.51 525.79,562.26 525.95,562.8 C526.12,563.34 526.62,564.85 526.78,565.29 C526.95,565.72 527.44,566.88 527.61,567.19 C527.77,567.5 528.27,568.23 528.44,568.39 C528.6,568.55 529.1,568.8 529.26,568.8 C529.43,568.8 529.92,568.55 530.09,568.39 C530.25,568.23 530.75,567.5 530.92,567.19 C531.08,566.88 531.58,565.72 531.74,565.29 C531.91,564.85 532.41,563.34 532.57,562.8 C532.74,562.26 533.23,560.51 533.4,559.91 C533.56,559.31 534.06,557.43 534.22,556.8 C534.39,556.17 534.89,554.21 535.05,553.59 C535.22,552.97 535.71,551.16 535.88,550.6 C536.04,550.04 536.54,548.49 536.71,548.03 C536.87,547.58 537.37,546.38 537.53,546.06 C537.7,545.74 538.19,544.99 538.36,544.82 C538.53,544.66 539.02,544.4 539.19,544.4 C539.35,544.4 539.85,544.66 540.01,544.82 C540.18,544.99 540.68,545.74 540.84,546.06 C541.01,546.38 541.5,547.58 541.67,548.03 C541.83,548.49 542.33,550.04 542.5,550.6 C542.66,551.16 543.16,552.97 543.32,553.59 C543.49,554.21 543.98,556.17 544.15,556.8 C544.32,557.43 544.81,559.31 544.98,559.91 C545.14,560.51 545.64,562.26 545.8,562.8 C545.97,563.34 546.47,564.85 546.63,565.29 C546.8,565.72 547.29,566.88 547.46,567.19 C547.62,567.5 548.12,568.23 548.29,568.39 C548.45,568.55 548.95,568.8 549.11,568.8 C549.28,568.8 549.77,568.55 549.94,568.39 C550.11,568.23 550.6,567.5 550.77,567.19 C550.93,566.88 551.43,565.72 551.59,565.29 C551.76,564.85 552.26,563.34 552.42,562.8 C552.59,562.26 553.08,560.51 553.25,559.91 C553.41,559.31 553.91,557.43 554.07,556.8 C554.24,556.17 554.74,554.21 554.9,553.59 C555.07,552.97 555.56,551.16 555.73,550.6 C555.89,550.04 556.39,548.49 556.56,548.03 C556.72,547.58 557.22,546.38 557.38,546.06 C557.55,545.74 558.05,544.99 558.21,544.82 C558.38,544.66 558.87,544.4 559.04,544.4 C559.2,544.4 559.7,544.66 559.86,544.82 C560.03,544.99 560.53,545.74 560.69,546.06 C560.86,546.38 561.35,547.58 561.52,548.03 C561.68,548.49 562.18,550.04 562.35,550.6 C562.51,551.16 563.01,552.97 563.17,553.59 C563.34,554.21 563.92,556.48 564,556.8" fill="none" stroke="#0e9a9e" stroke-width="1.6" stroke-linejoin="round" stroke-linecap="butt"/>
<line x1="524.3" y1="513.5" x2="524.3" y2="599.8" stroke="#222" stroke-width="0.6"/>
<line x1="524.3" y1="599.8" x2="564.3" y2="599.8" stroke="#222" stroke-width="0.6"/>
<line x1="524.9" y1="599.8" x2="524.9" y2="601.4" stroke="#222" stroke-width="0.6"/>
<text x="524.9" y="608.2" font-size="7.2" text-anchor="middle">0</text>
<line x1="544.15" y1="599.8" x2="544.15" y2="601.4" stroke="#222" stroke-width="0.6"/>
<text x="544.15" y="608.2" font-size="7.2" text-anchor="middle">1</text>
<line x1="564" y1="599.8" x2="564" y2="601.4" stroke="#222" stroke-width="0.6"/>
<text x="564" y="608.2" font-size="7.2" text-anchor="middle">2</text>
<line x1="522.5" y1="513.5" x2="524.3" y2="513.5" stroke="#222" stroke-width="0.6"/>
<text x="521.3" y="516.05" font-size="7.2" text-anchor="end">1</text>
<line x1="522.5" y1="534.9" x2="524.3" y2="534.9" stroke="#222" stroke-width="0.6"/>
<line x1="522.5" y1="556.8" x2="524.3" y2="556.8" stroke="#222" stroke-width="0.6"/>
<text x="521.3" y="559.35" font-size="7.2" text-anchor="end">0</text>
<line x1="522.5" y1="578.4" x2="524.3" y2="578.4" stroke="#222" stroke-width="0.6"/>
<line x1="522.5" y1="599.8" x2="524.3" y2="599.8" stroke="#222" stroke-width="0.6"/>
<text x="521.3" y="602.35" font-size="7.2" text-anchor="end">−1</text>
<rect x="572.5" y="513.5" width="40.1" height="86.3" fill="#fce3e0"/>
<line x1="592.5" y1="513.5" x2="592.5" y2="599.8" stroke="#9a9a9a" stroke-width="0.5"/>
<line x1="612.6" y1="513.5" x2="612.6" y2="599.8" stroke="#9a9a9a" stroke-width="0.5"/>
<path d="M572.5,555.6 C572.58,556.24 573.17,560.78 573.34,562.02 C573.5,563.26 574,566.89 574.17,568 C574.34,569.11 574.84,572.23 575.01,573.14 C575.17,574.04 575.67,576.44 575.84,577.08 C576.01,577.72 576.51,579.22 576.68,579.55 C576.84,579.89 577.35,580.4 577.51,580.4 C577.68,580.4 578.18,579.89 578.35,579.55 C578.52,579.22 579.02,577.72 579.18,577.08 C579.35,576.44 579.85,574.04 580.02,573.14 C580.19,572.23 580.69,569.11 580.85,568 C581.02,566.89 581.52,563.26 581.69,562.02 C581.86,560.78 582.36,556.69 582.52,555.6 C582.69,554.51 583.19,552.01 583.36,551.15 C583.53,550.29 584.03,547.77 584.2,547 C584.36,546.23 584.86,544.07 585.03,543.44 C585.2,542.81 585.7,541.15 585.87,540.7 C586.03,540.26 586.53,539.22 586.7,538.99 C586.87,538.76 587.37,538.4 587.54,538.4 C587.7,538.4 588.21,538.76 588.37,538.99 C588.54,539.22 589.04,540.26 589.21,540.7 C589.38,541.15 589.88,542.81 590.04,543.44 C590.21,544.07 590.71,546.23 590.88,547 C591.05,547.77 591.55,550.29 591.71,551.15 C591.88,552.01 592.38,554.51 592.55,555.6 C592.72,556.69 593.22,560.78 593.39,562.02 C593.55,563.26 594.05,566.89 594.22,568 C594.39,569.11 594.89,572.23 595.06,573.14 C595.22,574.04 595.72,576.44 595.89,577.08 C596.06,577.72 596.56,579.22 596.73,579.55 C596.89,579.89 597.4,580.4 597.56,580.4 C597.73,580.4 598.23,579.89 598.4,579.55 C598.57,579.22 599.07,577.72 599.23,577.08 C599.4,576.44 599.9,574.04 600.07,573.14 C600.24,572.23 600.74,569.11 600.9,568 C601.07,566.89 601.57,563.26 601.74,562.02 C601.91,560.78 602.41,556.69 602.58,555.6 C602.74,554.51 603.24,552.01 603.41,551.15 C603.58,550.29 604.08,547.77 604.25,547 C604.41,546.23 604.91,544.07 605.08,543.44 C605.25,542.81 605.75,541.15 605.92,540.7 C606.08,540.26 606.59,539.22 606.75,538.99 C606.92,538.76 607.42,538.4 607.59,538.4 C607.75,538.4 608.26,538.76 608.42,538.99 C608.59,539.22 609.09,540.26 609.26,540.7 C609.43,541.15 609.93,542.81 610.09,543.44 C610.26,544.07 610.76,546.23 610.93,547 C611.1,547.77 611.6,550.29 611.76,551.15 C611.93,552.01 612.52,555.15 612.6,555.6 L612.6,558 C612.52,557.55 611.93,554.41 611.76,553.55 C611.6,552.69 611.1,550.17 610.93,549.4 C610.76,548.63 610.26,546.47 610.09,545.84 C609.93,545.21 609.43,543.55 609.26,543.1 C609.09,542.66 608.59,541.62 608.42,541.39 C608.26,541.16 607.75,540.8 607.59,540.8 C607.42,540.8 606.92,541.16 606.75,541.39 C606.59,541.62 606.08,542.66 605.92,543.1 C605.75,543.55 605.25,545.21 605.08,545.84 C604.91,546.47 604.41,548.63 604.25,549.4 C604.08,550.17 603.58,552.69 603.41,553.55 C603.24,554.41 602.74,556.91 602.58,558 C602.41,559.09 601.91,563.18 601.74,564.42 C601.57,565.66 601.07,569.29 600.9,570.4 C600.74,571.51 600.24,574.63 600.07,575.54 C599.9,576.44 599.4,578.84 599.23,579.48 C599.07,580.12 598.57,581.62 598.4,581.95 C598.23,582.29 597.73,582.8 597.56,582.8 C597.4,582.8 596.89,582.29 596.73,581.95 C596.56,581.62 596.06,580.12 595.89,579.48 C595.72,578.84 595.22,576.44 595.06,575.54 C594.89,574.63 594.39,571.51 594.22,570.4 C594.05,569.29 593.55,565.66 593.39,564.42 C593.22,563.18 592.72,559.09 592.55,558 C592.38,556.91 591.88,554.41 591.71,553.55 C591.55,552.69 591.05,550.17 590.88,549.4 C590.71,548.63 590.21,546.47 590.04,545.84 C589.88,545.21 589.38,543.55 589.21,543.1 C589.04,542.66 588.54,541.62 588.37,541.39 C588.21,541.16 587.7,540.8 587.54,540.8 C587.37,540.8 586.87,541.16 586.7,541.39 C586.53,541.62 586.03,542.66 585.87,543.1 C585.7,543.55 585.2,545.21 585.03,545.84 C584.86,546.47 584.36,548.63 584.2,549.4 C584.03,550.17 583.53,552.69 583.36,553.55 C583.19,554.41 582.69,556.91 582.52,558 C582.36,559.09 581.86,563.18 581.69,564.42 C581.52,565.66 581.02,569.29 580.85,570.4 C580.69,571.51 580.19,574.63 580.02,575.54 C579.85,576.44 579.35,578.84 579.18,579.48 C579.02,580.12 578.52,581.62 578.35,581.95 C578.18,582.29 577.68,582.8 577.51,582.8 C577.35,582.8 576.84,582.29 576.68,581.95 C576.51,581.62 576.01,580.12 575.84,579.48 C575.67,578.84 575.17,576.44 575.01,575.54 C574.84,574.63 574.34,571.51 574.17,570.4 C574,569.29 573.5,565.66 573.34,564.42 C573.17,563.18 572.58,558.64 572.5,558 Z" fill="#5f5f5f" opacity="0.27" stroke="none"/><path d="M572.5,556.8 C572.58,557.44 573.17,561.98 573.34,563.22 C573.5,564.46 574,568.09 574.17,569.2 C574.34,570.31 574.84,573.43 575.01,574.34 C575.17,575.24 575.67,577.64 575.84,578.28 C576.01,578.92 576.51,580.42 576.68,580.75 C576.84,581.09 577.35,581.6 577.51,581.6 C577.68,581.6 578.18,581.09 578.35,580.75 C578.52,580.42 579.02,578.92 579.18,578.28 C579.35,577.64 579.85,575.24 580.02,574.34 C580.19,573.43 580.69,570.31 580.85,569.2 C581.02,568.09 581.52,564.46 581.69,563.22 C581.86,561.98 582.36,557.89 582.52,556.8 C582.69,555.71 583.19,553.21 583.36,552.35 C583.53,551.49 584.03,548.97 584.2,548.2 C584.36,547.43 584.86,545.27 585.03,544.64 C585.2,544.01 585.7,542.35 585.87,541.9 C586.03,541.46 586.53,540.42 586.7,540.19 C586.87,539.96 587.37,539.6 587.54,539.6 C587.7,539.6 588.21,539.96 588.37,540.19 C588.54,540.42 589.04,541.46 589.21,541.9 C589.38,542.35 589.88,544.01 590.04,544.64 C590.21,545.27 590.71,547.43 590.88,548.2 C591.05,548.97 591.55,551.49 591.71,552.35 C591.88,553.21 592.38,555.71 592.55,556.8 C592.72,557.89 593.22,561.98 593.39,563.22 C593.55,564.46 594.05,568.09 594.22,569.2 C594.39,570.31 594.89,573.43 595.06,574.34 C595.22,575.24 595.72,577.64 595.89,578.28 C596.06,578.92 596.56,580.42 596.73,580.75 C596.89,581.09 597.4,581.6 597.56,581.6 C597.73,581.6 598.23,581.09 598.4,580.75 C598.57,580.42 599.07,578.92 599.23,578.28 C599.4,577.64 599.9,575.24 600.07,574.34 C600.24,573.43 600.74,570.31 600.9,569.2 C601.07,568.09 601.57,564.46 601.74,563.22 C601.91,561.98 602.41,557.89 602.58,556.8 C602.74,555.71 603.24,553.21 603.41,552.35 C603.58,551.49 604.08,548.97 604.25,548.2 C604.41,547.43 604.91,545.27 605.08,544.64 C605.25,544.01 605.75,542.35 605.92,541.9 C606.08,541.46 606.59,540.42 606.75,540.19 C606.92,539.96 607.42,539.6 607.59,539.6 C607.75,539.6 608.26,539.96 608.42,540.19 C608.59,540.42 609.09,541.46 609.26,541.9 C609.43,542.35 609.93,544.01 610.09,544.64 C610.26,545.27 610.76,547.43 610.93,548.2 C611.1,548.97 611.6,551.49 611.76,552.35 C611.93,553.21 612.52,556.35 612.6,556.8" fill="none" stroke="#5f5f5f" stroke-width="1.6" stroke-linejoin="round" stroke-linecap="butt"/>
<path d="M572.5,555.6 C572.58,555.91 573.17,558.11 573.34,558.71 C573.5,559.31 574,561.06 574.17,561.6 C574.34,562.14 574.84,563.65 575.01,564.09 C575.17,564.52 575.67,565.68 575.84,565.99 C576.01,566.3 576.51,567.03 576.68,567.19 C576.84,567.35 577.35,567.6 577.51,567.6 C577.68,567.6 578.18,567.35 578.35,567.19 C578.52,567.03 579.02,566.3 579.18,565.99 C579.35,565.68 579.85,564.52 580.02,564.09 C580.19,563.65 580.69,562.14 580.85,561.6 C581.02,561.06 581.52,559.31 581.69,558.71 C581.86,558.11 582.36,556.17 582.52,555.6 C582.69,555.03 583.19,553.51 583.36,553.01 C583.53,552.51 584.03,551.05 584.2,550.6 C584.36,550.15 584.86,548.89 585.03,548.53 C585.2,548.16 585.7,547.2 585.87,546.94 C586.03,546.68 586.53,546.07 586.7,545.94 C586.87,545.81 587.37,545.6 587.54,545.6 C587.7,545.6 588.21,545.81 588.37,545.94 C588.54,546.07 589.04,546.68 589.21,546.94 C589.38,547.2 589.88,548.16 590.04,548.53 C590.21,548.89 590.71,550.15 590.88,550.6 C591.05,551.05 591.55,552.51 591.71,553.01 C591.88,553.51 592.38,555.03 592.55,555.6 C592.72,556.17 593.22,558.11 593.39,558.71 C593.55,559.31 594.05,561.06 594.22,561.6 C594.39,562.14 594.89,563.65 595.06,564.09 C595.22,564.52 595.72,565.68 595.89,565.99 C596.06,566.3 596.56,567.03 596.73,567.19 C596.89,567.35 597.4,567.6 597.56,567.6 C597.73,567.6 598.23,567.35 598.4,567.19 C598.57,567.03 599.07,566.3 599.23,565.99 C599.4,565.68 599.9,564.52 600.07,564.09 C600.24,563.65 600.74,562.14 600.9,561.6 C601.07,561.06 601.57,559.31 601.74,558.71 C601.91,558.11 602.41,556.17 602.58,555.6 C602.74,555.03 603.24,553.51 603.41,553.01 C603.58,552.51 604.08,551.05 604.25,550.6 C604.41,550.15 604.91,548.89 605.08,548.53 C605.25,548.16 605.75,547.2 605.92,546.94 C606.08,546.68 606.59,546.07 606.75,545.94 C606.92,545.81 607.42,545.6 607.59,545.6 C607.75,545.6 608.26,545.81 608.42,545.94 C608.59,546.07 609.09,546.68 609.26,546.94 C609.43,547.2 609.93,548.16 610.09,548.53 C610.26,548.89 610.76,550.15 610.93,550.6 C611.1,551.05 611.6,552.51 611.76,553.01 C611.93,553.51 612.52,555.34 612.6,555.6 L612.6,558 C612.52,557.74 611.93,555.91 611.76,555.41 C611.6,554.91 611.1,553.45 610.93,553 C610.76,552.55 610.26,551.29 610.09,550.93 C609.93,550.56 609.43,549.6 609.26,549.34 C609.09,549.08 608.59,548.47 608.42,548.34 C608.26,548.21 607.75,548 607.59,548 C607.42,548 606.92,548.21 606.75,548.34 C606.59,548.47 606.08,549.08 605.92,549.34 C605.75,549.6 605.25,550.56 605.08,550.93 C604.91,551.29 604.41,552.55 604.25,553 C604.08,553.45 603.58,554.91 603.41,555.41 C603.24,555.91 602.74,557.43 602.58,558 C602.41,558.57 601.91,560.51 601.74,561.11 C601.57,561.71 601.07,563.46 600.9,564 C600.74,564.54 600.24,566.05 600.07,566.49 C599.9,566.92 599.4,568.08 599.23,568.39 C599.07,568.7 598.57,569.43 598.4,569.59 C598.23,569.75 597.73,570 597.56,570 C597.4,570 596.89,569.75 596.73,569.59 C596.56,569.43 596.06,568.7 595.89,568.39 C595.72,568.08 595.22,566.92 595.06,566.49 C594.89,566.05 594.39,564.54 594.22,564 C594.05,563.46 593.55,561.71 593.39,561.11 C593.22,560.51 592.72,558.57 592.55,558 C592.38,557.43 591.88,555.91 591.71,555.41 C591.55,554.91 591.05,553.45 590.88,553 C590.71,552.55 590.21,551.29 590.04,550.93 C589.88,550.56 589.38,549.6 589.21,549.34 C589.04,549.08 588.54,548.47 588.37,548.34 C588.21,548.21 587.7,548 587.54,548 C587.37,548 586.87,548.21 586.7,548.34 C586.53,548.47 586.03,549.08 585.87,549.34 C585.7,549.6 585.2,550.56 585.03,550.93 C584.86,551.29 584.36,552.55 584.2,553 C584.03,553.45 583.53,554.91 583.36,555.41 C583.19,555.91 582.69,557.43 582.52,558 C582.36,558.57 581.86,560.51 581.69,561.11 C581.52,561.71 581.02,563.46 580.85,564 C580.69,564.54 580.19,566.05 580.02,566.49 C579.85,566.92 579.35,568.08 579.18,568.39 C579.02,568.7 578.52,569.43 578.35,569.59 C578.18,569.75 577.68,570 577.51,570 C577.35,570 576.84,569.75 576.68,569.59 C576.51,569.43 576.01,568.7 575.84,568.39 C575.67,568.08 575.17,566.92 575.01,566.49 C574.84,566.05 574.34,564.54 574.17,564 C574,563.46 573.5,561.71 573.34,561.11 C573.17,560.51 572.58,558.31 572.5,558 Z" fill="#0e9a9e" opacity="0.27" stroke="none"/><path d="M572.5,556.8 C572.58,557.11 573.17,559.31 573.34,559.91 C573.5,560.51 574,562.26 574.17,562.8 C574.34,563.34 574.84,564.85 575.01,565.29 C575.17,565.72 575.67,566.88 575.84,567.19 C576.01,567.5 576.51,568.23 576.68,568.39 C576.84,568.55 577.35,568.8 577.51,568.8 C577.68,568.8 578.18,568.55 578.35,568.39 C578.52,568.23 579.02,567.5 579.18,567.19 C579.35,566.88 579.85,565.72 580.02,565.29 C580.19,564.85 580.69,563.34 580.85,562.8 C581.02,562.26 581.52,560.51 581.69,559.91 C581.86,559.31 582.36,557.37 582.52,556.8 C582.69,556.23 583.19,554.71 583.36,554.21 C583.53,553.71 584.03,552.25 584.2,551.8 C584.36,551.35 584.86,550.09 585.03,549.73 C585.2,549.36 585.7,548.4 585.87,548.14 C586.03,547.88 586.53,547.27 586.7,547.14 C586.87,547.01 587.37,546.8 587.54,546.8 C587.7,546.8 588.21,547.01 588.37,547.14 C588.54,547.27 589.04,547.88 589.21,548.14 C589.38,548.4 589.88,549.36 590.04,549.73 C590.21,550.09 590.71,551.35 590.88,551.8 C591.05,552.25 591.55,553.71 591.71,554.21 C591.88,554.71 592.38,556.23 592.55,556.8 C592.72,557.37 593.22,559.31 593.39,559.91 C593.55,560.51 594.05,562.26 594.22,562.8 C594.39,563.34 594.89,564.85 595.06,565.29 C595.22,565.72 595.72,566.88 595.89,567.19 C596.06,567.5 596.56,568.23 596.73,568.39 C596.89,568.55 597.4,568.8 597.56,568.8 C597.73,568.8 598.23,568.55 598.4,568.39 C598.57,568.23 599.07,567.5 599.23,567.19 C599.4,566.88 599.9,565.72 600.07,565.29 C600.24,564.85 600.74,563.34 600.9,562.8 C601.07,562.26 601.57,560.51 601.74,559.91 C601.91,559.31 602.41,557.37 602.58,556.8 C602.74,556.23 603.24,554.71 603.41,554.21 C603.58,553.71 604.08,552.25 604.25,551.8 C604.41,551.35 604.91,550.09 605.08,549.73 C605.25,549.36 605.75,548.4 605.92,548.14 C606.08,547.88 606.59,547.27 606.75,547.14 C606.92,547.01 607.42,546.8 607.59,546.8 C607.75,546.8 608.26,547.01 608.42,547.14 C608.59,547.27 609.09,547.88 609.26,548.14 C609.43,548.4 609.93,549.36 610.09,549.73 C610.26,550.09 610.76,551.35 610.93,551.8 C611.1,552.25 611.6,553.71 611.76,554.21 C611.93,554.71 612.52,556.54 612.6,556.8" fill="none" stroke="#0e9a9e" stroke-width="1.6" stroke-linejoin="round" stroke-linecap="butt"/>
<line x1="572.5" y1="513.5" x2="572.5" y2="599.8" stroke="#222" stroke-width="0.6"/>
<line x1="572.5" y1="599.8" x2="612.9" y2="599.8" stroke="#222" stroke-width="0.6"/>
<line x1="573.1" y1="599.8" x2="573.1" y2="601.4" stroke="#222" stroke-width="0.6"/>
<text x="573.1" y="608.2" font-size="7.2" text-anchor="middle">0</text>
<line x1="592.5" y1="599.8" x2="592.5" y2="601.4" stroke="#222" stroke-width="0.6"/>
<text x="592.5" y="608.2" font-size="7.2" text-anchor="middle">1</text>
<line x1="612.6" y1="599.8" x2="612.6" y2="601.4" stroke="#222" stroke-width="0.6"/>
<text x="612.6" y="608.2" font-size="7.2" text-anchor="middle">2</text>
<line x1="570.7" y1="513.5" x2="572.5" y2="513.5" stroke="#222" stroke-width="0.6"/>
<line x1="570.7" y1="534.9" x2="572.5" y2="534.9" stroke="#222" stroke-width="0.6"/>
<line x1="570.7" y1="556.8" x2="572.5" y2="556.8" stroke="#222" stroke-width="0.6"/>
<line x1="570.7" y1="578.4" x2="572.5" y2="578.4" stroke="#222" stroke-width="0.6"/>
<line x1="570.7" y1="599.8" x2="572.5" y2="599.8" stroke="#222" stroke-width="0.6"/>
<text x="544.6" y="511.4" font-size="8.8" text-anchor="middle">Forward</text>
<text x="594.2" y="511.4" font-size="8.8" text-anchor="middle">Reverse</text>
<text x="569" y="620" font-size="8.8" text-anchor="middle">Head swings</text>
<text x="508.8" y="555.5" font-size="8.9" text-anchor="middle" transform="rotate(-90 508.8 555.5)">Head curvature (rad)</text>
<text x="570.3" y="500.2" font-size="8.8" text-anchor="middle">Head curvature</text>
<line x1="607.9" y1="493.1" x2="614.4" y2="493.1" stroke="#5f5f5f" stroke-width="1.2"/><text x="618.5" y="495.62" font-size="7">WT <tspan font-style="italic">n</tspan> = 32</text><line x1="607.9" y1="501.2" x2="614.4" y2="501.2" stroke="#0e9a9e" stroke-width="1.2"/><text x="618.5" y="503.72" font-size="7"><tspan font-style="italic">tdc-1 n</tspan> = 15<tspan font-style="italic">n</tspan> = 17</text>
<text x="246.5" y="639" font-size="11.5" fill="#000" font-weight="bold">f</text>
<path d="M327.37,649.71 L302.2,682.33" fill="none" stroke="#111" stroke-width="1.5"/><path d="M300,685.18 L300.77,681.23 L303.62,683.43 Z" fill="#111"/>
<path d="M303.28,687.81 L327.41,655.23" fill="none" stroke="#111" stroke-width="1.5"/><path d="M329.56,652.33 L328.86,656.3 L325.97,654.16 Z" fill="#111"/>
<path d="M329.12,651.46 L299.55,714.76" fill="none" stroke="#111" stroke-width="1.5"/><path d="M298.03,718.02 L297.92,714 L301.18,715.52 Z" fill="#111"/>
<path d="M301.97,719.77 L330.66,658.22" fill="none" stroke="#111" stroke-width="1.5"/><path d="M332.19,654.96 L332.3,658.99 L329.03,657.46 Z" fill="#111"/>
<path d="M339.63,650.58 L365.23,678.58" fill="none" stroke="#111" stroke-width="1.5"/><path d="M367.66,681.24 L363.9,679.79 L366.56,677.37 Z" fill="#111"/>
<path d="M338.1,651.9 L369.75,726.53" fill="none" stroke="#111" stroke-width="1.5"/><path d="M371.16,729.85 L368.1,727.24 L371.41,725.83 Z" fill="#111"/>
<path d="M260.97,689.04 L281.28,716.03" fill="none" stroke="#111" stroke-width="1.5"/><path d="M283.45,718.91 L279.84,717.11 L282.72,714.95 Z" fill="#111"/>
<path d="M259.68,735.61 L281,712.56" fill="none" stroke="#111" stroke-width="1.5"/><path d="M283.45,709.92 L282.32,713.78 L279.68,711.34 Z" fill="#111"/>
<path d="M305.03,725.47 L363.52,698.3" fill="none" stroke="#111" stroke-width="1.5"/><path d="M366.78,696.78 L364.27,699.93 L362.76,696.67 Z" fill="#111"/>
<path d="M302.84,703.13 L363.66,733.75" fill="none" stroke="#111" stroke-width="0.8"/><path d="M366.34,735.1 L362.99,735.09 L364.34,732.41 Z" fill="#111"/>
<path d="M398.31,712.33 L308,699.19" fill="none" stroke="#111" stroke-width="0.8"/><path d="M305.03,698.75 L308.22,697.7 L307.79,700.67 Z" fill="#111"/>
<path d="M399.63,717.58 L377.79,730.29" fill="none" stroke="#111" stroke-width="0.7"/><path d="M375.54,731.6 L377.13,729.17 L378.44,731.41 Z" fill="#111"/>
<path d="M333.5,692.4 Q327.37,717.58 331.49,738.58" fill="none" stroke="#111" stroke-width="1.5"/><path d="M332.19,742.11 L329.73,738.92 L333.26,738.23 Z" fill="#111"/>
<path d="M340.07,742.77 Q346.2,717.58 341.33,697" fill="none" stroke="#111" stroke-width="1.5"/><path d="M340.51,693.5 L343.09,696.59 L339.58,697.42 Z" fill="#111"/>
<path d="M334.6,692.4 L334.6,715.33 L333,716.23 L336.2,717.13 L333,718.03 L336.2,718.93 L334.6,719.83 L334.6,742.77" fill="none" stroke="#555" stroke-width="0.8" stroke-linejoin="miter"/>
<line x1="336.6" y1="692.4" x2="336.6" y2="742.77" stroke="#8a8a8a" stroke-width="0.7"/>
<path d="M375.1,729.85 Q372.04,716.49 373.97,706.67" fill="none" stroke="#111" stroke-width="1.4"/><path d="M374.66,703.13 L375.74,707.01 L372.2,706.32 Z" fill="#111"/>
<path d="M379.48,702.26 Q382.55,716.49 380.61,726.31" fill="none" stroke="#111" stroke-width="1.4"/><path d="M379.92,729.85 L378.85,725.97 L382.38,726.66 Z" fill="#111"/>
<path d="M366.34,740.79 L353.77,746.18" fill="none" stroke="#111" stroke-width="0.8"/><path d="M351.02,747.36 L353.18,744.8 L354.36,747.56 Z" fill="#111"/>
<path d="M267.39,684.23 L271.33,686.51 L270.99,689.08 L274.26,685.43 L272.72,690.09 L275.99,686.43 L275.65,689.01 L279.59,691.29" fill="none" stroke="#777" stroke-width="1.6" stroke-linejoin="miter"/>
<path d="M265.46,741.39 L270.25,739.21 L272.15,740.98 L271.08,736.2 L273.98,740.15 L272.9,735.37 L274.8,737.14 L279.59,734.96" fill="none" stroke="#777" stroke-width="1.6" stroke-linejoin="miter"/>
<path d="M306.13,693.5 L313.06,691.22 L314.7,692.99 L314.27,688.5 L316.6,692.37 L316.17,687.87 L317.81,689.65 L324.74,687.37" fill="none" stroke="#777" stroke-width="1.3" stroke-linejoin="miter"/>
<path d="M305.03,736.2 L312.88,740.2 L312.86,742.44 L315.57,739.33 L314.64,743.35 L317.35,740.24 L317.33,742.48 L325.18,746.49" fill="none" stroke="#666" stroke-width="1.0" stroke-linejoin="miter"/>
<path d="M351.02,686.49 L356.43,687.4 L357.09,689.53 L358.73,685.75 L359.06,689.86 L360.71,686.08 L361.36,688.22 L366.78,689.12" fill="none" stroke="#888" stroke-width="0.7" stroke-linejoin="miter"/>
<path d="M354.3,749.55 L357.08,748.61 L358.67,750.18 L358.33,746.07 L360.56,749.53 L360.22,745.42 L361.81,747 L364.59,746.05" fill="none" stroke="#999" stroke-width="0.7" stroke-linejoin="miter"/>
<path d="M401.38,723.06 L396.94,725.8 L395.04,724.62 L396.28,728.55 L393.33,725.67 L394.58,729.6 L392.68,728.42 L388.24,731.16" fill="none" stroke="#999" stroke-width="0.7" stroke-linejoin="miter"/>
<rect x="323.14" y="631.67" width="20.8" height="18.4" fill="#e8412f" rx="9.2"/><text x="333.54" y="643.36" font-size="6.9" text-anchor="middle" fill="#222">RIM</text>
<rect x="244.72" y="671.45" width="23.5" height="17.2" fill="#5c9fdd" rx="8.6"/><text x="256.47" y="682.54" font-size="6.9" text-anchor="middle" fill="#222">SMBD</text>
<rect x="242.79" y="734.07" width="23.5" height="17.2" fill="#5c9fdd" rx="8.6"/><text x="254.54" y="745.16" font-size="6.9" text-anchor="middle" fill="#222">SMBV</text>
<rect x="278.58" y="688.47" width="24.5" height="17.2" fill="#f0727f" rx="8.6"/><text x="290.83" y="699.56" font-size="6.9" text-anchor="middle" fill="#222">SAAD</text>
<rect x="278.58" y="720.58" width="24.5" height="17.2" fill="#f0727f" rx="8.6"/><text x="290.83" y="731.67" font-size="6.9" text-anchor="middle" fill="#222">SAAV</text>
<rect x="324.25" y="674.66" width="25" height="17.2" fill="#db559f" rx="8.6"/><text x="336.75" y="685.75" font-size="6.9" text-anchor="middle" fill="#222">RMDD</text>
<rect x="324.25" y="745.63" width="25" height="17.2" fill="#db559f" rx="8.6"/><text x="336.75" y="756.72" font-size="6.9" text-anchor="middle" fill="#222">RMDV</text>
<rect x="365.89" y="682.05" width="26.5" height="17.2" fill="#a96fba" rx="8.6"/><text x="379.14" y="693.13" font-size="6.9" text-anchor="middle" fill="#222">SMDD</text>
<rect x="365.25" y="731.18" width="26.5" height="17.2" fill="#a96fba" rx="8.6"/><text x="378.5" y="742.27" font-size="6.9" text-anchor="middle" fill="#222">SMDV</text>
<rect x="396.19" y="705.49" width="20.5" height="17.2" fill="#8d86c6" rx="8.6"/><text x="406.44" y="716.58" font-size="6.9" text-anchor="middle" fill="#222">RIV</text>
<line x1="257.1" y1="761.3" x2="264.2" y2="761.3" stroke="#5c9fdd" stroke-width="1.2"/>
<text x="268.4" y="763.8" font-size="7.8">Forward</text>
<line x1="257.1" y1="767.7" x2="264.2" y2="767.7" stroke="#f0727f" stroke-width="1.2"/>
<text x="268.4" y="770.2" font-size="7.8">Reverse</text>
<line x1="257.1" y1="774.1" x2="264.2" y2="774.1" stroke="#a96fba" stroke-width="1.2"/>
<text x="268.4" y="776.6" font-size="7.8">Turn</text>
<path d="M268.4,782.3 L276.2,782.3" fill="none" stroke="#111" stroke-width="1.3"/><path d="M279.8,782.3 L276.2,784.1 L276.2,780.5 Z" fill="#111"/>
<text x="282.3" y="784.9" font-size="7.8">Chemical synapse</text>
<path d="M268.6,791.2 L271.6,791.2 L272.6,793.2 L273.6,789.2 L274.6,793.2 L275.6,789.2 L276.6,791.2 L279.6,791.2" fill="none" stroke="#666" stroke-width="0.7" stroke-linejoin="miter"/>
<text x="282.3" y="793.8" font-size="7.8">Gap junction</text>
<text x="409.5" y="636.2" font-size="11.5" fill="#000" font-weight="bold">g</text>
<rect x="448.3" y="639.6" width="14.7" height="196.6" fill="#fce2df"/>
<rect x="497" y="639.6" width="15.4" height="196.6" fill="#fce2df"/>
<text x="456" y="638" font-size="7.3" text-anchor="middle" fill="#f3a9a3">Reverse</text>
<path d="M428.37,664.89 C428.8,665.27 431.77,667.96 432.66,668.72 C433.55,669.49 436.34,671.91 437.26,672.55 C438.18,673.2 441.02,674.75 441.86,675.16 C442.7,675.57 445.08,676.57 445.69,676.69 C446.31,676.81 447.53,677.03 447.99,676.39 C448.45,675.74 449.75,672.09 450.29,670.25 C450.83,668.42 452.74,660.14 453.36,657.99 C453.97,655.85 455.81,650.14 456.42,648.8 C457.04,647.45 458.95,644.96 459.49,644.5 C460.02,644.04 461.28,643.95 461.79,644.2 C462.29,644.44 464.01,645.88 464.55,646.96 C465.08,648.03 466.58,653.21 467.15,654.93 C467.72,656.64 469.53,662.67 470.22,664.12 C470.91,665.58 473.21,668.57 474.05,669.49 C474.89,670.41 477.73,672.66 478.65,673.32 C479.57,673.98 482.33,675.62 483.25,676.08 C484.17,676.54 486.93,677.61 487.84,677.92 C488.76,678.23 491.6,679.02 492.44,679.14 C493.29,679.27 495.66,679.42 496.28,679.14 C496.89,678.87 498.11,677.58 498.57,676.39 C499.03,675.19 500.41,669.33 500.87,667.19 C501.33,665.04 502.67,656.92 503.17,654.93 C503.68,652.93 505.4,648.26 505.93,647.26 C506.47,646.27 508.05,645.19 508.54,644.96 C509.03,644.73 510.33,644.66 510.84,644.96 C511.34,645.27 513.06,647.03 513.6,648.03 C514.13,649.03 515.68,653.47 516.2,654.93 C516.72,656.38 518.27,661.36 518.81,662.59 C519.34,663.82 520.91,666.3 521.57,667.19 C522.23,668.08 525.02,671.05 525.4,671.48" fill="none" stroke="#e8412f" stroke-width="1.5" stroke-linejoin="round" stroke-linecap="butt"/>
<path d="M428.37,700.14 C428.65,700.19 430.7,700.99 431.13,700.6 C431.56,700.22 432.39,697.97 432.66,696.31 C432.94,694.66 433.65,685.66 433.89,684.05 C434.14,682.44 434.87,679.76 435.12,680.22 C435.36,680.68 436.1,687.35 436.34,688.65 C436.59,689.95 437.32,693.09 437.57,693.25 C437.81,693.4 438.55,691.48 438.8,690.18 C439.04,688.88 439.78,681.47 440.02,680.22 C440.27,678.96 441,677.23 441.25,677.61 C441.49,678 442.23,682.64 442.47,684.05 C442.72,685.46 443.42,690.82 443.7,691.71 C443.98,692.6 444.93,693.25 445.23,692.94 C445.54,692.63 446.46,689.2 446.77,688.65 C447.07,688.1 447.95,687.35 448.3,687.42 C448.65,687.5 449.86,688.83 450.29,689.41 C450.72,690 452.05,692.56 452.59,693.25 C453.13,693.94 454.97,695.82 455.66,696.31 C456.35,696.8 458.72,697.84 459.49,698.15 C460.25,698.46 462.55,699.13 463.32,699.38 C464.09,699.62 466.46,700.48 467.15,700.6 C467.84,700.73 469.71,701.03 470.22,700.6 C470.72,700.17 471.86,697.58 472.21,696.31 C472.56,695.04 473.47,688.83 473.74,687.88 C474.02,686.93 474.72,686.46 474.97,686.81 C475.21,687.16 475.97,690.89 476.2,691.41 C476.43,691.93 477.05,693.22 477.27,692.02 C477.48,690.82 478.11,680.89 478.34,679.45 C478.57,678.01 479.32,677.31 479.57,677.61 C479.81,677.92 480.55,681.49 480.79,682.52 C481.04,683.54 481.77,687.12 482.02,687.88 C482.27,688.65 483,690.87 483.25,690.18 C483.49,689.49 484.23,681.98 484.47,680.98 C484.72,679.99 485.44,679.91 485.7,680.22 C485.96,680.52 486.79,683.28 487.08,684.05 C487.37,684.82 488.3,687.15 488.61,687.88 C488.92,688.62 489.84,691.18 490.14,691.41 C490.45,691.64 491.37,690.64 491.68,690.18 C491.98,689.72 492.9,686.73 493.21,686.81 C493.52,686.89 494.36,690.38 494.74,690.95 C495.13,691.51 496.51,692.25 497.04,692.48 C497.58,692.71 499.42,693.09 500.11,693.25 C500.8,693.4 503.17,693.78 503.94,694.01 C504.71,694.24 507,695.24 507.77,695.55 C508.54,695.85 510.84,696.82 511.6,697.08 C512.37,697.34 514.67,698 515.44,698.15 C516.2,698.3 518.58,698.8 519.27,698.61 C519.96,698.43 521.83,697.39 522.33,696.31 C522.84,695.24 523.97,689.03 524.33,687.88 C524.68,686.73 525.55,684.59 525.86,684.82 C526.16,685.05 527.05,689.26 527.39,690.18 C527.73,691.1 529.05,693.63 529.23,694.01" fill="none" stroke="#5c9fdd" stroke-width="1.5" stroke-linejoin="round" stroke-linecap="butt"/>
<path d="M428.37,731.87 C428.8,732 431.77,732.82 432.66,733.1 C433.55,733.38 436.34,734.36 437.26,734.63 C438.18,734.91 441.02,735.63 441.86,735.86 C442.7,736.09 445.11,736.98 445.69,736.93 C446.28,736.89 447.33,736.55 447.69,735.4 C448.04,734.25 448.94,727.12 449.22,725.44 C449.49,723.75 450.18,718.84 450.44,718.54 C450.71,718.23 451.52,721.3 451.82,722.37 C452.13,723.44 453.19,729.65 453.51,729.27 C453.83,728.88 454.77,720.02 455.04,718.54 C455.32,717.05 455.99,714.4 456.27,714.4 C456.55,714.4 457.43,717.43 457.8,718.54 C458.17,719.64 459.58,725.97 459.95,725.44 C460.32,724.9 461.17,715.29 461.48,713.17 C461.79,711.06 462.71,704.44 463.01,704.28 C463.32,704.13 464.18,709.98 464.55,711.64 C464.91,713.3 466.2,719.23 466.69,720.84 C467.18,722.45 468.79,726.58 469.45,727.73 C470.11,728.88 472.44,731.64 473.28,732.33 C474.13,733.02 476.89,734.28 477.88,734.63 C478.88,734.98 482.1,735.67 483.25,735.86 C484.4,736.04 488.23,736.36 489.38,736.47 C490.53,736.58 493.9,736.93 494.74,736.93 C495.59,736.93 497.35,737.16 497.81,736.47 C498.27,735.78 499.08,731.01 499.34,730.03 C499.6,729.05 500.15,726.66 500.41,726.66 C500.67,726.66 501.61,729.27 501.95,730.03 C502.28,730.8 503.45,734.63 503.79,734.33 C504.12,734.02 505.04,728.04 505.32,726.97 C505.59,725.9 506.27,723.75 506.55,723.6 C506.82,723.44 507.77,724.98 508.08,725.44 C508.38,725.9 509.33,729.27 509.61,728.19 C509.89,727.12 510.59,717.4 510.84,714.71 C511.08,712.01 511.79,701.52 512.06,701.22 C512.34,700.91 513.26,709.91 513.6,711.64 C513.93,713.37 515.02,717.23 515.44,718.54 C515.85,719.84 517.2,723.52 517.73,724.67 C518.27,725.82 520.19,729.19 520.8,730.03 C521.41,730.88 523.25,732.56 523.87,733.1 C524.48,733.64 526.62,735.17 526.93,735.4" fill="none" stroke="#f0727f" stroke-width="1.5" stroke-linejoin="round" stroke-linecap="butt"/>
<path d="M428.37,760.29 C428.8,760.49 431.77,761.9 432.66,762.28 C433.55,762.67 436.5,763.91 437.26,764.12 C438.03,764.34 439.87,764.51 440.33,764.43 C440.79,764.35 441.52,763.2 441.86,763.36 C442.2,763.51 443.24,765.81 443.7,765.96 C444.16,766.12 446,765.3 446.46,764.89 C446.92,764.48 447.99,762.67 448.3,761.82 C448.61,760.98 449.28,757.12 449.52,756.46 C449.77,755.8 450.48,755.08 450.75,755.23 C451.03,755.39 451.98,757.49 452.28,757.99 C452.59,758.5 453.54,760.9 453.82,760.29 C454.09,759.68 454.78,753.04 455.04,751.86 C455.3,750.68 456.15,748.34 456.42,748.49 C456.7,748.64 457.51,752.32 457.8,753.39 C458.09,754.47 459.06,758.48 459.33,759.22 C459.61,759.95 460.32,761.72 460.56,760.75 C460.81,759.79 461.51,751.14 461.79,749.56 C462.06,747.98 463.04,744.89 463.32,744.96 C463.6,745.04 464.27,748.87 464.55,750.33 C464.82,751.78 465.71,758.53 466.08,759.52 C466.45,760.52 467.81,760.29 468.23,760.29 C468.64,760.29 469.79,759.48 470.22,759.52 C470.65,759.57 472.06,760.57 472.52,760.75 C472.98,760.94 474.39,761.41 474.82,761.36 C475.25,761.32 476.43,760.09 476.81,760.29 C477.19,760.49 478.23,762.97 478.65,763.36 C479.06,763.74 480.41,763.92 480.95,764.12 C481.48,764.32 483.48,765.32 484.01,765.35 C484.55,765.38 485.78,764.48 486.31,764.43 C486.85,764.38 488.76,764.69 489.38,764.89 C489.99,765.09 491.95,766.38 492.44,766.42 C492.93,766.47 493.9,765.24 494.28,765.35 C494.67,765.46 495.85,767.46 496.28,767.5 C496.7,767.53 498.22,767.07 498.57,765.66 C498.93,764.25 499.59,755.42 499.8,753.39 C500.02,751.37 500.48,745.85 500.72,745.42 C500.97,744.99 501.95,748.49 502.25,749.1 C502.56,749.71 503.54,752.2 503.79,751.55 C504.03,750.91 504.49,743.94 504.71,742.66 C504.92,741.39 505.66,738.91 505.93,738.83 C506.21,738.76 507.16,741.21 507.46,741.9 C507.77,742.59 508.72,744.61 509,745.73 C509.27,746.85 510.01,753.24 510.22,753.09 C510.44,752.93 510.93,745.52 511.14,744.2 C511.36,742.88 512.12,739.9 512.37,739.9 C512.61,739.9 513.37,742.69 513.6,744.2 C513.83,745.7 514.45,753.01 514.67,754.93 C514.88,756.84 515.44,762.74 515.74,763.36 C516.05,763.97 517.31,761.21 517.73,761.06 C518.16,760.9 519.5,761.52 520.03,761.82 C520.57,762.13 522.49,763.66 523.1,764.12 C523.71,764.58 525.63,766.12 526.16,766.42 C526.7,766.73 528.23,767.11 528.46,767.19" fill="none" stroke="#db559f" stroke-width="1.5" stroke-linejoin="round" stroke-linecap="butt"/>
<path d="M428.37,794.01 C428.53,793.63 429.6,790.87 429.9,790.18 C430.21,789.49 431.13,787.04 431.44,787.12 C431.74,787.19 432.63,790.18 432.97,790.95 C433.31,791.71 434.46,794.86 434.81,794.78 C435.16,794.7 436.17,790.79 436.5,790.18 C436.82,789.57 437.72,788.19 438.03,788.65 C438.34,789.11 439.26,793.63 439.56,794.78 C439.87,795.93 440.79,800.3 441.09,800.14 C441.4,799.99 442.37,794.24 442.63,793.25 C442.89,792.25 443.44,789.95 443.7,790.18 C443.96,790.41 444.93,794.32 445.23,795.55 C445.54,796.77 446.46,802.21 446.77,802.44 C447.07,802.67 448.02,798.07 448.3,797.84 C448.57,797.61 449.22,799.76 449.52,800.14 C449.83,800.53 450.9,801.6 451.36,801.68 C451.82,801.75 453.54,801.14 454.12,800.91 C454.71,800.68 456.61,799.91 457.19,799.38 C457.77,798.84 459.46,796.62 459.95,795.55 C460.44,794.47 461.68,790.56 462.09,788.65 C462.51,786.73 463.72,778.61 464.09,776.39 C464.45,774.16 465.45,766.88 465.77,766.42 C466.09,765.96 466.97,770.33 467.31,771.79 C467.64,773.24 468.81,779.3 469.14,780.98 C469.48,782.67 470.37,788.26 470.68,788.65 C470.98,789.03 471.9,784.89 472.21,784.82 C472.52,784.74 473.44,787.16 473.74,787.88 C474.05,788.6 474.97,791.94 475.28,792.02 C475.58,792.1 476.5,788.45 476.81,788.65 C477.12,788.85 478.03,792.94 478.34,794.01 C478.65,795.09 479.57,799.38 479.87,799.38 C480.18,799.38 481.15,794.93 481.41,794.01 C481.67,793.09 482.22,790.18 482.48,790.18 C482.74,790.18 483.71,793.17 484.01,794.01 C484.32,794.86 485.24,798.61 485.55,798.61 C485.85,798.61 486.82,794.86 487.08,794.01 C487.34,793.17 487.84,790.26 488.15,790.18 C488.46,790.1 489.71,792.48 490.14,793.25 C490.57,794.01 491.98,797.08 492.44,797.84 C492.9,798.61 494.36,801.06 494.74,800.91 C495.13,800.76 495.92,797.16 496.28,796.31 C496.63,795.47 497.88,792.48 498.27,792.48 C498.65,792.48 499.69,795.55 500.11,796.31 C500.52,797.08 501.95,799.56 502.41,800.14 C502.87,800.73 504.17,801.98 504.71,802.14 C505.24,802.29 507.23,802.11 507.77,801.68 C508.31,801.25 509.64,798.99 510.07,797.84 C510.5,796.7 511.68,792.33 512.06,790.18 C512.45,788.03 513.6,778.45 513.9,776.39 C514.21,774.32 514.85,769.56 515.13,769.49 C515.4,769.41 516.32,774.32 516.66,775.62 C517,776.92 518.19,781.37 518.5,782.52 C518.81,783.67 519.45,787.19 519.73,787.12 C520,787.04 520.98,781.75 521.26,781.75 C521.54,781.75 522.23,786.04 522.49,787.12 C522.75,788.19 523.57,792.4 523.87,792.48 C524.16,792.56 525.09,788.49 525.4,787.88 C525.71,787.27 526.78,786.5 526.93,786.35" fill="none" stroke="#a96fba" stroke-width="1.5" stroke-linejoin="round" stroke-linecap="butt"/>
<path d="M428.37,812.41 C428.72,812.87 431.16,816.16 431.9,817 C432.63,817.85 434.96,820.15 435.73,820.84 C436.5,821.53 438.8,823.41 439.56,823.9 C440.33,824.39 442.63,825.36 443.39,825.74 C444.16,826.13 446.46,827.43 447.23,827.73 C447.99,828.04 450.44,828.7 451.06,828.81 C451.67,828.91 452.9,828.99 453.36,828.81 C453.82,828.62 455.24,827.61 455.66,826.97 C456.07,826.32 457.16,823.37 457.5,822.37 C457.83,821.37 458.63,817.62 459.03,817 C459.43,816.39 461.08,817.23 461.48,816.24 C461.88,815.24 462.71,808.73 463.01,807.04 C463.32,805.36 464.27,800.45 464.55,799.38 C464.82,798.3 465.47,796.16 465.77,796.31 C466.08,796.47 467.17,799.84 467.61,800.91 C468.06,801.98 469.65,805.74 470.22,807.04 C470.78,808.34 472.59,812.64 473.28,813.94 C473.97,815.24 476.35,819 477.12,820.07 C477.88,821.14 480.1,823.98 480.95,824.67 C481.79,825.36 484.7,826.62 485.55,826.97 C486.39,827.32 488.69,827.86 489.38,828.19 C490.07,828.53 491.75,829.97 492.44,830.34 C493.13,830.71 495.51,831.72 496.28,831.87 C497.04,832.03 499.34,831.98 500.11,831.87 C500.87,831.77 503.25,831.21 503.94,830.8 C504.63,830.39 506.5,828.42 507,827.73 C507.51,827.04 508.58,824.41 509,823.9 C509.41,823.4 510.78,823.29 511.14,822.68 C511.51,822.06 512.4,819.18 512.68,817.77 C512.95,816.36 513.66,809.88 513.9,808.57 C514.15,807.27 514.82,804.74 515.13,804.74 C515.44,804.74 516.55,807.73 516.97,808.57 C517.38,809.42 518.73,812.18 519.27,813.17 C519.8,814.17 521.64,817.46 522.33,818.54 C523.02,819.61 525.78,823.37 526.16,823.9" fill="none" stroke="#8d86c6" stroke-width="1.5" stroke-linejoin="round" stroke-linecap="butt"/>
<line x1="428.4" y1="639.6" x2="428.4" y2="836.2" stroke="#222" stroke-width="0.6"/>
<line x1="428.4" y1="836.2" x2="527.6" y2="836.2" stroke="#222" stroke-width="0.6"/>
<line x1="441.6" y1="834.4" x2="441.6" y2="836.2" stroke="#222" stroke-width="0.6"/>
<text x="441.6" y="844.8" font-size="7.2" text-anchor="middle">12</text>
<line x1="453.8" y1="834.4" x2="453.8" y2="836.2" stroke="#222" stroke-width="0.6"/>
<line x1="466.1" y1="834.4" x2="466.1" y2="836.2" stroke="#222" stroke-width="0.6"/>
<text x="466.1" y="844.8" font-size="7.2" text-anchor="middle">36</text>
<line x1="478.6" y1="834.4" x2="478.6" y2="836.2" stroke="#222" stroke-width="0.6"/>
<line x1="491.2" y1="834.4" x2="491.2" y2="836.2" stroke="#222" stroke-width="0.6"/>
<text x="491.2" y="844.8" font-size="7.2" text-anchor="middle">60</text>
<line x1="503.5" y1="834.4" x2="503.5" y2="836.2" stroke="#222" stroke-width="0.6"/>
<line x1="515.7" y1="834.4" x2="515.7" y2="836.2" stroke="#222" stroke-width="0.6"/>
<text x="515.7" y="844.8" font-size="7.2" text-anchor="middle">84</text>
<text x="479.8" y="855" font-size="8.6" text-anchor="middle">Time (s)</text>
<text x="424.8" y="767" font-size="8.7" text-anchor="middle" transform="rotate(-90 424.8 767)">GCaMP (<tspan font-style="italic">z</tspan> scored)</text>
<text x="412.6" y="826.5" font-size="8.5" text-anchor="middle" transform="rotate(-90 412.6 826.5)">Scale bar</text>
<path d="M420.3,824.6 H418.6 V834.6 H420.3" fill="none" stroke="#222" stroke-width="0.6"/>
<text x="421.2" y="827.2" font-size="7">1</text>
<text x="421.2" y="837.6" font-size="7">0</text>
<circle cx="539.3" cy="648.6" r="8.2" fill="#e8412f"/>
<text x="539.3" y="651.2" font-size="7.2" text-anchor="middle" fill="#222">RIM</text>
<circle cx="539.3" cy="683.4" r="8.2" fill="#5c9fdd"/>
<text x="539.3" y="686" font-size="7.2" text-anchor="middle" fill="#222">SMB</text>
<circle cx="539.3" cy="721.4" r="8.2" fill="#f0727f"/>
<text x="539.3" y="724" font-size="7.2" text-anchor="middle" fill="#222">SAA</text>
<circle cx="539.3" cy="759" r="8.2" fill="#db559f"/>
<text x="539.3" y="761.6" font-size="7.2" text-anchor="middle" fill="#222">RMD</text>
<circle cx="539.3" cy="795" r="8.2" fill="#a96fba"/>
<text x="539.3" y="797.6" font-size="7.2" text-anchor="middle" fill="#222">SMD</text>
<circle cx="539.3" cy="828.5" r="8.2" fill="#8d86c6"/>
<text x="539.3" y="831.1" font-size="7.2" text-anchor="middle" fill="#222">RIV</text>
<text x="575.9" y="631.5" font-size="7.8" text-anchor="middle">Activity varies with:</text>
<text x="647.6" y="631.5" font-size="7.8" text-anchor="middle">Causally affects:</text>
<rect x="550.1" y="635.6" width="56.5" height="22" fill="#fff" stroke="#ed6a5c" stroke-width="0.75"/><text x="553" y="644.09" font-size="7.6" fill="#222">Reversal length</text><text x="553" y="652.84" font-size="7.6" fill="#222">Reversal speed</text>
<rect x="550.1" y="660.2" width="54.1" height="38.4" fill="#fff" stroke="#7fb4e4" stroke-width="0.75"/><text x="553" y="668.14" font-size="7.6" fill="#222">Postreversal</text><text x="553" y="676.89" font-size="7.6" fill="#222">turn direction</text><text x="553" y="685.64" font-size="7.6" fill="#222">Sensory cues</text><text x="553" y="694.39" font-size="7.6" fill="#222">Head bending</text>
<rect x="550.1" y="701.8" width="54.1" height="37.6" fill="#fff" stroke="#f3919b" stroke-width="0.75"/><text x="553" y="709.33" font-size="7.6" fill="#222">Postreversal</text><text x="553" y="718.08" font-size="7.6" fill="#222">turn direction</text><text x="553" y="726.83" font-size="7.6" fill="#222">Sensory cues</text><text x="553" y="735.58" font-size="7.6" fill="#222">Head bending</text>
<rect x="550.1" y="743.5" width="54.1" height="27.8" fill="#fff" stroke="#e27ab4" stroke-width="0.75"/><text x="553" y="750.51" font-size="7.6" fill="#222">Postreversal</text><text x="553" y="759.26" font-size="7.6" fill="#222">turn direction</text><text x="553" y="768.01" font-size="7.6" fill="#222">Head bending</text>
<rect x="550.1" y="775.4" width="54.1" height="36.8" fill="#fff" stroke="#bb8ec9" stroke-width="0.75"/><text x="553" y="782.53" font-size="7.6" fill="#222">Postreversal</text><text x="553" y="791.28" font-size="7.6" fill="#222">turn direction</text><text x="553" y="800.03" font-size="7.6" fill="#222">Turn angle</text><text x="553" y="808.78" font-size="7.6" fill="#222">Head bending</text>
<rect x="550.1" y="816.2" width="54.1" height="37" fill="#fff" stroke="#a6a0d2" stroke-width="0.75"/><text x="553" y="823.44" font-size="7.6" fill="#222">Postreversal</text><text x="553" y="832.19" font-size="7.6" fill="#222">turn direction</text><text x="553" y="840.94" font-size="7.6" fill="#222">Turn angle</text><text x="553" y="849.69" font-size="7.6" fill="#222">Head bending</text>
<rect x="611.5" y="635.6" width="67.5" height="22" fill="#fff" stroke="#ed6a5c" stroke-width="0.75"/><text x="614" y="644.09" font-size="7.6" fill="#222">Reversal inititation</text><text x="614" y="652.84" font-size="7.6" fill="#222">Chemotaxis</text>
<rect x="611.5" y="669.9" width="73.1" height="19.7" fill="#fff" stroke="#7fb4e4" stroke-width="0.75"/><text x="613.8" y="678.01" font-size="7.6" fill="#222">Reversal termination</text><text x="613.8" y="685.21" font-size="7.6" fill="#222">Turn angle</text>
<rect x="611.5" y="701.8" width="73.1" height="37.6" fill="#fff" stroke="#f3919b" stroke-width="0.75"/><text x="613.8" y="709.33" font-size="7.6" fill="#222">Reversal termination</text><text x="613.8" y="718.08" font-size="7.6" fill="#222">Turn angle</text><text x="613.8" y="726.83" font-size="7.6" fill="#222">Head curvature</text><text x="613.8" y="735.58" font-size="7.6" fill="#222">Chemotaxis</text>
<rect x="611.5" y="771.4" width="73.1" height="44" fill="#fff" stroke="#bb8ec9" stroke-width="0.75"/><text x="613.8" y="777.76" font-size="7.6" fill="#222">Reversal termination</text><text x="613.8" y="786.51" font-size="7.6" fill="#222">Forward inititation</text><text x="613.8" y="795.26" font-size="7.6" fill="#222">Turn angle</text><text x="613.8" y="804.01" font-size="7.6" fill="#222">Head curvature</text><text x="613.8" y="812.76" font-size="7.6" fill="#222">Chemotaxis</text>
<rect x="611.5" y="824.4" width="72.5" height="18.5" fill="#fff" stroke="#a6a0d2" stroke-width="0.75"/><text x="614.5" y="831.91" font-size="7.6" fill="#222">Head curvature</text><text x="614.5" y="839.11" font-size="7.6" fill="#222">Turn angle</text>
</svg>
</body></html>
